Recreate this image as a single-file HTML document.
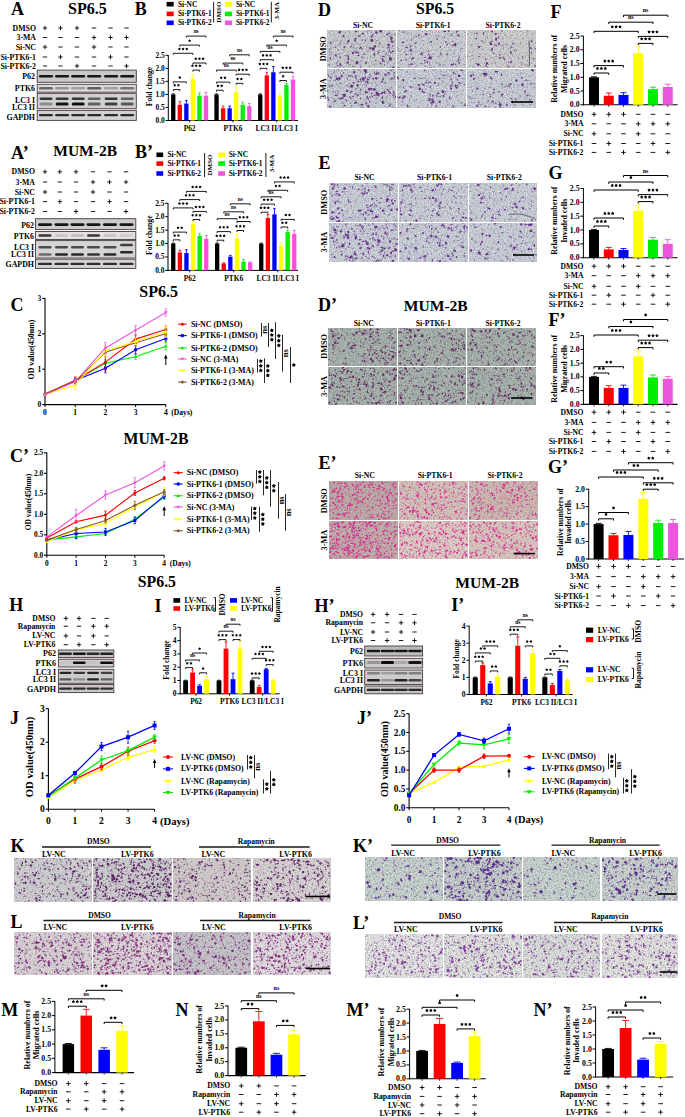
<!DOCTYPE html>
<html><head><meta charset="utf-8"><style>
html,body{margin:0;padding:0;background:#fff;}
svg{display:block;}
svg text{font-family:"Liberation Serif",serif;font-weight:bold;}
</style></head><body>
<svg width="685" height="1117" viewBox="0 0 685 1117">
<defs><path id="s1" d="M0.00 -1.55L0.56 -0.78L1.47 -0.48L0.91 0.30L0.91 1.25L0.00 0.96L-0.91 1.25L-0.91 0.30L-1.47 -0.48L-0.56 -0.78z"/><path id="s2" d="M0.00 -1.75L0.64 -0.88L1.66 -0.54L1.03 0.34L1.03 1.42L0.00 1.08L-1.03 1.42L-1.03 0.34L-1.66 -0.54L-0.64 -0.88z"/><path id="s3" d="M0.00 -2.15L0.78 -1.08L2.04 -0.66L1.27 0.41L1.26 1.74L0.00 1.33L-1.26 1.74L-1.27 0.41L-2.04 -0.66L-0.78 -1.08z"/>
<filter id="bl" x="-20%" y="-80%" width="140%" height="260%"><feGaussianBlur stdDeviation="0.5"/></filter>
<filter id="spk" x="0" y="0" width="100%" height="100%" color-interpolation-filters="sRGB"><feTurbulence type="fractalNoise" baseFrequency="0.95" numOctaves="2" seed="3"/><feColorMatrix type="matrix" values="0 0 0 0 .16  0 0 0 0 .18  0 0 0 0 .24  .75 0 0 0 -.13"/></filter>
<filter id="fs" x="0" y="0" width="100%" height="100%" color-interpolation-filters="sRGB"><feTurbulence type="fractalNoise" baseFrequency="0.45" numOctaves="2" seed="7"/><feColorMatrix type="matrix" values="0 0 0 0 0  0 0 0 0 0  0 0 0 0 0  5 0 0 0 -2.9" result="m"/><feComposite in="SourceGraphic" in2="m" operator="in"/></filter>
<filter id="cb" x="-5%" y="-5%" width="110%" height="110%"><feGaussianBlur stdDeviation="0.3"/></filter>
</defs>
<rect width="685" height="1117" fill="#fff"/>
<text x="11" y="15" font-size="18" text-anchor="start" fill="#000">A</text>
<text x="68" y="14" font-size="16" text-anchor="start" fill="#000">SP6.5</text>
<text x="36" y="30.57" font-size="7.8" text-anchor="end" fill="#000">DMSO</text>
<text x="36" y="40.07" font-size="7.8" text-anchor="end" fill="#000">3-MA</text>
<text x="36" y="49.57" font-size="7.8" text-anchor="end" fill="#000">Si-NC</text>
<text x="36" y="59.57" font-size="7.8" text-anchor="end" fill="#000">Si-PTK6-1</text>
<text x="36" y="68.57" font-size="7.8" text-anchor="end" fill="#000">Si-PTK6-2</text>
<path d="M42.8 28h4.4M45 25.8v4.4" stroke="#000" stroke-width="0.9"/>
<path d="M58.3 28h4.4M60.5 25.8v4.4" stroke="#000" stroke-width="0.9"/>
<path d="M74.8 28h4.4M77 25.8v4.4" stroke="#000" stroke-width="0.9"/>
<path d="M91.8 28h4.4" stroke="#000" stroke-width="0.9"/>
<path d="M108.3 28h4.4" stroke="#000" stroke-width="0.9"/>
<path d="M124.3 28h4.4" stroke="#000" stroke-width="0.9"/>
<path d="M42.8 37.5h4.4" stroke="#000" stroke-width="0.9"/>
<path d="M58.3 37.5h4.4" stroke="#000" stroke-width="0.9"/>
<path d="M74.8 37.5h4.4" stroke="#000" stroke-width="0.9"/>
<path d="M91.8 37.5h4.4M94 35.3v4.4" stroke="#000" stroke-width="0.9"/>
<path d="M108.3 37.5h4.4M110.5 35.3v4.4" stroke="#000" stroke-width="0.9"/>
<path d="M124.3 37.5h4.4M126.5 35.3v4.4" stroke="#000" stroke-width="0.9"/>
<path d="M42.8 47h4.4M45 44.8v4.4" stroke="#000" stroke-width="0.9"/>
<path d="M58.3 47h4.4" stroke="#000" stroke-width="0.9"/>
<path d="M74.8 47h4.4" stroke="#000" stroke-width="0.9"/>
<path d="M91.8 47h4.4M94 44.8v4.4" stroke="#000" stroke-width="0.9"/>
<path d="M108.3 47h4.4" stroke="#000" stroke-width="0.9"/>
<path d="M124.3 47h4.4" stroke="#000" stroke-width="0.9"/>
<path d="M42.8 57h4.4" stroke="#000" stroke-width="0.9"/>
<path d="M58.3 57h4.4M60.5 54.8v4.4" stroke="#000" stroke-width="0.9"/>
<path d="M74.8 57h4.4" stroke="#000" stroke-width="0.9"/>
<path d="M91.8 57h4.4" stroke="#000" stroke-width="0.9"/>
<path d="M108.3 57h4.4M110.5 54.8v4.4" stroke="#000" stroke-width="0.9"/>
<path d="M124.3 57h4.4" stroke="#000" stroke-width="0.9"/>
<path d="M42.8 66h4.4" stroke="#000" stroke-width="0.9"/>
<path d="M58.3 66h4.4" stroke="#000" stroke-width="0.9"/>
<path d="M74.8 66h4.4M77 63.8v4.4" stroke="#000" stroke-width="0.9"/>
<path d="M91.8 66h4.4" stroke="#000" stroke-width="0.9"/>
<path d="M108.3 66h4.4" stroke="#000" stroke-width="0.9"/>
<path d="M124.3 66h4.4M126.5 63.8v4.4" stroke="#000" stroke-width="0.9"/>
<rect x="37.2" y="70.1" width="99.1" height="12.2" fill="#c8c8c8" stroke="#4a3a3a" stroke-width="0.9"/>
<rect x="38.98" y="74.9" width="14.04" height="2.6" rx="1.3" fill="rgb(25,25,25)" filter="url(#bl)"/>
<rect x="55.08" y="74.9" width="14.04" height="2.6" rx="1.3" fill="rgb(25,25,25)" filter="url(#bl)"/>
<rect x="71.18" y="74.9" width="14.04" height="2.6" rx="1.3" fill="rgb(25,25,25)" filter="url(#bl)"/>
<rect x="87.18" y="74.9" width="14.04" height="2.6" rx="1.3" fill="rgb(25,25,25)" filter="url(#bl)"/>
<rect x="104.08" y="74.9" width="14.04" height="2.6" rx="1.3" fill="rgb(25,25,25)" filter="url(#bl)"/>
<rect x="120.18" y="74.9" width="14.04" height="2.6" rx="1.3" fill="rgb(25,25,25)" filter="url(#bl)"/>
<rect x="37.2" y="84.3" width="99.1" height="7.9" fill="#ddd6d6" stroke="#4a3a3a" stroke-width="0.9"/>
<rect x="38.98" y="87" width="14.04" height="2.6" rx="1.3" fill="rgb(107,107,107)" filter="url(#bl)"/>
<rect x="55.08" y="87" width="14.04" height="2.6" rx="1.3" fill="rgb(150,150,150)" filter="url(#bl)"/>
<rect x="71.18" y="87" width="14.04" height="2.6" rx="1.3" fill="rgb(161,161,161)" filter="url(#bl)"/>
<rect x="87.18" y="87" width="14.04" height="2.6" rx="1.3" fill="rgb(96,96,96)" filter="url(#bl)"/>
<rect x="104.08" y="87" width="14.04" height="2.6" rx="1.3" fill="rgb(161,161,161)" filter="url(#bl)"/>
<rect x="120.18" y="87" width="14.04" height="2.6" rx="1.3" fill="rgb(118,118,118)" filter="url(#bl)"/>
<rect x="37.2" y="93.3" width="99.1" height="15.4" fill="#d0d0d0" stroke="#4a3a3a" stroke-width="0.9"/>
<rect x="39.52" y="97.5" width="12.96" height="2.4" rx="1.2" fill="rgb(53,53,53)" filter="url(#bl)"/>
<rect x="55.62" y="97.5" width="12.96" height="2.4" rx="1.2" fill="rgb(53,53,53)" filter="url(#bl)"/>
<rect x="71.72" y="97.5" width="12.96" height="2.4" rx="1.2" fill="rgb(53,53,53)" filter="url(#bl)"/>
<rect x="87.72" y="97.5" width="12.96" height="2.4" rx="1.2" fill="rgb(96,96,96)" filter="url(#bl)"/>
<rect x="104.62" y="97.5" width="12.96" height="2.4" rx="1.2" fill="rgb(53,53,53)" filter="url(#bl)"/>
<rect x="120.72" y="97.5" width="12.96" height="2.4" rx="1.2" fill="rgb(96,96,96)" filter="url(#bl)"/>
<rect x="39.52" y="102.5" width="12.96" height="3" rx="1.5" fill="rgb(139,139,139)" filter="url(#bl)"/>
<rect x="55.62" y="102.5" width="12.96" height="3" rx="1.5" fill="rgb(25,25,25)" filter="url(#bl)"/>
<rect x="71.72" y="102.5" width="12.96" height="3" rx="1.5" fill="rgb(17,17,17)" filter="url(#bl)"/>
<rect x="87.72" y="102.5" width="12.96" height="3" rx="1.5" fill="rgb(96,96,96)" filter="url(#bl)"/>
<rect x="104.62" y="102.5" width="12.96" height="3" rx="1.5" fill="rgb(64,64,64)" filter="url(#bl)"/>
<rect x="120.72" y="102.5" width="12.96" height="3" rx="1.5" fill="rgb(86,86,86)" filter="url(#bl)"/>
<rect x="37.2" y="110.4" width="99.1" height="10" fill="#d2d2d2" stroke="#4a3a3a" stroke-width="0.9"/>
<rect x="38.98" y="113.9" width="14.04" height="2.4" rx="1.2" fill="rgb(42,42,42)" filter="url(#bl)"/>
<rect x="55.08" y="113.9" width="14.04" height="2.4" rx="1.2" fill="rgb(42,42,42)" filter="url(#bl)"/>
<rect x="71.18" y="113.9" width="14.04" height="2.4" rx="1.2" fill="rgb(42,42,42)" filter="url(#bl)"/>
<rect x="87.18" y="113.9" width="14.04" height="2.4" rx="1.2" fill="rgb(42,42,42)" filter="url(#bl)"/>
<rect x="104.08" y="113.9" width="14.04" height="2.4" rx="1.2" fill="rgb(42,42,42)" filter="url(#bl)"/>
<rect x="120.18" y="113.9" width="14.04" height="2.4" rx="1.2" fill="rgb(42,42,42)" filter="url(#bl)"/>
<text x="35" y="79.21" font-size="7.9" text-anchor="end" fill="#000">P62</text>
<text x="35" y="91.31" font-size="7.9" text-anchor="end" fill="#000">PTK6</text>
<text x="35" y="102.91" font-size="7.9" text-anchor="end" fill="#000">LC3 I</text>
<text x="35" y="110.11" font-size="7.9" text-anchor="end" fill="#000">LC3 II</text>
<text x="35" y="119.71" font-size="7.9" text-anchor="end" fill="#000">GAPDH</text>
<text x="11" y="158.6" font-size="18" text-anchor="start" fill="#000">A’</text>
<text x="53.3" y="155.6" font-size="15.5" text-anchor="start" fill="#000">MUM-2B</text>
<text x="35" y="174.37" font-size="7.8" text-anchor="end" fill="#000">DMSO</text>
<text x="35" y="184.57" font-size="7.8" text-anchor="end" fill="#000">3-MA</text>
<text x="35" y="194.57" font-size="7.8" text-anchor="end" fill="#000">Si-NC</text>
<text x="35" y="204.17" font-size="7.8" text-anchor="end" fill="#000">Si-PTK6-1</text>
<text x="35" y="214.07" font-size="7.8" text-anchor="end" fill="#000">Si-PTK6-2</text>
<path d="M42.8 171.8h4.4M45 169.6v4.4" stroke="#000" stroke-width="0.9"/>
<path d="M57.6 171.8h4.4M59.8 169.6v4.4" stroke="#000" stroke-width="0.9"/>
<path d="M73.8 171.8h4.4M76 169.6v4.4" stroke="#000" stroke-width="0.9"/>
<path d="M90.8 171.8h4.4" stroke="#000" stroke-width="0.9"/>
<path d="M107.3 171.8h4.4" stroke="#000" stroke-width="0.9"/>
<path d="M123.8 171.8h4.4" stroke="#000" stroke-width="0.9"/>
<path d="M42.8 182h4.4" stroke="#000" stroke-width="0.9"/>
<path d="M57.6 182h4.4" stroke="#000" stroke-width="0.9"/>
<path d="M73.8 182h4.4" stroke="#000" stroke-width="0.9"/>
<path d="M90.8 182h4.4M93 179.8v4.4" stroke="#000" stroke-width="0.9"/>
<path d="M107.3 182h4.4M109.5 179.8v4.4" stroke="#000" stroke-width="0.9"/>
<path d="M123.8 182h4.4M126 179.8v4.4" stroke="#000" stroke-width="0.9"/>
<path d="M42.8 192h4.4M45 189.8v4.4" stroke="#000" stroke-width="0.9"/>
<path d="M57.6 192h4.4" stroke="#000" stroke-width="0.9"/>
<path d="M73.8 192h4.4" stroke="#000" stroke-width="0.9"/>
<path d="M90.8 192h4.4M93 189.8v4.4" stroke="#000" stroke-width="0.9"/>
<path d="M107.3 192h4.4" stroke="#000" stroke-width="0.9"/>
<path d="M123.8 192h4.4" stroke="#000" stroke-width="0.9"/>
<path d="M42.8 201.6h4.4" stroke="#000" stroke-width="0.9"/>
<path d="M57.6 201.6h4.4M59.8 199.4v4.4" stroke="#000" stroke-width="0.9"/>
<path d="M73.8 201.6h4.4" stroke="#000" stroke-width="0.9"/>
<path d="M90.8 201.6h4.4" stroke="#000" stroke-width="0.9"/>
<path d="M107.3 201.6h4.4M109.5 199.4v4.4" stroke="#000" stroke-width="0.9"/>
<path d="M123.8 201.6h4.4" stroke="#000" stroke-width="0.9"/>
<path d="M42.8 211.5h4.4" stroke="#000" stroke-width="0.9"/>
<path d="M57.6 211.5h4.4" stroke="#000" stroke-width="0.9"/>
<path d="M73.8 211.5h4.4M76 209.3v4.4" stroke="#000" stroke-width="0.9"/>
<path d="M90.8 211.5h4.4" stroke="#000" stroke-width="0.9"/>
<path d="M107.3 211.5h4.4" stroke="#000" stroke-width="0.9"/>
<path d="M123.8 211.5h4.4M126 209.3v4.4" stroke="#000" stroke-width="0.9"/>
<rect x="35.5" y="218.7" width="100.3" height="10.9" fill="#cccccc" stroke="#4a3a3a" stroke-width="0.9"/>
<rect x="37.98" y="223.2" width="14.04" height="2.8" rx="1.4" fill="rgb(25,25,25)" filter="url(#bl)"/>
<rect x="54.48" y="223.2" width="14.04" height="2.8" rx="1.4" fill="rgb(25,25,25)" filter="url(#bl)"/>
<rect x="70.48" y="223.2" width="14.04" height="2.8" rx="1.4" fill="rgb(25,25,25)" filter="url(#bl)"/>
<rect x="86.48" y="223.2" width="14.04" height="2.8" rx="1.4" fill="rgb(25,25,25)" filter="url(#bl)"/>
<rect x="102.98" y="223.2" width="14.04" height="2.8" rx="1.4" fill="rgb(25,25,25)" filter="url(#bl)"/>
<rect x="119.48" y="223.2" width="14.04" height="2.8" rx="1.4" fill="rgb(25,25,25)" filter="url(#bl)"/>
<rect x="35.5" y="231.5" width="100.3" height="8" fill="#e2e0e0" stroke="#4a3a3a" stroke-width="0.9"/>
<rect x="38.52" y="234.3" width="12.96" height="2.4" rx="1.2" fill="rgb(53,53,53)" filter="url(#bl)"/>
<rect x="55.02" y="234.3" width="12.96" height="2.4" rx="1.2" fill="rgb(197,197,197)" filter="url(#bl)"/>
<rect x="71.02" y="234.3" width="12.96" height="2.4" rx="1.2" fill="rgb(189,189,189)" filter="url(#bl)"/>
<rect x="87.02" y="234.3" width="12.96" height="2.4" rx="1.2" fill="rgb(53,53,53)" filter="url(#bl)"/>
<rect x="103.52" y="234.3" width="12.96" height="2.4" rx="1.2" fill="rgb(197,197,197)" filter="url(#bl)"/>
<rect x="120.02" y="234.3" width="12.96" height="2.4" rx="1.2" fill="rgb(204,204,204)" filter="url(#bl)"/>
<rect x="35.5" y="240.6" width="100.3" height="17.4" fill="#d4d4d4" stroke="#4a3a3a" stroke-width="0.9"/>
<rect x="38.52" y="246" width="12.96" height="2.4" rx="1.2" fill="rgb(75,75,75)" filter="url(#bl)"/>
<rect x="55.02" y="246" width="12.96" height="2.4" rx="1.2" fill="rgb(75,75,75)" filter="url(#bl)"/>
<rect x="71.02" y="246" width="12.96" height="2.4" rx="1.2" fill="rgb(75,75,75)" filter="url(#bl)"/>
<rect x="87.02" y="246" width="12.96" height="2.4" rx="1.2" fill="rgb(75,75,75)" filter="url(#bl)"/>
<rect x="103.52" y="246" width="12.96" height="2.4" rx="1.2" fill="rgb(75,75,75)" filter="url(#bl)"/>
<rect x="120.02" y="243.8" width="12.96" height="2.4" rx="1.2" fill="rgb(64,64,64)" filter="url(#bl)"/>
<rect x="38.52" y="253.2" width="12.96" height="2.6" rx="1.3" fill="rgb(107,107,107)" filter="url(#bl)"/>
<rect x="55.02" y="253.2" width="12.96" height="2.6" rx="1.3" fill="rgb(42,42,42)" filter="url(#bl)"/>
<rect x="71.02" y="253.2" width="12.96" height="2.6" rx="1.3" fill="rgb(42,42,42)" filter="url(#bl)"/>
<rect x="87.02" y="253.2" width="12.96" height="2.6" rx="1.3" fill="rgb(53,53,53)" filter="url(#bl)"/>
<rect x="103.52" y="253.2" width="12.96" height="2.6" rx="1.3" fill="rgb(42,42,42)" filter="url(#bl)"/>
<rect x="120.02" y="251" width="12.96" height="2.6" rx="1.3" fill="rgb(42,42,42)" filter="url(#bl)"/>
<rect x="35.5" y="259.2" width="100.3" height="9.2" fill="#d4d4d4" stroke="#4a3a3a" stroke-width="0.9"/>
<rect x="37.98" y="262.7" width="14.04" height="2.4" rx="1.2" fill="rgb(47,47,47)" filter="url(#bl)"/>
<rect x="54.48" y="262.7" width="14.04" height="2.4" rx="1.2" fill="rgb(47,47,47)" filter="url(#bl)"/>
<rect x="70.48" y="262.7" width="14.04" height="2.4" rx="1.2" fill="rgb(47,47,47)" filter="url(#bl)"/>
<rect x="86.48" y="262.7" width="14.04" height="2.4" rx="1.2" fill="rgb(47,47,47)" filter="url(#bl)"/>
<rect x="102.98" y="262.7" width="14.04" height="2.4" rx="1.2" fill="rgb(47,47,47)" filter="url(#bl)"/>
<rect x="119.48" y="262.7" width="14.04" height="2.4" rx="1.2" fill="rgb(47,47,47)" filter="url(#bl)"/>
<text x="34" y="228.31" font-size="7.9" text-anchor="end" fill="#000">P62</text>
<text x="34" y="238.81" font-size="7.9" text-anchor="end" fill="#000">PTK6</text>
<text x="34" y="250.21" font-size="7.9" text-anchor="end" fill="#000">LC3 I</text>
<text x="34" y="257.41" font-size="7.9" text-anchor="end" fill="#000">LC3 II</text>
<text x="34" y="266.81" font-size="7.9" text-anchor="end" fill="#000">GAPDH</text>
<text x="134.7" y="15" font-size="18" text-anchor="start" fill="#000">B</text>
<rect x="166.6" y="1.9" width="7.1" height="4.6" fill="#000000"/>
<text x="178" y="6.64" font-size="7.4" text-anchor="start" fill="#000">Si-NC</text>
<rect x="224.9" y="1.9" width="7.2" height="4.6" fill="#ffff00"/>
<text x="235.9" y="6.64" font-size="7.4" text-anchor="start" fill="#000">Si-NC</text>
<rect x="166.6" y="11.6" width="7.1" height="4.6" fill="#ff0000"/>
<text x="178" y="16.34" font-size="7.4" text-anchor="start" fill="#000">Si-PTK6-1</text>
<rect x="224.9" y="11.6" width="7.2" height="4.6" fill="#00ee00"/>
<text x="235.9" y="16.34" font-size="7.4" text-anchor="start" fill="#000">Si-PTK6-1</text>
<rect x="166.6" y="20.5" width="7.1" height="4.6" fill="#0000ff"/>
<text x="178" y="25.24" font-size="7.4" text-anchor="start" fill="#000">Si-PTK6-2</text>
<rect x="224.9" y="20.5" width="7.2" height="4.6" fill="#ee55dd"/>
<text x="235.9" y="25.24" font-size="7.4" text-anchor="start" fill="#000">Si-PTK6-2</text>
<path d="M213.6 1.9L213.6 22.4" stroke="#000" stroke-width="0.9"/>
<path d="M271.3 1.9L271.3 22.4" stroke="#000" stroke-width="0.9"/>
<text x="218.7" y="14.46" font-size="7" text-anchor="middle" fill="#000" transform="rotate(-90 218.7 12.15)">DMSO</text>
<text x="276.4" y="12.96" font-size="7" text-anchor="middle" fill="#000" transform="rotate(-90 276.4 10.65)">3-MA</text>
<path d="M168.3 121L168.3 55" stroke="#000" stroke-width="1"/>
<path d="M165.5 120.5L168.3 120.5" stroke="#000" stroke-width="1"/>
<text x="164.7" y="122.94" font-size="7.4" text-anchor="end" fill="#000">0.0</text>
<path d="M165.5 107.46L168.3 107.46" stroke="#000" stroke-width="1"/>
<text x="164.7" y="109.9" font-size="7.4" text-anchor="end" fill="#000">0.5</text>
<path d="M165.5 94.42L168.3 94.42" stroke="#000" stroke-width="1"/>
<text x="164.7" y="96.86" font-size="7.4" text-anchor="end" fill="#000">1.0</text>
<path d="M165.5 81.38L168.3 81.38" stroke="#000" stroke-width="1"/>
<text x="164.7" y="83.82" font-size="7.4" text-anchor="end" fill="#000">1.5</text>
<path d="M165.5 68.34L168.3 68.34" stroke="#000" stroke-width="1"/>
<text x="164.7" y="70.78" font-size="7.4" text-anchor="end" fill="#000">2.0</text>
<path d="M165.5 55.3L168.3 55.3" stroke="#000" stroke-width="1"/>
<text x="164.7" y="57.74" font-size="7.4" text-anchor="end" fill="#000">2.5</text>
<path d="M167.8 120.5L298 120.5" stroke="#000" stroke-width="1"/>
<rect x="171.1" y="94.42" width="4.3" height="26.08" fill="#000000"/>
<path d="M173.25 94.42V93.9M171.96 93.9h2.58" stroke="#000000" stroke-width="0.9"/>
<rect x="177.65" y="104.85" width="4.3" height="15.65" fill="#ff0000"/>
<path d="M179.8 104.85V101.72M178.51 101.72h2.58" stroke="#ff0000" stroke-width="0.9"/>
<rect x="184.2" y="103.55" width="4.3" height="16.95" fill="#0000ff"/>
<path d="M186.35 103.55V100.42M185.06 100.42h2.58" stroke="#0000ff" stroke-width="0.9"/>
<rect x="190.75" y="78.77" width="4.3" height="41.73" fill="#ffff00"/>
<path d="M192.9 78.77V74.86M191.61 74.86h2.58" stroke="#ffff00" stroke-width="0.9"/>
<rect x="197.3" y="95.72" width="4.3" height="24.78" fill="#00ee00"/>
<path d="M199.45 95.72V93.12M198.16 93.12h2.58" stroke="#00ee00" stroke-width="0.9"/>
<rect x="203.85" y="95.72" width="4.3" height="24.78" fill="#ee55dd"/>
<path d="M206 95.72V92.59M204.71 92.59h2.58" stroke="#ee55dd" stroke-width="0.9"/>
<path d="M189.62 120.5L189.62 122.5" stroke="#000" stroke-width="0.8"/>
<text x="189.62" y="131.04" font-size="7.4" text-anchor="middle" fill="#000">P62</text>
<path d="M173.25 91.1V89.6H179.8 V91.1" stroke="#000" stroke-width="0.9" fill="none"/>
<use href="#s1" x="174.68" y="85.3"/>
<use href="#s1" x="178.38" y="85.3"/>
<path d="M173.25 83.4V81.9H186.35 V83.4" stroke="#000" stroke-width="0.9" fill="none"/>
<use href="#s1" x="179.8" y="77.6"/>
<path d="M173.25 54.8V53.3H192.9 V54.8" stroke="#000" stroke-width="0.9" fill="none"/>
<use href="#s1" x="179.38" y="49"/>
<use href="#s1" x="183.07" y="49"/>
<use href="#s1" x="186.77" y="49"/>
<path d="M179.8 46.6V45.1H199.45 V46.6" stroke="#000" stroke-width="0.9" fill="none"/>
<use href="#s1" x="189.62" y="40.8"/>
<path d="M186.35 37.6V36.1H206 V37.6" stroke="#000" stroke-width="0.9" fill="none"/>
<text x="196.18" y="33.3" font-size="5.4" text-anchor="middle" fill="#000" font-weight="normal">ns</text>
<path d="M192.9 71.6V70.1H199.45 V71.6" stroke="#000" stroke-width="0.9" fill="none"/>
<use href="#s1" x="192.48" y="65.8"/>
<use href="#s1" x="196.18" y="65.8"/>
<use href="#s1" x="199.88" y="65.8"/>
<path d="M192.9 64.5V63H206 V64.5" stroke="#000" stroke-width="0.9" fill="none"/>
<use href="#s1" x="195.75" y="58.7"/>
<use href="#s1" x="199.45" y="58.7"/>
<use href="#s1" x="203.15" y="58.7"/>
<rect x="214.4" y="94.42" width="4.3" height="26.08" fill="#000000"/>
<path d="M216.55 94.42V93.9M215.26 93.9h2.58" stroke="#000000" stroke-width="0.9"/>
<rect x="220.95" y="108.24" width="4.3" height="12.26" fill="#ff0000"/>
<path d="M223.1 108.24V106.16M221.81 106.16h2.58" stroke="#ff0000" stroke-width="0.9"/>
<rect x="227.5" y="108.24" width="4.3" height="12.26" fill="#0000ff"/>
<path d="M229.65 108.24V106.16M228.36 106.16h2.58" stroke="#0000ff" stroke-width="0.9"/>
<rect x="234.05" y="91.81" width="4.3" height="28.69" fill="#ffff00"/>
<path d="M236.2 91.81V86.07M234.91 86.07h2.58" stroke="#ffff00" stroke-width="0.9"/>
<rect x="240.6" y="104.85" width="4.3" height="15.65" fill="#00ee00"/>
<path d="M242.75 104.85V102.24M241.46 102.24h2.58" stroke="#00ee00" stroke-width="0.9"/>
<rect x="247.15" y="106.16" width="4.3" height="14.34" fill="#ee55dd"/>
<path d="M249.3 106.16V103.55M248.01 103.55h2.58" stroke="#ee55dd" stroke-width="0.9"/>
<path d="M232.93 120.5L232.93 122.5" stroke="#000" stroke-width="0.8"/>
<text x="232.93" y="131.04" font-size="7.4" text-anchor="middle" fill="#000">PTK6</text>
<path d="M216.55 91.7V90.2H223.1 V91.7" stroke="#000" stroke-width="0.9" fill="none"/>
<use href="#s1" x="217.98" y="85.9"/>
<use href="#s1" x="221.68" y="85.9"/>
<path d="M216.55 83.6V82.1H229.65 V83.6" stroke="#000" stroke-width="0.9" fill="none"/>
<use href="#s1" x="221.25" y="77.8"/>
<use href="#s1" x="224.95" y="77.8"/>
<path d="M216.55 71.6V70.1H236.2 V71.6" stroke="#000" stroke-width="0.9" fill="none"/>
<text x="226.38" y="67.3" font-size="5.4" text-anchor="middle" fill="#000" font-weight="normal">ns</text>
<path d="M223.1 64.6V63.1H242.75 V64.6" stroke="#000" stroke-width="0.9" fill="none"/>
<text x="232.93" y="60.3" font-size="5.4" text-anchor="middle" fill="#000" font-weight="normal">ns</text>
<path d="M229.65 56.3V54.8H249.3 V56.3" stroke="#000" stroke-width="0.9" fill="none"/>
<text x="239.48" y="52" font-size="5.4" text-anchor="middle" fill="#000" font-weight="normal">ns</text>
<path d="M236.2 84.8V83.3H242.75 V84.8" stroke="#000" stroke-width="0.9" fill="none"/>
<use href="#s1" x="237.63" y="79"/>
<use href="#s1" x="241.33" y="79"/>
<path d="M236.2 75.7V74.2H249.3 V75.7" stroke="#000" stroke-width="0.9" fill="none"/>
<use href="#s1" x="239.05" y="69.9"/>
<use href="#s1" x="242.75" y="69.9"/>
<use href="#s1" x="246.45" y="69.9"/>
<rect x="258.1" y="94.42" width="4.3" height="26.08" fill="#000000"/>
<path d="M260.25 94.42V93.9M258.96 93.9h2.58" stroke="#000000" stroke-width="0.9"/>
<rect x="264.65" y="75.38" width="4.3" height="45.12" fill="#ff0000"/>
<path d="M266.8 75.38V72.25M265.51 72.25h2.58" stroke="#ff0000" stroke-width="0.9"/>
<rect x="271.2" y="72.25" width="4.3" height="48.25" fill="#0000ff"/>
<path d="M273.35 72.25V66.51M272.06 66.51h2.58" stroke="#0000ff" stroke-width="0.9"/>
<rect x="277.75" y="96.25" width="4.3" height="24.25" fill="#ffff00"/>
<path d="M279.9 96.25V93.64M278.61 93.64h2.58" stroke="#ffff00" stroke-width="0.9"/>
<rect x="284.3" y="85.03" width="4.3" height="35.47" fill="#00ee00"/>
<path d="M286.45 85.03V83.47M285.16 83.47h2.58" stroke="#00ee00" stroke-width="0.9"/>
<rect x="290.85" y="79.55" width="4.3" height="40.95" fill="#ee55dd"/>
<path d="M293 79.55V76.16M291.71 76.16h2.58" stroke="#ee55dd" stroke-width="0.9"/>
<path d="M276.62 120.5L276.62 122.5" stroke="#000" stroke-width="0.8"/>
<text x="276.62" y="131.04" font-size="7.4" text-anchor="middle" fill="#000">LC3 II/LC3 I</text>
<path d="M260.25 69.8V68.3H266.8 V69.8" stroke="#000" stroke-width="0.9" fill="none"/>
<use href="#s1" x="259.82" y="64"/>
<use href="#s1" x="263.52" y="64"/>
<use href="#s1" x="267.22" y="64"/>
<path d="M260.25 61.2V59.7H273.35 V61.2" stroke="#000" stroke-width="0.9" fill="none"/>
<use href="#s1" x="263.1" y="55.4"/>
<use href="#s1" x="266.8" y="55.4"/>
<use href="#s1" x="270.5" y="55.4"/>
<path d="M260.25 52.9V51.4H279.9 V52.9" stroke="#000" stroke-width="0.9" fill="none"/>
<text x="270.07" y="48.6" font-size="5.4" text-anchor="middle" fill="#000" font-weight="normal">ns</text>
<path d="M266.8 46.6V45.1H286.45 V46.6" stroke="#000" stroke-width="0.9" fill="none"/>
<use href="#s1" x="276.62" y="40.8"/>
<path d="M273.35 37.6V36.1H293 V37.6" stroke="#000" stroke-width="0.9" fill="none"/>
<text x="283.18" y="33.3" font-size="5.4" text-anchor="middle" fill="#000" font-weight="normal">ns</text>
<path d="M279.9 82V80.5H286.45 V82" stroke="#000" stroke-width="0.9" fill="none"/>
<use href="#s1" x="283.17" y="76.2"/>
<path d="M279.9 73.7V72.2H293 V73.7" stroke="#000" stroke-width="0.9" fill="none"/>
<use href="#s1" x="282.75" y="67.9"/>
<use href="#s1" x="286.45" y="67.9"/>
<use href="#s1" x="290.15" y="67.9"/>
<text x="149.6" y="89.01" font-size="7.6" text-anchor="middle" fill="#000" transform="rotate(-90 149.6 86.5)">Fold change</text>
<text x="135" y="158.4" font-size="18" text-anchor="start" fill="#000">B’</text>
<rect x="156.4" y="152.5" width="6.8" height="4.6" fill="#000000"/>
<text x="167.4" y="157.24" font-size="7.4" text-anchor="start" fill="#000">Si-NC</text>
<rect x="218.2" y="152.5" width="6.8" height="4.6" fill="#ffff00"/>
<text x="228.7" y="157.24" font-size="7.4" text-anchor="start" fill="#000">Si-NC</text>
<rect x="156.4" y="161.3" width="6.8" height="4.6" fill="#ff0000"/>
<text x="167.4" y="166.04" font-size="7.4" text-anchor="start" fill="#000">Si-PTK6-1</text>
<rect x="218.2" y="161.3" width="6.8" height="4.6" fill="#00ee00"/>
<text x="228.7" y="166.04" font-size="7.4" text-anchor="start" fill="#000">Si-PTK6-1</text>
<rect x="156.4" y="171.2" width="6.8" height="4.6" fill="#0000ff"/>
<text x="167.4" y="175.94" font-size="7.4" text-anchor="start" fill="#000">Si-PTK6-2</text>
<rect x="218.2" y="171.2" width="6.8" height="4.6" fill="#ee55dd"/>
<text x="228.7" y="175.94" font-size="7.4" text-anchor="start" fill="#000">Si-PTK6-2</text>
<path d="M204.6 153L204.6 177" stroke="#000" stroke-width="0.9"/>
<path d="M265.9 153L265.9 177" stroke="#000" stroke-width="0.9"/>
<text x="209.6" y="167.31" font-size="7" text-anchor="middle" fill="#000" transform="rotate(-90 209.6 165)">DMSO</text>
<text x="271.4" y="165.81" font-size="7" text-anchor="middle" fill="#000" transform="rotate(-90 271.4 163.5)">3-MA</text>
<path d="M168 270.9L168 203" stroke="#000" stroke-width="1"/>
<path d="M165.2 270.4L168 270.4" stroke="#000" stroke-width="1"/>
<text x="164.4" y="272.84" font-size="7.4" text-anchor="end" fill="#000">0.0</text>
<path d="M165.2 256.98L168 256.98" stroke="#000" stroke-width="1"/>
<text x="164.4" y="259.42" font-size="7.4" text-anchor="end" fill="#000">0.5</text>
<path d="M165.2 243.56L168 243.56" stroke="#000" stroke-width="1"/>
<text x="164.4" y="246" font-size="7.4" text-anchor="end" fill="#000">1.0</text>
<path d="M165.2 230.14L168 230.14" stroke="#000" stroke-width="1"/>
<text x="164.4" y="232.58" font-size="7.4" text-anchor="end" fill="#000">1.5</text>
<path d="M165.2 216.72L168 216.72" stroke="#000" stroke-width="1"/>
<text x="164.4" y="219.16" font-size="7.4" text-anchor="end" fill="#000">2.0</text>
<path d="M165.2 203.3L168 203.3" stroke="#000" stroke-width="1"/>
<text x="164.4" y="205.74" font-size="7.4" text-anchor="end" fill="#000">2.5</text>
<path d="M167.5 270.4L298 270.4" stroke="#000" stroke-width="1"/>
<rect x="171.1" y="243.56" width="4.3" height="26.84" fill="#000000"/>
<path d="M173.25 243.56V243.02M171.96 243.02h2.58" stroke="#000000" stroke-width="0.9"/>
<rect x="177.7" y="252.42" width="4.3" height="17.98" fill="#ff0000"/>
<path d="M179.85 252.42V250.27M178.56 250.27h2.58" stroke="#ff0000" stroke-width="0.9"/>
<rect x="184.3" y="252.95" width="4.3" height="17.45" fill="#0000ff"/>
<path d="M186.45 252.95V249.73M185.16 249.73h2.58" stroke="#0000ff" stroke-width="0.9"/>
<rect x="190.9" y="223.97" width="4.3" height="46.43" fill="#ffff00"/>
<path d="M193.05 223.97V221.28M191.76 221.28h2.58" stroke="#ffff00" stroke-width="0.9"/>
<rect x="197.5" y="236.04" width="4.3" height="34.36" fill="#00ee00"/>
<path d="M199.65 236.04V233.63M198.36 233.63h2.58" stroke="#00ee00" stroke-width="0.9"/>
<rect x="204.1" y="238.73" width="4.3" height="31.67" fill="#ee55dd"/>
<path d="M206.25 238.73V235.51M204.96 235.51h2.58" stroke="#ee55dd" stroke-width="0.9"/>
<path d="M189.75 270.4L189.75 272.4" stroke="#000" stroke-width="0.8"/>
<text x="189.75" y="280.84" font-size="7.4" text-anchor="middle" fill="#000">P62</text>
<path d="M173.25 241.3V239.8H179.85 V241.3" stroke="#000" stroke-width="0.9" fill="none"/>
<use href="#s1" x="174.7" y="235.5"/>
<use href="#s1" x="178.4" y="235.5"/>
<path d="M173.25 233.6V232.1H186.45 V233.6" stroke="#000" stroke-width="0.9" fill="none"/>
<use href="#s1" x="178" y="227.8"/>
<use href="#s1" x="181.7" y="227.8"/>
<path d="M173.25 209.4V207.9H193.05 V209.4" stroke="#000" stroke-width="0.9" fill="none"/>
<use href="#s1" x="179.45" y="203.6"/>
<use href="#s1" x="183.15" y="203.6"/>
<use href="#s1" x="186.85" y="203.6"/>
<path d="M179.85 201.1V199.6H199.65 V201.1" stroke="#000" stroke-width="0.9" fill="none"/>
<use href="#s1" x="186.05" y="195.3"/>
<use href="#s1" x="189.75" y="195.3"/>
<use href="#s1" x="193.45" y="195.3"/>
<path d="M186.45 192.9V191.4H206.25 V192.9" stroke="#000" stroke-width="0.9" fill="none"/>
<use href="#s1" x="192.65" y="187.1"/>
<use href="#s1" x="196.35" y="187.1"/>
<use href="#s1" x="200.05" y="187.1"/>
<path d="M193.05 221V219.5H199.65 V221" stroke="#000" stroke-width="0.9" fill="none"/>
<use href="#s1" x="192.65" y="215.2"/>
<use href="#s1" x="196.35" y="215.2"/>
<use href="#s1" x="200.05" y="215.2"/>
<path d="M193.05 212.9V211.4H206.25 V212.9" stroke="#000" stroke-width="0.9" fill="none"/>
<use href="#s1" x="195.95" y="207.1"/>
<use href="#s1" x="199.65" y="207.1"/>
<use href="#s1" x="203.35" y="207.1"/>
<rect x="215" y="243.56" width="4.3" height="26.84" fill="#000000"/>
<path d="M217.15 243.56V243.02M215.86 243.02h2.58" stroke="#000000" stroke-width="0.9"/>
<rect x="221.6" y="263.42" width="4.3" height="6.98" fill="#ff0000"/>
<path d="M223.75 263.42V262.88M222.46 262.88h2.58" stroke="#ff0000" stroke-width="0.9"/>
<rect x="228.2" y="256.71" width="4.3" height="13.69" fill="#0000ff"/>
<path d="M230.35 256.71V255.37M229.06 255.37h2.58" stroke="#0000ff" stroke-width="0.9"/>
<rect x="234.8" y="238.19" width="4.3" height="32.21" fill="#ffff00"/>
<path d="M236.95 238.19V233.9M235.66 233.9h2.58" stroke="#ffff00" stroke-width="0.9"/>
<rect x="241.4" y="261.81" width="4.3" height="8.59" fill="#00ee00"/>
<path d="M243.55 261.81V259.66M242.26 259.66h2.58" stroke="#00ee00" stroke-width="0.9"/>
<rect x="248" y="262.35" width="4.3" height="8.05" fill="#ee55dd"/>
<path d="M250.15 262.35V261.81M248.86 261.81h2.58" stroke="#ee55dd" stroke-width="0.9"/>
<path d="M233.65 270.4L233.65 272.4" stroke="#000" stroke-width="0.8"/>
<text x="233.65" y="280.84" font-size="7.4" text-anchor="middle" fill="#000">PTK6</text>
<path d="M217.15 241.7V240.2H223.75 V241.7" stroke="#000" stroke-width="0.9" fill="none"/>
<use href="#s1" x="216.75" y="235.9"/>
<use href="#s1" x="220.45" y="235.9"/>
<use href="#s1" x="224.15" y="235.9"/>
<path d="M217.15 233.1V231.6H230.35 V233.1" stroke="#000" stroke-width="0.9" fill="none"/>
<use href="#s1" x="220.05" y="227.3"/>
<use href="#s1" x="223.75" y="227.3"/>
<use href="#s1" x="227.45" y="227.3"/>
<path d="M217.15 220.2V218.7H236.95 V220.2" stroke="#000" stroke-width="0.9" fill="none"/>
<text x="227.05" y="215.9" font-size="5.4" text-anchor="middle" fill="#000" font-weight="normal">ns</text>
<path d="M223.75 213.3V211.8H243.55 V213.3" stroke="#000" stroke-width="0.9" fill="none"/>
<text x="233.65" y="209" font-size="5.4" text-anchor="middle" fill="#000" font-weight="normal">ns</text>
<path d="M230.35 205.3V203.8H250.15 V205.3" stroke="#000" stroke-width="0.9" fill="none"/>
<text x="240.25" y="201" font-size="5.4" text-anchor="middle" fill="#000" font-weight="normal">ns</text>
<path d="M236.95 232V230.5H243.55 V232" stroke="#000" stroke-width="0.9" fill="none"/>
<use href="#s1" x="236.55" y="226.2"/>
<use href="#s1" x="240.25" y="226.2"/>
<use href="#s1" x="243.95" y="226.2"/>
<path d="M236.95 223V221.5H250.15 V223" stroke="#000" stroke-width="0.9" fill="none"/>
<use href="#s1" x="239.85" y="217.2"/>
<use href="#s1" x="243.55" y="217.2"/>
<use href="#s1" x="247.25" y="217.2"/>
<rect x="259.1" y="243.56" width="4.3" height="26.84" fill="#000000"/>
<path d="M261.25 243.56V243.02M259.96 243.02h2.58" stroke="#000000" stroke-width="0.9"/>
<rect x="265.7" y="218.06" width="4.3" height="52.34" fill="#ff0000"/>
<path d="M267.85 218.06V214.57M266.56 214.57h2.58" stroke="#ff0000" stroke-width="0.9"/>
<rect x="272.3" y="214.3" width="4.3" height="56.1" fill="#0000ff"/>
<path d="M274.45 214.3V208.67M273.16 208.67h2.58" stroke="#0000ff" stroke-width="0.9"/>
<rect x="278.9" y="246.24" width="4.3" height="24.16" fill="#ffff00"/>
<path d="M281.05 246.24V243.02M279.76 243.02h2.58" stroke="#ffff00" stroke-width="0.9"/>
<rect x="285.5" y="232.02" width="4.3" height="38.38" fill="#00ee00"/>
<path d="M287.65 232.02V230.14M286.36 230.14h2.58" stroke="#00ee00" stroke-width="0.9"/>
<rect x="292.1" y="233.9" width="4.3" height="36.5" fill="#ee55dd"/>
<path d="M294.25 233.9V230.41M292.96 230.41h2.58" stroke="#ee55dd" stroke-width="0.9"/>
<path d="M277.75 270.4L277.75 272.4" stroke="#000" stroke-width="0.8"/>
<text x="277.75" y="280.84" font-size="7.4" text-anchor="middle" fill="#000">LC3 II/LC3 I</text>
<path d="M261.25 213.7V212.2H267.85 V213.7" stroke="#000" stroke-width="0.9" fill="none"/>
<use href="#s1" x="260.85" y="207.9"/>
<use href="#s1" x="264.55" y="207.9"/>
<use href="#s1" x="268.25" y="207.9"/>
<path d="M261.25 205.6V204.1H274.45 V205.6" stroke="#000" stroke-width="0.9" fill="none"/>
<use href="#s1" x="264.15" y="199.8"/>
<use href="#s1" x="267.85" y="199.8"/>
<use href="#s1" x="271.55" y="199.8"/>
<path d="M261.25 198.3V196.8H281.05 V198.3" stroke="#000" stroke-width="0.9" fill="none"/>
<text x="271.15" y="194" font-size="5.4" text-anchor="middle" fill="#000" font-weight="normal">ns</text>
<path d="M267.85 191.8V190.3H287.65 V191.8" stroke="#000" stroke-width="0.9" fill="none"/>
<use href="#s1" x="275.9" y="186"/>
<use href="#s1" x="279.6" y="186"/>
<path d="M274.45 183.4V181.9H294.25 V183.4" stroke="#000" stroke-width="0.9" fill="none"/>
<use href="#s1" x="280.65" y="177.6"/>
<use href="#s1" x="284.35" y="177.6"/>
<use href="#s1" x="288.05" y="177.6"/>
<path d="M281.05 228.5V227H287.65 V228.5" stroke="#000" stroke-width="0.9" fill="none"/>
<use href="#s1" x="282.5" y="222.7"/>
<use href="#s1" x="286.2" y="222.7"/>
<path d="M281.05 220.9V219.4H294.25 V220.9" stroke="#000" stroke-width="0.9" fill="none"/>
<use href="#s1" x="285.8" y="215.1"/>
<use href="#s1" x="289.5" y="215.1"/>
<text x="149.3" y="237.71" font-size="7.6" text-anchor="middle" fill="#000" transform="rotate(-90 149.3 235.2)">Fold change</text>
<text x="10.5" y="311" font-size="18" text-anchor="start" fill="#000">C</text>
<text x="139.3" y="297" font-size="16" text-anchor="start" fill="#000">SP6.5</text>
<path d="M45 405.1L45 298.1" stroke="#000" stroke-width="1.1"/>
<path d="M42.2 404.6L45 404.6" stroke="#000" stroke-width="1.1"/>
<text x="41.4" y="407.11" font-size="7.6" text-anchor="end" fill="#000">0</text>
<path d="M42.2 369.2L45 369.2" stroke="#000" stroke-width="1.1"/>
<text x="41.4" y="371.71" font-size="7.6" text-anchor="end" fill="#000">1</text>
<path d="M42.2 333.8L45 333.8" stroke="#000" stroke-width="1.1"/>
<text x="41.4" y="336.31" font-size="7.6" text-anchor="end" fill="#000">2</text>
<path d="M42.2 298.4L45 298.4" stroke="#000" stroke-width="1.1"/>
<text x="41.4" y="300.91" font-size="7.6" text-anchor="end" fill="#000">3</text>
<path d="M44.5 404.6L165.8 404.6" stroke="#000" stroke-width="1.1"/>
<path d="M45 404.6L45 407.1" stroke="#000" stroke-width="1"/>
<text x="45" y="415.31" font-size="7.6" text-anchor="middle" fill="#000">0</text>
<path d="M75.2 404.6L75.2 407.1" stroke="#000" stroke-width="1"/>
<text x="75.2" y="415.31" font-size="7.6" text-anchor="middle" fill="#000">1</text>
<path d="M105.4 404.6L105.4 407.1" stroke="#000" stroke-width="1"/>
<text x="105.4" y="415.31" font-size="7.6" text-anchor="middle" fill="#000">2</text>
<path d="M135.6 404.6L135.6 407.1" stroke="#000" stroke-width="1"/>
<text x="135.6" y="415.31" font-size="7.6" text-anchor="middle" fill="#000">3</text>
<path d="M165.8 404.6L165.8 407.1" stroke="#000" stroke-width="1"/>
<text x="165.8" y="415.31" font-size="7.6" text-anchor="middle" fill="#000">4</text>
<text x="171.3" y="415.31" font-size="7.6" text-anchor="start" fill="#000">(Days)</text>
<text x="31.2" y="352.11" font-size="7.9" text-anchor="middle" fill="#000" transform="rotate(-90 31.2 349.5)">OD value(450nm)</text>
<path d="M45 393.98L75.2 380.53L105.4 363.18L135.6 356.81L165.8 346.19" stroke="#00ee00" stroke-width="1.1" fill="none"/>
<path d="M45 392.18l1.8 3h-3.6z" fill="#00ee00"/>
<path d="M75.2 378.76V382.3M74 378.76h2.4M74 382.3h2.4" stroke="#00ee00" stroke-width="0.8"/>
<path d="M75.2 378.73l1.8 3h-3.6z" fill="#00ee00"/>
<path d="M105.4 359.64V366.72M104.2 359.64h2.4M104.2 366.72h2.4" stroke="#00ee00" stroke-width="0.8"/>
<path d="M105.4 361.38l1.8 3h-3.6z" fill="#00ee00"/>
<path d="M135.6 353.98V359.64M134.4 353.98h2.4M134.4 359.64h2.4" stroke="#00ee00" stroke-width="0.8"/>
<path d="M135.6 355.01l1.8 3h-3.6z" fill="#00ee00"/>
<path d="M165.8 342.65V349.73M164.6 342.65h2.4M164.6 349.73h2.4" stroke="#00ee00" stroke-width="0.8"/>
<path d="M165.8 344.39l1.8 3h-3.6z" fill="#00ee00"/>
<path d="M45 394.69L75.2 380.53L105.4 368.14L135.6 349.73L165.8 338.4" stroke="#0000ff" stroke-width="1.1" fill="none"/>
<rect x="43.5" y="393.19" width="3" height="3" fill="#0000ff"/>
<path d="M75.2 378.4V382.65M74 378.4h2.4M74 382.65h2.4" stroke="#0000ff" stroke-width="0.8"/>
<rect x="73.7" y="379.03" width="3" height="3" fill="#0000ff"/>
<path d="M105.4 363.54V372.74M104.2 363.54h2.4M104.2 372.74h2.4" stroke="#0000ff" stroke-width="0.8"/>
<rect x="103.9" y="366.64" width="3" height="3" fill="#0000ff"/>
<path d="M135.6 345.48V353.98M134.4 345.48h2.4M134.4 353.98h2.4" stroke="#0000ff" stroke-width="0.8"/>
<rect x="134.1" y="348.23" width="3" height="3" fill="#0000ff"/>
<path d="M165.8 335.57V341.23M164.6 335.57h2.4M164.6 341.23h2.4" stroke="#0000ff" stroke-width="0.8"/>
<rect x="164.3" y="336.9" width="3" height="3" fill="#0000ff"/>
<path d="M45 393.98L75.2 380.53L105.4 362.12L135.6 339.11L165.8 329.55" stroke="#ff0000" stroke-width="1.1" fill="none"/>
<circle cx="45" cy="393.98" r="1.5" fill="#ff0000"/>
<path d="M75.2 376.99V384.07M74 376.99h2.4M74 384.07h2.4" stroke="#ff0000" stroke-width="0.8"/>
<circle cx="75.2" cy="380.53" r="1.5" fill="#ff0000"/>
<path d="M105.4 353.27V370.97M104.2 353.27h2.4M104.2 370.97h2.4" stroke="#ff0000" stroke-width="0.8"/>
<circle cx="105.4" cy="362.12" r="1.5" fill="#ff0000"/>
<path d="M135.6 334.86V343.36M134.4 334.86h2.4M134.4 343.36h2.4" stroke="#ff0000" stroke-width="0.8"/>
<circle cx="135.6" cy="339.11" r="1.5" fill="#ff0000"/>
<path d="M165.8 326.01V333.09M164.6 326.01h2.4M164.6 333.09h2.4" stroke="#ff0000" stroke-width="0.8"/>
<circle cx="165.8" cy="329.55" r="1.5" fill="#ff0000"/>
<path d="M45 393.98L75.2 381.59L105.4 352.21L135.6 342.65L165.8 333.8" stroke="#8b5a2b" stroke-width="1.1" fill="none"/>
<circle cx="45" cy="393.98" r="1.5" fill="#8b5a2b"/>
<path d="M75.2 378.05V385.13M74 378.05h2.4M74 385.13h2.4" stroke="#8b5a2b" stroke-width="0.8"/>
<circle cx="75.2" cy="381.59" r="1.5" fill="#8b5a2b"/>
<path d="M105.4 347.96V356.46M104.2 347.96h2.4M104.2 356.46h2.4" stroke="#8b5a2b" stroke-width="0.8"/>
<circle cx="105.4" cy="352.21" r="1.5" fill="#8b5a2b"/>
<path d="M135.6 339.11V346.19M134.4 339.11h2.4M134.4 346.19h2.4" stroke="#8b5a2b" stroke-width="0.8"/>
<circle cx="135.6" cy="342.65" r="1.5" fill="#8b5a2b"/>
<path d="M165.8 330.26V337.34M164.6 330.26h2.4M164.6 337.34h2.4" stroke="#8b5a2b" stroke-width="0.8"/>
<circle cx="165.8" cy="333.8" r="1.5" fill="#8b5a2b"/>
<path d="M45 394.69L75.2 385.13L105.4 350.79L135.6 341.59L165.8 332.03" stroke="#ffff00" stroke-width="1.1" fill="none"/>
<path d="M45 392.89l1.8 3h-3.6z" fill="#ffff00"/>
<path d="M75.2 380.88V389.38M74 380.88h2.4M74 389.38h2.4" stroke="#ffff00" stroke-width="0.8"/>
<path d="M75.2 383.33l1.8 3h-3.6z" fill="#ffff00"/>
<path d="M105.4 345.48V356.1M104.2 345.48h2.4M104.2 356.1h2.4" stroke="#ffff00" stroke-width="0.8"/>
<path d="M105.4 348.99l1.8 3h-3.6z" fill="#ffff00"/>
<path d="M135.6 338.05V345.13M134.4 338.05h2.4M134.4 345.13h2.4" stroke="#ffff00" stroke-width="0.8"/>
<path d="M135.6 339.79l1.8 3h-3.6z" fill="#ffff00"/>
<path d="M165.8 326.72V337.34M164.6 326.72h2.4M164.6 337.34h2.4" stroke="#ffff00" stroke-width="0.8"/>
<path d="M165.8 330.23l1.8 3h-3.6z" fill="#ffff00"/>
<path d="M45 394.69L75.2 381.59L105.4 347.96L135.6 330.26L165.8 312.56" stroke="#ee55dd" stroke-width="1.1" fill="none"/>
<path d="M45 396.49l1.8 -3h-3.6z" fill="#ee55dd"/>
<path d="M75.2 379.47V383.71M74 379.47h2.4M74 383.71h2.4" stroke="#ee55dd" stroke-width="0.8"/>
<path d="M75.2 383.39l1.8 -3h-3.6z" fill="#ee55dd"/>
<path d="M105.4 342.65V353.27M104.2 342.65h2.4M104.2 353.27h2.4" stroke="#ee55dd" stroke-width="0.8"/>
<path d="M105.4 349.76l1.8 -3h-3.6z" fill="#ee55dd"/>
<path d="M135.6 325.66V334.86M134.4 325.66h2.4M134.4 334.86h2.4" stroke="#ee55dd" stroke-width="0.8"/>
<path d="M135.6 332.06l1.8 -3h-3.6z" fill="#ee55dd"/>
<path d="M165.8 309.02V316.1M164.6 309.02h2.4M164.6 316.1h2.4" stroke="#ee55dd" stroke-width="0.8"/>
<path d="M165.8 314.36l1.8 -3h-3.6z" fill="#ee55dd"/>
<path d="M165.8 365V357.5" stroke="#000" stroke-width="1.0"/><path d="M165.8 354.5l-1.8 4h3.6z" fill="#000"/>
<path d="M178 324.2L186.7 324.2" stroke="#ff0000" stroke-width="1.1"/>
<circle cx="182.35" cy="324.2" r="1.5" fill="#ff0000"/>
<text x="190.9" y="326.81" font-size="7.9" text-anchor="start" fill="#000">Si-NC (DMSO)</text>
<path d="M178 335.6L186.7 335.6" stroke="#0000ff" stroke-width="1.1"/>
<rect x="180.85" y="334.1" width="3" height="3" fill="#0000ff"/>
<text x="190.9" y="338.21" font-size="7.9" text-anchor="start" fill="#000">Si-PTK6-1 (DMSO)</text>
<path d="M178 348L186.7 348" stroke="#00ee00" stroke-width="1.1"/>
<path d="M182.35 346.2l1.8 3h-3.6z" fill="#00ee00"/>
<text x="190.9" y="350.61" font-size="7.9" text-anchor="start" fill="#000">Si-PTK6-2 (DMSO)</text>
<path d="M178 359L186.7 359" stroke="#ee55dd" stroke-width="1.1"/>
<path d="M182.35 360.8l1.8 -3h-3.6z" fill="#ee55dd"/>
<text x="190.9" y="361.61" font-size="7.9" text-anchor="start" fill="#000">Si-NC (3-MA)</text>
<path d="M178 370.3L186.7 370.3" stroke="#ffff00" stroke-width="1.1"/>
<path d="M182.35 368.5l1.8 3h-3.6z" fill="#ffff00"/>
<text x="190.9" y="372.91" font-size="7.9" text-anchor="start" fill="#000">Si-PTK6-1 (3-MA)</text>
<path d="M178 382.1L186.7 382.1" stroke="#8b5a2b" stroke-width="1.1"/>
<circle cx="182.35" cy="382.1" r="1.5" fill="#8b5a2b"/>
<text x="190.9" y="384.71" font-size="7.9" text-anchor="start" fill="#000">Si-PTK6-2 (3-MA)</text>
<path d="M261.5 323L261.5 336.6" stroke="#2e2626" stroke-width="1"/>
<text x="267.1" y="329.8" font-size="8.4" text-anchor="middle" fill="#000" transform="rotate(-90 267.1 329.8)">ns</text>
<path d="M268.5 323L268.5 347" stroke="#2e2626" stroke-width="1"/>
<use href="#s3" x="271.8" y="330.3"/>
<use href="#s3" x="271.8" y="335"/>
<use href="#s3" x="271.8" y="339.7"/>
<path d="M275.5 322.3L275.5 359" stroke="#2e2626" stroke-width="1"/>
<use href="#s3" x="278.8" y="335.95"/>
<use href="#s3" x="278.8" y="340.65"/>
<use href="#s3" x="278.8" y="345.35"/>
<path d="M282.5 334.7L282.5 371.7" stroke="#2e2626" stroke-width="1"/>
<text x="288.1" y="353.2" font-size="8.4" text-anchor="middle" fill="#000" transform="rotate(-90 288.1 353.2)">ns</text>
<path d="M290.5 347L290.5 383" stroke="#2e2626" stroke-width="1"/>
<use href="#s3" x="293.8" y="365"/>
<path d="M257.5 359L257.5 372.6" stroke="#2e2626" stroke-width="1"/>
<use href="#s3" x="260.8" y="361.1"/>
<use href="#s3" x="260.8" y="365.8"/>
<use href="#s3" x="260.8" y="370.5"/>
<path d="M264.5 358.4L264.5 383" stroke="#2e2626" stroke-width="1"/>
<use href="#s3" x="267.8" y="366"/>
<use href="#s3" x="267.8" y="370.7"/>
<use href="#s3" x="267.8" y="375.4"/>
<text x="10" y="462" font-size="18" text-anchor="start" fill="#000">C’</text>
<text x="123.5" y="443.6" font-size="15.8" text-anchor="start" fill="#000">MUM-2B</text>
<path d="M46.8 555.8L46.8 452.5" stroke="#000" stroke-width="1.1"/>
<path d="M44 555.3L46.8 555.3" stroke="#000" stroke-width="1.1"/>
<text x="43.2" y="557.74" font-size="7.4" text-anchor="end" fill="#000">0.0</text>
<path d="M44 534.8L46.8 534.8" stroke="#000" stroke-width="1.1"/>
<text x="43.2" y="537.24" font-size="7.4" text-anchor="end" fill="#000">0.5</text>
<path d="M44 514.3L46.8 514.3" stroke="#000" stroke-width="1.1"/>
<text x="43.2" y="516.74" font-size="7.4" text-anchor="end" fill="#000">1.0</text>
<path d="M44 493.8L46.8 493.8" stroke="#000" stroke-width="1.1"/>
<text x="43.2" y="496.24" font-size="7.4" text-anchor="end" fill="#000">1.5</text>
<path d="M44 473.3L46.8 473.3" stroke="#000" stroke-width="1.1"/>
<text x="43.2" y="475.74" font-size="7.4" text-anchor="end" fill="#000">2.0</text>
<path d="M44 452.8L46.8 452.8" stroke="#000" stroke-width="1.1"/>
<text x="43.2" y="455.24" font-size="7.4" text-anchor="end" fill="#000">2.5</text>
<path d="M46.3 555.3L164.2 555.3" stroke="#000" stroke-width="1.1"/>
<path d="M46.8 555.3L46.8 557.8" stroke="#000" stroke-width="1"/>
<text x="46.8" y="565.64" font-size="7.4" text-anchor="middle" fill="#000">0</text>
<path d="M76.15 555.3L76.15 557.8" stroke="#000" stroke-width="1"/>
<text x="76.15" y="565.64" font-size="7.4" text-anchor="middle" fill="#000">1</text>
<path d="M105.5 555.3L105.5 557.8" stroke="#000" stroke-width="1"/>
<text x="105.5" y="565.64" font-size="7.4" text-anchor="middle" fill="#000">2</text>
<path d="M134.85 555.3L134.85 557.8" stroke="#000" stroke-width="1"/>
<text x="134.85" y="565.64" font-size="7.4" text-anchor="middle" fill="#000">3</text>
<path d="M164.2 555.3L164.2 557.8" stroke="#000" stroke-width="1"/>
<text x="164.2" y="565.64" font-size="7.4" text-anchor="middle" fill="#000">4</text>
<text x="169.7" y="565.71" font-size="7.6" text-anchor="start" fill="#000">(Days)</text>
<text x="28.4" y="504.46" font-size="7.45" text-anchor="middle" fill="#000" transform="rotate(-90 28.4 502)">OD value(450nm)</text>
<path d="M46.8 540.13L76.15 536.85L105.5 533.57L134.85 519.22L164.2 497.08" stroke="#00ee00" stroke-width="1.1" fill="none"/>
<path d="M46.8 538.33l1.8 3h-3.6z" fill="#00ee00"/>
<path d="M76.15 534.8V538.9M74.95 534.8h2.4M74.95 538.9h2.4" stroke="#00ee00" stroke-width="0.8"/>
<path d="M76.15 535.05l1.8 3h-3.6z" fill="#00ee00"/>
<path d="M105.5 531.52V535.62M104.3 531.52h2.4M104.3 535.62h2.4" stroke="#00ee00" stroke-width="0.8"/>
<path d="M105.5 531.77l1.8 3h-3.6z" fill="#00ee00"/>
<path d="M134.85 516.76V521.68M133.65 516.76h2.4M133.65 521.68h2.4" stroke="#00ee00" stroke-width="0.8"/>
<path d="M134.85 517.42l1.8 3h-3.6z" fill="#00ee00"/>
<path d="M164.2 495.03V499.13M163 495.03h2.4M163 499.13h2.4" stroke="#00ee00" stroke-width="0.8"/>
<path d="M164.2 495.28l1.8 3h-3.6z" fill="#00ee00"/>
<path d="M46.8 540.13L76.15 533.57L105.5 531.93L134.85 520.45L164.2 495.85" stroke="#0000ff" stroke-width="1.1" fill="none"/>
<rect x="45.3" y="538.63" width="3" height="3" fill="#0000ff"/>
<path d="M76.15 528.65V538.49M74.95 528.65h2.4M74.95 538.49h2.4" stroke="#0000ff" stroke-width="0.8"/>
<rect x="74.65" y="532.07" width="3" height="3" fill="#0000ff"/>
<path d="M105.5 528.65V535.21M104.3 528.65h2.4M104.3 535.21h2.4" stroke="#0000ff" stroke-width="0.8"/>
<rect x="104" y="530.43" width="3" height="3" fill="#0000ff"/>
<path d="M134.85 517.17V523.73M133.65 517.17h2.4M133.65 523.73h2.4" stroke="#0000ff" stroke-width="0.8"/>
<rect x="133.35" y="518.95" width="3" height="3" fill="#0000ff"/>
<path d="M164.2 492.98V498.72M163 492.98h2.4M163 498.72h2.4" stroke="#0000ff" stroke-width="0.8"/>
<rect x="162.7" y="494.35" width="3" height="3" fill="#0000ff"/>
<path d="M46.8 541.77L76.15 529.88L105.5 523.32L134.85 506.92L164.2 491.75" stroke="#ffff00" stroke-width="1.1" fill="none"/>
<path d="M46.8 539.97l1.8 3h-3.6z" fill="#ffff00"/>
<path d="M76.15 527.83V531.93M74.95 527.83h2.4M74.95 531.93h2.4" stroke="#ffff00" stroke-width="0.8"/>
<path d="M76.15 528.08l1.8 3h-3.6z" fill="#ffff00"/>
<path d="M105.5 519.22V527.42M104.3 519.22h2.4M104.3 527.42h2.4" stroke="#ffff00" stroke-width="0.8"/>
<path d="M105.5 521.52l1.8 3h-3.6z" fill="#ffff00"/>
<path d="M134.85 503.64V510.2M133.65 503.64h2.4M133.65 510.2h2.4" stroke="#ffff00" stroke-width="0.8"/>
<path d="M134.85 505.12l1.8 3h-3.6z" fill="#ffff00"/>
<path d="M164.2 487.65V495.85M163 487.65h2.4M163 495.85h2.4" stroke="#ffff00" stroke-width="0.8"/>
<path d="M164.2 489.95l1.8 3h-3.6z" fill="#ffff00"/>
<path d="M46.8 540.13L76.15 529.47L105.5 520.45L134.85 505.28L164.2 491.75" stroke="#8b5a2b" stroke-width="1.1" fill="none"/>
<circle cx="46.8" cy="540.13" r="1.5" fill="#8b5a2b"/>
<path d="M76.15 527.42V531.52M74.95 527.42h2.4M74.95 531.52h2.4" stroke="#8b5a2b" stroke-width="0.8"/>
<circle cx="76.15" cy="529.47" r="1.5" fill="#8b5a2b"/>
<path d="M105.5 517.99V522.91M104.3 517.99h2.4M104.3 522.91h2.4" stroke="#8b5a2b" stroke-width="0.8"/>
<circle cx="105.5" cy="520.45" r="1.5" fill="#8b5a2b"/>
<path d="M134.85 501.18V509.38M133.65 501.18h2.4M133.65 509.38h2.4" stroke="#8b5a2b" stroke-width="0.8"/>
<circle cx="134.85" cy="505.28" r="1.5" fill="#8b5a2b"/>
<path d="M164.2 489.7V493.8M163 489.7h2.4M163 493.8h2.4" stroke="#8b5a2b" stroke-width="0.8"/>
<circle cx="164.2" cy="491.75" r="1.5" fill="#8b5a2b"/>
<path d="M46.8 538.08L76.15 521.68L105.5 515.12L134.85 492.98L164.2 478.22" stroke="#ff0000" stroke-width="1.1" fill="none"/>
<circle cx="46.8" cy="538.08" r="1.5" fill="#ff0000"/>
<path d="M76.15 520.45V522.91M74.95 520.45h2.4M74.95 522.91h2.4" stroke="#ff0000" stroke-width="0.8"/>
<circle cx="76.15" cy="521.68" r="1.5" fill="#ff0000"/>
<path d="M105.5 511.02V519.22M104.3 511.02h2.4M104.3 519.22h2.4" stroke="#ff0000" stroke-width="0.8"/>
<circle cx="105.5" cy="515.12" r="1.5" fill="#ff0000"/>
<path d="M134.85 490.52V495.44M133.65 490.52h2.4M133.65 495.44h2.4" stroke="#ff0000" stroke-width="0.8"/>
<circle cx="134.85" cy="492.98" r="1.5" fill="#ff0000"/>
<path d="M164.2 476.58V479.86M163 476.58h2.4M163 479.86h2.4" stroke="#ff0000" stroke-width="0.8"/>
<circle cx="164.2" cy="478.22" r="1.5" fill="#ff0000"/>
<path d="M46.8 536.85L76.15 515.53L105.5 495.03L134.85 482.73L164.2 465.92" stroke="#ee55dd" stroke-width="1.1" fill="none"/>
<path d="M46.8 538.65l1.8 -3h-3.6z" fill="#ee55dd"/>
<path d="M76.15 509.38V521.68M74.95 509.38h2.4M74.95 521.68h2.4" stroke="#ee55dd" stroke-width="0.8"/>
<path d="M76.15 517.33l1.8 -3h-3.6z" fill="#ee55dd"/>
<path d="M105.5 490.93V499.13M104.3 490.93h2.4M104.3 499.13h2.4" stroke="#ee55dd" stroke-width="0.8"/>
<path d="M105.5 496.83l1.8 -3h-3.6z" fill="#ee55dd"/>
<path d="M134.85 477.81V487.65M133.65 477.81h2.4M133.65 487.65h2.4" stroke="#ee55dd" stroke-width="0.8"/>
<path d="M134.85 484.53l1.8 -3h-3.6z" fill="#ee55dd"/>
<path d="M164.2 461.82V470.02M163 461.82h2.4M163 470.02h2.4" stroke="#ee55dd" stroke-width="0.8"/>
<path d="M164.2 467.72l1.8 -3h-3.6z" fill="#ee55dd"/>
<path d="M164.2 516V509.2" stroke="#000" stroke-width="1.0"/><path d="M164.2 506.2l-1.8 4h3.6z" fill="#000"/>
<path d="M173.6 472.7L182.8 472.7" stroke="#ff0000" stroke-width="1.1"/>
<circle cx="178.2" cy="472.7" r="1.5" fill="#ff0000"/>
<text x="186.8" y="475.31" font-size="7.9" text-anchor="start" fill="#000">Si-NC (DMSO)</text>
<path d="M173.6 484L182.8 484" stroke="#0000ff" stroke-width="1.1"/>
<rect x="176.7" y="482.5" width="3" height="3" fill="#0000ff"/>
<text x="186.8" y="486.61" font-size="7.9" text-anchor="start" fill="#000">Si-PTK6-1 (DMSO)</text>
<path d="M173.6 495.7L182.8 495.7" stroke="#00ee00" stroke-width="1.1"/>
<path d="M178.2 493.9l1.8 3h-3.6z" fill="#00ee00"/>
<text x="186.8" y="498.31" font-size="7.9" text-anchor="start" fill="#000">Si-PTK6-2 (DMSO)</text>
<path d="M173.6 507L182.8 507" stroke="#ee55dd" stroke-width="1.1"/>
<path d="M178.2 508.8l1.8 -3h-3.6z" fill="#ee55dd"/>
<text x="186.8" y="509.61" font-size="7.9" text-anchor="start" fill="#000">Si-NC (3-MA)</text>
<path d="M173.6 519L182.8 519" stroke="#ffff00" stroke-width="1.1"/>
<path d="M178.2 517.2l1.8 3h-3.6z" fill="#ffff00"/>
<text x="186.8" y="521.61" font-size="7.9" text-anchor="start" fill="#000">Si-PTK6-1 (3-MA)</text>
<path d="M173.6 530.7L182.8 530.7" stroke="#8b5a2b" stroke-width="1.1"/>
<circle cx="178.2" cy="530.7" r="1.5" fill="#8b5a2b"/>
<text x="186.8" y="533.31" font-size="7.9" text-anchor="start" fill="#000">Si-PTK6-2 (3-MA)</text>
<path d="M256.5 470L256.5 483.6" stroke="#2e2626" stroke-width="1"/>
<use href="#s3" x="259.8" y="472.1"/>
<use href="#s3" x="259.8" y="476.8"/>
<use href="#s3" x="259.8" y="481.5"/>
<path d="M263.5 470L263.5 495.3" stroke="#2e2626" stroke-width="1"/>
<use href="#s3" x="266.8" y="477.95"/>
<use href="#s3" x="266.8" y="482.65"/>
<use href="#s3" x="266.8" y="487.35"/>
<path d="M270.5 470L270.5 506.6" stroke="#2e2626" stroke-width="1"/>
<use href="#s3" x="273.8" y="485.95"/>
<use href="#s3" x="273.8" y="490.65"/>
<path d="M278.5 482L278.5 518.7" stroke="#2e2626" stroke-width="1"/>
<text x="284.1" y="500.35" font-size="8.4" text-anchor="middle" fill="#000" transform="rotate(-90 284.1 500.35)">ns</text>
<path d="M285.5 494L285.5 530.7" stroke="#2e2626" stroke-width="1"/>
<text x="291.1" y="512.35" font-size="8.4" text-anchor="middle" fill="#000" transform="rotate(-90 291.1 512.35)">ns</text>
<path d="M251.5 506.6L251.5 519.8" stroke="#2e2626" stroke-width="1"/>
<use href="#s3" x="254.8" y="508.5"/>
<use href="#s3" x="254.8" y="513.2"/>
<use href="#s3" x="254.8" y="517.9"/>
<path d="M259.5 506.6L259.5 531.8" stroke="#2e2626" stroke-width="1"/>
<use href="#s3" x="262.8" y="514.5"/>
<use href="#s3" x="262.8" y="519.2"/>
<use href="#s3" x="262.8" y="523.9"/>
<text x="318" y="16" font-size="18" text-anchor="start" fill="#000">D</text>
<text x="416" y="14" font-size="15.8" text-anchor="start" fill="#000">SP6.5</text>
<text x="362.95" y="27.54" font-size="7.7" text-anchor="middle" fill="#000">Si-NC</text>
<text x="433.15" y="27.54" font-size="7.7" text-anchor="middle" fill="#000">Si-PTK6-1</text>
<text x="503" y="27.54" font-size="7.7" text-anchor="middle" fill="#000">Si-PTK6-2</text>
<rect x="327" y="30" width="69" height="38" fill="#dfe4e2"/>
<rect x="327" y="30" width="69" height="38" filter="url(#spk)" opacity="0.65"/>
<rect x="327" y="30" width="69" height="38" fill="#581a78" filter="url(#fs)" opacity="0.35"/>
<path d="M366.2 47.4l-.1-1.2 .6-.9 0 1.1zM338.7 50.8l-.9-.8-.3-1.2 .7.9zM386.8 54.1l-.9-1 .1-1 .7.7zM371 36.6l1.2-2 1.8-.8-1.1 1.6zM392.8 43.5l-2-1.5 .5-2 1.5 1.1zM330.6 52.7l.6-1.1 .9.3-.4.7zM360.5 62.5l.3-1.7 .9-.5-.1 1zM354.7 53.5l-2.4.8-.6-1.8 1.6-1zM392.7 47.6l-1-1 .4-1 .7.7zM336.8 48.2l-1.8-.4-1.1-1.3 1.6.4zM352.9 46.5l-1.9 1-1.3-1 1.3-.6zM358.6 54.1l-1.4-1.7 .3-1.5 1 1zM389.5 50.6l-.1-1 .6-.5 .1.8zM355.8 53.8l-.9-1.7 1.2-1 1 1.3zM357.3 31.4l-1.7 1.4-.8-1.5 .9-.9zM360.8 48.9l-1-1.3 .4-1.5 1 1.2zM374.2 48l-.4-2.6 2-.5 .5 1.8zM373.8 56.4l-.3-2.2 1.4-1.6 .4 2.1zM355.7 64.3l-.1-2.9 2.7-.3 .1 2.6zM394.5 68l-2.1 0 .1-1.8 1.9.3zM341.3 43.6l-1.2.4-.4-.9 .7-.5zM387 49l.7-1.9 1.4-.4-.4 1.4zM366.1 41.7l-1.4-1.3 .2-1.3 1 .8zM387 63.9l0-1 .6-.2 0 .5zM343.3 48.6l.6-2 1.7-.3-.5 1.7zM362.3 41.3l-.7-1.2 .2-1 .6.9zM358.9 49.8l.5-1.9 1.3-.8-.3 1.5zM374.9 33.4l.9-2.7 2.1 1.2-.5 1.9zM378.8 54l-1.3-.3 .2-1 .9.1zM390 40l.5-2.7 2.3-.2-.4 2.1zM395.4 63.1l-1.2.3-.8-.4 .9-.2zM381.6 59.2l1.1-1.3 1.3 1-1 .8zM366.5 64.3l-1.6-1.3 .8-1.3 1.2.7zM329.1 66.3l-.6-1.3 .7-1 .4 1zM336 64.3l.6-1.8 1.5-1-.7 1.6zM384.6 62.7l-1.4-1.1 .2-1.2 1 .6zM339 66.4l-1.9-.4-1-1.5 1.8.4zM352.7 44.4l-.9.4-.8-.6 .9-.2zM339.7 55.2l-.8-.9 .1-.6 .4.4zM357.4 43.7l-1.1-.2-.5-.9 1 .2zM382.4 64.5l-2.2-.4-.9-1.5 1.7.2zM390.5 45.5l-2.6 1-.7-2 1.7-1.1zM347.5 42.9l-.1-2.4 2-1.3-.1 2.3zM370 50.3l-1.1.3-.8-.4 .8-.2zM370.6 49.4l-.5-1.6 1.1-.7 .6 1.1zM339.9 63.7l-.2-1 .4-.4 .2.5zM349.5 65.9l.5-1.3 1.2-.7-.6 1.2zM340.2 41.6l.6-1.2 1.2.1-.5 1zM356.7 51l-.9.7-.3-.8 .5-.6zM394.9 35.5l-.7-.6 .1-.8 .6.5zM390.6 51.2l-1.5.4-.8-.8 1-.2zM369.5 49.6l-.1-1.7 1.4 0 .1 1.1zM360.3 36.2l-1.8.8-.6-1.4 1.1-.5zM374.3 61.6l1-1.5 1.6-.3-.9 1.3zM361.5 58.7l.1-1.9 1.1-.9-.1 1.4zM348.6 58.3l-1.5-1.8 .6-1.9 1.1 1.5zM349.1 63.3l-2.3.4-.3-2.1 1.8-.3zM388.1 62.2l.6-1.2 .9-.1-.3.8zM354.6 48.7l-1.1-.5-.2-1.1 .9.5zM394.3 51.9l-2 .1-1.1-1.6 1.8.2zM357 55.8l1.5-1 1.5.7-1.4.8zM392.1 58.3l-2.3-.3-1.3-1.2 1.8.1zM384 65.6l0-1.3 1 .1 0 .8zM347.5 59.4l.6-1.3 1-.2-.3.9zM344.4 37.9l-1.5-1.7 .1-1.9 1.4 1.4zM352 66.5l1.6-.6 1.5.5-1.5.5zM336.3 57l-1.7-1.9 1.2-1.2 1.1.9zM339.8 45.4l-1.3-.4-.3-.9 .8.2zM371.9 50.4l.4-2.8 2.6.3-.4 2.3zM386.1 35.1l.7-1.7 1.4.5-.3 1.5zM332.9 44.6l-.9 0-.5-.4 .6 0zM387.2 33.6l1.7-1 1.9.3-1.7.8zM370 58.1l.3-1.3 .9-.5-.3.9zM362.6 49.3l-1.6-1.2-.4-1.6 1.2 1.1zM363.5 54.7l.6-1.4 1.2.2-.4.9zM380.4 33l-1.5-2.4 2.1-.6 1.6 1.4zM349.7 59.3l-1.6 1.2-.8-1.4 1-.7zM374.5 48.5l-1.1-1 .1-1.1 .7.7zM329.3 55.9l.1-1.3 1.1-.7-.3 1.1zM379.5 45.3l-.3-2.1 .9-1.4 .3 1.6zM330 49.3l.5-1.3 1-.4-.4.9zM367.7 51.8l-.9-.8-.2-.9 .7.6zM331.2 58.6l-1.7-.1-.5-1.1 1.3-.1zM339.6 66.6l1.2-1.1 1.2-.1-.8.9zM359.5 68l.8-1.2 1.5-.7-.8 1.3zM372.2 38.2l-1.7-1.4 .8-1.6 1.2 1zM354.3 40.4l.5-2.2 1.8-.8-.4 1.9zM381.8 62.2l.3-2 1.3-1-.1 1.6zM339.4 58.8l.1-1.7 1.2-1.1-.1 1.6zM373.5 64.7l1-.8 1.3-.1-1 .7zM389.9 37.3l.6-1.1 1.1 0-.5.8zM364.5 33.9l-2 .7-1-1.3 1.3-.8zM378.1 51l.9-1 1.1-.3-.7 1zM381.3 57.1l1.6-1.3 1.3.6-.9.9zM368.9 32.2l-.2-1.5 .9-.5 .1.8zM373.6 41.2l-2.7.7-.7-2.5 2.3-.7zM390.3 55.3l-1.5.2-1-.6 1.1-.2zM379 53.5l-1.5-1.2 .3-1.4 .9.8zM346.2 43.3l1-.6 .7.5-.7.5zM356.4 41.2l-2 .3-.2-1.4 1.2-.6zM378.7 44.1l.9-.7 .9 0-.7.6zM331.8 59.8l-1.7-.3-.4-1 1 0zM391.7 60.7l-2.8-.8 .5-2.6 2.5.5zM384.7 55.4l.5-1.1 1-.4-.5.9zM346.9 55.8l-1.6.3-.9-.7 1.1-.3zM330.9 44.8l-.9-2.1 .8-2 .7 2zM388.7 53.2l-.5-1.1 .3-.9 .3.9zM349.6 41.2l-.7-.6-.1-.8 .5.5zM373.3 37l.6-.6 .7 0-.5.5zM339.8 65.9l-.7-2.1 1.5-.5 .9 1.2zM338.7 33.1l.3-2.2 2 .4-.2 1.8zM392.2 53.2l-1.8-.3-1.2-1.3 1.7.5zM365.8 32l1-.6 1 .3-.9.4z" fill="#581a78" opacity="0.88" filter="url(#cb)"/>
<rect x="397" y="30" width="69" height="38" fill="#e1e6e7"/>
<rect x="397" y="30" width="69" height="38" filter="url(#spk)" opacity="0.65"/>
<rect x="397" y="30" width="69" height="38" fill="#581a78" filter="url(#fs)" opacity="0.35"/>
<path d="M426.8 51.6l1.3-1 1.3.4-1.1.7zM431.6 54.5l.4-1 .7.1-.1.7zM442.6 31.7l2.2-1 1.9.8-1.8.7zM399.1 50.3l-1.2.4-.4-.7 .6-.4zM427.3 63.8l-.7-1.8 .9-1.4 .5 1.4zM446.8 42.8l-1.7 0-.1-1.5 1.4.1zM453.4 45l1.7-2.4 1.6 1.9-1 2.2zM429.7 68l-.6-.6 .1-.9 .5.7zM401.1 42.9l1.7-1.7 1.4 1.3-1.1 1.1zM402.5 61.2l-1.8-.3-.4-1.1 1.2-.1zM407.4 55l-1.7.3-.5-1.2 1.2-.5zM451.4 42l.8-1 1.2.2-.8.8zM410.7 40.7l.5-1.4 1 .1-.2.8zM436.8 40.5l-.2-1.5 1-1 .1 1.4zM437.5 63.5l-1-.3-.6-.8 .9.3zM409 58.3l1-.5 1.1.1-1 .5zM428.3 34.2l-2.4 1.1-1.7-1.6 2-.7zM454.5 53.5l-1-.6 0-.7 .5.3zM435.2 63.5l0-1.2 .7-.6-.1.8zM416.6 47.1l-1.1.4-.7-.7 .8-.2zM420.2 64l1.7-.8 1.5.6-1.4.5zM397.6 31.2l1.7-1 1 .2-.8.7zM431.5 59.7l-2.9-.9 .7-2.5 2.4.5zM457.9 59.6l.7-2 1.3-.7-.4 1.4zM459.7 65l-1.1-1.7 .2-1.7 .9 1.4zM423.1 53l-.1-1 .7-.7 0 1zM446.1 46l.6-1.8 1.6-.6-.7 1.5zM448.3 32.6l-.5-1.8 1.4-.8 .3 1.4zM440 65.6l-.9-.3-.2-.8 .7.3zM408 65.7l.3-1.5 .9-.6-.2 1zM408.9 47.6l1.4-1.8 1.6-.3-.9 1.3zM418.9 37.2l-.7-2 .6-1.8 .7 1.8zM416.3 37.6l-1-1.1 .7-.9 .8.7zM429.1 43.1l1.5-2 1.5.3-.7 1.2zM456.2 32.9l.3-1.9 1.6-.6-.4 1.5zM408.4 47.4l-2.1 1.2-1.1-1.4 1.2-.7zM439.7 48.6l.2-1.9 1.2-1.3-.2 1.8zM411.4 48.5l-.8-.1-.4-.7 .7.1zM414.9 44.4l.4-1.6 1.3-.8-.4 1.4zM453.8 65l-2.4.2-1-1.1 1.4-.3zM440.8 66.1l-1.1-1.3-.1-1.6 1 1.2zM430.5 55.9l-1.9-.7-.8-1.4 1.5.5zM409.5 64.3l2.2-1.1 2 .9-1.9.8zM460.2 63.3l-.8-.6 .1-.8 .6.4zM429.9 31.6l.6-.8 .6 0-.3.5zM452.8 36l-1.7-.2-1-1.1 1.5.2zM461.3 48.9l.9-.8 .8.5-.7.5zM447.1 56.3l-.7-2.1 1-1.3 .5 1.4zM457 65.5l-2-.8-.9-1.4 1.5.5zM410.8 52.1l-1.5-1.8 1.6-1.6 1.3 1.7zM424.3 61.9l-.2-1.6 .7-.7 .3.9zM424.4 66.6l1-.8 .8.4-.5.6zM453.4 65.5l-1-1.2 .8-1.1 .9 1zM407 59.7l-1.1.6-.9-.8 1-.4zM423.3 54.2l-2.3.7-.8-1.8 1.6-.5zM410.9 51.5l-.9-1.2 .4-1.2 .7 1zM410.4 55.4l.2-1.6 1-1-.1 1.4zM411.3 59.4l1.1-2.2 1.8.2-.5 1.7zM459.6 36.4l-2.1-.5 0-1.5 1.5-.1zM427.4 60.6l-1.5-.1-.5-.8 .8 0zM443.1 64.7l.9-.5 .9.3-.8.5zM445.2 37.4l-1.1.6-.5-1 .9-.5zM437.2 36.2l-1.2-.3-.7-.9 1.1.3zM402.1 32.6l1.4-.8 1.1.4-1 .6zM432.3 47.1l0-.8 .5-.7-.1.8zM428.6 59.1l-1-.8 .5-1 .7.7zM457.4 62.1l.6-2.1 1.5-.7-.3 1.6zM430.8 68l.8-1 1-.3-.6.9zM451.2 46.1l1.8-1.4 2 .1-1.6 1.3zM426.3 57.7l-1.4.3-.6-.7 .8-.3zM442.7 55.2l-2.2-.9-.5-1.6 1.5.5z" fill="#581a78" opacity="0.88" filter="url(#cb)"/>
<rect x="467" y="30" width="69" height="38" fill="#e4e6e2"/>
<rect x="467" y="30" width="69" height="38" filter="url(#spk)" opacity="0.65"/>
<rect x="467" y="30" width="69" height="38" fill="#581a78" filter="url(#fs)" opacity="0.35"/>
<path d="M499.2 55.9l-.3-1.4 1.2-.1 .3.9zM522.4 57.8l-.1-1.8 .9-.6 .2 1zM480.2 64.8l-2.3 1.3-1.4-2 1.9-.9zM495.8 62.1l-.9.2-.7-.3 .7-.2zM536 66.5l-1.3.5-.5-1.4 1.2-.5zM479.3 56.6l-1.1.2-.6-.4 .7-.2zM508.4 48.9l-.6-.7 0-.9 .6.7zM513.6 45.2l-1.4-1.4 .2-1.2 .8.7zM490.8 50.3l.5-2.1 1.9.4-.5 1.8zM503.1 39.8l-.7-1.3 .2-.8 .6.7zM480.5 56.6l-1.3.5-.9-.8 1-.3zM499.6 39.1l-1.3-.9-.3-1.1 1 .6zM479 66.1l-.8-.8-.1-1.1 .7.8zM486.1 60.3l-1.6-.5 .7-1 1.2 0zM502.8 32.6l-1.6-1.4-.3-1.2 1.2.7zM502.9 49.2l.2-1.2 .7-.9-.2 1.1zM488.5 64.9l-2.1-1.1-.5-2.1 1.9.9zM483 42.1l-1.7-.8-.2-1.2 1.1.3zM496.5 41.4l-1.4-2 .5-2 1.3 1.6zM533.8 60.5l-.9-1.5 .1-1.6 .8 1.4zM489.9 45.2l-.1-2.3 2.1.1 .2 2zM520.5 64.5l1.4-.9 1.2.2-1 .6zM489.6 42.2l1.6-1.1 1.6.5-1.3.8zM504.2 57.7l-.9-.9 .3-.9 .7.6zM477.8 35l-1.5-1.2-.4-1.6 1.4.9zM492.3 32.6l-1.1-1.4 1-1.2 .8 1.1zM482.6 42.6l.8-.6 .6.4-.5.3zM495.3 38.8l1.4-1 1 .3-.7.7zM509.9 63.1l-1.4-.7-.6-1.3 1.2.7zM504.7 60.6l-1.2-1.5 0-1.9 1.2 1.5zM513.1 44.3l.4-1.4 1.1-.2-.3.9zM476.2 39.7l-.9-1.3 1.2-.9 .6 1.2zM532.3 54.7l-1.3-1.7 .1-1.6 .9 1.2zM510.6 63.9l-.3-2.2 1.5-1.2 .1 1.8zM495.6 45.7l-1-1.1 .2-.9 .6.6zM484.5 67.8l-.2-.9 .3-.8 .2.8zM492.3 58.7l-.8-.6-.3-.9 .7.6zM528.2 31.6l-1-.3 .2-.8 .7.1zM488.5 37.9l-1.3-.3-.6-.9 1 .3zM514.5 51.9l-.8-1.4 .3-1.5 .7 1.3zM510.3 49l-.1-1.5 1.1-.7 .1 1.2zM486.3 67.2l-.8-2 .7-2.1 .7 2zM495.8 47.2l.1-2 .9-.8 0 1.2zM475.3 33.3l-.9.4-.4-.6 .5-.3zM507.6 66.9l1.8-.8 1.1.5-1 .5zM532.4 49.2l-2.1-.4-.6-1.6 1.6.3zM482.9 35.4l.2-2.3 1.2-1.6 0 2zM490.3 41.7l1.5-1 1 .4-.7.7zM498.6 58.8l1.1-1.9 1.7.2-.6 1.5zM536 49.4l-1.1-.4-.6-1.2 1.3.2zM495.1 53.9l-1.7-.2-1.1-1 1.4.3zM494.7 35.2l.3-2.1 1.8-.2-.2 1.7zM507.6 45.5l-1.1-.9-.2-1 .8.6zM499.1 37.6l-.9-.8 .3-.9 .7.5zM532.6 42.8l-1.7-1.1 .1-1.6 1.4.8zM473.2 55.9l-1.2 0-1-.7 1.2 0zM480.1 48.3l-2.3-.8 .3-1.8 1.6.3zM511.1 54.6l-1.2-2.1 .9-2.3 1 2.2zM497.9 45.2l.3-2.3 1.8-.4-.1 1.8z" fill="#581a78" opacity="0.88" filter="url(#cb)"/>
<rect x="327" y="69" width="69" height="39" fill="#dde4e7"/>
<rect x="327" y="69" width="69" height="39" filter="url(#spk)" opacity="0.65"/>
<rect x="327" y="69" width="69" height="39" fill="#581a78" filter="url(#fs)" opacity="0.35"/>
<path d="M343.7 97.5l0-2.5 1.9-.3 .1 1.5zM344 98.3l-1.9.3-.5-1.4 1.3-.3zM386 92.8l-1.2.8-1.1-.9 1.1-.8zM381.1 102.8l1-2.1 1.5-.5-.5 1.5zM360.3 99.9l-.5-1.6 1-.9 .3 1.2zM333.3 102.3l1.3-2 1.9-.4-1 1.7zM336.5 96.4l-.9-.9 .6-.9 .6.7zM359 93.6l-.7-.8 .2-.8 .5.5zM342.1 83.7l-1.8.1-1.1-.8 1.3-.2zM393.2 71.6l-2.1-.3-1.2-1.3 1.7.3zM353.7 103.6l1.4-2 2.2.6-1.4 1.6zM374.7 74.5l1.7-.8 1.1.6-1 .6zM367.9 93.8l-1.7-1.3 .4-1.5 1.1.8zM374.9 74l-.9-.4-.3-.7 .7.3zM330.1 87l-1.2-.4 .3-1.3 1 .6zM347.5 80.4l-.1-1 .6-.5 .2.7zM361.2 108l-.5-1.2 .6-1 .3 1zM360.8 105.4l.5-1.2 1-.5-.5 1zM368.5 83.7l-1.5-.2 0-1.2 .9.2zM353.2 73.6l.1-2.4 2.2.1-.3 1.9zM360.8 91.7l-1.1-.8 .1-.9 .9.4zM335.7 101.9l-1.4-.3-.1-.9 .8.1zM349.8 87.1l1.3-2.8 2.4 1.3-1.1 1.9zM380.9 82.1l1.1-1.7 1.2.9-.5 1.1zM387 76.2l-.8-1.3 .6-1.3 .6 1.2zM375 95.3l1.5-.8 1.2.3-1.1.6zM368.9 102.1l.7-1 .9.4-.5.9zM362.6 80.8l1.1-1.1 .8.9-.6.7zM375.8 74.8l.9-2 1.7-1.1-.9 1.8zM369.2 102.5l.4-1.3 .8-.2-.2.7zM345.6 100.4l-.9-.7 .7-.6 .6.4zM389.8 79.6l1.4-1.9 2.3 0-1.4 1.8zM360.7 81.3l-1.2-2 .7-1.4 .9 1.2zM359.7 77.3l-.1-.9 .4-.5 0 .6zM366.2 81.5l1.2-1.1 1.6.1-1.2.9zM378.9 96.5l-2.5-1.7 1.6-2.5 1.8 1.7zM386.5 75.3l-1.6.2-.9-.7 1-.2zM368.9 79.3l-.3-.8 .4-.7 .2.7zM341.4 72.1l.5-1.4 1-.7-.5 1.1zM388.4 106.5l1.3-1.8 1.9-.3-1.2 1.5zM369.5 79.8l-2-.1-.7-1.1 1.2-.2zM367.5 90.3l.9-2.2 2.2-.4-.9 1.9zM365 85.4l1.4-.7 1 .2-.9.6zM390.3 96.5l-.7-.7 .1-.7 .6.4zM357.5 86.9l-1.2-2.2 1.8-.8 .8 1.3zM348.3 80.8l1.1-.4 .7.2-.7.3zM395.2 72.8l-1.3.5-.3-1.1 .8-.3zM337.5 70.3l0-1 .9-.2 0 .8zM371.3 98.3l.7-2 1.2-.6-.4 1.2zM369.7 91.2l-1.2-2.1 1.5-1.5 .9 1.7zM357.1 79.8l-1.5-.8-.5-1.7 1.4.9zM375.9 73.7l.2-1.1 .7-.7-.2 1zM383.3 78.3l-.9-.5 .1-.7 .6.2zM366 86.3l.2-1.3 1-.2-.2.8zM390.1 73.1l-2.1 0-1.2-1.1 1.6 0zM364.8 79.5l-2.8.8-.4-2.5 2.2-.9zM377.4 74.4l.7-1.7 1.5-.7-.6 1.6zM368.4 100.7l-.6-1.7 .5-1.3 .5 1.3zM329.1 101.1l-1.4-.9 .2-1.4 1.1.7zM384.2 94.1l-.6-2.1 1.2-1.3 .6 1.6zM375.3 98.6l1.3-1.2 1.2.3-.8.8zM356.2 88.7l.6-.7 .9.2-.6.6zM384.4 76.2l.7-1.4 1-.1-.3.9zM382.1 99.1l-1-1.7 1.5-.9 .8 1.4zM377.6 94.9l-2.2-1.6 .9-2.4 1.6 1.7zM394.2 94.1l-1.3-2.1 .7-1.8 .9 1.6zM382.7 94.6l-1-.3-.3-1 .9.3zM358.2 71l.7-.9 .9-.1-.5.7zM336.7 100.6l.2-.9 .6-.2-.1.6zM393.4 96.7l-1.1-1.7 1-1.3 .7 1.3zM376.6 72.6l-.3-1.1 .5-.5 .2.6zM368.4 97.7l1.5-1.1 1.2.1-.8.8zM372 76.3l-1.3 0-.7-.9 1.1 0zM365.5 73.2l.1-1.9 1.7-.3-.3 1.5zM347.6 87.3l.4-1 .7-.1-.1.7zM382.3 80.5l.2-1.8 1.4-.1 0 1.2zM384.6 92.5l-1.9.8-1.4-.8 1.4-.6zM358.1 96.7l-.9-.5-.3-.8 .7.5zM389.2 74.8l-1.3-1.3-.1-1.7 1.1 1.3zM366.5 105.2l-1.1-1.8 .7-1.7 1 1.5zM351.4 99.6l-1.6-1.5-.3-2.1 1.6 1.4zM369.5 106.8l-2.1.5-.5-1.8 1.8-.5zM347 101.7l-1-.8 .5-1.1 .7.7zM328.7 81l1.5-.6 1.1.4-1 .5zM370.8 77.8l-1.8 0-.6-.9 1.1-.3zM329.5 77.2l-1.7-1.4-.3-1.8 1.4 1.2zM389.1 74.3l.7-.7 .9.5-.7.7zM372 79.3l1-1.6 1.2.6-.3 1.3zM331.8 79.5l-1.6-1.6-.2-2.1 1.4 1.5zM329.6 99l-2.2-.7-.4-1.2 1.1.2zM342.3 73.6l1.1-1.3 1.3.3-.8 1zM355.3 94.7l.8-.6 .6 0-.4.4zM351.7 76.1l-1.9.3-.8-1.1 1.2-.4zM334.1 95.7l1.4-.9 1.1.7-1 .6zM356.6 77.4l-1.7-.9 0-1.3 1.1.4zM383.5 83.6l1.2-1.4 1.3 0-.7 1.1zM354.7 89.3l.8-.8 1 .5-.8.7zM384.9 103.2l-2.3.7-1.2-1.9 2-.5zM362.1 90.3l-1.7-.6-.6-1.1 1.2.4zM353.6 78l-1.8-1.2-.4-1.5 1.2.9zM351 103.5l-1.2-.4 .1-.8 .7.1zM341.9 94.7l1-1 1 .5-.8.6zM333.3 92.7l-.8-1.3 .6-.7 .5.6zM341.2 78.8l-2.4 1.4-1-2.2 1.7-1zM338.8 98.9l2.1-1.5 1.9 1-1.6 1.2zM332 86.8l.1-1.5 .8-.8-.1 1.1zM390.3 92.8l-2.2-.9-.5-1.9 1.7.7zM386.5 98.9l-.7-1.3 .2-1.3 .6 1.2zM387.6 90.8l-1.1-1 .5-.9 .9.5zM366.3 73.1l-1.5-.5-.7-1.2 1.3.5zM345.8 85.9l1.3-.8 .8.4-.6.6zM360 104.7l1.8-1.3 1.9.8-1.6 1.3zM332.1 86.8l-.6-1.4 .9-.9 .4 1.2zM365.5 72l-2.5-2 2-1 2.3.5zM390.8 89.7l-1.1-.7-.2-1.1 .9.6zM375.4 74.9l-1.3-1.8 .1-1.7 1 1.3zM388.9 89.8l-1-.1-.4-.6 .7 0zM331 107.3l-1.6-.9-.3-1.4 1.2.7zM366.8 82l-1.3.7-.7-1.2 1.1-.4zM389 93.3l1.3-1.1 1 .8-.8.9zM374.1 95.8l.8-.7 .8.2-.6.5zM346 105.4l-1.8.8-1.2-1 1.3-.5zM353.7 84l-1.1-1.3 .8-.9 .9.7zM338.5 94.3l-1.3-.2-.6-.8 .8.2zM365.7 94.1l-.9-2.2 1-1.5 .6 1.5zM367.1 99.4l-.8-1.4 .8-1.3 .9 1.3zM367.9 97.6l-1.3-.4 .3-1.2 1.2.3zM373.4 95.9l.9-1.3 1.1.3-.5.9zM373 90.8l.4-2.9 2.2.7 0 2zM376.6 80.2l-1.3-1.6 .7-1.6 .9 1.3zM354 94.6l1.2-1.2 1.4 0-.9 1zM360.1 82.2l-2.2-.2-1.4-1.3 1.9.1zM348.5 77.4l-.4-1.6 .7-1.3 .3 1.4zM351.2 97.1l1.3-1.2 1.7 0-1.2 1.2zM331.7 107.5l-1.8.2-1.3-1.2 1.6 0zM330.3 107.9l-1-1.4 .6-1 .6.8zM365.4 79.7l-.7-2.3 .7-1.5 .5 1.5zM336.3 93.2l-1-.3-.5-.6 .8.1zM341.4 77.7l-.8-2.1 1.6-1 .6 1.5zM361.6 82.2l-.9-.8 .7-.6 .8.3zM346.2 96.1l-2.7 1.1-1.1-2.6 2.4-.8zM390.5 103.7l-.9.5-.4-.5 .5-.5zM335.1 95.7l1.7-.9 1.6.3-1.4.7zM393.9 78.9l-.3-1.5 .7-.9 .5 1.1zM395.4 98.5l-.7-2.2 .7-1.2 .6 1.1zM335.4 73.6l-1.4-.5-.5-1.4 1.3.7zM373.7 89.5l-2.4-.2-1.1-1.3 1.7 0zM356.4 95.7l1.5-1.3 1.1.7-.7.9zM366.7 80.4l-.3-.9 .7-.5 .2.7zM376.9 79.5l-2-.8 .1-1.5 1.4.2zM348.9 92.2l2.2-1 2.3.6-2.2.9zM352.9 105.8l-1.3 0-.3-.7 .7-.1zM364 77.8l.3-.9 .7-.2-.1.7zM336.2 84.8l.5-1.2 .7-.3-.2.7zM328 92.3l-.8-1.6 .6-1.5 .6 1.5zM335.4 79.7l.9-2.4 1.7.9-.1 1.8zM393.7 80.6l-.2-.9 .4-.5 .3.6zM338.5 92.3l-1.2-1-.2-1.3 1 .8zM378.1 79.3l-1.9-1-.3-1.3 1.3.4zM345.5 91.8l1.5-2.1 1.7 1-.8 1.4zM367.9 108l.3-1.7 1.3-.9-.3 1.5zM379.9 94l1.8-1.8 1.8.5-1.2 1.2zM368.2 82.6l-1.3-1-.3-1.4 1.1.9zM370.2 94l1.6-1.1 1.2.3-.9.8z" fill="#581a78" opacity="0.88" filter="url(#cb)"/>
<rect x="397" y="69" width="69" height="39" fill="#e1e8ec"/>
<rect x="397" y="69" width="69" height="39" filter="url(#spk)" opacity="0.65"/>
<rect x="397" y="69" width="69" height="39" fill="#581a78" filter="url(#fs)" opacity="0.35"/>
<path d="M403.4 98.4l-.2-2.6 1.8-.6 .4 1.7zM441.7 82l.3-1.4 .9-.4-.2.8zM460.6 84.4l-2-.9-.2-1.4 1.3.4zM442.4 76.3l-.1-1.1 .8-.2 0 .6zM463 84.8l1.5-.6 1.3.5-1.3.5zM404.3 93l-.4-1.4 1.2-.5 .2 1.2zM411.9 87.9l-2.1-.6-.3-1.3 1.4 0zM405.1 80.1l-2.1 1.3-1.3-1.6 1.6-.8zM430 97.2l-.5-1.5 .8-1 .4 1.1zM405.1 88.9l-2-.9-.4-1.3 1.1.5zM447.4 91.4l-1.9.4-1.3-.6 1.4-.3zM437.1 106.5l-1.4-.3-.1-1.3 1.2.3zM415.9 84.3l-1.3.2-.9-.5 1-.1zM462.2 83.6l-1.1-.2 .1-.8 .7.1zM458.4 80.5l-1.5-.8-.4-1.2 1.1.5zM421.8 93l-.1-2.3 1.2-1.4 .2 1.8zM420.7 84.2l1.5-.8 1.1.4-.9.7zM437.8 79l1.3-1.2 1.1.6-.8.8zM411.9 96.5l-1.3 0-.6-.9 1 0zM451.7 80.3l-1.5-.8 .6-1.3 1 .5zM446.5 75.7l.2-1.2 .8-.6-.2 1zM461.2 95.5l-.2-1 .5-.4 .2.6zM463.2 103l-1.9.2-1.3-.8 1.5 0zM454.7 85.8l2.1-.9 2 .6-2 .6zM453 81.5l-1.5-.1-.4-.8 .8-.1zM451 89.6l-.2-1.3 .4-.8 .2.8zM463.2 105.8l1.7-1.6 1.1.5-.5 1.2zM463.6 71.1l-2.3-.3-1.4-1.5 2 .2zM433.5 103.7l-2.2-1.8 1.6-1.8 1.7 1.2zM450.6 87.4l.3-2.5 1.6-.6-.1 1.5zM457 89l-1.7-1 .8-1.3 1.2.6zM415.3 103.2l-.9-.5-.3-.7 .6.4zM442.7 97.5l0-2.2 1.4-.6 .2 1.5zM441.3 97.2l-1.4-.3-.6-1 1.1.2zM430.3 99.8l-1.1-1.1 0-1.2 .7.8zM439.8 74.7l1-.8 1-.1-.8.6zM433 97.4l-1-1.7 .9-1.8 .7 1.7zM452 70.8l-.6-.9 .7-.7 .6.7zM418.5 86.4l-1.1-1.6 .9-1.2 .9 1zM433.4 84l1.3-2.2 1.6.3-.5 1.3zM460.6 76.9l-2.5.1-.6-2.4 2.1.2zM425.6 92.9l-2.2.2-1.3-1.5 2-.2zM401.3 101.7l.7-1 .9 0-.4.7zM448.8 84.7l-.2-1 .4-.8 .2.8zM404.1 98.5l-1.8.6-1.2-1.5 1.7-.2zM430 88.2l-.7-.7 0-1 .6.8zM460 83.3l-1.3-.8-.5-1.3 1.1.8zM400.6 86.6l-.9.5-.5-.5 .5-.3zM430.2 100l1.9-1.5 1.5.7-1.1 1.3zM424.8 83.2l1.2-1.2 1.4-.4-.9 1.2zM407.3 107.6l-.8-1.9 1.2-1.1 .6 1.3zM409.8 106.9l-1.2 0-.5-.7 .7 0zM416.4 78.2l-2 .7-1.2-.8 1.3-.7zM434.5 77.7l1.1-.5 1 .3-1 .3zM455.4 87.6l-1-2.2 1.1-1.4 .6 1.4zM457 88.1l.7-1.7 1.4-1-.6 1.6zM432.4 105.3l-.9-.6 0-.6 .6.2zM420.2 86.6l-1.2-.7-.3-1.3 1 .7zM419.2 78.8l1.4-.9 1.5.5-1.4.7zM424.9 85.8l-2.1-.4-.3-1.8 1.6.3zM450 100.1l-.8-2.2 .6-2.2 .7 2.1zM427 83.7l1.1-1.1 1.2 0-.8.8zM399.2 98.7l-1.4-.9-.4-1.4 1.3.7zM441.9 78.3l.8-.6 .9.2-.7.6zM438.8 103.3l-1 0-.5-.9 .9.2zM421.1 90.1l-2.6 0 0-2 2-.6zM398.4 79.7l-1.4-1.7 .4-1.9 1.5 1.3zM441.3 101.5l-1.7 1.4-1.4-1.6 1.5-.8zM403.2 86.5l0-.9 .5-.3 0 .5zM398.2 98.3l1.1-1.9 1.6.3-.5 1.6zM453.9 108l-1.3-1 .3-2.1 1.1 1.7zM452.1 89.6l-2-.3 .2-1.8 1.6.3zM409.4 101.2l-.3-1.3 .5-1.2 .2 1.2zM399.9 69.8l-1 .2-.8-.5 .9-.1zM439.1 84.8l-.8-.7 .2-.8 .7.4zM433 84.3l1-.9 1.1-.2-.8.8zM435.8 94.4l1.9-1.6 2.5.2-2 1.3zM460.5 104.3l.2-1 .5-.5-.1.7zM462.1 73.4l.2-1.1 .7-.5-.1.7zM429.7 87.7l.4-1.4 1.1 0-.2.9zM404.5 91.9l1-2 1.7.3-.7 1.3zM431.3 98.7l-1.8.5-1.1-.5 1.1-.4zM445.1 76.4l-1.7-.8-.1-1.3 1.1.4zM432.4 103.9l-2-.4-.5-1.4 1.3.2zM453.5 74.5l-1-1.7 1.3-.9 .7 1.2zM424.4 72.1l-.2-2.1 1.1-1 0 1.3zM451.3 84.2l.5-1.6 1.1-.4-.3 1.1zM430.8 101.2l-2.3 0-.5-1.8 1.7 0zM444.3 93.2l-2.9-.4 .5-2.5 2 .4zM403.7 77.7l.7-.5 .7.2-.6.4zM454.7 74l.8-1 .8.6-.5.8zM437.9 96.8l-1.7-.3-.7-1.5 1.6.4zM446.1 86.8l-1.1.2-.5-.8 .9-.1zM431.4 82.9l-1.5 0-1-1.1 1.5 0zM427.9 81.3l-1.3-.4-.6-1.4 1.2.7z" fill="#581a78" opacity="0.88" filter="url(#cb)"/>
<rect x="467" y="69" width="69" height="39" fill="#e1e8ec"/>
<rect x="467" y="69" width="69" height="39" filter="url(#spk)" opacity="0.65"/>
<rect x="467" y="69" width="69" height="39" fill="#581a78" filter="url(#fs)" opacity="0.35"/>
<path d="M517 75.2l.8-.3 .7.2-.7.3zM491.1 97.5l-1.4-.4-.1-1.3 1.3.4zM520.5 78.1l1.3-1.4 1.3.7-.9 1.1zM473.2 92.5l-1.2-1.3-.1-1.4 .9 1.1zM501.8 105.9l-1 .7-.9-.8 1-.6zM516.7 82.3l-1.8-2.1 1.7-1.2 1.1 1.2zM499.1 103.2l-.4-1.5 .8-.7 .4.9zM492.6 79.9l-2.1-1.1-.2-2.2 1.8 1.1zM495.6 72.5l1.6-1.5 1.3.6-.8 1zM491.1 102.2l1.6-1.5 1.2.8-.7 1.3zM532.2 76.7l-.5-1.5 .5-.8 .2.8zM525.5 93.2l-1.1-1.9 .6-1.7 .8 1.5zM490.5 95.5l-1-1 .1-1.3 .8.9zM486.8 102.3l1.3-1.8 1.3-.1-.6 1.1zM491 85.2l-.6-1.1 .7-1 .4 1.1zM530.7 96.8l-1.1-.8-.2-1.2 .9.7zM469.4 76.5l1-2.1 2.2.6-1 1.8zM491 104.2l-1.1.1-.6-.8 1 0zM501.1 106.2l-2.5-1.2 1.2-2.3 1.8 1.2zM511.5 103.2l.1-1.8 1.3-1-.2 1.5zM483.1 91.7l-.4-1 .5-.7 .2.7zM516.8 101.2l-1.5-1.5-.3-1.9 1.2 1.3zM487.3 75.8l-3-.4 .1-3 2.7.5zM520.6 73.9l.1-1.2 .8-.7-.1 1zM504.7 104.2l-1-.5-.2-.6 .6.2zM496.6 104.7l-1.3-1.2 .2-1.4 1 .9zM499.6 93.7l-.7-1.4 .1-1.4 .6 1.3zM533.4 71.8l-2.3-1.1 .4-1.7 2.2.2zM510.7 87.1l-1.5.5-1.3-.8 1.4-.4zM521.8 86.6l-.5-2.4 2.1-1.1 .2 2.1zM499.7 108l-.6-1.3 1.2-.7 .7 1.1zM500.9 96.2l.2-2.1 1.8-.8-.3 1.8zM478.2 103.1l.8-.6 .9.1-.7.4zM508.3 105.8l-2.1.2-.4-1.5 1.4-.5zM522.1 86.1l-1-1.6 .2-1.5 .8 1.3zM508.6 85.9l1.3-1.8 1.6-.2-.9 1.3zM534.1 84.6l-.1-1.2 .9-.2 .3.9zM484.5 95l-1.9.3-1-.9 1.2-.2zM485.3 88.9l-1.2-.3-.7-1 1.1.4zM501.2 95l1.5-1 1.6.5-1.4.8zM515.4 93.8l.6-.8 .6 0-.3.5zM493.7 90.9l-.4-1.9 1.2-.8 .4 1.3zM533.3 83.9l-2.1.6-1.9-.7 2-.5zM494.4 71.9l1.1-1.4 1.4.8-.9.9zM492.7 93.3l.6-1.5 1.3.2-.3 1.2zM474.3 76.4l-1.6-1.7-.4-2.2 1.4 1.7zM501.1 76.6l-.4-2.2 1.3-1.4 .3 1.9zM503.3 85.5l-1.7-.9-1-1.7 1.7.9zM525.5 95.6l-.3-1 .3-.6 .3.6zM524.3 80.6l1.7-1.2 1.2.3-.9.8zM478.8 106.7l-1.5-.6-.3-1.1 1 .4zM508.3 84.2l1.7-1 1.6.2-1.4.9zM477.8 104.8l.8-.6 .6.4-.5.4zM508.4 86.5l-1.7-.1-.5-.9 1 0zM510.4 101.5l2.1-1.1 1.1 1-1.1.9zM479.3 103.8l-1.2-1.3 .1-1.3 1 .8zM513.5 92.8l-1.2-.2-.6-.8 .9.2zM526.5 96.1l.6-1.7 1.3.6-.2 1.4zM485.8 74.3l-2.6 1-.8-1.8 1.4-.8zM469.2 98.7l.4-1.5 .8-.3 0 .8zM513.3 99.3l-2.3-.4-1.2-1.3 1.7.3zM502.9 98.2l-.7-1.5 .3-1.4 .5 1.3zM531.3 99.8l-1.6.8-.9-.9 1-.6zM525.3 93.4l-1.1-.1 0-.9 .9 0zM501.2 86.9l-.2-1.3 .4-.7 .2.8zM513 103.4l-1.6-1.4 .8-1.1 1.3.5zM472.9 98.8l-1.3.5-1.1-.7 1.2-.4zM518 98.3l.9-.6 .9.2-.8.5zM524.7 99.4l.7-.7 .7-.1-.5.6zM475.3 89.9l1.8-1.6 2.3.1-1.8 1.2zM472.5 79.7l1.4-1.6 2 .2-1.4 1.3zM475.5 107.4l1-2.2 1.7-.7-.6 1.8zM487.1 106.6l-2.1.3-.8-1.1 1.2-.3z" fill="#581a78" opacity="0.88" filter="url(#cb)"/>
<path d="M529 40.5Q529.8 54 529.3 66.5" stroke="#2a2a2a" stroke-width="0.7" fill="none"/>
<text x="323" y="51.44" font-size="8.3" text-anchor="middle" fill="#000" transform="rotate(-90 323 48.7)">DMSO</text>
<text x="323" y="91.24" font-size="8.3" text-anchor="middle" fill="#000" transform="rotate(-90 323 88.5)">3-MA</text>
<path d="M511.4 102L533 102" stroke="#000" stroke-width="1.6"/>
<text x="318.6" y="168.6" font-size="18" text-anchor="start" fill="#000">E</text>
<text x="364.55" y="180.04" font-size="7.7" text-anchor="middle" fill="#000">Si-NC</text>
<text x="434.55" y="180.04" font-size="7.7" text-anchor="middle" fill="#000">Si-PTK6-1</text>
<text x="504.3" y="180.04" font-size="7.7" text-anchor="middle" fill="#000">Si-PTK6-2</text>
<rect x="329" y="183" width="69" height="39" fill="#e1e8ec"/>
<rect x="329" y="183" width="69" height="39" filter="url(#spk)" opacity="0.65"/>
<rect x="329" y="183" width="69" height="39" fill="#5e1e86" filter="url(#fs)" opacity="0.35"/>
<path d="M390 211.1l.7-2.3 2-.2-.4 2.1zM390.4 206l-1.4-.3-.5-.7 .8.1zM395.5 201.3l-1.2-.5-.4-.8 .8.3zM372.3 215.3l-.4-.9 .4-.5 .2.5zM343.2 211.4l-2-.6 .3-1.5 1.2.3zM378.6 217.2l-1.6.2 0-1.5 1.2 0zM338 209.6l-.5-1.7 1.3-.8 .5 1.4zM356.9 189.9l1.8-1.2 2.1.3-1.8 1zM352.3 189l-.2-1.7 1.2-1.2 .1 1.7zM338.6 217.5l-1.7.9-1.5-.9 1.5-1zM367.3 213l-1.9 1.1-1-1.6 1.4-.7zM335.2 212.5l-1.4.6-.7-1.2 1.1-.4zM333.2 185l-2.1.2 .4-1.6 1.4-.5zM365.9 189.1l-1-.5 .1-.9 .7.3zM343.6 193.1l-1.4-1-.3-1.3 1 .8zM370.9 199.8l1.3-2.1 1.8.4-.8 1.5zM377 188.4l-2.1-.9-.5-2.2 1.9 1zM388.3 201.5l-1.9.5-1.1-1.4 1.7-.4zM365.2 221.1l-.4-2.2 .9-1.2 .4 1.4zM386.5 186.9l.9-.3 .7.3-.7.2zM371 206.8l-1.5-.6 .6-1.4 1.3.5zM355.3 217.6l-.7-1 0-1.2 .6 1zM388.2 196.2l.7-1 .8-.3-.4.7zM334.5 188.8l-2.4 1.2-.5-2 1.4-1zM340.5 213.3l-1.7.9-1-1 1-.6zM365.8 193.9l-1-1.1 .1-1.2 .8.9zM372.1 212.4l-2.3-.6 .4-2 1.7.4zM336.3 209.4l1-1.4 1.6.1-.9 1.3zM371.6 206.5l.2-1.9 1.2-1-.1 1.5zM380.4 209.5l-.7-1.4 .9-.9 .5 1zM360.6 190.3l.8-.6 .8.1-.6.5zM391.3 191.3l-2.1-1.1-.1-1.4 1.2.5zM336.4 195.1l-1 .5-.4-.9 .8-.5zM363.6 210l.2-1 .6-.5-.1.8zM394.3 202.3l.3-2 1.3-.4-.1 1.2zM349.3 191.3l-.6-.8 0-.8 .5.6zM335 192.1l1.7-1.3 2 .1-1.6 1zM349 201.3l-.9-1.2 .7-1.3 .7 1.1zM369.6 215.3l-1.4 0-.5-.9 1.1-.2zM391.2 188.4l-1.7.3-.7-.9 1-.4zM390.5 205.2l-1.1.1-.8-.6 .9 0zM392.4 186.3l.6-2 1.1-.5-.1 1.2zM369.8 208.5l-2.2-.4-.7-1.2 1.3.1zM366.5 201.4l-.9-.8 0-1 .6.6zM362.2 194.7l1.4-1.6 1.6.7-.9 1.2zM371.9 218.3l.8-.5 .5.2-.4.3zM382.9 190.5l-.9-.2-.4-.9 .8.4zM379.6 198.5l1.4-1 1.1.5-.8.9zM360.1 211.9l0-2.2 1.5-.4 .1 1.3zM373.2 187.8l-1.3.3-.8-.5 .8-.3zM335.5 221.8l1.8-1.4 1.7.4-1.3 1zM352.4 214.4l-.2-1 .5-.9 0 1zM335.6 204.7l-1.5-1.9 1.1-2 1.1 1.8zM337.8 222l.5-1.8 2.3-.3-.8 2zM362 217.3l-.9 0-.5-.5 .7-.1zM395.5 197.8l.3-.8 .7-.2-.3.6zM348.9 202.6l-1.4-1.1 1.1-.8 .8.5zM387.8 201.5l-2-1.9 1.5-2.1 1.9 1.7zM360 210.6l-1.5 1.2-1-1.4 1.2-1.1zM391.5 204.5l.5-2.4 1.9.8-.3 1.5zM359.5 196.1l-.9.5-.5-.6 .6-.6zM373.9 218l-1.2-.3-.1-.9 .8.1zM336.1 186.1l.7-1 1 0-.5.7zM330 217.3l1.5-1.4 1.3.5-.9.9zM364.2 193.5l.2-2.3 1.2-1-.1 1.4zM329.9 219.3l1.8-.9 1.7.5-1.5.8zM349.1 202.6l1.4-1.2 1.1.6-.8.8zM387.2 207.8l.7-2 1.5-.7-.6 1.4zM383.9 192.6l-.9-.1-.4-.7 .7.1zM336.3 202l-.3-1.2 .4-.7 .2.8zM385 214.5l-1.3-.7 .2-1 .8.3zM342.1 192.6l.6-1.5 .9-.3-.2 1zM396.3 221l-1.1.5-.7-.7 .8-.4zM363.7 193.5l-1.7.4-.8-1.3 1.4-.4zM337 218.2l1-1.5 1.2 1-.7 1.1zM377.8 221.2l1-.8 .9.6-.7.6zM375.2 207.1l-1.2.5-.8-.6 .9-.4zM334.9 187.4l-1.1-.7 .4-1.3 1 .8zM334 212.9l-2.4.6-.8-1.8 1.6-.3zM343.5 190l0-2.7 2.2 0 .3 2zM368.3 216.4l-.9-.5 .1-.8 .5.4zM372.2 213.4l-.2-1.8 1-1.5 .1 1.7zM348.8 218l1.6-1.3 1.2.2-.7.9zM388.8 197.1l-1.9-.4-.9-1.2 1.3.3zM338.6 196.4l-.4-2.4 1.8-.1 .6 1.5zM359.5 203l.7-.5 .6.2-.5.4zM343.8 216.4l-1-1.3 .2-1.1 .7.9zM364.9 190.1l-.6-1.8 .5-1.3 .5 1.3zM367.5 205.9l-1.7-.1 .2-1.3 1.3-.2zM336.9 184.6l1-.8 .6.7-.5.7zM365.9 194.2l.9-1.9 1.4 0-.5 1.1zM388.5 190.9l1.2-.7 .9.1-.7.6zM331 197.3l1-1.9 1.9-.9-1 1.8zM378.1 201.1l-1.8-.4-.8-1.2 1.3.4zM371.6 208.7l-.6-.9 .2-.7 .4.6zM374.9 205.6l1.1-.8 1.2.6-1.1.6zM388.6 215.8l.1-1.3 .9-.8-.2 1.2zM373.7 219.4l.4-1.5 1.2-.5-.4 1.1zM396.5 219l-.8-.4-.3-.6 .6.2zM341.5 221.4l1.5-.9 1.1.2-.8.7zM336.1 218.3l-.6-2 1.1-.9 .4 1.2zM366.5 210.7l1.8-1.1 1.8.3-1.6.8zM369.5 191.7l-1.9-1.4 .6-1.5 1.3.7zM339.8 202.6l-2.1-.6-.8-1.7 1.7.6zM391.2 201.9l-.4-2.1 1.8-.9 .1 1.8zM361.6 187.5l.7-1.7 1.1-.5-.4 1.1zM333.8 185.4l.5-1.4 1.3.2-.4 1zM390.6 185.2l1.2-1.3 1.2-.1-.7.9zM332.8 211.9l-.9-.1-.6-.6 .9 0zM382.4 212.2l-.5-2.6 2.2-.1 .3 1.8zM335 219.1l-2.3.9-1.4-1.6 1.8-.6zM371.8 199.5l-.9-.3-.1-.6 .5.2zM387.8 184.3l-1.3.2-.7-.6 .8-.1zM377.8 218.1l-3-.1 .4-2.6 2.3 0zM386.4 222l-.4-1 .9-.9 .4 1.1zM335 194.1l1.9-1.2 1.7.4-1.4.8zM351.2 186.2l-.9.3-.7-.5 .7-.3zM390 200l-1.8.1-.9-.8 1.1-.1zM398 210.9l-2.3-1 .9-1.7 1.4.4zM358.8 211.9l.7-1.8 1.4-.2-.3 1.3zM381.1 202.7l-1.4.6-1.1-.8 1.1-.4zM362.5 215.4l.1-1.6 1.6 0-.2 1.4z" fill="#5e1e86" opacity="0.88" filter="url(#cb)"/>
<rect x="399" y="183" width="69" height="39" fill="#e1e8ec"/>
<rect x="399" y="183" width="69" height="39" filter="url(#spk)" opacity="0.65"/>
<rect x="399" y="183" width="69" height="39" fill="#5e1e86" filter="url(#fs)" opacity="0.35"/>
<path d="M409.8 211.2l-.3-1.7 1.4-.8 .3 1.6zM435 203.2l-.9-.2-.2-.7 .6.2zM454.4 192.6l-.8-.4-.4-.6 .7.3zM442.3 185.6l-1.8-.7 .2-1.8 1.5.8zM411.6 215.7l-2.3.1-1.1-1.5 1.8-.1zM434.4 190.5l-2.1 1-1.6-1.4 1.8-.7zM464.5 219.2l.8-1.9 1.7-.6-.8 1.5zM433.6 216.5l-2.1-.7-.8-1.4 1.5.5zM428.8 198.1l1.3-1.3 .8 1.2-.7 1.2zM432.1 205.3l.5-1.1 .9-.3-.3.8zM412.4 191.5l-1.9-1.4 .2-2 1.5 1.2zM404.6 186.6l1-1.9 1.9 0-.9 1.6zM461.6 222l-1.2-1.4 .1-1.9 1.1 1.5zM434.3 199.1l-2.4-.4 .2-1.8 1.7-.2zM451.6 202.3l.5-.9 .8.2-.3.6zM411.8 187.5l-1.5-1.5-.4-1.9 1.3 1.4zM416.3 222l-1.6-1.7 1.8-1 1.5 1.2zM453.4 218.7l-.1-1.5 1-1 0 1.3zM435.3 194.3l.4-.8 .8-.3-.5.7zM438.5 208.8l1-1.6 1.5.4-.6 1.4zM462.4 188.5l-1.2.5-.4-1 .9-.3zM460.3 209.2l-1.8.1-.7-1.2 1.3-.1zM411.1 191.8l-1.3-1.3 .3-1.2 1 .6zM458.7 213.7l.4-.8 .5 0-.1.6zM412.3 212l-1.9-.6 0-1.3 1.2.1zM421.3 219.3l-1.5-.8-.3-1.5 1.2.9zM439 204.4l.6-2.4 2.1-.5-.5 2zM435.9 186.7l1.2-2.2 1.8.2-.6 1.7zM408.3 186.4l-2 .2-1.2-1 1.5-.2zM400.6 209.6l-1-1.3 .6-1.2 .7.9zM403.6 201.2l-1.6-.9-.7-1.5 1.4.8zM415.4 199.7l-.6-1.6 .5-1 .4.9zM431.2 211.6l1.5-1.3 1.8.1-1.3 1.2zM457.6 211.2l.4-1.1 .7-.5-.2.8zM455.1 220.6l.8-.5 .5.5-.5.3zM410.2 204.9l-1.3 0-.9-.6 1.1 0zM405.8 221.2l.2-1.3 1-.3-.1 1zM417.6 221.1l-.9-.8-.1-.8 .7.4zM413.6 207.3l-1.1-.7-.3-1 .8.5zM442.7 194.6l-1.5 0-.3-1.1 1.1-.2zM399.6 215l1.4-2.1 1.7 1.4-1.1 1.3zM441.5 210.9l-.8-.3-.1-.6 .5.1zM430.7 218.8l-.7-.8 0-.9 .6.7zM402.9 191.8l-1.5-1.2 .6-1.6 1.3 1zM464.4 217.5l-1.6 1.3-1.5-1.4 1.6-1.1zM453.3 190.7l-2.1.4-1.4-1 1.7-.4zM455.1 197.2l-1.4-.5-.2-1.3 1.2.3zM403.8 187.4l-1.1-1.8 1.2-1.1 .7 1.2zM400.6 203.8l-.1-2.2 1.6-.1 .5 1.4zM435.1 200.4l.4-1.9 1.2-.4 .1 1.2zM414.4 186l-1.2-1.2 .1-1 .9.5zM431.4 190.2l1.4-1.4 1.7-.2-1.2 1.1zM452.4 220.3l-.3-2.2 .7-1.3 .4 1.5zM464.9 214l-1.3.5-1-.6 1.1-.4zM442.1 189.6l1.4-.8 1 .3-.8.7zM435.9 214.7l.6-2.2 1.5-.1-.1 1.4zM410.2 204.8l.6-1.6 1.1.5-.2 1zM438.5 185l-.2-1.4 1.3-.5 .1 1.3zM461.8 203.5l-1.2.1-.7-.9 1-.1zM451.8 209.4l-1.5-.5-.2-1.3 1.1.4zM438 201.1l-2 .6-1.6-1 1.8-.5zM426.7 198.4l-1.7.7-1.4-.8 1.4-.7zM411.3 193.3l.6-2 1.4-.2-.2 1.2zM456.2 203.8l-.7-1.2 .4-1.2 .6 1zM459.1 213.4l-.8-1 0-1.1 .8.9zM411.9 216.4l.6-.8 .9.2-.6.6zM455.7 194.3l0-1.4 1-.2 .2 1zM447.5 192.6l.3-1.4 .9-.4-.2.9zM407.9 186.4l0-1.8 1.6-.4 0 1.6zM400 212.6l-.1-1.5 1-1.2 0 1.5zM443.4 209l-.9-1 0-1.2 .7.9zM433.8 192.2l.5-.7 .6-.2-.3.6zM440.9 206.1l-1.7.7-1-1.4 1.5-.4zM422.7 191.6l-1.2.6-.7-.9 1-.6zM414.1 188.3l-.3-1 .5-.8 .3.9zM448.4 204.3l-1.2.1-.5-.6 .7-.1zM438.7 216.6l-1.6-1.8 1.8-1 1.1 1.2zM461.4 197.5l.4-.9 .9-.2-.5.8zM438.1 190.3l.8-.5 .9.1-.7.4zM436.4 190.9l-1.4-1.2 0-1.4 1.1.8zM403.9 194.6l-1.3 0-1-.7 1.2 0zM419.6 188.6l-.1-1.7 1.3-.4 .2 1.3zM427.8 211.3l0-1.6 .9-.7 0 1.1z" fill="#5e1e86" opacity="0.88" filter="url(#cb)"/>
<rect x="469" y="183" width="68" height="39" fill="#e1e8ec"/>
<rect x="469" y="183" width="68" height="39" filter="url(#spk)" opacity="0.65"/>
<rect x="469" y="183" width="68" height="39" fill="#5e1e86" filter="url(#fs)" opacity="0.35"/>
<path d="M536.4 188.6l-2.4 1.4-1.1-1.6 1.4-1.2zM494.1 219.1l-2.4-.5-.5-2 2.1.2zM515.1 219.7l.3-.8 .6-.4-.2.6zM481.4 218.2l-.2-2.2 1.3-1.9 0 2.2zM518 208.4l-2.4-.7-.4-2.2 2.1.6zM511.8 189.5l.8-2 1.4.6-.2 1.3zM471.2 220.6l-.8-1.5 .8-1.3 .7 1.3zM489.6 198.8l-.2-1.3 .7-.8 .2 1zM516.9 204.2l-2.4.5-1.2-1.5 1.7-.4zM532.2 221.5l-1.1-1.4 1.2-1.3 .6 1.4zM506.8 197.7l-1.4-.6 .4-1.1 1 .2zM524.5 209.3l-2.3.2-.1-2 1.9-.4zM530.3 201.7l1-1.3 1.4 0-.8 1.1zM518.5 202.7l.4-1.8 1.7-.6-.4 1.7zM511.9 219.9l-1.6.4-.9-.6 1-.3zM516.6 200.6l-.7-.5-.2-.6 .5.3zM482.8 193.4l.7-1 .7.3-.3.7zM481.7 198l.9-2 1.3-.4-.4 1.2zM527.9 185.2l-1.6-.3-.6-1.4 1.4.2zM501.5 193.5l-1.6 0 0-1.4 1.1.1zM531 208.5l-1.6.3-.7-.7 .9-.4zM472.7 212.9l-1.7.5-1.5-.5 1.5-.4zM506.3 190.2l-1.5-1.4 .1-1.2 .9.6zM510.9 191l1.1-1.9 1.7-.1-.7 1.5zM504.5 191.1l-.9-.5-.2-.8 .7.4zM525.7 221.7l-1.4-.4-.7-1 1.2.4zM514.4 191l-1 0-.3-.7 .7 0zM534.6 190.9l-.5-2.1 1.1-1.3 .4 1.6zM469.4 221.6l.6-2 1.1-.5-.3 1.1zM479.1 203.1l1.8-1.4 1.9.7-1.5 1.2zM489.8 221.2l1.7-.9 1.7.3-1.5.7zM491.5 194.6l-.8-.4-.3-.6 .6.3zM490.7 188.3l-1.1-1.1 .7-1.1 .9.8zM494 216l-1.3-1-.5-1.5 1.2 1zM471.7 221.2l-.8-1.2 .9-.6 .6.7zM476.5 184.9l1.9-1.5 1.5 1.5-1.4 1.4zM503.9 186.9l-1-1-.1-1.1 .8.7zM510.8 186.5l.5-2 1.3-.7-.3 1.4zM471 186.9l-1.5-.3-.5-.8 .9.1zM514.3 207.7l-2.1.7-1.3-.9 1.4-.5zM516.5 220.6l-1.1-.9 .1-1 .7.5zM530.4 205.3l.8-.9 1.1-.3-.8.8zM504.7 211.2l-.7-1.8 1.3-1 .5 1.4zM521.7 197.6l1.5-1.1 1.2 1-1.1.7zM518.7 186l0-1.3 .6-.6 .1.8zM518.8 192.6l-1.4 0-.6-.8 .9 0zM500.9 215.5l-2.3-.1-.7-1.4 1.4 0zM495 202.1l-1-.2-.3-.6 .7 0zM499.4 211.3l-.5-1.3 1-.8 .2 1.1zM476 186.5l1.1-1.2 1.4-.2-.9.9zM499.7 212.8l-2.1-.5-.1-1.4 1.2.1zM505.1 189.3l1.7-1.5 2.2.3-1.7 1.4zM503.5 189.5l1.9-1.3 1.6.8-1.3.8zM511.5 217.5l-.8-1 0-1.2 .7.9zM490.1 208.3l-2 .8-1.7-1.3 1.9-.6zM481.3 184.2l-1.2-.1-.8-.7 1.1 0zM489 209.9l.1-1.7 1.4 0-.1 1.2zM483.8 198.7l-2.3.7-1.6-1.6 2.2-.6zM469 218.9l.5-1.2 1.2-.3-.8.9zM477.4 196l1.1-2.3 1.9.8-.8 1.5zM484.8 197.7l-.6-.9 .2-.7 .5.5zM500.8 200.6l.4-1.4 1.1.1-.2.9zM485.7 213.3l-1.7-1.2 .5-1.3 1.1.5zM496.6 219.1l-1.4 0-.1-1 1.1-.2zM533.8 192.1l-1.5.4-.7-.8 .8-.3z" fill="#5e1e86" opacity="0.88" filter="url(#cb)"/>
<rect x="329" y="223" width="69" height="39" fill="#e1e8ec"/>
<rect x="329" y="223" width="69" height="39" filter="url(#spk)" opacity="0.65"/>
<rect x="329" y="223" width="69" height="39" fill="#5e1e86" filter="url(#fs)" opacity="0.35"/>
<path d="M392 260.3l.7-.7 .7.2-.5.5zM338.2 231.6l-.7-1 .4-.7 .4.5zM377.9 241.3l-.9-1.9 1-.9 .9 1zM368.8 250.7l-.2-2.5 1.8-1.3 0 2.1zM369 249.5l-.9-.5-.1-.9 .8.5zM360.8 248.6l-1.2-.1-.5-1 1 .2zM338.1 227l-1.3.3-1-.6 1.1-.2zM355.6 235.8l-1.7-1.1-.1-1.4 1.1.7zM382.1 251.2l.7-1 1.2-.2-.7.9zM393.4 229.6l.8-.5 .5.4-.4.4zM374.7 262l1.2-1.8 2.2-.4-1.2 1.8zM353.3 262l-1.2-.7 .5-1 .8.5zM394.2 260.7l-1-.3-.2-.7 .6.1zM385.6 234.9l-1.5-1.8 .6-1.6 1.3 1.1zM384.4 259.1l.3-1.5 1.2-.7-.4 1.3zM346 236.3l-1.3-1.6 .3-1.6 1.2 1.2zM337.3 249l-1.3-1.1 0-1.1 .9.6zM334.3 246l-.3-1.1 .5-.8 .3.9zM356.8 254.5l-2.4.3-.9-1.9 1.9-.1zM361.7 239.9l-1.9.4-1.3-1.2 1.7-.3zM368.6 245.2l-2.6-.7 .2-2.5 2.4.6zM362.5 254.7l0-1.9 1.4-.4 .1 1.3zM350.5 261.6l-1.2-.9 0-1.3 1 .8zM367.8 233.7l-1.1-.4 .1-.8 .8.1zM363.8 228.3l-.5-.9 .3-.8 .4.7zM348.4 257.7l-2.1-.9-.2-1.4 1.3.2zM349.8 238l-2.5.6-.8-2.2 2.1-.4zM377.9 234.9l-2.2.3-1-1.1 1.4-.4zM393.6 230.2l-1.8 1.1-1.3-1.3 1.5-.8zM376.5 246.5l.9-1.9 1.7-.4-.8 1.4zM337.3 227.1l.7-1 .9.2-.5.7zM366.1 257.8l-.8-1.2 .3-1.2 .7 1zM348.3 257.7l2.1-1.8 1.6 1.6-1.4 1.6zM386.9 226.3l-1.2-1.6 .2-1.5 .8 1.2zM357.8 226.5l-1.1-1-.2-1.1 .9.7zM345.2 236.5l-.1-1.7 1.5-.6 .1 1.5zM395.2 245.2l0-1.5 1.1-1 0 1.4zM376.5 240.2l-2.1.6-1.1-1.3 1.4-.3zM329.5 238.4l1.8-.8 1.6.5-1.5.6zM342.2 246.8l-1.7.4-1.1-1 1.3-.2zM335.2 242.2l-2 .1-.8-1.5 1.6-.1zM371.9 244.5l-1.3-.5-.4-.7 .8.2zM362.1 245l.7-1 .7-.1-.3.7zM369.9 259l-1.8-.4-1.1-1.1 1.5.3zM394.4 261.5l-2.4.5-.5-1.5 1.6-1.1zM378.1 261.7l-.3-1.7 1.4-.8 .3 1.5zM375.1 258.2l-1.9-.5-.4-1.1 1.2.1zM342.8 231.8l-1.9.9-1.4-1.5 1.8-.5zM384.5 254.2l-.2-1.7 .8-1.2 .1 1.4zM383.6 238.3l-.1-1.6 .8-.9 .1 1.1zM333.8 237.1l.4-1.7 1-.5-.1 1.1zM385.4 229.3l-1.7-.3-1-1 1.4.2zM363.9 256.1l-.5-1.6 .7-1.4 .4 1.5zM386.3 235.2l-.1-2 1.3-1.6 0 2zM338.3 243.8l-.9-.8-.1-1.2 .9.8zM336.7 234.5l-1.7-1.5 .4-1.4 1.2.8zM345.4 226.6l-.1-2.3 1.3-1.3-.1 1.6zM366.7 248.8l.2-1.9 1.9 0-.4 1.6zM379 241.9l.3-1.6 1.3.2-.1 1.2zM383 239.9l.3-1.4 .8-.4 0 .9zM392.5 224.7l1.4-1.4 1.2.2-.7 1zM380.1 247.7l2.1-1.1 2.1.6-2 .8zM349.4 245.8l-.6-2.2 .9-1.7 .6 1.8zM393.1 239.8l.5-1.7 1.4-.3-.4 1.2zM330.3 236.8l-.9-.5 0-.7 .7.3zM381.8 249.5l.6-1.4 1.3.4-.6 1zM395.9 240l.7-1.3 1.2.5-.5 1.1zM344.9 259.3l1.7-.7 1.8.4-1.7.5zM378.5 253l.5-1.3 1.1-.4-.3 1.1zM333.6 239.2l-2.3-.8 .7-1.6 1.3.3zM335.8 240.5l.8-1.5 1.4.5-.7 1.2zM368.7 254l-1-1.7 .5-1.8 .9 1.6zM392.1 253.3l-1.3-.9-.5-1.3 1.2.7zM387 256.8l-1.3-1.8 1.6-1.1 1.2 1.4zM392.2 257.2l-.5-1 .2-1 .4.8zM331.4 258.2l-.1-1 .5-.7 0 .8zM384.6 234l-.4-1 .5-.8 .3.8zM337.3 231.8l-.7-.6 .1-.9 .6.6zM342.3 256.2l-1.2-.4-.2-.8 .7.2zM336.6 231.1l-2.8.3-.2-2.4 2-.2zM356 251.9l-1.4.6-1-.8 1.1-.6zM335.8 258.2l-2.3-.5 .3-1.7 1.4.1zM335.6 233.1l-.9-.2-.6-.5 .8.1zM364.9 254.7l-.9.2-.4-.4 .5-.1zM373.5 256.1l-1.4.8-1.1-.8 1.1-.4zM380.8 262l-.3-1.8 .8-1.5 .2 1.7zM361 227.6l1.2-1.8 1.5-.2-.7 1.4zM371.1 235.9l.4-1.3 1.3-.1-.6 1zM388.6 240.2l-.1-1.8 .8-1 .1 1.2zM364.6 232.7l-1-.8 .6-.9 .6.6zM349.2 238.7l-2 0-.8-.9 1.2-.2zM342.9 251.8l-1.9.2-1-.8 1.2-.1zM351.7 257.2l.6-.9 .9-.3-.5.8zM395.6 229.8l.1-1 .8-.1-.1.7zM344.3 239l-1.1-1.9 .7-1.8 .9 1.6zM340.6 255.6l.8-1.9 1.7-.4-.7 1.5zM358.6 248.4l1.9-1.4 1.9.8-1.6 1.3zM396.4 251.3l-2.7-.8 .8-2.3 2.1.6zM390.7 247.8l-1.3.2-.2-1.3 1.2-.2zM354.6 232.8l-.3-1.2 .6-.6 .2.8zM377.5 234.1l-1.2-1.2-.1-1 .8.6zM347.9 237.2l-1.4-1.9 1.2-1.7 1.1 1.6zM368.1 243.6l0-1.1 .6-.6 .1.8zM369.1 239l1-1.1 .6 1-.6.9zM336.5 252l-1.3.1-.5-.6 .7-.2zM355.4 260.3l-.6-2.1 1.3-1.1 .7 1.5zM382.7 250.6l-1.5.1-.5-1.1 1 0zM381 229.3l-.6-.6-.1-.8 .5.5zM380.3 255.1l.1-1 .7-.1-.1.6zM373.8 247.7l-1.8-1.2 .5-1.5 1.2.7zM345.3 258l-.6-1.8 .5-1.5 .5 1.5zM396.3 228.1l-1.3-1.8 .4-1.5 1 1.1zM382.5 252.5l-1.7-.8-.6-1.7 1.5.9zM394.4 252.1l-1.9-.2-.4-1.6 1.5.2zM384.1 257.1l-1.5-1.1 .5-1.4 1.1.7zM379.6 243.6l-1.9-.1-.7-1.3 1.4.1zM388.1 249.8l.1-1.6 1.1-.6 .1 1.2zM359.9 226.3l-1.2 0 .1-1 .8 0zM361.6 231.8l-1.7-.3-.1-1.3 1.1.2zM383.1 225.4l-1.4.4-1.2-.5 1.2-.3zM394.4 250.5l.8-2.6 1.9 1-.1 2zM358.1 258.6l-2.3.3-1.3-1.1 1.7-.4zM367.5 242l-2.3.1-.3-1.9 1.5 0zM331.5 234.8l-1.5.6-.6-.9 .8-.5zM348.6 233.3l-.9-1.4 1.2-1.1 1 1.4zM345 249.8l-.1-1.2 .6-.6 .2.8zM361.9 226.2l-2.1-.9-.6-1.5 1.6.4zM352.8 257.9l-1.9-1.2-.2-2.1 1.5 1.3zM354.7 237.7l.6-2.4 2 .2-.4 1.7zM334.7 228.4l-1.3.2-1-.8 1.3-.2zM382.2 237.1l-1.4-.7 .3-1.1 .9.3zM393 226.1l-.3-1.1 .4-.6 .3.6zM380.9 241.9l-2.7.9-.9-2.6 2.5-.8zM390.7 258.3l-1.4-1.2 .2-1.6 1 1zM387.8 235.9l-.6-1 .9-.7 .4.9zM378.7 230.5l-.4-1.5 .7-.9 .3 1zM393.9 248l-.3-1.9 .7-.9 .4 1.1zM363.5 230.7l-1.8-1.4-.5-2.2 1.6 1.5zM371.9 239.6l.4-1.7 1.6-.6-.5 1.6zM332.9 255.1l-1.3.2-.5-.8 .8-.2zM358.5 245.2l-.5-2.2 1.9-.3 .3 1.4zM351.2 241.2l.6-.6 .6 0-.3.4zM369.6 226.3l-1.3-.8-.4-1.4 1.2.8zM332.9 229l.1-1.2 .7-.5 0 .9zM353.9 259.5l-1.6-.4 .3-1.3 1 .3zM374.5 225.1l-1.8-.9-.5-1.2 1.3.4zM384.2 250.1l-.3-2.1 1.4-.8 .3 1.4zM344.8 244.1l-.7-1.2 .9-.4 .5.6zM338.5 248.1l.9-1.4 1.3-.1-.7.9zM381.7 253.4l-1.3-.1-.8-.9 1.1.2zM355.4 240l-1.1-2.2 1.6-1.1 1.2 1.5zM339.9 230.9l.9-1.6 1.4-.2-.7 1.2zM373.6 235.4l-1.3-1.9 .7-1.6 .9 1.3zM348 247.8l-.1-1.3 1.2.1 0 .9zM370.3 230.7l-.4-1.4 .4-1 .3 1zM353.1 249.5l-1.1-.5-.3-.9 .8.4zM388.3 229.2l-1.5-.8-.2-1.6 1.2.9zM375.8 230.6l-1.8-.1-.7-.9 1 0zM345 245.6l-2.4 1.8-1.6-2.2 2-1.7zM357.1 255.8l-2-.4-1.1-1.5 1.9.3zM383.9 257.3l-1-.2-.1-.9 .8.2zM365.1 241.6l-2.1.7-1.6-1 1.7-.5zM389.8 243.3l-1.1-2 1.6-1.6 .9 1.9zM351.9 230l-1.2-1.3 1.3-1 1 1.1zM391.7 254.7l-1.9-1.6 .9-1.6 1.4.9zM377.8 227.2l-2.4 1.7-1.4-2.4 2.1-1.2zM395.4 258.1l-.7-1.5 .4-1.1 .5 1zM396.1 245.1l.5-2 1.4.6-.1 1.2zM396.5 256l-1.2-.9-.3-1.1 .9.6zM365.3 230.5l-.2-1 .5-.4 .1.5zM382.3 243.3l-1.4-.2-.6-.8 .9.1zM361.6 259.3l0-1.6 .9-.7 .2 1.1zM347.9 233.4l-.8-1.8 .6-1.7 .5 1.6z" fill="#5e1e86" opacity="0.88" filter="url(#cb)"/>
<rect x="399" y="223" width="69" height="39" fill="#e1e8ec"/>
<rect x="399" y="223" width="69" height="39" filter="url(#spk)" opacity="0.65"/>
<rect x="399" y="223" width="69" height="39" fill="#5e1e86" filter="url(#fs)" opacity="0.35"/>
<path d="M450 256.9l-2.7.1-.7-2.2 2.1.2zM450.2 230.3l.6-1.8 1.3-.6-.3 1.4zM467.1 229.6l-.7-2.1 .8-1.5 .5 1.5zM463.3 227.7l.5-2.4 1.9.1-.2 1.7zM434.4 238l1.6-1.8 2.3.5-1.7 1.3zM404.1 250.1l1.3-1.6 1.7-.6-1.2 1.4zM451.7 259.5l-1.8.6-.5-1.3 1.1-.6zM446.6 261.6l-1.5-.2-1.1-1 1.4.3zM416.9 248.9l-1.6-.8-.4-1.4 1.3.5zM425.9 241.9l.5-1.3 1.2.2-.4 1zM459.7 233.5l-.8-.6 .2-.7 .5.4zM449.9 224.5l1.8-.6 1.4.5-1.4.6zM428.2 239.2l-1.4-.2-.2-1.1 1.1 0zM455.3 248.1l-1.2.4-1-.5 1-.4zM443.5 259.3l-1.2-.7-.2-1 .9.4zM426.5 224.6l-.4-.8 .2-.8 .3.7zM461.2 232.3l-1.1-.8 .8-1.1 .7.8zM463 245.4l.3-.8 .6-.5-.3.7zM411.6 229.4l-.3-.9 .3-.7 .3.7zM416.8 250.2l-1.1-1.6 .6-1.8 1.1 1.6zM457.3 236.9l-1.3 0-.4-1.2 1.2.2zM458.6 233.1l-.1-1.3 .9-.7 .2 1.2zM464.9 232.9l-1.1-.3-.1-1 .9.3zM430.5 237.5l.4-2.1 1.6.3-.1 1.2zM456.2 252.3l-1.2-.2-.3-1.1 1.1.1zM417 237.3l-2.2-.8-.9-2.1 2 1zM441.4 245.5l1.1-1.1 1.3.5-1 1.1zM435.5 236.4l-1.5 0-.8-.7 1 0zM439.4 232.8l-1.6-.1-1.2-.9 1.4.2zM452.8 256.7l-.5-1.5 1.1-.8 .5 1.2zM415.6 229.2l-2.1-.1-1.1-1.1 1.5 0zM447.7 230.5l-.3-1.4 .5-.8 .3.8zM408 247.1l.7-.7 .5.3-.3.4zM432.6 262l-.8-1.5 .6-2 .7 1.9zM407.2 248.4l-2 .5-.9-1.5 1.7-.5zM466.5 231.6l-1.4-.4-.5-.8 .9.2zM425.2 226.6l-.5-1.3 .7-.9 .4 1.1zM415.7 250.1l-1.7-2.1 2-.9 1.5 1.3zM437.3 244.3l-.4-1.7 .7-1.4 .4 1.5zM462.7 246.1l-1.4-.3-.7-.9 1.1.2zM407.1 230.5l-.1-1.7 1.4-.8 0 1.6zM461.1 247.5l1.7-1.5 1.3 1.1-1 1.3zM427.8 243.8l.7-1.6 1.3-.5-.5 1.2zM447.6 229.4l.1-2.4 1.7.2 .4 1.6zM412.5 244.6l-1.1-.4 .1-.8 .8 0zM453.2 254.1l-1.5.4-.6-1.5 1.4-.3zM463.9 257.3l-.5-1.8 1.3-.3 .7 1zM465.8 262l-.9-.6 .2-1.1 .7.9zM440.7 240.9l-1-.7 .5-.9 .9.4zM450.7 230.5l-.1-2.1 1.1-1.8 .1 2.1zM443.8 225.5l-1.7-.8-.7-1.7 1.5.9zM459.9 246.5l-.2-1.1 .7-.6 .2.9zM445.1 249l.3-1.4 1.3-.6-.3 1.4zM436 261.4l1.4-1.2 1.4 0-1 .9zM439.1 240.4l-.6-.7 0-.9 .5.8zM464.6 230.3l-1.1-2.1 .7-1.4 .9 1.2zM400.3 252.8l-.1-1.8 .8-.8 .4 1.1zM452.6 258.6l-1.1-.5-.6-1 1.1.5zM416.9 241.2l-1.4-.7-.6-1.1 1.1.6zM462.4 258l-.5-.7 .1-.6 .4.4zM462.8 239.2l-1.3-.3-.5-.7 .8.2zM417.2 226.5l-1 .1-.4-.7 .7-.1zM457.9 257.8l-1.9.3-.4-1.4 1.3-.4zM426.3 256.9l-.6-.9 .3-.7 .5.5zM407.6 229.3l-1.2.2-.6-.6 .7-.2zM459.6 233.3l.9-1.7 1.6-.8-.9 1.5zM429.2 237.7l-1 0-.4-.6 .6 0zM431.1 230.6l-.1-2.4 1.4-.5 .3 1.3zM418.9 257.9l1.5-1.1 1.1.7-.8.9zM399.5 234.5l.3-2.2 2-.5-.4 2zM445.8 232.6l.5-.8 .6 0-.2.5zM440.5 246.9l-2.4-1 1.2-1.7 1.4.6zM444.3 225.6l-2.1 1-1.3-1.1 1.4-1zM423.6 255.8l.9-.6 .5.6-.4.4zM438.5 262l.6-1.8 2.2 0-.8 1.8zM451.2 230.7l1.3-.9 1.3.7-1.2.8zM425.8 241.5l.4-1.3 1.1-.4-.3 1.1zM421.8 234.1l.6-2 1.6.4-.3 1.3zM439.2 244.3l-.1-2.1 1.3-.4 .4 1.3zM435.3 236.4l.7-1 1 .4-.6.8zM444.1 228.2l-.9-1.6 .8-1 .5.9zM419.7 234.7l.7-.6 1 0-.8.5zM409.2 247.2l1.2-.8 .9.3-.7.5zM422.3 246.9l.8-1.1 .9.8-.5.9zM445.2 245.1l.1-1.8 1.8-.5-.4 1.6zM417.5 251.8l-1-.6-.2-.9 .8.5zM416.8 259.7l.3-1.5 .8-.6-.1.9zM438.7 246.5l-.1-1 .4-.8 .1.9zM457.8 228.5l-1.7-.1-1.1-.9 1.3.1zM408 260.5l.2-2.6 2.2-.7-.4 2zM408.6 240.2l-1.7-1.3 .2-1.5 1.4.7zM457.9 241.1l.3-1 1-.2-.4.9zM405.5 232l1.1-.8 1.4-.1-1.1.8zM457.4 237.4l.5-.9 .6.1-.2.5zM465.5 247.8l-2 .3-1.8-.9 2-.2zM408.7 253.9l-.2-.9 .6-.6 .1.8zM442.8 235.5l-1 .4-.4-.8 .7-.4zM460.7 243.5l1.2-1.5 1.7-.3-1.1 1.4zM445.8 242.8l.7-1.1 .9.3-.3.7zM407.9 231.7l-1.4-1.2-.4-1.5 1.2 1zM435 230l.5-1.7 1.5-.7-.4 1.6zM411.2 225.2l-1.2-1.2 .2-1 .9.5zM429.7 228.5l-.7-2 .6-1.8 .5 1.8zM426.8 228.1l-1.1.1-.2-1 .9 0zM446.7 243.4l-1.8-.7-.1-1.3 1.1.4zM433.6 233.6l-.4-1.3 .3-.8 .4.8zM408.9 225.6l1.1-1.7 2-.1-1.2 1.4zM423.3 257.5l1-2.2 2.2-.1-.8 2zM446.2 236.8l1.5-2.1 1.8 1.4-1.1 1.9zM456.2 250.7l-2.2.7-.9-1.4 1.4-.8zM457.9 226.4l-1.2.7-.5-.9 .7-.6zM399.2 252l.7-1.3 1.2-.1-.5 1.1zM451.3 231.8l-.1-1.3 .5-1 .1 1.1zM463.4 254.3l.9-1 .9-.1-.5.8zM425.4 259.7l-.8-1.1 .6-.9 .7.8zM429.4 236.1l1.7-1.8 1.6 1.5-1.2 1.7z" fill="#5e1e86" opacity="0.88" filter="url(#cb)"/>
<rect x="469" y="223" width="68" height="39" fill="#e1e8ec"/>
<rect x="469" y="223" width="68" height="39" filter="url(#spk)" opacity="0.65"/>
<rect x="469" y="223" width="68" height="39" fill="#5e1e86" filter="url(#fs)" opacity="0.35"/>
<path d="M493.7 259.7l.8-.9 .9-.1-.7.6zM534.6 234.1l-1.3-.8 .1-1 .8.4zM524.3 244l1-1.5 1.1-.1-.6.9zM499.2 227.2l1.6-1.5 1.5 1.2-1.3 1.2zM482 230.2l-.5-.9 .3-.7 .3.6zM530.2 225.6l-2.3.1-.6-1.8 1.7-.2zM498.6 243.7l-1.3-1.4 1.3-1.4 .9 1.4zM470.8 239.8l1-1.5 1.5-.1-.8 1.2zM512 236.9l-1.1.5-.7-.9 1-.6zM522.3 232.5l-2.4 0-.6-1.5 1.5-.3zM511.3 245.3l-.8-1.1 .4-1 .6.8zM498.5 236.9l1-.4 .7.3-.7.3zM516.8 246.1l-.7-1.4 1.4-.5 .4 1.1zM476.3 255.5l-.1-1 .5-.3 .2.5zM487.1 260.5l-.1-1 .7-.7 .1 1zM480.1 238.1l-.9-.5-.2-.8 .7.4zM505.5 256.9l.7-1.1 1.3.5-.8.9zM481.5 255.5l-1.7-.9-.3-1.3 1.2.5zM489.4 255.4l-1-.7-.2-.8 .7.4zM487.2 252.1l1.3-.7 .7.6-.7.5zM494.2 243.6l-1-.8-.4-1.1 .9.7zM474.7 225.3l-1.1.1-.5-.6 .7 0zM527.5 250.8l.3-2.4 2.1-.8-.3 2.2zM528.9 225.8l1.1-2.5 2.6.6-1.1 2.3zM469.8 251.9l.3-2.5 2.4-.1-.6 2zM474.8 261l-.6-1 .5-.9 .4.8zM531.6 250.6l-1.4-.9 .5-1.6 1.2 1zM532.5 245.1l-.3-1.1 .5-.5 .3.6zM511.5 259.8l-1-.4-.2-.7 .6.2zM500.6 239.7l.9-.3 .7.3-.7.2zM486.4 259.2l-1.9.3-.2-1.6 1.5-.4zM519.5 238.2l-1-1.8 .2-1.5 .7 1.3zM532.9 237.3l-.9-.8 .8-.5 .7.4zM488.3 254.7l-2.3.7-.3-2 1.8-.9zM488.5 235.4l-2.1.7-1.2-1 1.4-.6zM487.4 258.5l-.8-.7 .5-.6 .6.3zM475.7 242.8l-.1-1 .6-.6 .1.8zM532.6 262l-.6-.9 .8-.8 .5.9zM527.6 234.6l-.9-1.1 0-1.1 .7.8zM479.3 254.8l-2.3-2.1 2-1.5 2.1 1.2zM497.7 234.4l1.1-.9 1.1 0-.9.6zM474.8 257.1l.9-.6 1 .1-.9.5zM522.7 243.8l-1.3.5-1-.8 1.2-.3zM517.7 248.2l-1.6.1-.9-1.1 1.3.1zM537 254.6l-.9.6-1.9-.9 2-.4zM522 252.1l-.9-1 .1-1.4 .8 1.1zM511.3 250.5l1.1-1.3 1.1.1-.5.9zM534 247.6l-.4-2.3 1.4-1.7 .2 2.1zM506.2 259.2l1.4-1.1 1.4.4-1.1.8zM494.9 232.7l-1-.6-.2-.9 .7.5zM509.6 237.5l-.9-1 .5-.9 .6.7zM493.3 224.3l1.7-1.3 1.9.7-1.6.9zM508.9 246.8l1.7-1.6 2.2.1-1.6 1.4zM477 227.9l-2 .1-.9-1.2 1.4-.2zM531.7 242.5l.9-1.1 1.3-.2-.9.9zM532.8 231.7l-2.5.2-.8-2 2-.4zM482.6 249.4l0-1.1 1.2-.3-.1 1.1zM514.4 249.7l-2-2 1.9-1.4 1.5 1.3zM513.3 260.3l-1.1-.2-.2-1.1 1 .3zM479.1 251.5l-.7-.7 .3-.9 .7.6zM494.5 253.6l.8-.8 .7.5-.5.6zM482.4 235.6l-1.3-1.8 1.4-1.4 1.1 1.5zM522.3 238.2l-1.6-.9 .1-1.5 1.3.6zM480.6 245.7l-.8-1.7 1.2-.9 .6 1.1zM480.5 242.5l1.3-1.7 1.4.9-.8 1.2zM527.1 224.8l-2.2.4-.8-1.3 1.3-.5zM470.9 251.1l.7-.7 .9.1-.7.5zM490 257.4l-.9.4-.7-.4 .8-.3zM514.5 239.3l1.1-.7 .8.4-.7.5zM510.1 226.6l.6-1.1 .7-.1-.2.7zM501.3 233.7l.8-1.8 1.7-.2-.7 1.4zM522.7 224.6l-1.8 1.1-1.3-1.6 1.7-1.1zM484.1 230.5l.6-.8 .6.2-.3.6zM498.8 250.9l-1.8-1.2 0-1.2 .9.5zM491.4 235.8l-1.8 1.5-1.2-1.7 1.4-1.3z" fill="#5e1e86" opacity="0.88" filter="url(#cb)"/>
<path d="M382.5 183.8Q388 185 393.5 188.6" stroke="#3a3a3a" stroke-width="0.6" fill="none"/>
<path d="M509 214.3Q524 212.5 536 219.5" stroke="#3a3a3a" stroke-width="0.6" fill="none"/>
<text x="324.3" y="204.94" font-size="8.3" text-anchor="middle" fill="#000" transform="rotate(-90 324.3 202.2)">DMSO</text>
<text x="324.3" y="244.74" font-size="8.3" text-anchor="middle" fill="#000" transform="rotate(-90 324.3 242)">3-MA</text>
<path d="M513 255L534 255" stroke="#000" stroke-width="1.6"/>
<text x="318" y="311.4" font-size="18" text-anchor="start" fill="#000">D’</text>
<text x="403.7" y="311.4" font-size="15.6" text-anchor="start" fill="#000">MUM-2B</text>
<text x="363.8" y="325.54" font-size="7.7" text-anchor="middle" fill="#000">Si-NC</text>
<text x="433.35" y="325.54" font-size="7.7" text-anchor="middle" fill="#000">Si-PTK6-1</text>
<text x="503.05" y="325.54" font-size="7.7" text-anchor="middle" fill="#000">Si-PTK6-2</text>
<rect x="328" y="328" width="69" height="38" fill="#b9c7bc"/>
<rect x="328" y="328" width="69" height="38" filter="url(#spk)" opacity="0.65"/>
<rect x="328" y="328" width="69" height="38" fill="#5e1a5a" filter="url(#fs)" opacity="0.45"/>
<path d="M366.7 339.1l-1.6 1-.9-1.2 1.1-.8zM331.7 334.8l1-1.2 1.6-.2-1 1.1zM366.6 330.7l-1.7.7-1.5-.9 1.6-.6zM373.6 352.6l.7-.8 .8.3-.4.6zM389.6 337.8l-1.3.5-.7-1 1.1-.2zM379.7 340.4l-.4-1 .5-.7 .4.8zM395.2 348.2l-1.9.3-1.2-1 1.5-.3zM393.4 338.8l-1.6-.6-.4-1.5 1.4.5zM364.1 344.6l-1.2-.1-.1-1 .9 0zM371.3 348.8l-1.4-1.1 .4-1.5 1.2.9zM375.8 343.8l-.5-1.7 .7-1.1 .4 1.2zM376 333.3l-.8-.5 .1-.7 .6.3zM383.6 352.3l-1.4 1.1-1-1.4 1.3-.9zM385.9 338.6l.6-.9 .7 0-.4.6zM392.3 360.6l-1.6-.1-.2-1.2 1 0zM393.9 343.6l.7-1.7 1.5-.3-.5 1.4zM351.8 347.1l-.7-.8 .4-.9 .5.7zM340.3 338.1l-.8-.8 .7-.9 .5.8zM335.8 334.9l-.3-.9 .4-.6 .3.7zM381.4 356.6l-.5-1.1 .6-.7 .4.7zM377.5 351.3l-1.5 0-.4-.9 .9-.2zM338.2 335.3l-.8-.9 .3-.9 .5.7zM383.8 360.3l.3-1.1 .8.2 0 .7zM359.1 331.7l.7-1 1 .7-.7.8zM388.2 350.9l-1.4 0-.4-.8 .8-.2zM353.1 348.9l-1.7-.9 .1-1.5 1.2.7zM378 335.4l-.4-1 .8-.4 .3.7zM369.7 355.5l-1.3-.8 .4-1.1 1 .3zM364 362.3l-.5-1.9 1.6-.5 .4 1.5zM347.8 332.8l-.9-.2-.3-.6 .6.1zM366.2 361.5l.8-.6 .8.2-.6.6zM354.3 346.8l-1.4-.6 .3-1.4 1.3.5zM395.7 342.9l-1.5.1 0-1.4 1.1.1zM361.7 362.1l.3-1.6 1.3-.6-.2 1.3zM371.9 337l-2.1 1.1-1-1.8 1.7-1.1zM386.7 356.9l-.9.3-.4-.5 .5-.3zM344.2 359.3l1-1.5 1.7-.3-1 1.2zM378.1 359.2l-1.9-.6-.6-1.6 1.6.5zM379.3 336.9l-1.3-1-.1-1.4 1.1.8zM333.8 346.8l-1.3-.1-.3-1.1 1 .2zM378.7 332.7l-1.6.7-1.5-1.1 1.7-.6zM369 350.3l-1.7.3-.5-1.1 1-.3zM354.2 348.6l.5-1 .7.5-.2.7zM359.8 329.6l-1.3-.4 .3-1.2 .9.4zM339.8 339.1l-1.4-.5 0-1.4 1.1.5zM354.9 333l1.5-1.7 1.7 1.3-1.4 1.4zM386.1 363.8l.8-1.8 1.5.1-.5 1.3zM371.2 343.6l1.3-.9 1.2.7-1.1.7zM355.9 342.2l.4-1.1 .8-.2-.3.8zM334.5 344.3l-.6-2.4 2.3-.5 .3 2.1zM334.6 345.5l-2.2-.1-.2-1.5 1.2 0zM352.3 335.8l-.7-1.4 .6-1 .5 1zM361.4 346.3l-1.1.6-.6-1.1 1-.5zM331.7 336.5l1.3-1.8 1.4 1.3-.8 1.7zM376.4 341.3l1-1.3 1.5-.2-.9 1zM361.4 356.7l1.1-1.4 1.2.1-.6 1zM342.4 363.4l1.2-.8 .8.7-.8.6zM330.4 331.9l1.4-1.4 1.7.9-1.4.9zM391 331.1l-.9-.4 0-.9 .8.3zM370.6 331l-1.1-1.8 .9-1.1 .9 1zM372.1 340.3l.4-1.8 1.4-.9-.4 1.7zM391.3 336.4l-1.6-.1-.9-1.1 1.4.1zM393.9 352.3l-2 .2-.8-1.3 1.4-.3zM338.6 344.8l-1.6-1.1-.1-1.5 1.3.7zM353.8 340.3l-.1-1.2 .8-.8 .1 1.1zM387 360.8l-1.2.8-.6-.8 .6-.7zM372.6 361.2l-1.9-.7-.4-1.9 1.8.6zM384.6 359.2l-1.7-.2-.8-1.5 1.6.3zM371.9 360.5l-2.3-.9 1.1-1.6 1.5.3zM374.7 336.8l.7-.5 .8.2-.7.4zM371.3 352.1l-1.4.5-1-.6 1.1-.3zM338.8 349.2l-.3-1.1 .5-.7 .3.8zM353.4 345.9l-1.2-.3 .2-.9 .9 0zM380.1 362.4l-1-1.5 .5-1.5 .6 1.3zM368 333.3l-1.2.1-.3-1 .9 0zM393.3 330.1l-.1-1.1 .6-.5 .1.7zM347.5 343.6l.9-1.4 1.3-.1-.6 1.1zM381.7 358.1l-1 .5-.5-.7 .6-.3zM343 335.6l-1.8.2-.7-.9 1.1-.3zM390.6 355l-1.9 0-.8-1.3 1.3.1zM364.4 355.5l-1.2-1.4 .6-1.1 .9.7zM390.7 340.5l.6-1.3 1.3-.4-.7 1.1zM397 354.4l-1.5.4-1-.7 1.2-.4zM369.5 335l1.1-1.3 1.2.3-.7.9zM371.5 355.1l.9-1.3 1 .9-.6.9zM385.1 354.6l-.8-1.8 1.5-1 .5 1.5zM394.1 353.2l-.7-1 .9-.4 .6.7zM335.8 341l-1-.6 0-.9 .9.3zM380.2 344l-1.3-.6-.3-1.2 1.2.4zM389.3 359.4l-1.3-.6-.2-1.3 1.1.6zM333.8 353.1l-1.4 0 .2-1.2 1 .1zM343.8 352.5l-1-1.9 1.2-1.3 .7 1.4zM375.8 354l-1.8-.7-.1-1.5 1.4.4zM352.7 349.1l-1.6 0 .2-1.2 1.1-.3zM386.6 365.9l-1.5-.7-.5-1.4 1.3.7zM373.7 362.6l-2-.8 .8-1.5 1.6.3zM370.9 333.4l-1 .5-.7-.6 .7-.5zM331.5 330.9l-1.3-1.1 1.1-.8 .8.6zM344.3 364.4l1.2-1.4 1.2.9-.8 1zM329.8 360.5l-1.4-.4 .3-1.3 1 .4zM380.5 351.7l-.7-1.8 1.5-.3 .8 1.2zM349.2 345.6l-1.4-.2-.2-1.3 1.2.3zM359.9 331.7l-.8-.8 .4-.8 .5.6zM377.9 353.9l-1.3.5-.7-1 1.1-.5zM377 341.2l.4-1.5 1.3-.8-.4 1.4zM353.7 345.3l1.9-1.1 1 1.1-1 .9zM364.8 333.7l-1.9 1.7-1.6-1.9 1.7-1.6zM391.5 351.8l-1.2.5-.8-.8 1-.5zM352.7 352.9l.5-1 .8.2-.3.7zM335.9 343.7l-.4-1.1 .5-.9 .3 1zM351.2 348.9l-1.4-.5 .4-1 1.1.1zM356 335l-1.9.4-1.2-1.1 1.5-.1zM332.2 349l1.1-1.5 1.3.6-.6 1.1zM361.4 332.6l.1-1 .6-.4-.1.7zM371.4 350.8l-1.9-.3-.4-1.3 1.2 0zM379.4 329.4l-1.9 1.1-1-1.3 1.1-.9zM391.5 333.2l-1.6-.3-.8-1.3 1.5.3zM371.1 333.7l.4-1 .9-.2-.4.8zM349.3 349l0-1.3 .9-.4 0 .9zM372 333.7l.5-2 1.5-.8-.5 1.6zM343.1 330.7l-.8-.9 .2-.8 .5.5zM341.5 336.8l-.3-1.1 .5-.9 .3 1zM386.1 348.5l-1.5-.7 .2-1.1 1.2.2zM392.4 358.2l-1-2.3 2.3-.8 .9 2.1zM387 346.3l-1.6.5-1-1.1 1.5-.6zM361.1 356l-1 .3-.9-.5 1-.3zM363.7 358.5l.8-1 1 .1-.6.8zM336.9 335.7l-1.4-.1-.4-.9 .9.1zM378.8 357.1l-1-1.1 .6-1.3 .7 1zM339.2 339.1l-1.9-.1 .1-1.7 1.7 0z" fill="#5e1a5a" opacity="0.92" filter="url(#cb)"/>
<rect x="398" y="328" width="68" height="38" fill="#b9c7bc"/>
<rect x="398" y="328" width="68" height="38" filter="url(#spk)" opacity="0.65"/>
<rect x="398" y="328" width="68" height="38" fill="#5e1a5a" filter="url(#fs)" opacity="0.45"/>
<path d="M399.3 333.7l-1.3-1 .5-1.2 1.2.5zM448.5 334.7l.1-2 1.7 0-.1 1.6zM403.1 329l1.1-1 .9.6-.6.9zM464.1 336.9l-1.6-.3-.6-1.5 1.5.3zM420.5 336.7l.8-2.5 2.3.7-.6 2.3zM441 337.3l.5-2 1.8.2-.5 1.5zM401.4 341.8l-1.1-.7 0-1.3 1 .7zM453 340.4l-1.7-.1-.6-1.3 1.3.2zM410.6 364.5l-.8-1.9 1.7-.6 .9 1.4zM410.3 346l.8-1.2 1.1-.1-.6.9zM405.7 365.7l-1.2.3-.6-1 1.1-.2zM429.5 347.6l.4-1.2 1.1 0-.3 1zM402 332.9l-1.7 0-1.1-1.3 1.7 0zM414.1 357.1l1.2-1.2 .8 1.2-.7.8zM411.6 330.4l-2.2.8-.7-2 1.7-.5zM411.7 360l-1-.5-.1-1 .9.4zM456.3 344.8l-.8-1.6 1.1-1.3 .6 1.4zM405.8 333.7l.9-1.5 1.5-.4-.8 1.3zM410.5 360.9l-1.6.5-.4-1.3 1.1-.4zM426.8 356.1l-.3-1.1 .6-.9 .3 1zM399.2 351.7l.8-1.1 1.2.4-.8.9zM425.6 360l-1-.7 .4-.9 .9.4zM424.1 357.5l-1.2.3-.6-.7 .8-.2zM462.3 339l-.9-.1-.2-.7 .6 0zM424.9 358.3l-1.8-1 0-1.5 1.4.5zM412.6 351.6l.8-1.4 1.1.4-.3 1.1zM410.5 344l-.6-1.9 1-1.3 .7 1.5zM418.2 343.9l-.1-1.7 1.4-.3 .3 1.3zM416.3 355.1l-2 .6-1-1.1 1.3-.6zM453.1 331.3l-1.3-.6-.2-.9 .8.3zM419.7 331l-1.2-1.1 .5-1 .7.7zM452.7 346l-.7-1.2 .5-1.3 .7 1.2zM448.2 341.3l-.9-.1-.3-.6 .6 0zM460.3 341.4l-.9-1 .1-1.2 .8.9zM400.8 357l-.7-1.2 .4-1.1 .7 1zM448.5 364l-.9-1.3 .4-1.1 .6.9zM436.9 361.5l.7-.9 .7.3-.3.6zM463.9 344.9l-1.2-.5 0-1.2 .9.5zM411.9 337.9l-2.3-.3 0-2.2 1.7.6zM450.5 338.9l.2-1.7 1.3.5 .1 1.2zM435.6 347.9l-1.5-1 .4-1.2 1 .4zM419.1 361.8l-1.1-1.8 1.5-1.2 1 1.6zM455.6 363l-.4-1.5 .8-.8 .4 1zM451.3 352.3l-.5-1.8 .9-1 .2 1.1zM438.4 333.8l1.2-.9 1.3.6-1.1.8zM408.8 345.9l-1.7.2-.5-1.5 1.5 0zM423.5 362.7l.6-1.1 1.2 0-.6.9zM408.6 361.4l-1.7-.2-.7-1.2 1.3.1zM458.1 358.3l-2 .5-.9-1.2 1.3-.3zM403.6 359.4l.6-1.4 1 .5-.2 1zM419.3 331.3l-2.3-.4 .5-1.9 1.8.2zM409.9 329.6l-1 .1-.8-.5 1-.1zM460.4 341.6l-1.9-.6-.5-1.8 1.6.7zM425.2 355.6l.6-1 .8.5-.3.7zM462.2 350.3l-1.7 0-.5-1.1 1.1-.3zM443.3 347.5l-.9-.6 .2-.8 .6.4zM440.1 353.4l1.7-1.3 1.7.8-1.4 1zM426.6 349.6l.8-.5 .6.4-.5.5zM464 346.3l-1.5.4-1-1.1 1.3-.3zM428.9 349.4l.2-1 .9 0-.1.9zM461 338.8l1.1-.7 .7.6-.6.5zM423.7 354.2l.9-.6 .8.3-.7.5zM399.5 364.9l-.2-2 1.9-.4 0 1.7zM429.9 351l-1.3-1.7 .8-1.7 1.2 1.4zM462.3 336.1l-1.7-1.2 .2-1.5 1.4.6zM407.6 338l-1.7.5-.8-1.1 1.1-.4zM414.3 355.8l.6-1.2 .8-.1-.2.8zM408.3 333.3l-.7-1 .9-.3 .5.6zM456 339.6l-1.8 0-1.3-1.2 1.7.2zM407.8 344.5l1.4-.6 .9.6-.9.4zM444.6 338.3l-.6-1.7 .8-1.4 .6 1.5zM416.7 336.8l-1.9.6-1.3-1.2 1.6-.6zM444.7 343.8l-.3-1.1 .7-.4 .4.8zM443.4 352.1l-1.1-.9 .5-.8 .7.4zM460.8 359.9l-1.4-.5-.1-1 .9.3zM437.1 335.4l.7-.6 .7.1-.5.5zM417 361.8l.1-1.2 .9 0 .1.8zM426.2 340.9l-.1-1.4 1.3-.2 .1 1.3zM451.8 350.6l-.2-2.4 2 .1 .2 1.7zM447.1 341.5l.5-1 .8-.3-.3.8zM440.5 360.2l-.4-1.1 .8-.7 .2.9zM453.2 340l1.1-.8 1.1.2-.9.6zM404.5 351.2l-1.2-.7-.1-1.1 1 .5zM450.1 360.3l-1.9.2-.7-1.1 1.1-.1zM410.7 333.2l-.6-2 1.3-1 .4 1.4zM465.5 350l-2.1-.4-.6-2 1.9.5zM416.9 335.2l-1.7 1-1.4-1.2 1.5-1zM424.4 348.6l.2-1.8 1.3-.1 0 1.1zM398.7 353.6l-.2-1.9 1.5-.8 .1 1.6zM455.2 350.2l-.2-1.9 1.3-.1 .5 1.2zM444.1 347.7l.9-.7 .8.2-.6.5zM408.1 329.9l-1.9-.1-.2-1.3 1.2-.1zM464.9 359l-1.4-.6 .2-1.2 1.1.3zM398 346.3l1.4-1.1 1.6.4-1.2 1.1zM415.1 364.4l.9-1.5 1.4.7-.7 1.2zM446.5 357.9l-.1-1.2 .7-.5 .1.8zM459.5 348.4l-1.2.8-.5-1.1 .8-.6zM438.6 358.8l-1.8 1.1-1.1-1.5 1.4-.6zM421.4 363.6l.6-.8 1 .1-.6.7zM429.9 339l-1.6-.4 .4-1.3 1.3 0zM450.7 351.1l-1.1 0-.5-.7 .9 0zM464.5 343.4l-1.4-.7-.2-1.2 1 .5zM399.6 346.3l1.4-1.7 1.9.6-1.2 1.7zM419.8 361.9l-1.8-.9-.6-1.9 1.7 1zM444.4 355.6l-.1-.9 .6-.7 .1.9zM458.9 365.7l-.1-1.4 .9-.3 .1.8zM464.7 346.6l-.9-1.7 .7-1 .7.8zM433.1 338l.7-1.5 1-.1-.3.9zM419.7 348.6l-1.6-.3 .2-1.2 1.1 0zM434.7 364l-.7-1.8 .9-1.3 .8 1.4zM422 366l-1-1.3 1.9-.9 .8 1.7zM452.5 363.1l.7-1.5 1.5.5-.8 1.2zM453.1 351.7l.2-2 1.6 0-.1 1.4z" fill="#5e1a5a" opacity="0.92" filter="url(#cb)"/>
<rect x="467" y="328" width="69" height="38" fill="#b9c7bc"/>
<rect x="467" y="328" width="69" height="38" filter="url(#spk)" opacity="0.65"/>
<rect x="467" y="328" width="69" height="38" fill="#5e1a5a" filter="url(#fs)" opacity="0.45"/>
<path d="M473.4 337.6l-1.9-.9-.1-1.8 1.5.8zM502 361.9l-.6-1.9 .8-1.2 .4 1.3zM520.7 332.9l-1.6.6-1.5-.7 1.5-.7zM482.7 331.8l-2.4.8-.4-1.9 1.4-.5zM470.8 330.3l-1-.6 .2-1.1 .8.7zM522.9 357.5l-.3-1.6 .8-1 .2 1.3zM490.3 339.1l-1.6-1.5 .7-1.3 1.2.7zM522.5 345.7l-.1-1.3 1.1-.1 0 .9zM488.5 343.1l-1.1.2-.2-1.2 1.1-.1zM530.9 346.9l1.6-1.1 1.5.7-1.2.9zM481.9 343.1l.3-1.1 .9-.3-.3.8zM524.7 353l-1.4.5-.1-1.2 .9-.7zM507 365.5l.6-1 1.2-.4-.7 1zM473.8 340.7l-1.6.3-.3-1.4 1.4-.4zM481.2 358.9l-.2-1.4 .8-.7 .2 1zM470.1 365.1l-.9-.1-.4-.7 .8.1zM520.9 342.7l-1.2.1-.9-.9 1.2.1zM496.7 345.4l.7-.6 .6.2-.4.4zM474.6 331.7l1.1-1 1.4 0-1 .9zM470.8 350.4l1.3-1.2 .9 1.2-.8 1.2zM535.3 338.7l-1.6-.8 .2-1.3 1.2.3zM511.2 342l-1.4.5-.8-.7 .9-.3zM517.5 364.2l-1.1-1 .2-1.2 .8.8zM486.7 336.4l-1.1-.1-.1-.8 .8-.1zM488.3 365.2l.4-1.3 1.2.2-.3 1.1zM503.8 334.3l-.8-1.7 1-.9 .8 1.1zM496.9 334.5l.3-1.7 1.6.1-.3 1.6zM510.8 350l-2.2.8-1.1-1.6 1.7-.6zM498.3 329.1l1-1.1 1.5.3-1 1.1zM517 363.3l-.9-.5 .2-1 .8.4zM517.2 353.4l-.3-1.7 1-.5 .4.9zM485.4 332.4l-.5-2.1 1.6-.9 .5 1.7zM513.5 361.9l.2-1 .7-.3-.1.7zM512.9 336.3l-.8-2.3 2.1-1 .7 2.2zM495.8 357.3l-1 .2-.7-.6 .9 0zM475.7 346.8l-1.2-2 1.7-1.3 .8 1.6zM507 364.4l-1.8.1-.8-1.1 1.2-.1zM519 361.3l-.9-.6 .1-1 .7.6zM496.3 332.3l-1.2 0-.3-.7 .7 0zM500.2 337.1l-2-.3-.1-1.7 1.4.3zM502.9 355.5l-1.1-.8 .8-.8 .8.5zM473.9 345.1l-.4-.9 .5-.8 .3.8zM496.2 360l1.7-1.1 1.7.5-1.5 1zM520.8 340.9l-1.5 0-.5-.9 1-.1zM473.9 330.8l-2.4-.2 .5-1.8 1.5-.1zM534.6 336.4l-.9.4-.3-.6 .5-.4zM472.4 335.5l-1.3.6-.4-1 .7-.5zM483.5 353.1l-1.3-.6 .5-1.3 1.3.5zM532.7 356.1l-1.1-1 .6-1 .9.7zM530.8 336.9l.3-1.7 1.4-.6-.4 1.3zM476.5 349.5l-.1-2.1 1.1-.8 .1 1.3zM529.4 332.9l-.9-2.1 1.7-.4 1 1.3zM498.4 359l.1-1.8 1.6.3-.1 1.4zM495.8 351.9l-.4-1.4 1-.8 .3 1.1zM520.8 329.5l.4-1.2 .9.1-.2.8zM495.5 345.6l-1.2.3-.6-.9 1-.2zM470.2 349.7l1.3-1.3 1.7.4-1.2 1zM480 352l-1.1-.4-.3-.9 .8.3zM481.2 357.5l0-2 1.3-.6 .1 1.3zM526.9 361.8l.8-1 .7.6-.4.7zM515.8 349.9l-1.3-.2-.2-.9 .9-.1zM514.2 362.2l1.2-1.1 1.1.7-.8.9zM509.6 339.5l-1.3-.7 0-.9 .9.1zM511.5 348.7l-.7-1.8 1.2-1 .5 1.3zM491.1 331.4l-1.7-.4-.3-1.7 1.5.5zM522.9 336l1.7-.8 1.6.6-1.5.7zM476.4 360.2l1.2-.7 1.1.4-1 .7zM530.8 353.3l-1.4 0-.4-.9 1-.2zM490.3 332.8l-1.4-1.1 .2-1.3 1 .7zM515.5 360.6l-1.1.3-.4-.8 .7-.2zM489.1 333.5l-1.3.6-1-.8 1.1-.6zM532.8 347.3l-1.6-.6-.1-1.5 1.4.4zM521.4 357.1l1.6-.7 1.3.7-1.3.7zM503.3 343.8l0-1.1 .7-.6 0 .9zM513.3 356l-.2-1.2 .8-.4 .2.7zM469.6 350.9l-1.1.2-.8-.7 1-.1zM469.2 365.2l-.6-.7 .2-.9 .6.7zM487.7 349.2l-1.5-1.3 .3-1.4 1.1.8zM523.9 336.4l-1.6 0-.6-1.1 1.2-.1zM509.4 354.9l-1.4.5-.4-1.1 1-.7zM510.2 360.7l-1.1-.8 .6-1.1 1.1.6zM516.2 337.6l.5-2.1 1.8 0-.2 1.8zM479.8 353.7l.7-1.3 1.2-.3-.6 1zM491.9 341.2l-.5-1.3 .6-.9 .4 1zM509.2 331.2l-1.1-.1-.3-.7 .8 0zM528 361.3l-.3-1.4 1.2-.2 .4 1.1zM529 331.1l-1.3.5-.7-.8 .9-.4zM518.4 359.8l.8-.6 .6.3-.4.4zM521.5 333.5l-1.7-.5 .1-1.3 1 .3zM509.9 333.7l-1.3.1-.2-.8 .7-.1zM485.7 338.5l.5-1.3 1.3-.5-.5 1.3zM484.1 354.2l-.9 0-.4-.6 .7 0zM487 356.1l0-1 .5-.3 .1.5zM510.4 337.8l-1.5-.2-.5-.9 .9.1zM489.6 364.9l-1.5.5-1.3-.9 1.5-.3zM517 344.9l1.5-1.5 1.7.4-1.3 1zM488 363.5l-.3-1.3 1.1-.6 .3 1.2zM512.5 359.8l-1.4-.4-.6-1.1 1.2.3zM493.2 361.7l0-1.2 .9-.2 .1.8zM500 329l-1.7.9-.8-.9 .9-.8zM512.9 342l-1.9-.4-.6-1.4 1.4.2zM514 350.8l-1.4-.6 .3-1.2 .9.4zM523 339.4l-1 .4-.8-.5 .8-.3zM470.4 344.6l-.9-1.7 1.4-1.1 .9 1.5zM505.1 365.6l-1.4-.2-.2-1.2 1.3.1zM482.5 357.1l-1.8-1 .3-1.7 1.5.7zM508.1 361.6l-.3-1.2 .9-.4 .2.8zM497.3 348.3l-1.7-.9 .2-1.5 1.3.6zM501.7 342.3l-.6-.8 .4-.6 .4.5zM475.2 332.5l-2-.8 .8-1.9 1.5.9z" fill="#5e1a5a" opacity="0.92" filter="url(#cb)"/>
<rect x="328" y="367" width="69" height="38" fill="#b9c7bc"/>
<rect x="328" y="367" width="69" height="38" filter="url(#spk)" opacity="0.65"/>
<rect x="328" y="367" width="69" height="38" fill="#5e1a5a" filter="url(#fs)" opacity="0.45"/>
<path d="M366.4 391.6l.7-1 1.1-.1-.6 1zM340.4 393l0-1.4 .8-.8 .1 1.1zM393.8 392.1l-1.2-.6 .2-.8 .7.1zM377.2 384l1.1-1.7 1.8.2-1 1.2zM332.5 405l-1-.5-.2-1 .8.6zM350.7 376.8l-.8-.3 0-.7 .5.2zM342.5 371.4l-1.8.6-1.3-1 1.4-.3zM338.7 372.3l-.9-.4 .2-.8 .6.2zM373.2 385.6l-.7-1.2 .5-1.1 .6 1.1zM333.5 386.8l-2-1 .8-2 1.3 1.2zM366.4 385.3l-1.7-1 .1-1.3 1.2.5zM371.7 368.7l-1.6.2-.9-.9 1.2-.2zM361.3 377.6l1.3-1.7 1.3.6-.6 1.1zM384.4 379.7l-1.1.1-.7-.7 .9-.1zM369.3 396.1l1.6-1.2 1.7.8-1.5 1.2zM387.6 396.8l-.2-1.4 .9-.9 .2 1.2zM344.7 371.6l-1.5-.6 0-1.1 .9.3zM392 370.1l1.4-1.2 1.8.4-1.5 1.1zM355.7 402.4l.3-1.3 .9.5 .1.9zM383.7 376.1l-1.3.1-.8-.9 1.2-.1zM394.1 396.1l.3-1.1 1.1.3-.4 1zM351.1 372.9l-1.1-.7 .1-1.1 .8.5zM334.5 375.1l-1.1.1-.2-.7 .7-.2zM365.1 385.4l-.4-1.3 1.1-.1 .5.8zM353.9 378l-2.4-.4 .7-2 1.8.3zM348.1 395.1l-1.1 0-.2-1.1 1 .2zM335.3 405l-.3-1.6 1.8-1-.1 1.8zM344.3 398.9l-.9-1.8 1.1-1.5 .5 1.6zM372.5 375.2l-2.1-.2-.7-1.8 1.8.4zM378 402.5l-.1-1.2 .9-.8 0 1.2zM360.2 382.7l-2 .7-.5-1.5 1.2-.5zM339.4 382.6l-.7-1 .5-.9 .5.9zM335.6 387.4l1.5-1.5 1.2.7-.7 1.1zM364.2 383.1l-.2-1.7 1-1.1 .1 1.4zM349.3 388.6l-.5-1.2 .8-.9 .3 1.1zM344.5 379.1l.8-1 1.2 0-.8.9zM383.8 376.1l-1.5-1.5 1-1.6 1.3 1.2zM393.2 380.6l-1 .2-.4-.7 .8-.1zM384.2 393.3l-.4-2 1.6-.9 .2 1.6zM346.5 372.5l.4-2.5 2.3.4-.6 1.8zM355.6 379.4l1-1 1 .4-.6.7zM346.2 369.4l-1.4.6-1.2-.7 1.2-.4zM396.4 371.1l-1.1-.9 .7-1.3 1 .9zM336.1 374.4l.5-1.3 1.1.2-.3.9zM368.4 379.7l-.2-1 .6-.5 .2.7zM387.3 403.4l-.3-1.6 1.3-.4 .2 1.2zM340.6 388.1l-1.6-.3-.2-1 .9 0zM340 381.2l.3-2.2 2-.4-.4 1.8zM392.5 374.4l0-1 .8-.5 0 .9zM381.3 389.3l-1.2-1.2 .3-1.4 1 1zM378.8 404.2l-.1-1.9 1.2-.8 .2 1.4zM351.5 399.2l1.4-1.4 1.7.1-1.2 1.1zM346.8 391.7l.8-1.3 1.3.5-.7 1.2zM343.5 372.8l-1.5.1-.6-.9 1-.2zM331 376.6l-.7-1.8 1.1-1.2 .5 1.4zM355.1 386.8l-1.1.6-.8-.6 .8-.5zM371.7 383.6l.8-1.5 1.4-.3-.6 1.3zM335 384.3l-1-.8 .3-1.2 .8.8zM336.6 380.1l-.9-.1-.4-.6 .7.1zM364.8 375.5l-.9-1.8 .7-1.4 .7 1.3zM362.5 371.7l-1.2-1.4 .3-1.6 1.1 1.1zM352.7 394.7l1.1-1.6 1.9-.3-1.2 1.4zM355.1 390.9l-1.3.3-.4-.9 .9-.2zM374.7 379.1l-1.8.3-.9-.8 1.1-.4zM335.1 376.1l-1.8 0-.8-1.4 1.6.1zM379.8 401.3l-.5-1.3 1.1-.7 .5 1.1zM371.5 403.9l.5-1.5 1.3.3-.2 1.2zM390 400.8l.5-1 1 .2-.5.8zM351.4 403.6l-1.4.5-1.1-.7 1.2-.4zM345.8 388.4l.9-.7 1 .5-.9.5zM382.7 396.8l-1.9-.8-.2-1.3 1.4.2zM390.6 385.4l-1.8.7-1.3-1 1.5-.4zM360.4 398.5l.2-1.2 1-.1-.1.8zM397 402.5l-.7 1.2-1.4-1.2 1.4-1zM389 401.7l.8-1 1 .7-.7.8zM382.1 385.4l-1.4-1.3 .6-1.5 1.1 1zM374.7 371.1l-.8-1.3 .5-1.5 .7 1.3zM394.9 395l-1.4-1 .4-1.4 1 .9zM390.8 380.7l-.9.5-.5-.6 .5-.5zM354.7 402.7l-1.1-.6-.3-1.1 1 .5zM335.2 370.6l-.1-1.6 1.2.1 .2.9zM348.4 392.3l1-.5 .8.4-.8.4zM336.2 395.9l.1-1.7 1.6.2-.2 1.4zM379.9 396.4l.3-.9 .8-.4-.4.8zM382.5 403.8l-.9-1 .4-1.2 .7 1zM376.9 404.9l-2.1-1.1 .8-1.9 1.9.8zM356.7 378.7l-1.3-.5 0-1.1 .9.3zM370 376.4l-1.3-.6-.2-1 .8.4zM383.2 389.9l-2.3.6-.9-1.9 1.8-.3zM384.4 382.6l0-1.9 1.1-.7 .1 1.3zM367.7 387.7l-.1-1.2 .9.1 .3.8zM340.3 397.4l-1.2-1.7 .7-1.8 .8 1.6zM391.4 381.7l-1.9 1.1-1.3-1.5 1.6-.6zM358.6 386.4l-1.4-1.5 .9-1.8 1 1.5zM393.8 379.4l.2-2 1.7-1-.5 1.8zM393.8 370l.3-1.8 1.4-.9-.2 1.6zM394.5 376l1.3-1.7 1.2.9-.6 1.3zM336.8 400.1l.8-2.1 1.9.8-.6 1.9zM376 402.6l1.5-.9 1.1.6-1 .8zM350.2 378.1l-1.5-.5 .6-1.1 1 .2zM341.8 369l.3-2 1.9 0-.3 1.5zM329.8 389.7l-.1-1 .6-.8 .1 1zM366.7 399l-1.9.6-.9-1.2 1.2-.4zM364.3 371.5l.8-1.1 1.3-.2-.8 1zM334.8 378l-.2-2.1 1.4-.8 .3 1.5zM360.3 391.2l-1.2-1.7 .8-1.1 .9.9zM355.8 374.5l-.4-1.1 .4-.6 .4.6zM372.3 387.2l0-1.6 1.1-.4 .2 1.1zM372.1 368.5l.5-1 1 .2-.4.9zM339.7 379.8l-.8-1.6 1-1.3 .8 1.4zM331.2 383.4l1-1.6 1.3-.1-.7 1zM372.9 399.3l.4-1.8 1.7.3-.5 1.3zM351.3 382.5l-.5-1.4 .9-.9 .3 1.1zM382 393.3l.8-1.5 1.5 0-.7 1.2zM347.3 400.5l-1.2-.2-.4-.9 .8.2zM391.2 389.7l-1.2.7-.8-.8 .8-.6zM342.5 370.8l.9-1.4 1.6.2-.9 1.2zM387.4 380.7l-1.2-.6 0-1.1 .9.5zM366.5 403.3l.3-.9 .8-.2-.3.7zM366 387.8l0-1.4 1-.6 0 1.1zM360.1 370.2l-.4-1.2 1-.3 .4.8zM359.3 390.5l-.9-1.5 1-.9 .8 1zM379.1 373.4l-1.3-.1-.5-.8 .9 0zM357.2 387.1l-.1-1.4 1-.7 .2 1.3zM344.8 387.2l-2.3.3-1-2 2.1 0zM344.1 381l-1.2-.6 .2-1.1 .8.5zM372 393.9l-1.3.1 .2-1.1 .9-.1zM370.3 403.2l.4-1.1 .9.3-.3.6zM328.1 387.9l1.6-2.1 1.4 1.6-1 1.5zM387.6 372.6l-1.1-1.6 .6-1.1 .8.9zM373.5 372.4l1-1.5 1.4.4-.7 1zM389.9 375.8l-.4-1.7 1.2-1.2 .1 1.5zM373 376.4l.3-1.9 1.6-.6-.2 1.7zM330.3 376l-1.7-.4-.3-1.1 1.1.1zM340.6 383.8l.7-.9 .8.2-.4.5zM387.2 392.4l-1.5.2-.3-1 .9-.3zM328.9 403.5l.1-1.8 1.3-.2 .1 1.2zM393.8 372.1l-.6-1.4 .4-1.3 .7 1.2zM375.5 383.7l.7-.5 .5.3-.3.3zM330.1 385.1l.9-1.7 1.4 0-.5 1.2zM359.3 381.1l-1.3-1.6 1.4-1.4 .8 1.5zM350 382.4l.4-.9 .9-.2-.4.8zM328.7 373.2l.8-.9 .9.2-.6.7zM371.2 388.3l.6-1.8 1.4.4-.1 1.3zM368.8 393.8l-1.9-1-.1-1.6 1.4.7zM340 378.4l.2-1.3 .9-.4 0 1zM394.1 393.1l.5-1.2 1 .1-.3.8zM393.5 379.8l1.5-1.3 1.2 1-1 1zM359.1 404.2l0-1.5 1-.5 0 1zM354.2 398.2l.4-.8 .8-.1-.4.7zM395 379.3l-1.7.4-.4-1.6 1.5-.2zM373.6 387.3l-.5-1.2 .7-1.1 .4 1.1zM366.7 386.5l-.8-2 1.4-.7 .7 1.1zM388 373.8l-1.4-1 .2-1.2 1.1.6zM384.1 394.1l.6-.9 .8.3-.4.6zM356.6 403.1l.4-1 .9-.3-.3.8zM352 373.6l-1.3-1.5 .9-1.2 .8 1zM395.4 377.5l-.8-.9 .5-1 .7.8zM369 403.5l-1.7-.6 .1-1.4 1.2.4zM343.6 391.6l-1.7-.2-.4-1 1-.1zM372.7 392.3l-.1-.9 .5-.3 .1.5zM380.6 384l-1.1 0-.3-1 .9.2zM362.6 384.7l.8-1.4 1.3.5-.7 1zM334.4 402.2l-.7-1.3 1-.5 .6.8z" fill="#5e1a5a" opacity="0.92" filter="url(#cb)"/>
<rect x="398" y="367" width="68" height="38" fill="#b9c7bc"/>
<rect x="398" y="367" width="68" height="38" filter="url(#spk)" opacity="0.65"/>
<rect x="398" y="367" width="68" height="38" fill="#5e1a5a" filter="url(#fs)" opacity="0.45"/>
<path d="M432.4 390.1l1.2-1.5 1.4.1-.7 1.2zM428.1 379l-1.6.7-.5-1.3 1.1-.6zM451.6 395.8l-1 .4-.5-.8 .8-.4zM452 403.9l-.6-1.7 1.3-.7 .4 1.2zM434.1 391.3l-.4-1.4 .9-.6 .5.9zM436.6 396.1l.4-1.4 1.1.4-.1 1.1zM450.9 383.2l.6-1.2 .8 0-.2.7zM464.8 383.9l-.8-.9 .6-.6 .5.5zM404 378.8l-1.6.4-.5-1.1 1-.5zM417.5 387.7l1.3-1.1 1.5.2-1.1 1zM403 395.9l-1-.7-.1-1.2 .9.7zM421.3 377.9l1.2-1.3 1.3.8-1 .8zM414.6 386.2l1.7-1.1 1.6.8-1.5.8zM407.3 402.5l1.1-.6 1.3.5-1.2.4zM428.7 390.2l.6-1 1-.2-.4.9zM447.5 401l-.3-1.5 1.1-.7 .2 1.1zM432.7 382.4l-1.4-.1-.5-.8 1 0zM456 385.3l-1.8-.5-.5-1.3 1.3.3zM450.2 391l-1.1.1-.7-.8 1-.1zM416.1 401.3l.6-1.3 1.1-.1-.4.9zM432.2 404l1.1-.7 .8.3-.6.7zM459.8 393l-1.3.8-.7-1 .9-.4zM400.9 371.4l1.1-1.2 1.6 0-1.1 1zM455.2 384.4l-.2-1.1 .8-.3 .2.7zM447.6 368.7l1.4-.7 1 .7-1 .6zM419.5 372.2l-.9-.9 .7-.7 .7.5zM443.9 376.1l.1-.9 .6-.2-.1.6zM423.4 400.4l-.6-.9 .2-.8 .5.7zM445.3 402.2l.4-1.9 1.5 0-.2 1.2zM459.6 377.4l-2-1 .7-2 1.7 1zM409.1 398.6l.1-1 .8-.4-.1.8zM421.8 400l-1.4.4-.3-1.2 1-.3zM418.2 371.2l-1.9.1-1-1.3 1.6.1zM462.3 394.9l-1-2.1 1.8-.9 .7 1.6zM401.7 395.9l-1.7.9-1.4-1.2 1.6-.6zM430.6 405l-.7-.9 .9-1 .5 1.2zM414.9 378.8l.8-1 1.2-.1-.7 1zM455 402.4l-.4-1.8 1.4-.1 .4 1zM432.3 385.7l-1.4.8-1-.9 1-.6zM450.2 398.1l0-1.2 1.3-.1-.1 1.2zM461.5 383.1l.3-1.3 1.1.2-.2 1.1zM421.9 388.3l-.6-1.4 1.3-.3 .3 1zM463.3 375.1l-.6-1.1 .7-.5 .4.6zM447.6 397l.3-2 1.3-.9 0 1.6zM445.4 397.8l-1.9-.7-.1-1.3 1.1.4zM423.5 392.9l-1.1-.8 .1-.9 .6.5zM426.5 381.2l.1-1 .7-.6-.1.9zM434.5 375.1l-1.6.4-.9-.7 1.1-.5zM463.3 399.7l-.9-1.6 1.1-1.1 .6 1.2zM450.5 377.4l.9-1.8 1.3.6-.3 1.3zM420.5 390.8l.7-1.3 1.2.5-.5 1.1zM435.8 369.3l-.8-1.4 .5-.9 .5.8zM423.9 395.7l-1.7-.8-.2-1.6 1.3.8zM457.4 386.2l-.7-1.2 .3-1.2 .6 1.1zM462.7 380.8l1.5-.8 1.6.7-1.5.5zM398.7 372.6l1.1-1.6 1.3 1.1-.8 1.4zM414.7 386.9l-1.6-.3 0-1.3 1.2.1zM416.2 405l-1.2-.5 .3-1.1 .9.5zM452.8 401.7l1.1-.9 .8.7-.7.8zM422 371.1l-1.6-.9-.2-1.6 1.3.8zM455.9 385.6l-1.2-.6 .1-1 .9.4zM429 385.1l-1-.6 .3-1 .9.4zM398.8 404.6l-.5-.8 .4-.5 .3.5zM452.4 393.5l1.1-.5 1.2.4-1.1.5zM435.4 377l.3-1.5 1-.3-.2.9zM409.2 375.4l-.1-1.4 1-.9 0 1.3zM433.5 395.3l-1.9.6-1-1.2 1.4-.6zM441.2 393.8l.9-1.4 1.4.8-.8 1.2zM406.7 372.3l.2-1.1 1 .1-.1 1zM447.5 391.4l.6-1.4 1.4.2-.6 1.2zM441.6 386.5l-.7-1.1 .8-.7 .7.8zM400.2 386.1l-1.1-.2-.4-.8 .8.2zM428.1 396.5l.1-1.7 1.3-.9-.1 1.6zM404.5 391.7l-.5-1.9 1.3-.8 .6 1.4zM431 401.4l.5-1.1 .9 0-.2.9zM413.2 368.9l.7-1.3 1.2.2-.6 1.1zM403.3 404.6l-1.7-1.5 1.2-1.8 1.3 1.4zM458.2 385.9l-.9-.4 .1-.9 .8.3zM462 401l-1.9-1 0-1.8 1.6.8zM459.9 392.6l1.1-1.2 1.1.6-.6.9zM460.9 393.1l-1 .4-.7-.6 .8-.3zM445.5 402.4l-.9-1 .3-1 .7.7zM433.7 376.5l-1.3.2-.8-.8 1.1-.2zM420.8 390.1l-.3-1.1 1-.1 .3.7zM436.1 401.5l.9-1 1 .2-.5.9zM399.2 398.4l1.6-1.8 1.9 1.2-1.4 1.7zM436.8 389.8l.3-1.8 1-.4 .1 1.1zM430.8 398.6l-2.2-.3-.1-1.7 1.5.2zM406.8 369.7l-2.5-.3 .4-2 1.9.1zM412.8 378.9l-1.5-.1-.8-1.1 1.3.2zM405.2 398.7l-.8-.8 .3-.8 .6.5zM401.1 379.5l-.7-1.1 .8-1 .8 1.1zM401 402.4l-.3-1.6 .7-.8 .3 1zM401.8 393.8l-.9-.8 0-1 .8.6zM440 394.4l-1.5.5-.9-1.2 1.3-.3zM465.9 374.5l-1.2-.1-.2-1.1 .9.2zM434.3 383.4l-1.9-.7 0-1.3 1.1.2zM458.2 390.7l.7-1.2 .8.5-.2.8zM435.7 404.5l.5-1.5 1.1-.2-.2 1zM435.7 388.5l-1.8 0-.4-1.5 1.3.2zM458.1 375.9l-.4-1.3 .7-.6 .3.7zM446.1 396l-1.6-.6 .2-1.5 1.3.5zM422.6 393.5l.1-1.9 1.6-.6-.3 1.6zM405.4 386.5l-.3-1.1 1-.3 .1.9zM440 368.7l-1.3.2-.9-.9 1.2 0zM436.9 382.8l-1.4-.1 .1-1.2 .9.2zM434.7 372.5l-.5-1.3 .8-.7 .5.9zM460.8 373.6l-.4-1.2 1.1-.6 .4 1.1zM447.3 377.1l-1.5-.7-.1-1.2 1.2.4zM450.3 394.4l-.8-.5 .1-.6 .5.2zM417.2 400l.3-1.6 1.6-.2-.4 1.4zM464.8 384.6l-.5-1.1 .8-1 .4 1.1zM445.4 384.4l-1.8-.3-.3-1.2 1.2 0zM421.2 404.8l-.5-1.8 1-1 .4 1.3zM459.6 382.2l-1.1-1.6 .8-1.6 .8 1.4zM437.5 404.5l-.9-1.3 .8-.8 .9.7zM445.7 368.9l-1.3-.6-.2-1.1 .9.4zM401 375.1l-.6-1.3 .6-1.2 .5 1.2zM423 392.1l-2 .4-1.3-1.2 1.7-.4zM409.9 381.1l1.3-.7 .9.6-.8.6zM446.1 394.1l-.9-.1-.5-.6 .8.1zM407.6 373l-1.5-1.2 .2-1.7 1.3 1zM434.8 377.4l-1.7.5-.7-1.4 1.4-.3zM428.7 389.3l.3-1.7 1.5-.1-.4 1.2zM438.9 376.7l-.8-.9 0-1.2 .8.9zM464.3 398.8l-.4-1.4 .7-1.1 .3 1.3zM443.5 387.6l-.5-.9 .3-.6 .3.5zM448.9 381.8l1.6-1.1 1.6.6-1.4.8zM399.8 377.2l-1 .6-.8-.6 .8-.6zM430.7 399.4l-1.9.7-1.6-1.1 1.8-.6zM461 378.2l0-2.6 2 .4 .5 1.9zM454.2 383.6l.8-1.4 1.5.3-.8 1.2zM398 378.3l1.1-.6 1 .5-.9.4zM463.3 385.2l-.6-1.3 .6-1.1 .5 1.1zM414.5 401.1l-1.2-.4 .1-1 .8.3zM455.7 403.7l.3-1 .9-.1-.3.7zM441.5 403.4l.7-.9 .7.1-.3.6zM403.9 376l-.2-2 1.5-1.2 .1 1.8z" fill="#5e1a5a" opacity="0.92" filter="url(#cb)"/>
<rect x="467" y="367" width="69" height="38" fill="#b9c7bc"/>
<rect x="467" y="367" width="69" height="38" filter="url(#spk)" opacity="0.65"/>
<rect x="467" y="367" width="69" height="38" fill="#5e1a5a" filter="url(#fs)" opacity="0.45"/>
<path d="M503.6 396.8l.4-2.1 2.1-.4-.5 1.9zM517.5 395.9l.9-.9 1.1.5-.8.8zM518 381l.7-.5 .6.3-.5.3zM514.4 369.7l-1.4-.1 .1-1.1 .9 0zM526.2 370.6l-1-.1-.4-.7 .7.1zM534.5 387l-1.2-.9 .5-1.2 1.1.6zM500.1 396.3l1.4-1.3 1.5.3-1.1.9zM493.3 400.9l-1.3-1.3 .8-1.4 1 1.1zM522.8 398l-1.6 1.2-1.5-1.4 1.6-.8zM475.6 401.7l-.1-.9 .7-.6 0 .8zM519.2 379.3l-1.4-1 1-1 1 .6zM511 388.3l-1.8.1-.7-1.6 1.5.2zM520.4 371.4l-.5-1.3 .9-.8 .4 1.1zM511 372.3l.1-2 1.8-.7-.4 1.7zM497.5 376.8l.5-1.2 1.4 0-.6 1.2zM500.5 394.6l-1.9-.3-.6-1.3 1.4 0zM526.1 370.9l1.3-.8 1.2.5-1 .7zM520.9 376.8l-1.5.2-.3-1.1 1-.3zM501 382.8l.3-1.1 .9-.1-.2.9zM528.4 389.4l-1.5 1-1-1 1-.7zM482.7 398.3l-1.1-.8 .4-.8 .7.3zM494 397.7l-.7-1.4 .5-1.4 .6 1.3zM518.4 373.2l-.5-.9 .3-.7 .4.6zM507.9 371.4l-.9-.8 0-1 .7.6zM489.1 384.6l.7-1 .9.1-.4.6zM521.7 380.9l-1.1.5-.5-.7 .6-.4zM493.1 380l-2.2.3-.4-1.7 1.5-.4zM473.1 385.7l-1.8.2-.5-1.6 1.6-.1zM512.6 375.6l-1.1.4-.5-.6 .6-.3zM532.5 379.1l-2.1.1-.4-1.7 1.6-.1zM500.5 369.7l.3-1.2 1-.7-.3 1.1zM527.2 403.7l-1.2-.2-.6-.9 1 .2zM482.5 400.1l-1.1.5-.5-1 .8-.4zM475.2 374.8l1.3-.9 .9.8-.9.7zM510.7 386l-1.9.3-.9-1.5 1.6 0zM506.1 398l0-2 1.2-1.2-.1 1.6zM531.7 387.1l-1.5-.6 .7-1.1 1 .3zM485.2 397.3l-1.2.1-.3-.8 .7-.2zM477.5 370.3l0-1.6 1.1-.4 .1 1.1zM473.5 369.6l-1.1-1.5 1-1.1 .9 1zM494 376.5l-.5-1.3 .9-.9 .4 1.2zM521.3 397.4l-.1-1.1 .6-.6 .1.8zM471.9 393.3l-.3-1.9 1.2-1.3 .2 1.7zM532.9 394.5l-2.3.3-.3-1.7 1.4-.3zM522.5 391.4l-.4-1.2 .7-.9 .3 1.1zM499.9 397l-.9-.4 0-.7 .5.3zM524.2 386.7l-1.2.7-.8-1 1-.6zM526.1 369.2l-1-1.7 1.5-.5 1 .9zM507.2 395.3l1.2-1.9 1.5.6-.7 1.2zM491.8 394.8l1.4-.9 1.3.6-1.2.6zM524.8 399.8l-2.3.2-.2-1.9 1.6-.2zM536 387l-1.2.7-1.7-.9 1.8-.7zM471.4 372.4l-1.7.1-.1-1.3 1.1-.2zM532 384.3l-1.8-.7-.3-1.5 1.3.6zM513.6 369.6l0-1.9 1.3-.7-.2 1.2zM519.8 379l-1.6.5-1.1-1.1 1.5-.4zM479.6 381l-1.2.4-.6-.8 .9-.4zM479.2 385.8l-1.8 0-.8-1.4 1.5.1zM505.3 393.3l-.6-1.2 .8-.8 .5.9zM481 384.5l-1.3-.2-.3-.9 .8 0zM529.1 368.9l-.1-1.9 1.7 0 .5 1.6zM518.2 385.7l-.1-.9 .6-.6 .1.8zM529.6 381.1l.6-.7 .7.1-.4.4zM521.3 385.2l-.9-1.6 1.4-1 .6 1.4zM520.2 391.6l-.1-1.1 .7-.5 0 .7zM484.5 371.7l-.7-1.9 .8-1.5 .5 1.5zM488 395.8l-2.1-.3 .2-1.7 1.5.1zM472.8 379l-.8-1.3 .9-.8 .5.8zM493.3 405l-1.8-.7 .4-1.5 1.2.7zM473.3 374l-.8-1.8 .7-1.1 .7 1zM504.2 402.3l-.9-1.6 1-1.2 .7 1.2zM523.5 374.8l.6-1.4 1.3-.4-.6 1.1zM524.6 399.5l-1 .3-.6-.4 .7-.3zM467.5 403.1l-.4-1.5 .6-.6 .5.8zM467.2 384.8l1-.6 .8.5-.8.5zM498.3 387.9l.7-.7 .7.4-.4.6zM470.7 374.8l1.6-.8 1.6.6-1.5.7zM473.8 382.2l-.1-.9 .6-.5 .2.7zM479.7 405l-1.8 0-.1-1.3 1.6-.4zM515.2 378.9l.8-1.1 1.2.1-.6 1zM531.5 386.4l-.3-1.7 1.2-.8 .3 1.3zM498.2 390.6l1.6-1.3 1.5 1.1-1.4 1zM522.1 388.2l-1.4-1.1 .1-1.2 1 .6zM488.1 381.8l.6-.7 1 0-.7.7zM472.6 377.5l-1.1.3-.4-.8 .7-.3zM492.6 397.6l0-1.7 1.3-.1 .2 1.1zM503.5 375.1l-1.2-.2-.4-1 1 .2zM505.1 374.9l-1.6.6-.2-1.4 1.1-.8zM496.6 369.1l-1.7-.4 .1-1.7 1.6.4zM500.4 389.3l-1.9.2-.7-1.7 1.9-.3zM479.5 385.6l-1.2.3-.2-1.1 1-.4zM476.3 395.3l0-1.5 1-.9-.1 1.4zM499.5 401.2l.5-.9 .9 0-.4.7zM474.9 387.2l-1.8.4-.1-1.5 1.1-.3zM478.5 385.1l.4-1.1 1 .4-.2.9zM482.3 401.5l.8-.9 .6.7-.5.7zM527.1 377.4l-.9.2-.5-.6 .7-.1zM497.2 397.1l1.2-1.5 1.4 0-.8 1.2zM496.3 381l.3-1.6 1.5-.2-.3 1.3zM499.7 381.1l.3-1.4 1.3-.2-.2 1.3zM480.4 370.3l-1.1-.4 .5-.8 .9.1zM501.4 392.1l-1.7.4-1.2-1.2 1.6-.3zM488 392.2l-.4-.8 .4-.5 .3.5zM474.3 375.4l.2-1.9 1-.5 0 1zM470.1 378.7l.4-1.1 .8.1-.1.8zM494.1 401.8l-1.8-.1-.6-1.1 1.1 0zM498.8 395.2l-1.2.9-.7-1 .7-.6zM494.7 403.5l-1.4-.6 .7-1.1 .9.4zM471 386.4l-1.2-1.1 .2-1.3 .8.8zM472 371.5l-1-.7 .2-1.1 .7.7zM505.3 377.8l-.9-1.1 .2-1.3 .8 1zM472 385l-.4-2 1.7-.4 .4 1.5zM472.3 393.5l-2 .1-1.5-1.4 1.9.1zM512.8 390.7l-.7-2.3 1.9-.9 .4 1.7zM499.2 379.5l-1-.7 .6-.9 .8.6zM509.5 400.1l-1.7-1.4 .4-2.1 1.3 1.5zM491.8 386.6l-1.6-1-.1-1.8 1.2 1.1zM483.3 404.7l-1.1-1.8 1.4-1.6 1.1 1.8zM510.1 395l-.7-1.2 1.1-.7 .4 1.1zM470.5 383.9l-.7-.8 .5-.9 .5.8zM523 397.9l-1.6-.5-.2-1 1 .1zM496 376.4l-.6-1 .7-.7 .5.7zM514.7 391.1l.3-2.4 2.1.2-.3 1.9z" fill="#5e1a5a" opacity="0.92" filter="url(#cb)"/>
<text x="324" y="349.14" font-size="8.3" text-anchor="middle" fill="#000" transform="rotate(-90 324 346.4)">DMSO</text>
<text x="324" y="389.14" font-size="8.3" text-anchor="middle" fill="#000" transform="rotate(-90 324 386.4)">3-MA</text>
<path d="M511 398L532.5 398" stroke="#000" stroke-width="1.6"/>
<text x="318.6" y="468.6" font-size="18" text-anchor="start" fill="#000">E’</text>
<text x="364.85" y="478.24" font-size="7.7" text-anchor="middle" fill="#000">Si-NC</text>
<text x="435.15" y="478.24" font-size="7.7" text-anchor="middle" fill="#000">Si-PTK6-1</text>
<text x="505" y="478.24" font-size="7.7" text-anchor="middle" fill="#000">Si-PTK6-2</text>
<rect x="329" y="481" width="69" height="39" fill="#ccbab2"/>
<rect x="329" y="481" width="69" height="39" filter="url(#spk)" opacity="0.5"/>
<rect x="329" y="481" width="69" height="39" fill="#d81e8e" filter="url(#fs)" opacity="0.45"/>
<path d="M361.6 515.3l-1 .4-.8-.5 .9-.3zM353.2 516l-.5-.6 .3-.5 .3.4zM370.9 499.1l.8-.6 .5.4-.4.6zM337.6 501.8l.7-2 2 .5-.6 1.9zM351.4 511.1l-1.1-.1 .1-.9 .8-.1zM390.8 490l-.6-.7 .3-.7 .5.5zM336.6 505.4l-1.8.4-.5-1.2 1.2-.7zM393.2 494.2l.8-.8 .9.4-.6.7zM334.8 482.9l-1.2 0-.6-.9 1 .1zM380.8 488.5l-1.2.5-1.1-.7 1.2-.3zM385.5 489.4l-1.9 0-.4-1.3 1.2-.1zM383.6 484.1l-1.9.1-.3-1.5 1.4-.2zM362.9 494.1l-1.6-.5-.5-1.5 1.4.6zM340.7 515.5l-1.7-.6 .3-1.5 1.4.3zM360 501.7l-1.7.7-.9-1 1.1-.6zM374.7 517.5l-1.7.8-.8-1 .9-.6zM378.7 486.6l-.4-1.4 .9-.4 .2.7zM396.6 488.1l-1.7.4-.2-1.7 1.5-.3zM352.3 505.9l-1.2-1.4 1.1-.7 .7.6zM348.2 510.3l-1.5-.2-.2-1.3 1.3 0zM388.3 517.9l.5-1.4 1.4.3-.5 1.3zM340.4 496.6l-1.6.4-.6-.8 .8-.5zM390.3 516.4l.2-.9 .7-.1 0 .7zM353.4 490l-.4-1 .9-.4 .4.8zM337.4 484.4l-.6-.7 .3-.5 .3.4zM362.7 503.3l-1.5-1 1-1 1.1.5zM332.4 499.2l-1.7-.4-.2-1.4 1.3.3zM363.2 500.7l-1-1.3 .8-1.2 .7 1.1zM345.4 483.1l-.8.5-.5-.8 .7-.4zM350.6 514.5l-1.2-.4 0-.8 .8.1zM350.7 508.8l-1.3-.1-.5-1 1.1 0zM358.2 504l-1.1-.2-.5-1 1 .3zM337.3 507.8l-1.2.7-.5-1.1 1-.6zM338.3 510.3l-1.2-.6 .1-1.1 1 .5zM350.6 500.2l.6-.9 .8.3-.4.6zM343.1 513l-.5-.7 .3-.6 .3.5zM369.2 488l-.7-1.5 1.1-.8 .6 1zM339.6 508l-.8-.5-.1-1 .7.5zM374.1 488.1l-1.5-.1 .4-1.1 1.1-.2zM355.2 495.1l-1.7-.1-.4-1.1 1.2-.3zM346.2 484.7l-1.7-.9 1-1.2 1.1.5zM359.9 490.9l.3-1.6 1.1-.2 0 1.1zM387.8 501.9l-.7-1.6 .9-.8 .5.9zM389.8 494.1l-.8-1.5 1-.9 .8 1.1zM368.8 500l-1.8-.2-.1-1.6 1.6.1zM386.7 503.7l.8-.6 .9.2-.8.5zM333.5 492.1l-1.5-.2-.3-1.3 1.3.2zM358.2 490.4l0-1.4 1.1-.4-.1 1zM335.3 488.6l1.1-1.1 1.1.8-.8.8zM367.4 518l.1-.9 .7-.1 0 .7zM387.7 499.4l-1.1-1.5 .7-1.2 .7 1zM395 500.4l0-2 1.5.2 .3 1.4zM390.2 501.1l-1.2.4-.2-1 .8-.4zM356.8 497.9l.5-1.3 1 .2-.3.8zM351.4 506.4l-.8-1 .4-.9 .7.6zM389.7 491.1l-.8-1 .7-1 .7.9zM345.8 487.6l-.1-1.2 .8-.4 .1.8zM362.9 502.8l-1.7-.2 0-1.6 1.3.3zM343 503.5l-1.5-.9 .3-1.6 1.2.9zM389.2 513.2l-.9-.8 .2-1.1 .7.7zM354.7 488l.8-1.4 1.2.2-.5 1zM383.3 482.5l-1.2-.1-.3-.8 .8-.1zM334.9 503.2l-2 .8-.7-1.8 1.5-.4zM385 483.3l1.1-1.3 1.4.1-.9 1zM367.4 485.9l.6-1.1 1.2 0-.6 1zM370.6 483.7l-1 .2-.3-.7 .6-.2zM354.7 511.3l-.6-1.3 1.2-.6 .5 1.1zM385.7 509l-1.8-.3-.1-1.5 1.4.2zM348.2 506.3l-.9.3-.3-.8 .8-.3zM367.6 504.9l-.9-.1-.2-.6 .6 0zM332.4 492l1.1-1.6 1.6 1.1-1.1 1.5zM336.8 509l-1.3-.3-.5-1 1.1.2zM364.2 484.3l1-.6 .9.5-.9.4zM382.8 504l-1.8.8-.7-1.2 1-.6zM352.2 496.5l-.5-1.9 1.7-.7 .3 1.6zM356.6 486.9l.5-1.7 1.6-.4-.5 1.5zM366.2 504.1l-1 .2-.7-.9 1.1-.1zM381.4 496.2l1.2-.8 1.1.6-1 .7zM371.7 508.1l.2-1.8 1.5-.4-.2 1.5zM393.7 503.1l-1.3-1.4 .4-1.7 1.1 1.3zM383 511.8l-.5-.9 .9-.5 .6.9zM337.3 498.9l-.4-1.3 .7-.8 .4 1zM331.8 519.2l.3-1.4 1.2-.4-.3 1.1zM358 495.3l-1.6.6-.8-1 1-.5zM385.8 497.8l.6-1.9 1.9 0-.5 1.8zM393.9 485.4l-2 .1 .3-1.6 1.4-.4zM356.8 516.5l-1 .2-.6-.8 .9 0zM376.3 496.1l-.9.5-.5-.6 .6-.4zM384.5 518.8l-1.5-.1-.5-1.1 1.2-.1zM382.2 517.8l-1.8-.3 .4-1.4 1.3 0zM387.9 503.5l-.6-1.3 .8-1 .5 1zM371.9 509.3l.2-.9 .7 0-.1.7zM340.3 486.9l-.1-1.4 1-.3 .1.9zM357.6 519.7l-.4-1.4 1-.8 .2 1.1zM366.3 511.6l.4-1.1 1-.2-.3 1zM392.3 509.5l.4-1.2 1.1-.2-.2 1zM330.1 502.7l.4-.7 .6.1-.2.5zM359.4 485.4l0-1.9 1.5-.6-.2 1.4zM348.4 507.6l-1.5-.9 .3-1.3 1.1.5zM334 491.6l.6-1.7 1.3.7-.3 1zM384.2 504.5l.8-1.8 1.4.5-.4 1.3zM369.8 482l-.9.1-.5-.8 .8.1zM378.5 505.4l.7-.6 .6.6-.6.7zM334.2 512.7l-1.2.8-.6-.9 .8-.6zM358 494l.3-1.5 1.1 0-.2.8zM357.7 485l-1.3-.5 0-.9 .8.3zM329.5 511.9l.4-1.1 .9-.2-.2.8zM370.1 495.3l-1-1.6 1.2-.6 .8.8zM393.6 495.5l-1.3.3-1-.9 1.2-.1zM343.4 497.1l-1.7.4-.7-1.6 1.7-.4zM345.6 493.5l.7-1 .9.2-.4.8zM366.6 513.9l-.2-1.1 .8-.4 .1.8zM338.3 484.4l.1-2 1.6-.5-.3 1.5zM357.8 508.3l-1.4-.8 .2-1.3 .9.6zM355.4 508.2l.1-1.5 1.1 0 0 .9zM369.2 511.5l-.9-1.5 1-1 .9 1.1zM348.3 485.8l-1.2.5-.4-.9 .7-.4zM359.5 505.5l.9-.6 .7.4-.6.5zM329.9 483.2l-.6-.6 .4-.8 .5.7zM380.3 487.6l-1.2-1 .9-1.3 .9 1.1zM358.4 487.1l-1.2-1 .2-1.6 1.1 1.1zM390.7 497.9l-.2-.7 .4-.5 .1.6zM380.2 491.1l-.8-.3 0-.7 .6.2zM389.2 506.4l-1.3-.8 .6-.9 .9.2zM333.2 509.4l1-.7 .8.3-.6.6zM357.7 504.1l.2-1.1 .8-.3-.2.8zM337 506.5l-.4-1.1 .9-.3 .4.8zM336.9 519l1-.9 1.1.4-.8.8zM332.8 490l.6-1.6 1.2.2-.3 1zM346.1 515l-1.8-.5-.7-1.7 1.7.6zM348.4 488.9l-.2-1.1 .8-.3 .2.7zM355 487.1l-.9 0 0-.8 .8-.1zM381.7 496.8l.1-1.2 .8-.1 .1.7zM338.4 494.2l-1.7-1 .7-1.7 1.6.8zM375.6 501.8l-1 .3-.5-.5 .6-.3zM382.3 505l-.9-.4 .1-.8 .7.3zM332.7 499.4l-.4-1.2 .8-.5 .3.8zM370.7 517.5l-.9-1.2 1-.9 .7 1zM336.1 500.4l-1 0 0-.7 .6-.1zM391.8 510l-.8-.5 .5-.6 .6.2zM358.6 488.2l-1.1-.5 .3-.8 .8.2zM362.1 512.7l-.9.3-.4-.6 .5-.2zM368.9 486l.2-1.7 1.3-.8-.3 1.5zM356.1 517.8l.2-1.7 1.4-.6-.2 1.5zM397.9 494.7l-1.5-1 .6-1.1 1 .4zM396.6 508.7l-1.3.1-.7-.9 1.1-.1zM331.9 487l-1 .6-.5-.7 .6-.4zM372.3 517.6l-1.7.6-.8-.9 1-.5zM333.6 504.9l-.3-1 .6-.6 .2.7zM336.2 519.4l-.4-1.7 .9-.7 .3.9zM342.7 499.1l-.5-1.6 1.3-.9 .5 1.4zM348.4 519.1l-.4-1.7 1-.8 .2 1.1zM364.8 487.6l-1.3-1.4 1.1-1.1 .8.9zM353.4 499.5l.4-1.3 1.3-.1-.2 1.3zM380.5 509.9l.1-1.1 1-.1-.1 1zM365.2 498.6l-.3-1.5 .9-.8 .3 1.2zM386.7 493.5l-1.4-1.2 .1-1.7 1.3 1zM362.9 483.7l-.5-1.8 1.2-.7 .3 1.2zM389.5 500.2l-1.4.6-.9-1.3 1.3-.4zM381.4 515.4l-.4-.9 .6-.8 .4.9zM373.4 491.8l-.4-1.7 1.1-.6 .5 1.1zM396.1 485l-.9.5-.5-.8 .7-.3zM355 489.9l.5-1.8 1.4.2-.3 1.1zM363.9 492.9l-.5-.6 .3-.5 .3.4zM350.7 497.1l-1.3-.6 .2-1.1 1 .3zM391.2 490.1l-1-.6 .4-.9 .8.5zM355.5 482.1l.6-1.1 .9.4-.3.8zM370.3 484l-.5-1 .6-.9 .3.9zM392.7 487.8l.6-1.4 1.4.1-.6 1.1zM345.1 488.4l-1.3-1.1 .7-1.5 1.1 1.1zM348.8 494.8l.6-.7 .9.3-.6.6zM372.1 516.1l-.5-1.5 1.2-.7 .4 1.2zM354.5 485.3l-.8 0-.4-.5 .6-.1zM357.2 516.4l-.8-.6 .2-.8 .7.4zM383.3 514.2l0-1.2 1 0 0 .9zM377.6 489.7l.2-1.2 1.1.2-.1 1.1zM378.9 488.8l-1.6 1.1-1.4-1.1 1.4-.8zM388.6 496.6l-.8-1.7 1.3-.8 .5 1.1zM355.2 499.9l1.4-1.2 1.4.9-1.2 1zM360 511.2l-.2-1.3 1.1-.1 .2 1zM342.9 494.5l-1.7.4-.6-1.6 1.5-.1zM347.9 485.8l-.8.4-.6-.5 .6-.3zM340.3 490.6l-.8-1.7 1.1-1.6 .5 1.7zM365.1 499l-1.5.3-.7-1.2 1.4-.3zM377.2 500.7l-.2-1.5 1.3-.4 0 1.1zM352.6 486.2l-1.3-1.4 1.4-1.1 1.2 1.1zM377.9 516.9l-1.4-1.4 .9-1.4 1.3 1.1zM338.3 502.8l.6-.6 .6.4-.4.5zM345.9 495.2l-.9-.3-.1-.7 .6.3zM348.1 491l-.1-1.4 .9-.5 .2 1zM342.9 515.8l-.6-1.9 1.6-.8 .5 1.5zM363 504.5l-.5-.7 .5-.6 .4.6zM340.6 510.3l1-.5 1 .4-1 .4zM367 507.3l.6-1.6 1.3 0-.4 1.1zM329.3 506.3l.6-1.4 1.3-.3-.4 1.2zM347.7 486.5l-1.4-.3-.3-1 1 0zM336.7 498.8l-.9.4-.4-.6 .6-.3zM346 516.6l-1.8.2-.5-1.1 1.1-.3zM355.8 519.3l-1.9-.4 .2-1.4 1.1.1zM350.5 505.2l-1.6 1.2-1.3-1.4 1.5-.7zM384.7 515.6l-1.4-1.1 .4-1.5 1.2.8zM341.8 506.1l-.2-2 1.6-.2 .3 1.4zM392.3 494.2l-1.8-.6-.4-1.8 1.6.8zM378.3 487.3l-.2-1.8 1.4-.9 .2 1.6zM356.2 486l1.2-1.3 1.1.6-.7.8zM381.9 497.7l.4-.9 .9.2-.4.7zM381.3 501.8l-1.9-.3-.5-1.6 1.5.4zM360.6 482.9l.7-1 .8.5-.4.9zM347.9 513.1l-1.8.4-.5-1.4 1.2-.3zM337.8 514.3l.3-.8 .8 0-.3.7zM394.5 506.4l-1.4-.2-.3-1.2 1.1.1zM347.7 513.7l.6-1.1 1.1.2-.5.8zM387.5 499.5l-.9-.5 .3-.8 .7.3zM383.2 487.8l-1.1.1-.2-.8 .8-.3zM348.7 504l1.2-1.5 1.4 1.1-1 1.4zM388.6 519.2l-1.3 0 .1-1.1 1-.1zM387.2 512.5l-.3-1 .5-.7 .3.8zM378.5 493.5l.2-1.4 1.1.2 .1 1zM340.5 483.7l1-1.4 1.6.7-1.2 1zM334.3 519.2l-1-.2-.1-.8 .9 0zM395.2 495.6l-.3-1.3 1.1-.6 .1 1zM348.6 517.3l.1-1.2 .9.3 0 .8zM392.4 484.2l-.9-.5 .3-.7 .6.3zM385.2 493.2l.8-1.2 1 .8-.5.9zM372.3 508.6l.5-.6 .8.2-.5.6zM394.1 502.5l-.2-1.4 1.2-.5 .2 1.2zM336.1 496.6l1.5-1.4 1.1 1.1-.9 1.2zM356.7 493.6l-.3-1.6 1.5-.6 .1 1.5zM338.4 515.8l-2-.8 1-1.4 1.6.2zM370.8 485.5l.9-1.8 1.7.3-.7 1.5zM367.7 495.7l.5-1.5 1.1.1-.1 1.1zM359.2 496.8l1.5-.9 1 .7-.9.5zM379.8 520l-1.7 0 0-1.2 1.2-.2zM358.3 503.3l-1-1.1 .5-1.1 .7.9zM388.6 511.5l-.9-.4 .1-.8 .7.3zM341.3 500.4l0-1.5 1.5 0-.2 1.3zM350.2 502.5l.2-.9 .7.1 0 .6zM363.7 488.1l.4-1 .7.1-.1.7zM349.6 506.4l.5-.8 .9.2-.6.7zM339.9 492.2l-1.3-1.2 .4-1.2 1 .7zM386.5 518.8l-1.7.7-.7-1.5 1.4-.7zM396.3 506l-.9-1 .6-.9 .5.8zM379.6 507.4l-1.3-1 .1-1.6 1.2 1zM383.5 491.6l-1.4-1.3 .6-1.4 1 1zM395.8 483.9l-1.3-.4 .5-1.1 .9.3z" fill="#d81e8e" opacity="0.92" filter="url(#cb)"/>
<rect x="399" y="481" width="69" height="39" fill="#e5d3c7"/>
<rect x="399" y="481" width="69" height="39" filter="url(#spk)" opacity="0.5"/>
<rect x="399" y="481" width="69" height="39" fill="#d81e8e" filter="url(#fs)" opacity="0.45"/>
<path d="M426.7 490.8l-1.9 0-.7-1.5 1.6 0zM425.1 511l-.4-1.7 1.1-1.1 .3 1.5zM409.1 487.5l.2-1 .9-.2-.3.7zM451.7 482.9l.9-1.7 1.7.5-.7 1.6zM409.1 507.7l-1.8.2-1.2-1.4 1.7.1zM420.6 506l-.1-1 .7-.6 0 .9zM409.5 508.3l-1.3-1 .6-1.2 .8.8zM407.6 499.7l.3-1.2 1-.3-.2 1.1zM444.9 493.9l-1 .3-.3-.9 .9-.4zM450.4 486l.1-.9 .7-.4 0 .7zM439.5 498.1l.9-1.9 1.7.6-.5 1.5zM446.2 498.7l-1.5-1.5 1.1-1.2 1.2.8zM419 517.4l-1.8-.8 .1-1.9 1.7.8zM450.1 489.7l-.9.2-.2-.8 .7-.1zM416.3 503.6l-1.3.2-.4-1.1 1 0zM448.2 504.2l-.8-1.6 .8-1.6 .5 1.5zM439.2 518.8l-.1-1.4 .9-.3 .2.9zM453 485.1l-.8-1.3 .9-1.1 .9 1.1zM462.9 493.7l-1.8.1-.8-1.4 1.6-.2zM419.1 505.1l-1.5-.7 .1-1.2 1.1.3zM441 490.7l-1.6.3-.1-1.4 1.3-.4zM454.8 483.9l.8-1.4 1 .2-.2 1zM413 513.2l-1.3-.4 .3-1.3 1 .5zM460.4 501.6l-1.5.2-.3-1.1 1-.3zM416.6 482.9l.4-1.7 1.3.2-.1 1.1zM439.5 509.2l-.7-1.3 .6-.8 .5.8zM431.2 511.3l.6-1.7 1.7 0-.7 1.3zM424.3 484.4l1.1-1.6 1.7.1-.9 1.3zM454.3 485.3l-.9-.8 .2-.8 .6.5zM406 515.2l-1.8-.7 .2-1.9 1.4.8zM460 519.5l1-1.1 1.5.1-1 1.1zM417.2 514.8l.2-1.3 1.4 0-.4 1.2zM435.6 516.5l-.5-.9 .4-.8 .4.8zM447.8 517.3l-1.6-.5-.3-1.3 1.2.4zM446 493.1l-2-.3 .3-1.4 1.4-.2zM426.4 502.7l.3-.7 .6-.1-.1.6zM427.8 519.2l-1.5-1.2 1.2-1 1 .7zM424.7 488.5l-.7-.6 .3-.9 .6.6zM441 520l.3-1.3 1.1 0 .1 1.1zM460 513.6l.3-1.6 1.4-.8-.3 1.5zM399.9 519.1l-.5-1.3 .9-.6 .3.8zM443.2 505.5l-1.7.3-1.3-1.1 1.6-.2zM426.2 500.9l-1.4-1.2 .1-1.8 1.2 1.2zM434.8 508.5l-.9-.5 0-.6 .6.2zM432.9 485.3l-.4-.9 .5-.4 .4.5zM416.2 512.7l.5-2.1 2.2.2-.8 1.7zM432.8 485.8l-.5-1.7 1-1.2 .3 1.4zM466.2 495.4l.8-.8 .9.5-.7.7zM411.7 499.8l-.6-1.1 .8-.4 .6.6zM427.8 495.7l-.8-1 .6-1 .6.9zM406.3 499.4l-1.2-.6-.2-1.3 1.1.6zM462.9 490.7l-.9-.4 .3-.8 .6.3zM421.9 519.3l-.9-1.7 1.1-1.3 .8 1.4zM439.5 518.2l-.5-1.4 1.1-.4 .5.9zM426.3 486.2l.7-.6 .5.4-.4.4zM457.2 519.9l-1.1-1.1 .3-1.1 .8.7zM429.8 514.9l-2-.5 .3-1.9 1.7.5zM400.4 494.3l.4-1.4 1.2.5-.2 1.1zM430 497.7l1.2-1.2 1.2.7-.8 1zM414.9 500.3l.1-1 .7.2 .1.7zM453.9 507.5l-.2-.9 .7-.3 .2.6zM416.9 496l-.9-.2 0-.6 .5 0zM426 513.5l-.2-1.6 1.5-.1 .2 1.4zM432.8 497.2l-.3-.8 .5-.4 .3.5zM442.4 508.5l-1.5-.2-.9-1.4 1.5.3zM411.3 512.1l-2.3.5 .1-1.9 1.4-.5zM403.4 518.4l.9-.7 .7.3-.5.6zM407.8 518.6l-.8-.8 .5-.6 .5.4zM430.5 504.3l1.2-.9 .8.8-.7.6zM463.2 509.4l-1.6-.6-.2-1.4 1.3.5zM458.4 517.7l.3-1 .9-.1-.2.9zM434.6 500l-.9.4-.5-.7 .7-.3zM451.8 507l-1.2-.5 .1-.9 .8.2zM451.6 519.9l-1.3-.9 .2-1.1 .9.5zM451 518.9l-.7-.7 .3-.7 .6.5zM449.8 503l1-1.5 1.3.4-.7.9zM416.1 508.6l.3-1.1 1.1-.3-.3 1zM444.1 491.2l.8-1.4 1.5-.2-.7 1.3zM424.9 511.5l.3-1.9 1.9-.1-.4 1.7zM460.7 502l.4-1.6 1.4.1-.2 1.4zM417.3 518.2l.3-1.7 1.5-.4-.3 1.5zM437.5 509l-.5-1.2 .8-.5 .4.7zM405.2 486.6l-1.8.3-1.1-1.1 1.4-.4zM413.5 507.6l-.5-.7 .4-.5 .4.4zM407.7 491l.9-1.1 .9.5-.5.6zM405.9 509.8l-.4-1.7 1-.6 .4 1zM423.4 518.4l.2-1.8 1.6-.7-.3 1.7zM402.6 516.6l-1.3-.2-.2-1 .9.1zM458.9 488.7l.7-1.1 1 .1-.4.9zM448.3 498.4l-1.2-.6 .2-.8 .6.2zM423.2 509.1l-.4-.9 .4-.7 .4.7zM424.9 519.1l-.5-1.3 1-.6 .4 1zM457 513.2l-1.6.2-.4-1.1 1-.3zM464.4 495.2l-.7-1.2 .9-.6 .7.8zM467 486l-1.3.9-1.1-1 1.2-.6zM400.9 494.2l-1.1-.9 .6-.9 .9.5zM399.2 490.2l.4-1.1 .9.3-.2.8zM457.3 512.6l-2.1.2-.6-1.9 2-.3zM407.9 496.5l-1.3-.3-.5-1.1 1.2.2zM399.7 492.6l1.2-1 1 .5-.7.7zM434.2 505.4l-1.8.2-1-1.4 1.7-.2zM425.5 492.3l.7-1.2 1.3.1-.6 1.2zM433.8 499.2l.5-.8 .6.3-.2.6zM456.4 498.1l-.9-.2-.3-.7 .8.1zM418.7 492.9l-1.6-.1-.6-1.3 1.4.1zM420.8 486l.5-1.9 1.6.2-.2 1.5zM425 511.2l-.9-1.1 .8-.8 .8.7zM464.6 490.5l-1.4-.9 .5-1.4 1.2.7zM416.6 497.4l-.1-2.3 2.1-.2-.2 1.8zM444.3 484l-.4-1 .6-.4 .3.5zM465.5 503.1l-.9-1.2 .5-1.3 .7 1zM413.2 513.2l-1.2-1.7 1.2-1.1 .9 1.1zM468 512.5l-1.4-.7 .1-1 1 .2zM431 516.1l.1-1.4 1.2.2 0 1zM412 508.3l.6-1.4 1.3.6-.5 1zM402.3 485.5l-.9-.5 .4-.9 .7.5zM412.4 483.4l-1-.5 0-.8 .7.2zM433.4 514.1l-.5-1.8 1-1.2 .3 1.4zM420.5 488.2l-1.6-.2-.1-1.3 1.3 0zM448.8 518.1l.1-1.3 1.2.1-.2 1zM443.9 485.5l-.4-1.3 1-.9 .4 1.2zM414.5 501.3l-1.1-.9 .7-.8 .8.4zM403.3 498.9l-.6-1.2 .6-1 .5 1zM409.1 488.1l1-.9 .8.6-.6.7zM425 504.8l-.6-1.8 1.1-1.4 .5 1.7zM406 505.7l-1.2-.3 0-1 .9.2zM428.5 485.2l.7-.3 .8.3-.7.3zM414.1 509.3l-1-.7 0-1 .7.6zM464.6 497.2l-1.3-.4 .2-1.1 1.2.1zM466 514.9l-.1-1.3 .9-.3 .2.8zM403 511.5l-1 .3-.5-.8 .8-.1zM451.4 493.8l-.9-1 .2-1.2 .7 1zM441.2 495.1l-1.5-.9 .1-1.4 1.1.6zM424.2 499.8l.5-1 1 .1-.5.7zM416.3 511.1l-1.8.7-1.1-1.3 1.5-.4zM428.7 500l.3-1.6 1.2.4 0 1zM440.1 486l-1.3.2-.3-1.1 1-.1zM412.6 511.6l-.6-1.8 1.6-.6 .4 1.4zM430.3 490.2l.8-1.7 1.4.3-.5 1.1zM434.1 494.1l-.9-1.2 .4-1.3 .7 1.1zM453.9 496.6l-1.3.1-.5-.8 .9-.1zM434.3 503.4l1.4-1.1 1 .5-.7.9zM431.7 504.4l.4-1.4 1.1.6-.1 1.2zM464.4 499.7l-1.8.3-.8-1.5 1.6-.2zM420.1 484.2l-1.3-.2 0-1.2 1.2.2zM443.7 499.1l0-.8 .7-.3 0 .7zM418 515.8l-1.4-.5 .5-1.3 .9.5zM434.4 489.2l1-1 1.1.7-.8.7zM433.7 498.8l1.3-.9 1.5.4-1.3.9zM443.8 508.7l1-1.5 1.6-.1-.8 1.4zM409.7 512.4l.1-2 1.8-.4-.4 1.6zM426.2 490.4l-.9-.2 0-.6 .5 0zM441.8 512l-.7-.5 .1-.6 .5.3zM460.7 487.8l0-1.2 .9-.4 0 .9zM464.8 502.1l-1.3-.1-.6-1.1 1.2.2zM405.8 499.6l.5-.7 .7.1-.4.5zM441.3 511.2l-.1-1.9 1.3-.5 .2 1.3zM428.3 490.4l-1.1-.6-.2-1.1 1 .6zM448.5 491.9l-.8-.7 .1-.8 .7.5zM399.4 510.2l.6-1.3 1.3-.1-.6 1.1zM420.1 503.2l.6-.7 .7.2-.4.5zM406.2 498.8l1.2-.8 .9.8-.9.6zM445.4 517.2l-1.3.3-.3-.9 .9-.4zM457 501.4l-1.7.8-1.4-1 1.5-.5zM421.5 498l-.9-.9 .2-1.2 .6.9zM428.9 487.9l-.7-1.1 .6-1.1 .5 1.1zM459.6 489.2l-.8-.5 0-.8 .7.4zM419.5 494.5l-1.4.9-.7-1.2 .9-.6zM452.5 492.5l1-1.3 1 .9-.6 1.3zM434.9 503.8l-1.8.5-.4-1.2 1-.4zM421.6 485.6l-1.6-.5 .1-1.7 1.5.6zM443.9 506.2l-.9-1.4 1-.8 .7.9zM435.9 503.8l.8-1.4 1.2.1-.4 1zM409.7 500.5l-.3-.9 .8-.2 .2.7zM442.7 513.7l1.2-.8 .7.7-.6.6zM416.6 495.6l-.4-1 .6-.5 .4.6zM420.3 484.9l-1 .5-.5-.8 .7-.4zM429.5 497.8l-.8-.6 .1-.6 .5.3zM401.1 503l-.5-.8 .5-.6 .4.6z" fill="#d81e8e" opacity="0.92" filter="url(#cb)"/>
<rect x="469" y="481" width="69" height="39" fill="#dccabe"/>
<rect x="469" y="481" width="69" height="39" filter="url(#spk)" opacity="0.5"/>
<rect x="469" y="481" width="69" height="39" fill="#d81e8e" filter="url(#fs)" opacity="0.45"/>
<path d="M513.7 482.7l-1-.4-.1-.9 .9.3zM475.9 497.5l-1 .5-.4-.6 .5-.3zM514.8 503.1l-1.4-.3-.1-1 .9 0zM518.6 495l-2 .3-.2-1.5 1.1-.2zM526.3 505.4l.7-1.6 1.6-.1-.8 1.4zM506.5 514.8l-.3-1.8 1.4-.9 0 1.5zM485.6 492.5l-1.1.6-.4-1 .8-.5zM494.9 496l-1-.2-.4-.9 .9.2zM481.7 510l-1.1-.1-.6-.9 1 .1zM515.5 514.5l.2-1.3 1 .3-.1.9zM482.6 518.2l.7-1 .9.3-.4.8zM501.6 492.2l-1.6-.2-.1-1.4 1.4.1zM495.3 489.6l1.3-1.1 .6 1-.6.8zM512.5 512.6l-.7-.6 .3-.8 .6.6zM537.4 514.6l-1.4.8-1.1-.9 1.1-.5zM513.5 486.5l-.8-1 .3-1.2 .6 1zM502 488.4l1.2-1.5 1.6.7-1 1.3zM479.4 512.2l-.8-1.6 1-.6 .6.8zM469 517.8l.9-1.6 1.2.7-.4 1.3zM534.4 485.1l-.5-.7 .4-.7 .3.6zM502.9 503.6l-1.9-.5 .2-1.4 1.2.2zM520.3 490.3l-1.7-.9 .1-1.6 1.3.6zM478 490.9l-1.5-.6 .5-1.2 .9.4zM511.1 490.4l1-1.8 1.4 1-.6 1.5zM482.5 486.4l1.1-1 1.3.5-1 1zM482.4 485.9l-1-1 .5-1.1 .8.8zM537.2 485.8l-.8-.8 .3-.8 .5.5zM500.6 498.2l-1-.5-.1-.8 .8.3zM505.4 483l1.6-.7 1.5.7-1.5.6zM481.3 500.6l-1.5.1 .1-1.2 1.2-.4zM487.5 512.7l-.7-1 .3-1.2 .6 1zM519.6 488.4l-1.8-.8 0-1.6 1.5.5zM472.9 505.3l-1.3-1.5 1.4-1.5 .8 1.5zM481.3 505l-.2-1.2 1.2-.3 0 1zM510.3 506.4l-1-1 .4-1.4 .8 1zM518.9 491.6l-1.4-1 .6-1.1 1.2.5zM472.3 498.9l1.7-1.6 1 1.6-1 1.1zM532.4 515.7l.7-1.2 1.2.5-.6 1.1zM524.6 494.1l-.4-2.1 1.6-.1 .4 1.2zM506.7 493l-.6-1.7 1.4-.8 .4 1.4zM502 516.7l.5-.9 .7.3-.3.5zM523.2 506.9l-1.6-.5-.1-1.3 1.1.4zM473 515.8l1-1 1.1.3-.8.7zM476.4 493.5l1.2-1.2 1.5.3-1.1.9zM485 486l.5-1.8 1.7 0-.5 1.4zM531.7 514.8l1.4-.8 .8.7-.7.7zM490.6 518.2l.9-1.5 1.2 0-.4 1.2zM475.6 515.4l.7-.8 .8.1-.5.6zM524.8 489.9l-1 .6-.8-.7 .9-.6zM488.8 507.6l-1.5-1.3 .5-1.8 1.1 1.3zM535 488.1l.9-1 .7.8-.6.8zM490.6 505.7l-.6-1.1 .7-.6 .5.7zM505.2 510.1l.3-1.7 1.2.1 .1 1.1zM490.5 493.9l.8-1.6 1.3.5-.5 1.2zM497.8 493l-1.2 0-.7-.8 1.1-.1zM511.4 493.4l-.4-.7 .5-.5 .4.6zM514.3 500l-.7-.8 .4-.9 .7.7zM480.6 485.6l-.8-1.3 1-1.2 .8 1.2zM516 490.2l-.9 0-.1-.8 .7-.1zM473.7 498l-.1-1 .7-.5 0 .8zM521.9 511.4l-1.4.5-.7-1.2 1.3-.4zM471.4 491.2l.8-1 1.1.1-.6.9zM508.8 518.5l1.1-1.1 1.1.3-.7 1zM506 516.8l.2-1.4 1.1.1 .1 1zM521.5 502.2l-.5-1.2 1.1-.2 .3.8zM491.9 502.5l-1.1 0-.5-.8 .9.1zM497.4 503l-.9-.7 .4-1 .7.7zM516.2 515.1l.1-1.5 1.2.3 .1 1.2zM528.3 519.6l-1.3-1.2 .6-1.3 .9.9zM485.2 498.1l-1.1.5-.7-.7 .8-.3zM501 486.7l-.2-.9 .7-.3 0 .6zM513.4 487l-.6-.6 .5-.6 .4.4zM520.4 496.9l.3-2 1.4.3-.1 1.1zM492.1 507.2l.6-1.4 1.5-.3-.7 1.2zM471.7 487.5l-1.6.2-.5-1.1 1.1-.3zM521.4 488.9l-.7-1.8 1.7-.8 .7 1.7zM477.2 483.1l-1.3-.7 0-1.2 1 .5zM473.9 508.7l0-.9 .6-.5 .1.8zM476.5 520l.4-1.2 1 .1-.2.9zM491.9 514.6l.4-.8 .8 0-.4.6zM516.7 499.2l.2-2.1 1.9-.2-.2 1.8zM501.7 498.7l.3-1 .9-.4-.3.9zM530 491.8l-1.1-1.2 .9-.8 .9.6zM480.7 489.9l.5-1 1.1-.2-.5.9zM471.1 518.4l-1.6.4-.5-1.2 .9-.4zM512.9 500.6l.3-1 .9.1-.3.8zM509 500.6l-.5-1.2 .7-.7 .4.8zM488.5 491.1l-1.1.4-.3-.9 .9-.5zM481.8 490.9l-.7-1.4 .6-1.1 .5 1zM476.6 489.1l-1.2.1 0-1.1 .9 0zM535.7 503.3l.2-1 .7-.2-.1.7zM508.8 500.2l-1-.7 .7-1 .8.7zM527 496.9l-1.6.9-.4-1.3 1-.9zM476.7 512.2l-.6-1.8 1.4-.7 .5 1.4zM498.5 514.6l1-.6 .9.5-.8.6zM535.5 489.9l-1.8.1 .1-1.4 1-.1zM511 493.3l-1.5-.4-.3-1.2 1.2.2zM532.2 513l0-1.5 .9-.7 .1 1.1zM513 516.8l.4-.9 .7.3-.1.7zM509.6 492.8l-1.6.2-1-1.3 1.5 0zM504.2 484.3l-1.2.6-.6-.9 .7-.4zM535 515.2l-.4-1.8 1.1-1.1 .2 1.4zM471.9 511.8l-.8-1.2 .6-.9 .6.7zM513.8 500.5l-1.2.4-.6-1 1-.4zM492.8 509.3l-1.7-.7-.1-1.5 1.3.6zM489.6 493.7l1-.8 1.2.6-1 .7zM507.3 497.7l-1.2-.1-.4-1 1 .1zM481.9 502.7l1-.9 .8.5-.5.7zM512.1 490.9l-1.4.1-.3-1 1-.3zM533.4 499.5l-1.8.4-.8-1.4 1.5-.2zM486.9 513.6l.9-.6 .7.5-.6.6zM503.2 515.7l.7-.9 .8.2-.4.7zM504.7 513.8l-1.1-.4-.2-1.2 1 .5zM479.8 503.1l-1.2-.7 .2-1.2 .9.5zM481.8 509.1l-.3-1 .6-.4 .3.6zM518.1 513.9l-1.1-1 .2-1.5 1 1.1zM471.1 502.1l-.3-1.7 1.1-.9 .3 1.3zM500.9 510.5l-1.5-1 .9-1.3 1.3.7zM491.7 509.4l0-1.7 1.3-1-.1 1.6zM489.7 510.1l.1-2.2 1.7.6 .2 1.5zM521.8 498.3l-1.5.2-.7-.9 1.1-.2zM530.5 483.4l.4-1.2 .9.3-.1.7zM508.7 512.3l-.8-.1-.4-.6 .7.1zM532.1 487.5l-.8-.8 .6-.6 .8.4zM532.2 508l-1.4.1-.4-1.1 1.1-.2zM497.5 491.2l.5-1 .9.2-.4.7zM507.5 503.4l1-.4 .8.4-.8.3zM507.5 508.3l.2-.9 .7-.1-.1.7zM488.4 513.1l-.2-1.1 .8-.6 .2.9zM517.6 507.4l.8-1.2 1.3 0-.7.9zM498.9 504.2l.1-1 .9-.1-.2.8zM476.9 502.1l1.2-.6 1.1.4-1 .5zM524.7 500.6l.6-1.7 1.3.4-.1 1.3zM477.4 519.3l1-1.2 1.6 0-1 1.1zM495.5 511.9l-1.3.7-1-.8 1.1-.7zM508.5 513.2l.7-.7 .5.5-.3.7zM508.3 517.2l-.8-.2-.3-.8 .7.3zM496.2 486.6l.9-.8 .6.6-.4.6zM477.6 499.9l.2-1.6 1.1-.5 0 1.2zM480.8 497.5l-1.4.4-.8-1.1 1.2-.1zM493 498.5l1.4-1.6 1.5 1.2-1.2 1.3zM536.8 495.8l-1.1-.6 .5-1 .8.6zM514.5 506.7l-.1-.8 .5-.3 .1.5zM507.3 484.3l.2-1.2 1.1 0-.3 1zM480.7 516.1l-1.5 1.3-.9-1.3 .9-.9zM481.8 506.8l-.8.3-.4-.4 .5-.2zM480.2 483.9l.4-1.3 1-.2-.1 1zM504.4 486.9l-1.6-1.7 1.6-1.4 1.5 1.5zM504.2 498.9l.7-.5 .6.4-.5.5zM503.6 516.7l-.9.2-.3-.5 .5-.2zM513.6 503.8l-1.8-.9 .2-1.6 1.4.6zM474.6 509l.9-1.3 1.4.2-.8.9zM500.7 490.9l-1.2-.6 .4-.9 .8.2zM516.3 496.3l-2.1.6-.6-2 1.7-.2zM474.6 510.5l.7-1.3 1.2.1-.5 1zM476.7 496l.1-1.6 1.3-.7-.1 1.4zM510.2 495.6l-.3-1 .7-.4 .1.6zM526.4 496.2l.5-1.3 1.3-.4-.4 1.3zM525.2 505.6l0-.8 .6-.5-.1.7zM482 509.3l-1.4-.3 .3-1.4 1.3.3zM496.4 487.2l-.1-.8 .5-.3 .1.6zM491.6 496.6l.2-1.7 1.2-.1-.1 1zM479.4 505.9l0-1.1 .8-.3 0 .8zM488.9 510.8l-1.3.4-.6-1.1 1.1-.3zM515.5 484l-1.7-.8 1-1.2 1.1.5zM478.8 491.6l-.7-.4 .2-.6 .4.2zM516.2 501.3l.7-2 1.9.5-.8 1.5zM469.1 517.5l.9-1.3 1.3.3-.8 1zM477.7 483.1l-1.5-.8 0-1.3 1.5.4zM476 514.8l-1.5-.3-.1-1.2 1.1.2zM493.5 494.6l-1.6.3-.3-1.4 1.3-.4zM491.8 510.2l.7-1.8 1.3.5-.3 1.1z" fill="#d81e8e" opacity="0.92" filter="url(#cb)"/>
<rect x="329" y="521" width="69" height="38" fill="#d1beb7"/>
<rect x="329" y="521" width="69" height="38" filter="url(#spk)" opacity="0.5"/>
<rect x="329" y="521" width="69" height="38" fill="#d81e8e" filter="url(#fs)" opacity="0.45"/>
<path d="M332.7 548l-1.3 0-.7-1 1.2 0zM363.6 522.8l-.7-1 .3-.8 .6.6zM357.6 528.4l.9-1.6 1.2.5-.4 1.1zM362.9 551.5l-.4-1.4 1-.5 .1.9zM332.4 557.3l.6-.9 .9 0-.5.7zM386.7 543.5l1.1-1.5 1.3 1-.8 1.3zM390.9 535l-1-1.5 1.2-1.2 1 1.4zM332.8 544.3l-.8-.6 .1-1 .7.6zM335.5 540.9l.7-1.8 1.3.2-.1 1.2zM371.3 524.5l-.9.1-.3-.6 .6-.2zM336.6 542.1l-.8-.6 .6-.9 .8.6zM336 549l1.6-.9 1.1.8-1.1.7zM362.5 557.9l.3-1.7 1.2-.4-.1 1.2zM334.3 529.1l1-.9 1 .5-.8.6zM370 556.6l-1.3-.5 .4-1 1 .2zM376.9 559l-.3-2 1.6-.2 .3 1.3zM345.2 538.6l-.8.2-.5-.5 .7-.2zM390.8 553.9l1.2-1.1 .8.8-.6 1zM376.9 526.6l-.2-1.1 .7-.2 .3.6zM352.8 531.4l-1.4.2-.4-1 .8-.1zM348.4 548.6l-1.8-.2 .2-1.7 1.3.3zM344.5 550.1l-1.1-1.3 .9-1.2 .8 1.1zM360.8 538.3l1.1-1.3 1.6.5-1.1 1.1zM378.7 541.6l-.2-1 .6-.6 .2.8zM372.3 522.5l-1.7.3-1.2-1.4 1.7-.2zM371.1 549.7l-.6-1 .7-.7 .4.8zM353.1 538.5l-.8-.4-.1-.7 .6.2zM383.2 548.5l-.7-.9 .5-.7 .5.6zM345.5 544.3l-.6-.8 .7-.7 .5.8zM342.5 528l1.1-.9 1.3.4-1.1.8zM364.3 556.2l-1.1-.1-.4-.9 .9.2zM339.1 553.9l-1.8-.6 .5-1.3 1.2.1zM356.3 536.4l-.9-1 .5-1 .7.8zM374.8 540l.5-1 .8.2-.2.7zM376.1 543.3l-1.3-1.6 1.1-.9 .9.8zM331.2 555.3l.5-.9 .7.2-.2.7zM357.3 524l0-.9 .6-.5 0 .8zM346.7 550.5l-.9.5-.4-.6 .5-.5zM374.7 552.5l-.2-1.1 1-.3 .2.9zM371.2 533.9l.6-1.2 1.2-.1-.5 1zM361.6 544.1l-1.2-.2-.4-1 .9.3zM386.5 527l-1.4.5-.6-.7 .8-.4zM360.5 526.5l-.1-1 .7-.5 .1.8zM346 550l-1.1.9-.5-.9 .6-.5zM366.1 524.1l-1.2.2-.5-.8 .9-.3zM366.1 557.1l.7-2 2 .1-.8 1.6zM349.9 537.3l-1.5 1.2-1-1.4 1.2-.7zM357.5 530.8l.9-.9 .7.6-.5.6zM374.1 533.3l-1.2-.3-.1-1.2 1 .4zM337.3 534.5l-.6-1.1 1-.5 .7.8zM391 538.7l-.7-.7 .4-.8 .4.6zM372.7 525.7l-.9-.5-.1-1 .8.5zM359.2 542.9l-.5-.9 .4-.9 .5.9zM358.2 556.3l-1.5 1.1-.8-1.3 .9-.8zM372 534.4l-.5-1.3 .6-.9 .4 1zM373.5 543.3l-2-.3 .4-2 1.9.4zM334.7 548.7l-2 .3-.9-1.6 1.7-.1zM373.4 522.7l.3-1.3 1 .3-.2.9zM332.6 528.5l-1.1-.9 .4-.9 .9.4zM354.9 538.7l-.6-.5 .1-.8 .5.5zM340.2 540.2l-1.1-.3 0-1.1 .9.3zM368.1 551.6l1.4-1.4 1.7.9-1.3 1.3zM329 552.7l1-1.6 1.6.6-.9 1.5zM360.3 546.7l-1.5-1.1 .5-1.3 1.1.7zM370.2 536.4l-1.5-.6 .3-1.4 1 .6zM351 526.3l-.7-.9 .6-.6 .8.5zM369 524l-1.1-1.9 1.7-.8 1.1 1.5zM346.8 526.3l-1.5.4-.9-.9 1.1-.3zM395.7 531.3l.6-1.6 1.7 0-.7 1.3zM390.7 550.8l-.2-1.8 1.3-1 0 1.6zM355.1 557.9l-.7-.9 .3-.8 .6.6zM367.1 525l.5-1.7 1.3.7-.2 1.1zM357.5 552.3l.7-1.5 1.3 0-.6 1.1zM354.1 549.4l-1 .8-.5-.9 .7-.7zM361.9 528.5l-.3-.9 .6-.6 .2.8zM389.9 547.6l-.6-1.5 1-.6 .6.9zM345.1 555.4l-1.1-.9 .4-1.1 .9.5zM388.3 537l-1.5-1 .2-1.3 .9.7zM366.2 539.9l-1.5-1.1 1.1-1.2 1.2.8zM367.5 556.9l0-1.5 1.1-.2 .2 1zM394.7 527.9l-.6-1.6 1.3-.3 .5 1zM334.3 525.1l.6-1 .9.1-.4.7zM361.1 522.4l-.9.3-.6-.6 .8-.2zM376.3 530.9l-.6-1.6 1.2-.6 .7 1.1zM342.3 522.5l.8-.9 1.1.2-.8.7zM348 534.7l-1.7-.2 .2-1.6 1.6.1zM344.2 537.4l-1.4-1 .4-1.5 1.3.8zM346.9 526.2l-.2-.9 .6-.3 .3.6zM356.5 554.1l-.4-1.6 1.2-1.1 .3 1.5zM385.3 536.3l-1-.1-.2-.7 .7-.1zM378.8 549.3l.5-1.1 1.1-.1-.5.9zM338.3 524.5l-1.8-.5 .2-1.8 1.6.5zM393.3 531.6l1.4-1.6 1 1.3-.8 1zM350.3 543.3l1.5-1.2 1.3 1-1.1 1zM330.3 532.9l-.6-1.2 .6-.8 .6.8zM393.2 532.7l-1.1.2-.4-.9 .8-.1zM371.7 548.4l-.9.5-.6-.6 .7-.4zM380.4 536.5l-.1-1.2 1-.6 .1 1.1zM330 550.1l-1-1.9 1.6-.4 .8 1zM396.3 535l-.4-1 .7-.7 .3.9zM335.3 543.8l-.8.4-.4-.7 .6-.3zM394.5 548l.3-1.7 1.2.3-.1.9zM338.7 536.4l-.6-1.5 .8-1.3 .5 1.4zM377 557.6l1.2-.9 1.3.5-1 .9zM364.9 542.7l.9-.8 1.1.6-1 .7zM371.4 535.5l-1.3.6-.9-.7 .9-.4zM333.6 523.5l.9-1.2 1.4.1-1 .9zM367.3 527.8l-1-.4 .1-.7 .6.2zM384.3 554.7l-.8-1.7 1.1-.8 .8 1zM368.1 536l-1.9.6-1.1-1.5 1.7-.3zM347.1 546.3l0-2 1.5-.1 .3 1.4zM354 526l-1.4-.2 .2-1.5 1.3.3zM369 538.2l-1.4.8-1-1 1.2-.5zM347.6 549.8l1.2-1 1.1.9-1 .9zM332.2 529l-1.4.1-.5-.9 1-.2zM331.3 525.3l-1.8-.2-.1-1.2 1.1-.1zM389.5 539.5l-1.4-1.6 1.3-1 1.2.9zM347.4 550.2l-1 .3-.5-.7 .7-.3zM333.7 524.7l.6-1.1 1.1.2-.5 1zM359.8 532.1l-1-1.5 .7-1 .8.8zM380 556.2l-1.4-.4 .2-1.2 1.1.3zM380.3 555.4l.9-1.7 1.3.5-.4 1.2zM331.8 526.2l0-1.5 1.1-.5 .1 1.1zM359 522.7l.2-1.6 1.3-.1-.2 1.1zM385.9 531.2l-1.8-.1-.3-1.5 1.4.1zM363.2 545.1l-.5-.7 .4-.6 .3.5zM352.9 525.6l-1.3.2-.8-.8 1.1-.2zM379.3 548l.3-1.9 1.6-.1-.1 1.5zM381.8 552.8l-1.5.3-.9-.9 1.3-.3zM350.7 535l-1 0 .2-.7 .7-.3zM365.9 557.6l-.9-1.2 .6-.8 .7.6zM336.3 525.3l-1.7-.6 0-1.3 1.1.3zM354.6 530.5l-1.1-.7 0-1.2 .9.8zM374.4 528.7l1.5-1 1.4.7-1.3.8zM334.1 545.8l-1.6.6-1.4-.8 1.4-.4zM334 548.5l1.1-1.3 1.1.6-.6 1zM353.3 528.1l-.8-1.2 .6-1.1 .6 1zM360.5 549.8l1.1-1.2 1 .7-.6.8zM362.9 543.1l-.6-1.3 .9-.7 .4.9zM382.1 534.8l1.2-1.4 1.2.5-.6 1.1zM387.1 523.7l.2-1.8 1.4 0-.2 1.1zM391 535.3l.3-.9 .7 0-.1.6zM346.3 536.5l-.3-1 .9-.3 .2.8zM357.2 530.8l-1.7.3-.8-1.3 1.4-.1zM331.2 558.8l-1.3-.7 .4-1 1 .3zM393.5 540.9l-.4-1.2 .7-.8 .3 1zM334.4 554.8l0-1.2 .8-.4-.1.9zM338.3 524.2l0-1 .9-.6-.1 1zM354.9 533l-1.3-.8 .6-1.1 .9.5zM342.2 546l-.2-.9 .6-.6 .1.8zM373 548.1l-2-.3 .5-1.5 1.3 0zM349.8 554.8l-1.4-.8 .5-1.4 1.2.7zM363.9 544.2l-1.3-1.1 1-1.2 .8 1zM347.2 537.1l-1.2.3-.5-.8 .9-.3zM384 544.2l.3-1.5 1.3-.1-.1 1.3zM340.6 523l1-.9 1 .5-.8.7zM364.6 547.2l0-1.5 1.1-.6 .1 1.2zM339 525.4l-1.4.7-.6-1 .9-.8zM379.1 545.9l-1 .1-.2-.8 .8-.1zM344.7 550l-.8-1 .4-.8 .7.6zM337.6 544.8l-1.2-.7 .8-.9 .9.4zM377.5 531.7l-1.2-.9 .5-1.1 .8.6zM377.4 544.6l.1-1.5 1.3-.6-.2 1.3zM358.7 547.6l-1.5-.3-.3-1.2 1.2.1zM376.6 550.3l1.1-1.2 .9 1-.7.9zM386.4 526l-1.5-.5 .1-1.3 1.1.4zM365.6 539.5l.5-1.8 1.5.1-.2 1.4zM355.5 534.3l.7-1 .9.4-.5.8zM340.9 545.1l-.9.4-.5-.5 .6-.4zM352.9 557.3l-1.2-.4-.4-1.1 1.1.4zM377.8 536.3l-1.2-.6 .1-1 .8.3zM361 530.9l-1.1 0-.2-.7 .7-.1zM366 547.6l1.1-.6 1.2.5-1.1.6zM336.7 544.6l-.6-1.5 1-.8 .4 1zM382.4 542.1l-1.2-1 .4-1.4 1.1.9zM348.8 554.4l-1 .1-.3-.8 .8-.2zM352.8 536l.4-1.4 1.1.4-.2.9zM391.6 543.5l-.3-.9 .5-.5 .3.6zM348.3 553l-1.2-1.1 1-1 1.1.8zM360.3 541.6l.3-.8 .7 0-.1.7zM348.3 523.8l1.4-.8 1.1.6-1 .8zM385.9 530.9l.9-1.2 1.2.6-.8 1.1zM371 525.8l1.6-.9 1.6.7-1.6.6zM382.4 532.5l.4-1.5 1.3-.1-.1 1.3zM370.8 539.6l-1.3-.1-.5-1 1 .1zM395.8 549.2l.6-1.1 1.2 0-.5 1zM366.5 523.4l-1.6-.6 .6-1.2 1.2.3zM329 537.2l.7-1.1 1.4.1-.9 1.1zM347 556l.8-.9 1.1.6-.8.8zM377.3 556.1l-1.5-1.5 1-1.6 1 1.3zM364.9 551.5l.7-1.4 1.5.3-.8 1.2zM384.8 558.5l-1.1-.3-.2-1 .9.2zM329.6 553.2l-.3-1.8 1.4-.2 .5 1.4zM357.3 556.8l-1.3-.8 .3-1 1 .4zM339.7 527.7l-1.5.2 .2-1.1 1-.5zM378 545.8l-1.3.6-.6-.7 .7-.4zM341 523.4l.7-1.6 1.4.4-.6 1.1zM364.6 529.1l-1.4-.4-.1-.9 .9.1zM359.8 529.7l.9-.6 .8.4-.7.4zM384.3 539l.5-1 1 .1-.5.9zM376.7 549.3l-.7-1.5 1.1-.8 .7 1.1zM343.2 526.5l.6-1 1 .5-.5.7zM346 531.5l-.7-1.6 .9-.8 .6.9zM335.9 534.6l.3-1.7 1.5-.2-.2 1.4zM341.2 557.4l-1.7-.2 .1-1.7 1.3.4zM351.4 527.9l1.6-1.4 1.3 1.2-1.2 1.1zM329.1 558.2l.4-.8 .6.1-.2.5zM346.5 528.1l-1.9-.1-.9-1.6 1.7.3zM355.7 528.6l-.9-1.1 .9-.9 .5.9zM352.5 541.6l-.8-.6 .1-1 .8.6zM379.4 549.8l-1.6.5-1-1.2 1.4-.5zM375.9 556l-1.1-.2-.3-.8 .9.1zM350.7 525l-1.8-.4-.4-1.7 1.5.4zM350.3 525.4l-.5-1.5 1-.6 .7 1zM364.9 541.8l-1.1.5-.4-.8 .7-.5zM363.4 549.4l.7-1.4 1.2.7-.5 1zM331.4 546.9l1-1.6 1.9.1-1.1 1.3zM362.7 544.6l-1.2.3-.5-.7 .7-.2zM336.3 547l-1.2-1 .4-1.4 1.1 1zM330.2 530.9l1.5-.7 1.1.7-1 .7zM387.9 558.6l0-2.2 2.1 0-.1 1.9zM353.3 559l-.9-.6 .6-.7 .6.5zM332.5 550.4l.4-1 1-.2-.5.9zM360.4 543.5l-1.3-.7 .3-.9 .9.2zM377 541.6l-.8-.5 .5-.6 .6.3zM363 535.1l-1.2-.7-.1-1.3 .9.8zM373.9 526.6l1.1-1.2 1.2.9-1 .9zM349.2 548.4l-1.6 1-.6-1.5 1-.8zM354.7 523.2l-.7-1.8 1.6-.4 .5 1.2zM370 544.6l-.8-1.9 1.7-.6 .7 1.4zM374.3 534.4l.5-.8 .8.1-.4.6zM383.6 532.1l0-2.1 1.6-.2 .2 1.5zM354.6 534.2l-1-.1-.3-.6 .6.1zM362 530.1l-.4-1 .5-.5 .3.6zM395.9 532l-1.7-.1-.5-1.4 1.4.1zM330.1 537.5l.5-1.9 1.6 0-.3 1.5zM350.5 538.5l-1.1-.6 .5-1 .7.6zM386.1 539.3l-.5-.8 .7-.7 .4.8zM368.7 537.3l.8-.6 .6.6-.6.4zM381.7 523l0-1.4 1.1.1 .2 1zM395.3 554.1l-1.2-.6-.1-1.2 1 .6zM388.6 524.8l-2.2.5-.3-2 1.7-.2zM381.2 557.8l-1.1-1.2 .5-1 .7.6zM378.4 553l-.9-1.4 1.1-.7 .9.8zM337.8 539.2l-1.6.1-.9-1.1 1.5-.1zM360.4 550.2l-1 0 0-.9 .7.1zM338.9 547.3l-1 0-.4-.7 .8 0zM338.3 530.2l-1.1.5-.4-1.1 1-.4zM370.1 542.2l-.3-.8 .4-.4 .3.5zM356.1 557.4l-.4-1.9 1.5-.3 .6 1.3zM387.8 551.6l-1.3.3-.8-.8 1.1-.3zM346.7 549.3l-1.3-1.6 1.1-1.4 1.1 1.2zM365.7 526.2l-.1-1.6 1.6-.2 0 1.5zM337.5 552.4l-1.9.3-.6-1.8 1.6.1zM359.1 535.8l-1.9.8-.9-1.6 1.6-.8zM387.7 538.8l.8-.9 .9.3-.5.8zM337.3 527.6l-.6-2.1 1.8-.3 .4 1.4zM351.8 532.8l-.2-1.9 1.4.1 .3 1.1zM369.8 527.1l.1-2.1 2-.1-.2 1.7zM355.3 544.7l-1.8-.2 .1-1.3 1.2-.2zM352 551.4l1.2-1.9 1.3 1.1-.6 1.4zM389.1 540.9l-1-1.5 .6-1.2 .8 1zM353.5 535.9l-.9.3-.8-.5 .9-.2zM360.4 541.6l-1-1.7 1.4-.4 1.1 1zM344.6 540l1-.6 1 .6-1 .5zM386.1 556.5l.8-.7 .7.5-.6.8zM366.4 537.2l-.3-1.1 .7-.8 .1.9zM389.1 523.2l.9-.7 .8.6-.7.6zM342.9 553.5l1.2-.8 .9.6-.7.6zM350.8 551.7l-1.6 0 0-1.5 1.3.1zM360.6 554l-1.1-.4 .1-1 .8.4zM393.6 538.2l.5-1.7 1.3.1-.1 1.1zM353.3 544.4l-.8-.5 0-.8 .7.4zM345.9 556.8l-.2-.8 .6-.3 .2.5zM368.9 533.8l-1.1-.3 .2-1 .9.3zM351 554.3l-1.1-1.2 .6-1.1 .8.8zM354.2 546l.2-1.7 1.3-.2 .1 1.3zM351.3 547.2l0-.9 .5-.1 .2.5zM340.9 526.2l-1.2.7-1.1-.8 1.1-.5zM381.3 543l.7-1.1 1 0-.5.7zM333.1 540.9l-1.5-1.1 .9-1.2 1.2.7zM394.9 550.7l.1-1.2 .8-.4 0 .9zM390.1 534.6l1.2-.9 1 .7-1 .7zM355.6 548.3l-1.6-.6 .1-1.6 1.3.6zM352.6 554.6l.7-1.7 1.4.1-.3 1.4zM348.3 548.3l-.5-1.2 .9-.7 .5 1zM338.4 530.7l-.2-1.5 1.2-.5 .1 1.1zM329.5 543.2l-.1-.8 .6-.3 .1.6zM350.1 547.4l-1.2-.9 .6-.9 .8.5zM354.8 538.3l-1.4-.5-.1-1.2 1.1.3zM355.5 535l-1.8.8-1.2-1 1.3-.5zM375.9 548.3l.7-.7 .9.2-.7.5zM355.5 537.5l-1.3-.4-.1-1.3 1.2.4zM366.1 530.2l-.5-.8 .4-.6 .4.6zM398 527l-1.2.5-.8-.8 1-.4zM358.4 537.9l1.2-1.3 1.1.7-.6 1.1zM337.4 542.7l-.9.2-.3-.8 .7-.1zM375.8 549.7l.1-1.3 1-.1 .1 1zM330 542.2l.6-.8 .8.3-.6.5zM353.2 531.6l-1.7-.4-.4-1.4 1.4.2zM343 538.2l-.8-1.6 1.5-.9 .4 1.4zM342.2 550.1l-.4-1.4 1.1-.8 .3 1.2zM355.4 528.7l-1.1.4-.8-.7 1-.2zM355.8 558.3l.8-1.3 .9.1-.2.8zM388.5 532.8l-.8.2-.6-.5 .7-.1zM396.2 546.3l-2.1.7-.7-2.1 1.8-.2zM365.6 531.2l-.7-1.5 .8-1.2 .4 1.2zM368.7 541.8l-1.2-.6 .4-.8 .7.2zM335.2 528.2l-1.3-.8 .8-1.1 .9.6zM340.5 557.2l-.8.2-.4-.5 .6-.2zM361.6 522.2l0-1 .9-.1 0 .9zM363.7 525.3l-1.6-.1-.3-1.3 1.2.2zM339 534.1l-.9-.3-.3-.7 .7.2zM370.2 545.9l.6-1.5 1.1 0-.3.9zM384.9 558l.2-1.5 1-.4 0 1.1zM346.4 551.6l-.5-1.9 1.3-.6 .3 1.2zM365.8 557.2l-1.6 1-1.4-1.1 1.5-.8zM335.1 554.5l-2.1.3-.2-1.9 1.6-.1zM339 545.5l-1.7-.6 .1-1.7 1.5.5zM343.3 543.9l.3-.9 .6 0-.1.6zM335.9 543.1l-1.5.5-.9-1 1.2-.6zM368.6 551.2l0-1 .6-.3 0 .6zM357.6 534.1l.5-1.4 1.4.2-.6 1.1zM337.3 558.2l-.9.3-.4-.8 .8-.2zM351.5 550.5l.7-1.2 .9.1-.4.8zM353.1 529.6l0-1.8 1.1-.4 .1 1zM394.1 535.6l.9-1.5 1.1.6-.3 1.1zM341.4 532.5l-.3-1.2 .9-.8 .2 1.1zM363.5 549.3l1.2-1 1 .8-.8.6zM363.7 547.8l1.1-1.1 1 .5-.6.8zM369.3 550.4l-.6-1.1 1.1-.6 .3 1zM348.9 540.2l.9-.7 1 .6-.9.7zM344.7 547.7l-.8-.3 0-.6 .5.1zM350.8 523.2l-.4-1 .5-.8 .3.8zM375.3 524.3l-1.7-1.1 1-1.4 1.4.8zM349.2 528.1l.2-1.7 1.5-.6-.2 1.6zM333.1 539.5l.5-1.3 .9 0-.1.9zM337.9 540l.2-1.6 1.2-.1 0 1.1zM367.6 524.5l.8-.5 .8.5-.7.4zM383 544.1l-.3-1.2 .9-.2 .3.8zM395.6 523.7l-1.2-.4-.2-1.1 1.1.3zM394.5 545.7l.7-1.8 1.6-.4-.5 1.5zM349 537.2l.1-1.5 1.1-.3 .1 1.2zM361.7 542.9l-1.3.4-.5-.8 .8-.5zM355 524l-1.9-.1-.8-1.7 1.8.1zM352.8 526.5l-.2-1.2 .8-.3 .4.8zM361.1 545.7l-.9-.8 .5-.8 .7.5zM354.3 538.9l.6-.7 .6.4-.4.6zM396 545.6l-.9.5-.3-.7 .5-.3zM364.3 542.9l-1.3-.6 .7-1 .8.4zM341.4 547.7l-1.6.1-.3-1.1 1-.2zM330.2 544.7l0-1.6 1-.3 .3 1zM348.8 532.6l-1.3.5-.8-.7 .9-.5zM365.5 526.6l1.2-1.3 1.4.7-1.1.9zM367.7 537.6l-.9-1.4 .6-1.5 .7 1.3zM380.3 524.9l-1.7-.9 .4-1.5 1.3.7zM354.5 538.8l-1.7.7-.7-1.4 1.3-.6zM353 553l-1.4 0-.2-1 .9-.1zM389.2 527.4l-.8-1.2 .6-.8 .7.7zM377.5 537.9l0-.9 .8-.4-.1.8zM377 534.9l-.7-1.2 1-.3 .6.6zM338.5 527.3l-.9-1.1 .6-.9 .6.8zM342.1 549.8l-1.1.1-.5-.9 .9.1zM379.7 552l-1.3-.2 .3-1.1 .9.2zM391 543.4l.8-1.2 1.4.1-.9 1.1zM360.8 555.6l-1.8-.1-.8-1.4 1.5.1zM357.8 555.1l-.6-.9 .3-1 .6.8zM345.2 542.8l.9-1.5 1.5.1-.8 1zM370.7 551.4l-1.9-.2 0-1.5 1.3.1zM365.9 556.5l.9-1.2 1.1.1-.6.9zM361.9 555.5l-1.3-.1-.2-1.3 1.3.1zM343.9 551.7l-.6-1.7 .9-.8 .7 1zM346.9 541.7l1.1-.9 1 .4-.8.6zM356.3 557.3l-.8.5-.6-.5 .6-.5zM364.9 552.1l-.5-1.6 1.4-.3 .6 1.2zM354.6 525.2l-1 .3-.8-.6 .9-.3zM332.2 531.6l.2-1.3 1.1-.5-.3 1.1zM336.3 556l-1.3.1-.6-.9 1 0zM390.6 556.2l1-1.8 1.2 1.2-.5 1.2z" fill="#d81e8e" opacity="0.92" filter="url(#cb)"/>
<rect x="399" y="521" width="69" height="38" fill="#f0ded2"/>
<rect x="399" y="521" width="69" height="38" filter="url(#spk)" opacity="0.5"/>
<rect x="399" y="521" width="69" height="38" fill="#d81e8e" filter="url(#fs)" opacity="0.45"/>
<path d="M426.4 542l.5-1 .7.4-.2.6zM399.5 528.6l-.5-1.7 .7-1.1 .6 1.2zM448.2 533.7l-1.7.6-.6-1.1 .9-.3zM406.8 557.9l-1.5.1-.4-.8 .8-.2zM432.7 556.4l-1.2.1 0-.9 .8-.3zM456.8 537.7l-1.5.6-1.1-.9 1.2-.4zM456 546.2l-.6-1.5 1.2-.6 .6 1.1zM444.9 535l.5-2.1 1.5.8-.2 1.3zM399.5 550.7l0-1.3 .9-.5 0 .9zM405.6 534.6l.5-1.7 1.4.6-.4 1.1zM443.1 526.4l-1.5-.2-.5-1.1 1.2.1zM444.5 531.4l-1 .5-.8-.6 .8-.3zM458.1 553.8l-2.1-.4 .4-1.5 1.4 0zM458.5 545l-.7-1.3 1-.7 .5.9zM437.7 557l-1.1.3-.6-.7 .8 0zM428.7 546l.7-.6 .7.1-.6.5zM436.8 553.3l-1.6-.3 .1-1.2 .9.1zM426.5 526.5l.8-.9 .9.6-.6.7zM421 535l-1.5-1.6 1.5-1.6 1.5 1.6zM446.8 553.1l-1.5-1.3 .3-1.6 1.2 1.1zM413.8 547.8l0-.9 .8 0-.1.6zM408.7 528.2l-.8.5-.6-.6 .6-.4zM419 526.2l1.1-1 1.3.4-1 .8zM439.3 534.5l-.7-2.1 2-.5 .2 1.7zM399.8 525.4l-.4-1.7 .9-.7 .4 1zM463.2 555.2l.4-1.1 .9.3-.2.8zM426.5 552l-.2-1.1 .9-.2 .3.9zM430.7 552.3l.1-1.9 1.4-.3 0 1.3zM455.6 532.5l-1.8-.1-.5-1.5 1.4.2zM402 530.3l-.7-.6 .4-.8 .6.6zM419.2 528.8l-.3-1.6 1.4-.7 .4 1.5zM423.7 539.9l-1.3.9-1-.9 1.1-.9zM421.6 546.5l.8-.6 .7.3-.5.6zM404.9 536l-1.1 0-.4-.8 .8.1zM466.9 523.1l-1.5.8-1.3-1 1.4-.6zM465.3 534.7l-1.8-.4 0-1.2 1 .1zM399.7 549.5l0-1 .7-.4 0 .8zM438.3 538.4l.2-1.2 .9-.4-.2.9zM462.8 559l-.4-.7 .6-.7 .2.8zM417.7 532.5l-1.7-.4 0-1.2 1.1 0zM447.6 522.4l-.8-.1-.2-.6 .6.1zM415.8 529.4l-.5-1.2 .9-.6 .3.8zM421.4 546.4l-1-1.4 1.2-.6 .9.8zM447.2 546.1l1-.6 .7.4-.6.6zM461 539.9l-.4-2 1.3-.6 .6 1.4zM446 533.9l-1-.1 .1-1 .8.2zM451.5 530.8l.9-1.3 1.2.1-.6 1.1zM437.3 526.8l.8-.8 .9.3-.7.5zM435.6 535.3l-.9.5-.5-.8 .8-.3zM400 537.4l0-1.4 .9-.6 .2 1.1zM399.8 528.4l-.8-1.4 .8-1.2 .7 1.2zM444.4 531.5l-1.6 0-.7-1.4 1.6 0zM421.2 522.8l-1.4.1-.3-1.1 1 0zM419.1 537.2l.2-.9 .8-.1-.1.7zM445.3 529.1l.2-1.1 .8-.2 0 .7zM435.1 533.4l-1.3-.9 .5-1.5 1.1.9zM448.2 558l-1.9.7-.7-1.6 1.3-.4zM462.9 534.5l-1.3-1.8 1.5-.8 1.2.9zM402.6 526.3l-.8-.1 .1-.7 .6 0zM433.5 522.8l.4-.9 .7-.1-.2.6zM423 552.7l1.3-1.7 1.4 1.1-.8 1.4zM455.8 556.9l-.9.3-.5-.6 .8-.3zM427.9 548.4l-1.4-1.3 .9-1.5 1 1.2zM440.1 533.7l-1.2-.4 .5-.9 1 .1zM445.2 547.3l-.9-1.1 .4-1.4 .7 1.1zM449.4 552.5l.7-1.6 1.6.4-.7 1.3zM450.8 549.8l-.9-.2-.3-.7 .7.2zM401.8 537.8l0-.9 .7-.3 0 .6zM419 530.5l-1.5.1-.4-1 .9-.2zM455 531.3l1.5-1.2 1.1.6-.8.7zM457 536.9l-.9.5-.4-.6 .5-.3zM449.4 524.3l-1.5-.6-.2-1.5 1.2.7zM409.6 545.4l.7-1.5 1.3.1-.5 1.1zM463.1 545.1l-2 .6-.1-1.6 1.2-.6zM424 558.7l.3-1.3 1-.1-.1 1zM440.1 535.1l1.3-1.3 1.7.7-1.3.9zM459.5 539.7l-1.1-1.5 1-1.2 .8 1.1zM445.7 549l.1-1 .7-.3-.1.7zM414.4 526.3l-1.4 0-.6-1 1.2-.1zM465.7 545.4l1-1.6 1.3.2-.5 1.4zM450 552l.8-1.4 1 .9-.4 1.1zM442.2 553.9l-1.7-.2-.5-1.2 1.1.3zM445.3 524.9l.6-1.7 1.7-.1-.6 1.5zM455.3 532.8l.1-1 .8-.1 .1.8zM456.1 526.5l-.9-1.5 .6-1.2 .6 1.1zM452.9 529.3l-.6-1.3 1-.2 .5.7zM401.2 546.3l.4-1.7 1.4-.2-.2 1.4zM421.9 544.6l-1.5-.2-.5-1 1.1 0zM403.7 531.9l-1.3-1.1 .6-1 1 .5zM402.9 533.9l1-1.4 .9 1.1-.6 1zM412 550.8l-1.6-.5-.2-1.5 1.3.5zM438.1 523.2l-.5-.9 .3-.6 .4.6zM442 544.4l.4-.8 .8.2-.4.6zM460.5 533.2l.2-1.4 1.3-.4-.1 1.4zM466.6 534.5l-.4-.8 .5-.7 .3.7zM435.7 535.6l-1.3-.2-.2-.8 .8 0zM419.1 551.8l-1.1-1.6 1-.9 .8.9zM401.1 540.9l-.7-1 .5-1 .6.8zM446 528l.1-1.3 1-.6-.1 1.1zM406.8 545.7l-.8.6-.7-.7 .7-.4zM447.6 540.8l-.1-.8 .5-.4 0 .5zM437.8 555.5l-1.3-1.3 1.1-.9 1 .7zM402.8 544.5l-1.1.6-.7-.7 .7-.6zM439.2 550.5l.1-1.5 1.3-.2 0 1.2zM461.8 531.8l1.3-1.9 2 1.2-1.3 1.5zM459.6 551.6l-2-.3 .1-1.9 1.7.3zM466 539.4l0-1.2 .9 0 .2.8zM466.4 537l-.9.5-.5-.8 .7-.3zM430.6 554.3l.1-.8 .6-.4-.1.7zM402.8 555.7l-1.4-.3-.1-1.4 1.3.3zM446.5 555.9l-1.2.2-.7-.9 1.1-.2zM425.9 548.2l-.9-1.8 1.4-.5 .7 1zM420.5 549.7l-.5-1.2 1.1-.3 .6.9zM405.3 556.8l-1.3-.9 .5-1.5 1.2.9zM445 541.1l-.3-1.1 .8-.7 .1.9zM431 541.5l-.8-1.8 1.1-1.1 .5 1.2zM418.8 555.7l-.1-1.6 1.2-1 .1 1.5zM465.7 557l-.2-1.7 1.6-.3 .1 1.5zM419 535.7l.3-1.8 1.4.2-.1 1.2zM406.6 544.5l.6-1.3 1.4.4-.7 1zM411.2 541.7l-.2-1.4 1.2-.1 .3 1zM465.4 531.5l.3-1.6 1-.2-.1.9zM406.1 543.4l-2 .1-.2-1.7 1.4 0zM461.9 530.3l-1.3-.3 .3-.9 .9-.1zM406.4 532.5l-1.3.7-1.2-.8 1.3-.4zM465.4 527.3l-1.4-1.2 .1-1.7 1.1 1.2zM410 535.5l-1.7-.5 .5-1.5 1.2.5zM422.2 542.9l-1.5-.5-.3-1.4 1.2.5zM425.9 541.3l.8-2 2.1.4-.8 1.8zM434.9 539.1l.5-1.9 1.4.2-.1 1.2zM412.3 526.2l-.2-1.1 .7-.5 .3.8zM402.9 558l-.1-.9 .9-.3 0 .9zM403.4 552.3l-.8-1 .4-.8 .6.5zM418.2 553.9l1.3-1.6 1.1 1.1-.6 1.2zM407.7 531l-.7-1.5 1.1-1.4 .6 1.6zM466.6 546.1l-1.6-1.1 .3-1.6 1.2.9zM408.6 532.8l-1.5-.9 .5-1.2 1.1.6zM438.4 553.2l.9-.7 .7.6-.6.6zM422.3 528.5l.9-.8 1 .3-.8.6zM416 542.7l.2-2.1 1.6.3 .3 1.5zM462.3 525.7l-.9-.7 .4-.8 .7.4zM428.6 531.4l-1.5-.4 0-1.3 1 .4zM432.6 553.2l-1-.1 0-.8 .6.1zM416.7 558l0-1.3 1-.4 0 1zM444.6 533.8l-1.7-1 .1-1.5 1.3.7zM419.8 528.7l.4-1.1 1.1-.1-.4 1zM435.2 542.5l-1.7-.5 0-1.7 1.6.5zM445.8 545.9l-1.9.3-1-1.6 1.8-.1zM457.7 535.7l-.8-.7 .2-.9 .6.6zM418.5 548.8l-1.6-.3-.5-1.3 1.3.2zM436.6 542.3l-.9-.7 .6-.8 .6.6zM444.2 546.1l.6-1.2 1.1.2-.4.9zM447.2 554.9l-1.6-.4-.4-1.3 1.2.3zM464.7 543.8l-1.9.1-.3-1.4 1.3-.3zM423.4 557.2l-1.1-.7 .5-1.1 .8.7zM408.8 536.9l.4-1.8 1.6-.7-.4 1.6zM437.8 540.7l-1.7-.9 .3-1.2 .9.4zM461.9 555.2l1-.6 .9.6-.9.4zM437.3 526l-1.2 0-.2-.7 .7-.2zM402.9 531.4l1.1-2 1.5 1.1-.7 1.3zM417.2 532.8l-1.5.6-.8-1.2 1.3-.5zM467.7 555.2l-1.8 1.1-1-1.6 1.5-1zM424.5 552.5l-.6-1.9 1.5-.9 .6 1.5zM414.3 548.2l1.3-1.1 1.1.7-.9.8zM467.3 553.9l-.9.1-.4-.7 .8 0zM450.3 555.1l-1.3-.8 .3-1 .9.3zM418.9 523l-2.3-.2 .4-1.7 1.6-.1zM411 546.1l.3-1.3 1.2-.3-.3 1.2zM467.5 530.4l-1 .3-.6-.5 .7-.3zM441.4 546.4l-1.3 1.1-.9-1.1 .9-.8zM407.5 543.6l-.6-.9 .4-.6 .4.5zM412.9 536.1l-1.3-1.5 1.1-1.5 1.1 1.4zM442 529.8l-1.9 0-.6-1.7 1.6.2zM464.4 525.2l-1.2-.6-.3-1.4 1.1.7zM403 534.6l-.6-1.4 .7-1.2 .5 1.3zM465.2 553.7l-1.1.8-.5-1.1 .7-.7zM431.8 551.2l.9-1.3 .9.5-.4.8zM461.4 557.7l1-1.4 1.1.3-.4.9zM453.2 553.3l-.1-1.2 .8-.1 .2.6zM449 538.5l-1.9.1-.4-1.5 1.3 0zM428.1 559l-.7-.5 .2-.9 .4.6zM401 534.6l-1.8-1 1-1.7 1.4.9zM413.8 526.2l-.9-.8 .7-.9 .8.7zM448.5 550.9l-1.7.6-.7-1.4 1.3-.5zM404.9 556.3l.7-1.4 1.1.4-.3.8zM399.9 553.6l1.2-1.4 1.5.9-1.1 1.3zM403.5 544.3l-1.6.2-.2-1.4 1.3-.2zM445.1 537.3l-.3-.8 .4-.7 .3.8zM447.1 556.9l-1.4 0 0-1 1-.3zM435.3 529.2l-.7-1.1 .5-1.1 .6 1zM408.8 554.5l.8-1.2 1.1.6-.6 1.1zM451.9 524l.6-.9 .7.4-.3.7zM432.8 528.5l-.9.2-.3-.8 .7-.1zM454.7 552.8l-1.1-1.3 1.1-1.1 .9 1.1zM435.1 541l-1-.3 0-1 .9.3zM444 525.4l1-1.2 .9.5-.5.8zM428.2 534.7l.6-1.8 1.8-.2-.8 1.4zM459.2 540.7l1.5-1.2 1.4.9-1.3.8zM413.1 554.5l-.3-1.2 .6-.5 .2.6zM428.8 538.6l.8-1.5 1.5.7-.8 1.2zM466.4 531.1l-1.1.2-.3-1 .9-.2zM432.4 539.3l.2-1.5 1.1.4 .1.9zM423.4 556.2l-1-1.1 .8-.6 .6.5zM414.9 534l.1-1.8 1.6-.5-.2 1.6zM455.1 536.8l-1.7-.3-.5-1.3 1.3.1zM438.5 533l-.9-.2 0-.8 .7.2zM459.4 526.5l-.3-1.3 .9-.7 .1 1zM415.4 552.1l.9-.6 .7.3-.6.5zM411 531.3l0-1.5 1.2-.5-.1 1.2zM454.5 544l-1.1-.2 0-.9 .8.1zM424.7 553.7l-.7-1.1 1-1 .4 1.1zM438.7 542.5l1.1-1 .9.9-.8.7zM418.4 543.6l-.7.4-.6-.5 .7-.4zM427.2 547.2l-.8-.5 .2-.8 .6.4zM430.4 540.9l0-1.2 1.1-.6-.1 1.2zM406.2 543.6l-.2-1.5 .9-.9 .2 1.2zM403.3 529.8l.2-1.2 1.1 0-.2 1zM405.3 549.8l-1.3-.9 .1-1 .8.5zM438.1 554.7l-.8-1.5 1.3-.5 .7 1zM444.5 544.4l-.6-1 .5-.8 .4.8zM414 522.8l.9-1 1 .6-.8.7zM461.1 522.9l-1-.5 0-1 .7.5zM422.5 537.7l.7-1.6 1.2.3-.3 1zM436 542.4l.1-1 .8-.4-.2.9zM419.9 534.9l-1.5-1 1-1 1.1.4zM438.5 523.9l1.1-1.8 1.8.8-1.1 1.2zM411 556.9l1.2-.7 .8.5-.8.5zM440.5 522.8l-1.1-.1 .1-1.1 .9.2zM434.3 551.1l.6-1.5 1.3-.1-.5 1.1zM462.1 524.2l-1-.8 .1-.9 .8.4zM413.8 555.8l-1.1-.5-.2-1.1 .9.5zM410.6 526.7l-1.3-1.5 1.1-1 .8.8zM449.7 525.9l-1.1-.2 .2-1 .9.2zM464.2 553.1l0-1.7 1.4.2 .2 1.2zM428.8 534.5l-1.1-.9 .6-1 .8.6zM450.9 537.7l1-1.6 1.6.1-.9 1.2zM434.1 541.2l0-1.4 1.3-.3-.1 1.2zM433.7 552.4l0-1 .7-.5 0 .9z" fill="#d81e8e" opacity="0.92" filter="url(#cb)"/>
<rect x="469" y="521" width="69" height="38" fill="#ead7cb"/>
<rect x="469" y="521" width="69" height="38" filter="url(#spk)" opacity="0.5"/>
<rect x="469" y="521" width="69" height="38" fill="#d81e8e" filter="url(#fs)" opacity="0.45"/>
<path d="M488.8 539.8l-1.3.7-.2-1.1 .6-.5zM476.6 533.4l.2-.9 .6 0 0 .6zM518.6 529.7l.7-1.8 1.4.7-.3 1.4zM533.7 528.6l-1.5-.6-.1-1 .9.2zM521.4 534.5l-1.3-1.2 .3-1.5 1.2 1zM518.9 553l-.5-1.7 1.6-.6 .6 1.6zM494.4 544.9l-1.2.6-.7-.7 .8-.5zM526.8 527.2l-.7-.7 .4-.8 .6.7zM470.4 554.7l-.2-1.5 1.2-.3 .1 1zM511.1 523l.7-.6 .8.4-.6.4zM489.1 539.1l-1.7-.9 .2-1.6 1.3.7zM504.7 526.8l-1.7.7-.8-.9 .9-.6zM524 555.1l-.9.4-.6-.7 .7-.2zM517.3 551.2l-1.3-1.3 .8-1.6 1 1.2zM495.8 536.6l-.2-2.2 1.9-.1 .3 1.9zM517.4 531.3l-1.8-.9 .5-1.9 1.5 1zM504.2 549l.2-1.4 1.1-.6-.1 1.2zM515.5 543.6l-1.8 1-.7-1.4 1.1-.6zM511.2 536.4l0-1.7 1.3-.8 0 1.5zM494 524.1l.6-1.9 1.9-.2-.6 1.7zM496.6 552.8l-1.1.4-.5-.7 .7-.3zM496.2 530.7l-1.1-1.1 .4-1.3 1 .9zM498.5 543.5l-1.5.3-.8-1.1 1.3-.3zM535.6 548.6l1.3-1.1 1.1.9-1 1zM512.1 527.6l-.4-1.2 .8-.8 .2 1zM470.2 527.2l-1.2-1.7 1.5-.9 .9 1.2zM499.4 545.8l-.4-1 .5-.8 .4.8zM478.3 541.9l-.9-.3-.2-.7 .7.2zM521.9 554.1l-.4-.8 .3-.7 .4.6zM480.9 541.4l.9-1.9 1.4.9-.3 1.6zM504.5 546l0-1.3 1.2-.5-.1 1.3zM469.4 523.1l.8-1.2 1.2.1-.5 1zM493.4 535.8l-.9-.7 0-1 .8.6zM470.8 557l.8-1.3 1.3-.2-.7 1.1zM492.5 545.5l-.9-.7 .6-.6 .7.3zM533.7 532.3l-1.7.2-.8-1 1.2-.3zM534 539.3l-.9-1.2 .5-1.2 .8.9zM480.4 525.2l-1.9.5-.4-1.4 1.1-.4zM470.1 542.1l-.5-1.3 1.1 0 .6.8zM498.3 537l1.4-1.4 1.5.7-1.1 1.1zM514.6 524l-1.8 0-.4-1.5 1.5-.1zM514.2 529l-1.3-1.4 1-1.6 .9 1.4zM496.9 528.9l-1-.3-.1-1 .9.3zM515.7 532.4l-.1-1.6 1.3-.3 0 1.1zM484.4 554.8l-1.3-.9 .5-1.1 .9.5zM485.2 537.8l-1-.1-.2-.7 .7 0zM531.9 556.4l.7-1.3 .9.4-.3.8zM502.5 534.6l.9-1.3 1.2.2-.6 1zM522.7 556.9l-.9-1.4 .8-.9 .8.8zM505.9 529.1l-.9-1.8 1.5-.6 .8 1.2zM478.1 551.1l-.3-1.3 1.1-.9 .1 1.3zM507 537.6l1-1.2 .9.9-.7 1zM519.7 545.5l.7-.8 1 .2-.6.8zM525 547.7l-1.3-1.4 .6-1.3 1.1.9zM528.2 558.1l1.5-1.3 1.3.9-1 1.2zM470.2 557.5l.5-.9 .8.1-.3.7zM531.4 550.1l.6-1 .9.1-.3.9zM483.2 549.2l.2-1.1 .9-.6-.2 1.1zM492.3 545.7l-1.3.4-.4-1.1 1-.3zM475.7 554.2l-.8-1.5 1.1-1 .7 1.2zM537.7 523.7l-1.2.8-.5-1 .8-.8zM508 548.1l-1.5-.1-.3-1 .9 0zM499.5 534l.8-1.3 1.1.3-.5.9zM482.8 531.4l-.9.5-.6-.5 .6-.4zM505.3 542.9l1.2-.6 .8.6-.8.6zM505 553.8l.8-.6 .8.4-.7.5zM471.2 554l.2-1.9 1.6.1 0 1.4zM492.5 542.3l.6-1 1.2 0-.7.8zM527.4 523.2l-.5-2 1.6-.2 .1.9zM520.1 529.5l1.3-1.3 1 1.1-.9.9zM492.9 546.8l-1.7.4-1-1.1 1.4-.3zM475.7 542.7l0-1.9 1.5-.8-.1 1.6zM483.6 541.7l1-1.4 1.3.9-.8 1.3zM503.8 547.7l-1.6 0-.7-1.3 1.4 0zM498.2 538.4l1.2-1.6 1.3.6-.6 1.3zM487.6 555.1l-1.2.2-.4-.7 .7-.3zM512 548.2l-1.5.4-.6-.8 .8-.3zM525.6 552.8l-.5-1.8 1.2-.7 .6 1.2zM489.8 530.1l-1.1-.2 0-1 1 .2zM479.7 532l-.5-1.1 .5-.9 .5.9zM502.7 524.2l-1.2-.1 .2-1 .8.1zM485.3 523.5l-2-.1-.4-1.8 1.7.2zM491.9 537.7l-.6-1.1 .4-.7 .6.6zM517.1 553.8l.4-2.1 1.7.5-.1 1.6zM494.2 529.6l-1.6-.6-.3-1.7 1.5.7zM473.1 531.3l-.7-.5 0-.9 .7.5zM469.1 552.3l.7-.9 .7.6-.5.6zM529.8 552.7l-1 .1-.5-.7 .8-.1zM488.2 541.2l1-1.7 1.7.4-.7 1.5zM535.2 525.4l-1.3.3-.6-1.1 1.1-.2zM494 532.5l.5-1.5 1.2.1-.1 1.2zM478 555.7l-2.1.8-.8-2.1 1.9-.5zM470.5 558l-.6-1.2 1.1-.7 .5 1zM478.3 530.2l-.3-1.5 1.1-.8 .2 1.3zM474.5 538.8l.6-.8 .7.4-.4.5zM517.6 548l-.1-1 .7-.6 0 .9zM503.6 538l-1 .3-.1-.8 .7-.5zM525.6 524.2l-1 .4-.4-.7 .6-.4zM533.5 549l-1.3.3-.3-1 .9-.3zM497.3 528.4l-1-.5 .1-1 .7.5zM488.9 534.7l-1 .7-.7-.8 .8-.8zM474.6 529.1l-1.1-.3-.1-.8 .7.2zM531.6 538.8l-.2-1.9 1.8-.4 .2 1.8zM503.6 548.8l-1.5-.8 .4-1.4 1 .7zM534.6 537.5l.8-1.5 1.6.6-.8 1.4zM533 539.6l-1-1.2 .7-1 .8.8zM491.8 524l-1.8.8-1-1.7 1.7-.7zM511 522.8l.5-.9 1 .1-.5.8zM474.6 526.7l1.2-.8 1.2.5-1.1.7zM485.4 549.2l-1.2-1.2 .7-1.2 1 .7zM510.3 541.1l.3-1.8 1.8-.5-.5 1.6zM516.8 544.1l-.2-1.7 1.2-.4 .1 1zM487.1 526.7l-.7-1 1-.6 .7.9zM490.4 557.3l-1.6.5-1.2-1 1.5-.5zM483.8 553.2l.6-.9 .8.3-.4.7zM481 555.7l-.9-.6 .6-.7 .8.3zM519.9 555.1l-.8-1.8 1.1-.9 .6 1.1zM494.1 531.6l-1.2-1.3 1.3-1.2 .7 1.2zM505.9 526.1l-1-1.1 .5-1.2 .9.9zM530.7 531.8l-1.4.7-.5-1.1 .8-.5zM485 552.9l-.8-1.6 1-1.3 .6 1.4zM525.9 528.7l-.9-1 .4-1.1 .8.8zM486.2 524.7l-.2-1.8 1.3-.7 .3 1.3zM490.7 549.4l.6-1 .9.5-.4 1zM499.4 547.6l-1-1.2 .7-1 .7.8zM480.5 527.5l-1.3-.1 .1-.9 .8-.2zM472.3 557.5l-1.1-.2-.2-.8 .7.1zM501 539.8l.7-.7 .6.4-.3.5zM522.1 543.5l-1 .5-.9-.7 1-.5zM528.2 532.3l-.6-1 .6-.9 .4.9zM535.7 539.9l.8-1.5 1.4.5-.6 1.1zM472.3 528.2l-1.4-.6 .2-1.1 1 .2zM526.4 535l-.5-1.5 .7-.7 .5.9zM528.4 527.5l.2-1.2 1.1.1-.2.9zM535.9 556.1l1-.7 .9.5-.9.7zM531.4 550.6l-1-1.6 .8-1 .6.9zM505.7 545.3l-1.4 1.2-1.4-1.2 1.4-.9zM514.4 553.5l1-1.3 1.1.2-.6.9zM485.3 540.8l-1.6.9-1.4-1.2 1.5-.6zM530.1 536.4l-.5-1.7 1.3-.4 .7 1.1zM470.8 529.2l-1 0-.6-.8 .9.1zM504 523.5l-.8-.5 .1-.6 .5.3zM530.1 550.9l-1.1-1.5 1.1-.9 .9.9zM477.9 532.6l-1.9.1-.2-1.2 1-.3zM473 533.5l-.8-.5 .1-.9 .7.5zM503.7 551.5l0-1.7 1.1-.4 .1 1.1zM481.6 532.9l-1.6.6-.3-1.3 .9-.4zM536.9 525.5l-.4-1.5 1.3-.6 .2 1.3zM471.5 553l-.4-.8 .4-.5 .4.5zM474.9 527.1l-.2-.8 .4-.5 .3.6zM499.6 534.6l-.9-.4 0-.9 .6.4zM533.3 557.9l.7-.8 .6.5-.4.6zM512 523l.8-.9 .6.6-.4.6zM514.1 532.3l-1-.9 .3-1 .7.5zM506 538.2l-.8.5-.4-.7 .6-.3zM483.5 541.3l-.7-1.1 .6-1 .5 1zM493 557l.6-1 1.1-.1-.6.8zM489.4 529.2l-.6-1.4 1-1.1 .5 1.3zM482.8 535.6l-1.1-.6 0-1.1 .8.5zM522.3 548.7l.7-.7 .6.3-.4.4zM530.6 527.5l-1.1-.1 .3-.9 .8.1zM505 538.8l.8-.5 .6.4-.5.4zM493.2 531.4l-.3-1.6 1.3-.1 .4 1.2zM516.9 551.3l.7-1.2 .8.6-.3.9zM490.6 533l-1-.9 .7-.8 .8.6zM474.3 541l.4-2.2 1.8.7-.3 1.5zM472.4 546.1l-.8-.6 .3-.7 .5.3zM527.8 533.6l.5-.7 .5.3-.2.4zM512.8 549.4l-.8.4-.6-.4 .6-.3zM489.3 539.9l.7-1.2 1.2 0-.6 1zM514.1 549.3l-.7-.5 .3-.5 .5.3zM483.3 558.2l-.6-.7 .4-.8 .5.7zM534.3 530.9l1-1.1 1.2.3-.8.9zM513 547.2l-1.9.5-.5-1.7 1.7-.6zM490.9 527.1l-1.1-.2-.2-.8 .7.2zM492.7 552l-.2-1.3 .8-.4 .1.7zM504.2 550.1l-.8-1.4 .6-1 .6.8zM499.1 533.2l-1.1-1.1 .4-1.1 .9.7zM527.6 529.7l-1.5-.3 0-.9 .8 0zM531.7 551l.3-1.8 1.4-.6-.2 1.5zM473.6 533.6l-.8-1.3 1-.9 .5 1.1zM532.1 545.9l-1.8.6-1.3-1 1.5-.6zM481.4 532.1l.3-1.5 1.3-.3-.4 1.2zM517.9 541.3l-1.2-.2 .3-1.1 .9.2zM500.1 555.4l-.9-.8 .4-.9 .6.6zM505.3 535.8l1.1-1.1 1.3.3-.9.8zM524.6 547.5l-1.1 0-.3-.8 .8-.1zM527.7 530.5l-1.1.1-.4-.8 .9-.1zM528.5 555.7l-.2-1.8 1-.5 .2 1zM526.8 537.2l-1.1-.3-.4-1 1 .3zM531 549.4l.6-1.4 1.4 0-.6 1zM473.3 525.7l-.7-1.5 .9-.9 .5 1zM485.9 549.4l-.1-1.6 1.2-.8 0 1.3zM477.3 538l-1.2 0 0-1.1 1.1 0zM475.6 553.6l.2-1.2 .9 0 0 .8zM525.4 556.5l.5-1.8 1.4-.2-.3 1.3zM487.1 535.7l-1.4-1.2 .2-1.5 1.1.9zM500.3 554l-.9-.8 .7-.7 .8.5zM511 528.9l1.3-1.2 1.2 1.1-1.1.7zM477.5 550.8l-1.4.6-.7-.9 .9-.6zM517.1 555l-1.1.6-.9-.6 .9-.3z" fill="#d81e8e" opacity="0.92" filter="url(#cb)"/>
<text x="324.3" y="503.44" font-size="8.3" text-anchor="middle" fill="#000" transform="rotate(-90 324.3 500.7)">DMSO</text>
<text x="324.3" y="542.74" font-size="8.3" text-anchor="middle" fill="#000" transform="rotate(-90 324.3 540)">3-MA</text>
<path d="M513.8 553.6L535 553.6" stroke="#000" stroke-width="1.6"/>
<text x="550.6" y="18" font-size="18" text-anchor="start" fill="#000">F</text>
<path d="M583.4 105.3L583.4 35.75" stroke="#000" stroke-width="1"/>
<path d="M580.4 104.8L583.4 104.8" stroke="#000" stroke-width="1"/>
<text x="579.6" y="107.37" font-size="7.8" text-anchor="end" fill="#000">0.0</text>
<path d="M580.4 91.05L583.4 91.05" stroke="#000" stroke-width="1"/>
<text x="579.6" y="93.62" font-size="7.8" text-anchor="end" fill="#000">0.5</text>
<path d="M580.4 77.3L583.4 77.3" stroke="#000" stroke-width="1"/>
<text x="579.6" y="79.87" font-size="7.8" text-anchor="end" fill="#000">1.0</text>
<path d="M580.4 63.55L583.4 63.55" stroke="#000" stroke-width="1"/>
<text x="579.6" y="66.12" font-size="7.8" text-anchor="end" fill="#000">1.5</text>
<path d="M580.4 49.8L583.4 49.8" stroke="#000" stroke-width="1"/>
<text x="579.6" y="52.37" font-size="7.8" text-anchor="end" fill="#000">2.0</text>
<path d="M580.4 36.05L583.4 36.05" stroke="#000" stroke-width="1"/>
<text x="579.6" y="38.62" font-size="7.8" text-anchor="end" fill="#000">2.5</text>
<path d="M582.9 104.8L677.6 104.8" stroke="#000" stroke-width="1.1"/>
<rect x="589" y="77.3" width="10" height="27.5" fill="#000000"/>
<path d="M594 77.3V76.75M591 76.75h6" stroke="#000000" stroke-width="0.9"/>
<path d="M594 104.8L594 106.8" stroke="#000" stroke-width="0.8"/>
<rect x="603.75" y="95.72" width="10" height="9.08" fill="#ff0000"/>
<path d="M608.75 95.72V92.97M605.75 92.97h6" stroke="#ff0000" stroke-width="0.9"/>
<path d="M608.75 104.8L608.75 106.8" stroke="#000" stroke-width="0.8"/>
<rect x="618.5" y="94.9" width="10" height="9.9" fill="#0000ff"/>
<path d="M623.5 94.9V92.7M620.5 92.7h6" stroke="#0000ff" stroke-width="0.9"/>
<path d="M623.5 104.8L623.5 106.8" stroke="#000" stroke-width="0.8"/>
<rect x="633.25" y="53.1" width="10" height="51.7" fill="#ffff00"/>
<path d="M638.25 53.1V46.77M635.25 46.77h6" stroke="#ffff00" stroke-width="0.9"/>
<path d="M638.25 104.8L638.25 106.8" stroke="#000" stroke-width="0.8"/>
<rect x="648" y="89.12" width="10" height="15.67" fill="#00ee00"/>
<path d="M653 89.12V87.2M650 87.2h6" stroke="#00ee00" stroke-width="0.9"/>
<path d="M653 104.8L653 106.8" stroke="#000" stroke-width="0.8"/>
<rect x="662.75" y="86.92" width="10" height="17.88" fill="#ee55dd"/>
<path d="M667.75 86.92V84.17M664.75 84.17h6" stroke="#ee55dd" stroke-width="0.9"/>
<path d="M667.75 104.8L667.75 106.8" stroke="#000" stroke-width="0.8"/>
<path d="M594 74.8V73H608.75 V74.8" stroke="#000" stroke-width="1" fill="none"/>
<use href="#s2" x="597.48" y="68.5"/>
<use href="#s2" x="601.38" y="68.5"/>
<use href="#s2" x="605.27" y="68.5"/>
<path d="M594 67.4V65.6H623.5 V67.4" stroke="#000" stroke-width="1" fill="none"/>
<use href="#s2" x="604.85" y="61.1"/>
<use href="#s2" x="608.75" y="61.1"/>
<use href="#s2" x="612.65" y="61.1"/>
<path d="M594 33.1V31.3H638.25 V33.1" stroke="#000" stroke-width="1" fill="none"/>
<use href="#s2" x="612.23" y="26.8"/>
<use href="#s2" x="616.12" y="26.8"/>
<use href="#s2" x="620.02" y="26.8"/>
<path d="M608.75 24V22.2H653 V24" stroke="#000" stroke-width="1" fill="none"/>
<text x="630.88" y="19.4" font-size="6" text-anchor="middle" fill="#000" font-weight="normal">ns</text>
<path d="M623.5 17V15.2H667.75 V17" stroke="#000" stroke-width="1" fill="none"/>
<text x="645.62" y="12.4" font-size="6" text-anchor="middle" fill="#000" font-weight="normal">ns</text>
<path d="M638.25 45.2V43.4H653 V45.2" stroke="#000" stroke-width="1" fill="none"/>
<use href="#s2" x="641.73" y="38.9"/>
<use href="#s2" x="645.62" y="38.9"/>
<use href="#s2" x="649.52" y="38.9"/>
<path d="M638.25 38.2V36.4H667.75 V38.2" stroke="#000" stroke-width="1" fill="none"/>
<use href="#s2" x="649.1" y="31.9"/>
<use href="#s2" x="653" y="31.9"/>
<use href="#s2" x="656.9" y="31.9"/>
<text x="554.5" y="71.51" font-size="7.9" text-anchor="middle" fill="#000" transform="rotate(-90 554.5 68.9)">Relative numbers of</text>
<text x="564.2" y="71.51" font-size="7.9" text-anchor="middle" fill="#000" transform="rotate(-90 564.2 68.9)">Migrated cells</text>
<text x="583.4" y="116.81" font-size="7.6" text-anchor="end" fill="#000">DMSO</text>
<text x="583.4" y="126.31" font-size="7.6" text-anchor="end" fill="#000">3-MA</text>
<text x="583.4" y="136.31" font-size="7.6" text-anchor="end" fill="#000">Si-NC</text>
<text x="583.4" y="146.01" font-size="7.6" text-anchor="end" fill="#000">Si-PTK6-1</text>
<text x="583.4" y="154.91" font-size="7.6" text-anchor="end" fill="#000">Si-PTK6-2</text>
<path d="M591.7 114.3h4.6M594 112v4.6" stroke="#000" stroke-width="0.9"/>
<path d="M606.45 114.3h4.6M608.75 112v4.6" stroke="#000" stroke-width="0.9"/>
<path d="M621.2 114.3h4.6M623.5 112v4.6" stroke="#000" stroke-width="0.9"/>
<path d="M635.95 114.3h4.6" stroke="#000" stroke-width="0.9"/>
<path d="M650.7 114.3h4.6" stroke="#000" stroke-width="0.9"/>
<path d="M665.45 114.3h4.6" stroke="#000" stroke-width="0.9"/>
<path d="M591.7 123.8h4.6" stroke="#000" stroke-width="0.9"/>
<path d="M606.45 123.8h4.6" stroke="#000" stroke-width="0.9"/>
<path d="M621.2 123.8h4.6" stroke="#000" stroke-width="0.9"/>
<path d="M635.95 123.8h4.6M638.25 121.5v4.6" stroke="#000" stroke-width="0.9"/>
<path d="M650.7 123.8h4.6M653 121.5v4.6" stroke="#000" stroke-width="0.9"/>
<path d="M665.45 123.8h4.6M667.75 121.5v4.6" stroke="#000" stroke-width="0.9"/>
<path d="M591.7 133.8h4.6M594 131.5v4.6" stroke="#000" stroke-width="0.9"/>
<path d="M606.45 133.8h4.6" stroke="#000" stroke-width="0.9"/>
<path d="M621.2 133.8h4.6" stroke="#000" stroke-width="0.9"/>
<path d="M635.95 133.8h4.6M638.25 131.5v4.6" stroke="#000" stroke-width="0.9"/>
<path d="M650.7 133.8h4.6" stroke="#000" stroke-width="0.9"/>
<path d="M665.45 133.8h4.6" stroke="#000" stroke-width="0.9"/>
<path d="M591.7 143.5h4.6" stroke="#000" stroke-width="0.9"/>
<path d="M606.45 143.5h4.6M608.75 141.2v4.6" stroke="#000" stroke-width="0.9"/>
<path d="M621.2 143.5h4.6" stroke="#000" stroke-width="0.9"/>
<path d="M635.95 143.5h4.6" stroke="#000" stroke-width="0.9"/>
<path d="M650.7 143.5h4.6M653 141.2v4.6" stroke="#000" stroke-width="0.9"/>
<path d="M665.45 143.5h4.6" stroke="#000" stroke-width="0.9"/>
<path d="M591.7 152.4h4.6" stroke="#000" stroke-width="0.9"/>
<path d="M606.45 152.4h4.6" stroke="#000" stroke-width="0.9"/>
<path d="M621.2 152.4h4.6M623.5 150.1v4.6" stroke="#000" stroke-width="0.9"/>
<path d="M635.95 152.4h4.6" stroke="#000" stroke-width="0.9"/>
<path d="M650.7 152.4h4.6" stroke="#000" stroke-width="0.9"/>
<path d="M665.45 152.4h4.6M667.75 150.1v4.6" stroke="#000" stroke-width="0.9"/>
<text x="548.5" y="179.3" font-size="18" text-anchor="start" fill="#000">G</text>
<path d="M583.4 258.2L583.4 188.15" stroke="#000" stroke-width="1"/>
<path d="M580.4 257.7L583.4 257.7" stroke="#000" stroke-width="1"/>
<text x="579.6" y="260.27" font-size="7.8" text-anchor="end" fill="#000">0.0</text>
<path d="M580.4 243.85L583.4 243.85" stroke="#000" stroke-width="1"/>
<text x="579.6" y="246.42" font-size="7.8" text-anchor="end" fill="#000">0.5</text>
<path d="M580.4 230L583.4 230" stroke="#000" stroke-width="1"/>
<text x="579.6" y="232.57" font-size="7.8" text-anchor="end" fill="#000">1.0</text>
<path d="M580.4 216.15L583.4 216.15" stroke="#000" stroke-width="1"/>
<text x="579.6" y="218.72" font-size="7.8" text-anchor="end" fill="#000">1.5</text>
<path d="M580.4 202.3L583.4 202.3" stroke="#000" stroke-width="1"/>
<text x="579.6" y="204.87" font-size="7.8" text-anchor="end" fill="#000">2.0</text>
<path d="M580.4 188.45L583.4 188.45" stroke="#000" stroke-width="1"/>
<text x="579.6" y="191.02" font-size="7.8" text-anchor="end" fill="#000">2.5</text>
<path d="M582.9 257.7L677.6 257.7" stroke="#000" stroke-width="1.1"/>
<rect x="589" y="230" width="10" height="27.7" fill="#000000"/>
<path d="M594 230V229.45M591 229.45h6" stroke="#000000" stroke-width="0.9"/>
<path d="M594 257.7L594 259.7" stroke="#000" stroke-width="0.8"/>
<rect x="603.75" y="249.39" width="10" height="8.31" fill="#ff0000"/>
<path d="M608.75 249.39V247.45M605.75 247.45h6" stroke="#ff0000" stroke-width="0.9"/>
<path d="M608.75 257.7L608.75 259.7" stroke="#000" stroke-width="0.8"/>
<rect x="618.5" y="249.94" width="10" height="7.76" fill="#0000ff"/>
<path d="M623.5 249.94V248.56M620.5 248.56h6" stroke="#0000ff" stroke-width="0.9"/>
<path d="M623.5 257.7L623.5 259.7" stroke="#000" stroke-width="0.8"/>
<rect x="633.25" y="210.61" width="10" height="47.09" fill="#ffff00"/>
<path d="M638.25 210.61V205.07M635.25 205.07h6" stroke="#ffff00" stroke-width="0.9"/>
<path d="M638.25 257.7L638.25 259.7" stroke="#000" stroke-width="0.8"/>
<rect x="648" y="239.69" width="10" height="18" fill="#00ee00"/>
<path d="M653 239.69V237.48M650 237.48h6" stroke="#00ee00" stroke-width="0.9"/>
<path d="M653 257.7L653 259.7" stroke="#000" stroke-width="0.8"/>
<rect x="662.75" y="243.85" width="10" height="13.85" fill="#ee55dd"/>
<path d="M667.75 243.85V239.69M664.75 239.69h6" stroke="#ee55dd" stroke-width="0.9"/>
<path d="M667.75 257.7L667.75 259.7" stroke="#000" stroke-width="0.8"/>
<path d="M594 227.8V226H608.75 V227.8" stroke="#000" stroke-width="1" fill="none"/>
<use href="#s2" x="597.48" y="221.5"/>
<use href="#s2" x="601.38" y="221.5"/>
<use href="#s2" x="605.27" y="221.5"/>
<path d="M594 219.8V218H623.5 V219.8" stroke="#000" stroke-width="1" fill="none"/>
<use href="#s2" x="604.85" y="213.5"/>
<use href="#s2" x="608.75" y="213.5"/>
<use href="#s2" x="612.65" y="213.5"/>
<path d="M594 191.8V190H638.25 V191.8" stroke="#000" stroke-width="1" fill="none"/>
<use href="#s2" x="612.23" y="185.5"/>
<use href="#s2" x="616.12" y="185.5"/>
<use href="#s2" x="620.02" y="185.5"/>
<path d="M608.75 183.8V182H653 V183.8" stroke="#000" stroke-width="1" fill="none"/>
<use href="#s2" x="630.88" y="177.5"/>
<path d="M623.5 177.3V175.5H667.75 V177.3" stroke="#000" stroke-width="1" fill="none"/>
<text x="645.62" y="172.7" font-size="6" text-anchor="middle" fill="#000" font-weight="normal">ns</text>
<path d="M638.25 203.4V201.6H653 V203.4" stroke="#000" stroke-width="1" fill="none"/>
<use href="#s2" x="641.73" y="197.1"/>
<use href="#s2" x="645.62" y="197.1"/>
<use href="#s2" x="649.52" y="197.1"/>
<path d="M638.25 196.4V194.6H667.75 V196.4" stroke="#000" stroke-width="1" fill="none"/>
<use href="#s2" x="649.1" y="190.1"/>
<use href="#s2" x="653" y="190.1"/>
<use href="#s2" x="656.9" y="190.1"/>
<text x="554.5" y="223.31" font-size="7.9" text-anchor="middle" fill="#000" transform="rotate(-90 554.5 220.7)">Relative numbers of</text>
<text x="564.2" y="223.31" font-size="7.9" text-anchor="middle" fill="#000" transform="rotate(-90 564.2 220.7)">Invaded cells</text>
<text x="583.4" y="268.71" font-size="7.6" text-anchor="end" fill="#000">DMSO</text>
<text x="583.4" y="278.21" font-size="7.6" text-anchor="end" fill="#000">3-MA</text>
<text x="583.4" y="288.81" font-size="7.6" text-anchor="end" fill="#000">Si-NC</text>
<text x="583.4" y="297.71" font-size="7.6" text-anchor="end" fill="#000">Si-PTK6-1</text>
<text x="583.4" y="306.71" font-size="7.6" text-anchor="end" fill="#000">Si-PTK6-2</text>
<path d="M591.7 266.2h4.6M594 263.9v4.6" stroke="#000" stroke-width="0.9"/>
<path d="M606.45 266.2h4.6M608.75 263.9v4.6" stroke="#000" stroke-width="0.9"/>
<path d="M621.2 266.2h4.6M623.5 263.9v4.6" stroke="#000" stroke-width="0.9"/>
<path d="M635.95 266.2h4.6" stroke="#000" stroke-width="0.9"/>
<path d="M650.7 266.2h4.6" stroke="#000" stroke-width="0.9"/>
<path d="M665.45 266.2h4.6" stroke="#000" stroke-width="0.9"/>
<path d="M591.7 275.7h4.6" stroke="#000" stroke-width="0.9"/>
<path d="M606.45 275.7h4.6" stroke="#000" stroke-width="0.9"/>
<path d="M621.2 275.7h4.6" stroke="#000" stroke-width="0.9"/>
<path d="M635.95 275.7h4.6M638.25 273.4v4.6" stroke="#000" stroke-width="0.9"/>
<path d="M650.7 275.7h4.6M653 273.4v4.6" stroke="#000" stroke-width="0.9"/>
<path d="M665.45 275.7h4.6M667.75 273.4v4.6" stroke="#000" stroke-width="0.9"/>
<path d="M591.7 286.3h4.6M594 284v4.6" stroke="#000" stroke-width="0.9"/>
<path d="M606.45 286.3h4.6" stroke="#000" stroke-width="0.9"/>
<path d="M621.2 286.3h4.6" stroke="#000" stroke-width="0.9"/>
<path d="M635.95 286.3h4.6M638.25 284v4.6" stroke="#000" stroke-width="0.9"/>
<path d="M650.7 286.3h4.6" stroke="#000" stroke-width="0.9"/>
<path d="M665.45 286.3h4.6" stroke="#000" stroke-width="0.9"/>
<path d="M591.7 295.2h4.6" stroke="#000" stroke-width="0.9"/>
<path d="M606.45 295.2h4.6M608.75 292.9v4.6" stroke="#000" stroke-width="0.9"/>
<path d="M621.2 295.2h4.6" stroke="#000" stroke-width="0.9"/>
<path d="M635.95 295.2h4.6" stroke="#000" stroke-width="0.9"/>
<path d="M650.7 295.2h4.6M653 292.9v4.6" stroke="#000" stroke-width="0.9"/>
<path d="M665.45 295.2h4.6" stroke="#000" stroke-width="0.9"/>
<path d="M591.7 304.2h4.6" stroke="#000" stroke-width="0.9"/>
<path d="M606.45 304.2h4.6" stroke="#000" stroke-width="0.9"/>
<path d="M621.2 304.2h4.6M623.5 301.9v4.6" stroke="#000" stroke-width="0.9"/>
<path d="M635.95 304.2h4.6" stroke="#000" stroke-width="0.9"/>
<path d="M650.7 304.2h4.6" stroke="#000" stroke-width="0.9"/>
<path d="M665.45 304.2h4.6M667.75 301.9v4.6" stroke="#000" stroke-width="0.9"/>
<text x="548.5" y="325.8" font-size="18" text-anchor="start" fill="#000">F’</text>
<path d="M583.4 404.9L583.4 335.35" stroke="#000" stroke-width="1"/>
<path d="M580.4 404.4L583.4 404.4" stroke="#000" stroke-width="1"/>
<text x="579.6" y="406.97" font-size="7.8" text-anchor="end" fill="#000">0.0</text>
<path d="M580.4 390.65L583.4 390.65" stroke="#000" stroke-width="1"/>
<text x="579.6" y="393.22" font-size="7.8" text-anchor="end" fill="#000">0.5</text>
<path d="M580.4 376.9L583.4 376.9" stroke="#000" stroke-width="1"/>
<text x="579.6" y="379.47" font-size="7.8" text-anchor="end" fill="#000">1.0</text>
<path d="M580.4 363.15L583.4 363.15" stroke="#000" stroke-width="1"/>
<text x="579.6" y="365.72" font-size="7.8" text-anchor="end" fill="#000">1.5</text>
<path d="M580.4 349.4L583.4 349.4" stroke="#000" stroke-width="1"/>
<text x="579.6" y="351.97" font-size="7.8" text-anchor="end" fill="#000">2.0</text>
<path d="M580.4 335.65L583.4 335.65" stroke="#000" stroke-width="1"/>
<text x="579.6" y="338.22" font-size="7.8" text-anchor="end" fill="#000">2.5</text>
<path d="M582.9 404.4L677.6 404.4" stroke="#000" stroke-width="1.1"/>
<rect x="589" y="376.9" width="10" height="27.5" fill="#000000"/>
<path d="M594 376.9V376.35M591 376.35h6" stroke="#000000" stroke-width="0.9"/>
<path d="M594 404.4L594 406.4" stroke="#000" stroke-width="0.8"/>
<rect x="603.75" y="387.9" width="10" height="16.5" fill="#ff0000"/>
<path d="M608.75 387.9V385.7M605.75 385.7h6" stroke="#ff0000" stroke-width="0.9"/>
<path d="M608.75 404.4L608.75 406.4" stroke="#000" stroke-width="0.8"/>
<rect x="618.5" y="387.9" width="10" height="16.5" fill="#0000ff"/>
<path d="M623.5 387.9V385.15M620.5 385.15h6" stroke="#0000ff" stroke-width="0.9"/>
<path d="M623.5 404.4L623.5 406.4" stroke="#000" stroke-width="0.8"/>
<rect x="633.25" y="356.27" width="10" height="48.12" fill="#ffff00"/>
<path d="M638.25 356.27V350.77M635.25 350.77h6" stroke="#ffff00" stroke-width="0.9"/>
<path d="M638.25 404.4L638.25 406.4" stroke="#000" stroke-width="0.8"/>
<rect x="648" y="377.45" width="10" height="26.95" fill="#00ee00"/>
<path d="M653 377.45V374.97M650 374.97h6" stroke="#00ee00" stroke-width="0.9"/>
<path d="M653 404.4L653 406.4" stroke="#000" stroke-width="0.8"/>
<rect x="662.75" y="378.82" width="10" height="25.58" fill="#ee55dd"/>
<path d="M667.75 378.82V376.62M664.75 376.62h6" stroke="#ee55dd" stroke-width="0.9"/>
<path d="M667.75 404.4L667.75 406.4" stroke="#000" stroke-width="0.8"/>
<path d="M594 374.8V373H608.75 V374.8" stroke="#000" stroke-width="1" fill="none"/>
<use href="#s2" x="599.42" y="368.5"/>
<use href="#s2" x="603.33" y="368.5"/>
<path d="M594 368.5V366.7H623.5 V368.5" stroke="#000" stroke-width="1" fill="none"/>
<use href="#s2" x="606.8" y="362.2"/>
<use href="#s2" x="610.7" y="362.2"/>
<path d="M594 336.8V335H638.25 V336.8" stroke="#000" stroke-width="1" fill="none"/>
<use href="#s2" x="612.23" y="330.5"/>
<use href="#s2" x="616.12" y="330.5"/>
<use href="#s2" x="620.02" y="330.5"/>
<path d="M608.75 328.3V326.5H653 V328.3" stroke="#000" stroke-width="1" fill="none"/>
<use href="#s2" x="630.88" y="322"/>
<path d="M623.5 321.3V319.5H667.75 V321.3" stroke="#000" stroke-width="1" fill="none"/>
<use href="#s2" x="645.62" y="315"/>
<path d="M638.25 349.4V347.6H653 V349.4" stroke="#000" stroke-width="1" fill="none"/>
<use href="#s2" x="641.73" y="343.1"/>
<use href="#s2" x="645.62" y="343.1"/>
<use href="#s2" x="649.52" y="343.1"/>
<path d="M638.25 342V340.2H667.75 V342" stroke="#000" stroke-width="1" fill="none"/>
<use href="#s2" x="649.1" y="335.7"/>
<use href="#s2" x="653" y="335.7"/>
<use href="#s2" x="656.9" y="335.7"/>
<text x="554.5" y="371.41" font-size="7.9" text-anchor="middle" fill="#000" transform="rotate(-90 554.5 368.8)">Relative numbers of</text>
<text x="564.2" y="371.41" font-size="7.9" text-anchor="middle" fill="#000" transform="rotate(-90 564.2 368.8)">Migrated cells</text>
<text x="583.4" y="414.71" font-size="7.6" text-anchor="end" fill="#000">DMSO</text>
<text x="583.4" y="424.91" font-size="7.6" text-anchor="end" fill="#000">3-MA</text>
<text x="583.4" y="434.91" font-size="7.6" text-anchor="end" fill="#000">Si-NC</text>
<text x="583.4" y="444.01" font-size="7.6" text-anchor="end" fill="#000">Si-PTK6-1</text>
<text x="583.4" y="453.91" font-size="7.6" text-anchor="end" fill="#000">Si-PTK6-2</text>
<path d="M591.7 412.2h4.6M594 409.9v4.6" stroke="#000" stroke-width="0.9"/>
<path d="M606.45 412.2h4.6M608.75 409.9v4.6" stroke="#000" stroke-width="0.9"/>
<path d="M621.2 412.2h4.6M623.5 409.9v4.6" stroke="#000" stroke-width="0.9"/>
<path d="M635.95 412.2h4.6" stroke="#000" stroke-width="0.9"/>
<path d="M650.7 412.2h4.6" stroke="#000" stroke-width="0.9"/>
<path d="M665.45 412.2h4.6" stroke="#000" stroke-width="0.9"/>
<path d="M591.7 422.4h4.6" stroke="#000" stroke-width="0.9"/>
<path d="M606.45 422.4h4.6" stroke="#000" stroke-width="0.9"/>
<path d="M621.2 422.4h4.6" stroke="#000" stroke-width="0.9"/>
<path d="M635.95 422.4h4.6M638.25 420.1v4.6" stroke="#000" stroke-width="0.9"/>
<path d="M650.7 422.4h4.6M653 420.1v4.6" stroke="#000" stroke-width="0.9"/>
<path d="M665.45 422.4h4.6M667.75 420.1v4.6" stroke="#000" stroke-width="0.9"/>
<path d="M591.7 432.4h4.6M594 430.1v4.6" stroke="#000" stroke-width="0.9"/>
<path d="M606.45 432.4h4.6" stroke="#000" stroke-width="0.9"/>
<path d="M621.2 432.4h4.6" stroke="#000" stroke-width="0.9"/>
<path d="M635.95 432.4h4.6M638.25 430.1v4.6" stroke="#000" stroke-width="0.9"/>
<path d="M650.7 432.4h4.6" stroke="#000" stroke-width="0.9"/>
<path d="M665.45 432.4h4.6" stroke="#000" stroke-width="0.9"/>
<path d="M591.7 441.5h4.6" stroke="#000" stroke-width="0.9"/>
<path d="M606.45 441.5h4.6M608.75 439.2v4.6" stroke="#000" stroke-width="0.9"/>
<path d="M621.2 441.5h4.6" stroke="#000" stroke-width="0.9"/>
<path d="M635.95 441.5h4.6" stroke="#000" stroke-width="0.9"/>
<path d="M650.7 441.5h4.6M653 439.2v4.6" stroke="#000" stroke-width="0.9"/>
<path d="M665.45 441.5h4.6" stroke="#000" stroke-width="0.9"/>
<path d="M591.7 451.4h4.6" stroke="#000" stroke-width="0.9"/>
<path d="M606.45 451.4h4.6" stroke="#000" stroke-width="0.9"/>
<path d="M621.2 451.4h4.6M623.5 449.1v4.6" stroke="#000" stroke-width="0.9"/>
<path d="M635.95 451.4h4.6" stroke="#000" stroke-width="0.9"/>
<path d="M650.7 451.4h4.6" stroke="#000" stroke-width="0.9"/>
<path d="M665.45 451.4h4.6M667.75 449.1v4.6" stroke="#000" stroke-width="0.9"/>
<text x="548" y="473.3" font-size="18" text-anchor="start" fill="#000">G’</text>
<path d="M588.7 559.5L588.7 488.9" stroke="#000" stroke-width="1"/>
<path d="M585.7 559L588.7 559" stroke="#000" stroke-width="1"/>
<text x="584.9" y="561.57" font-size="7.8" text-anchor="end" fill="#000">0.0</text>
<path d="M585.7 541.55L588.7 541.55" stroke="#000" stroke-width="1"/>
<text x="584.9" y="544.12" font-size="7.8" text-anchor="end" fill="#000">0.5</text>
<path d="M585.7 524.1L588.7 524.1" stroke="#000" stroke-width="1"/>
<text x="584.9" y="526.67" font-size="7.8" text-anchor="end" fill="#000">1.0</text>
<path d="M585.7 506.65L588.7 506.65" stroke="#000" stroke-width="1"/>
<text x="584.9" y="509.22" font-size="7.8" text-anchor="end" fill="#000">1.5</text>
<path d="M585.7 489.2L588.7 489.2" stroke="#000" stroke-width="1"/>
<text x="584.9" y="491.77" font-size="7.8" text-anchor="end" fill="#000">2.0</text>
<path d="M588.2 559L684 559" stroke="#000" stroke-width="1.1"/>
<rect x="593.6" y="524.1" width="10" height="34.9" fill="#000000"/>
<path d="M598.6 524.1V523.4M595.6 523.4h6" stroke="#000000" stroke-width="0.9"/>
<path d="M598.6 559L598.6 561" stroke="#000" stroke-width="0.8"/>
<rect x="608.5" y="535.27" width="10" height="23.73" fill="#ff0000"/>
<path d="M613.5 535.27V533.52M610.5 533.52h6" stroke="#ff0000" stroke-width="0.9"/>
<path d="M613.5 559L613.5 561" stroke="#000" stroke-width="0.8"/>
<rect x="623.4" y="534.92" width="10" height="24.08" fill="#0000ff"/>
<path d="M628.4 534.92V531.43M625.4 531.43h6" stroke="#0000ff" stroke-width="0.9"/>
<path d="M628.4 559L628.4 561" stroke="#000" stroke-width="0.8"/>
<rect x="638.3" y="498.62" width="10" height="60.38" fill="#ffff00"/>
<path d="M643.3 498.62V492.69M640.3 492.69h6" stroke="#ffff00" stroke-width="0.9"/>
<path d="M643.3 559L643.3 561" stroke="#000" stroke-width="0.8"/>
<rect x="653.2" y="523.05" width="10" height="35.95" fill="#00ee00"/>
<path d="M658.2 523.05V520.26M655.2 520.26h6" stroke="#00ee00" stroke-width="0.9"/>
<path d="M658.2 559L658.2 561" stroke="#000" stroke-width="0.8"/>
<rect x="668.1" y="523.05" width="10" height="35.95" fill="#ee55dd"/>
<path d="M673.1 523.05V519.56M670.1 519.56h6" stroke="#ee55dd" stroke-width="0.9"/>
<path d="M673.1 559L673.1 561" stroke="#000" stroke-width="0.8"/>
<path d="M598.6 520.6V518.8H613.5 V520.6" stroke="#000" stroke-width="1" fill="none"/>
<use href="#s2" x="606.05" y="514.3"/>
<path d="M598.6 514.3V512.5H628.4 V514.3" stroke="#000" stroke-width="1" fill="none"/>
<use href="#s2" x="613.5" y="508"/>
<path d="M598.6 478.8V477H643.3 V478.8" stroke="#000" stroke-width="1" fill="none"/>
<use href="#s2" x="617.05" y="472.5"/>
<use href="#s2" x="620.95" y="472.5"/>
<use href="#s2" x="624.85" y="472.5"/>
<path d="M613.5 471.8V470H658.2 V471.8" stroke="#000" stroke-width="1" fill="none"/>
<use href="#s2" x="633.9" y="465.5"/>
<use href="#s2" x="637.8" y="465.5"/>
<path d="M628.4 464.5V462.7H673.1 V464.5" stroke="#000" stroke-width="1" fill="none"/>
<use href="#s2" x="648.8" y="458.2"/>
<use href="#s2" x="652.7" y="458.2"/>
<path d="M643.3 491V489.2H658.2 V491" stroke="#000" stroke-width="1" fill="none"/>
<use href="#s2" x="646.85" y="484.7"/>
<use href="#s2" x="650.75" y="484.7"/>
<use href="#s2" x="654.65" y="484.7"/>
<path d="M643.3 484.6V482.8H673.1 V484.6" stroke="#000" stroke-width="1" fill="none"/>
<use href="#s2" x="654.3" y="478.3"/>
<use href="#s2" x="658.2" y="478.3"/>
<use href="#s2" x="662.1" y="478.3"/>
<text x="560" y="524.61" font-size="7.9" text-anchor="middle" fill="#000" transform="rotate(-90 560 522)">Relative numbers of</text>
<text x="568.6" y="524.61" font-size="7.9" text-anchor="middle" fill="#000" transform="rotate(-90 568.6 522)">Invaded cells</text>
<text x="589" y="568.91" font-size="7.6" text-anchor="end" fill="#000">DMSO</text>
<text x="589" y="579.11" font-size="7.6" text-anchor="end" fill="#000">3-MA</text>
<text x="589" y="589.11" font-size="7.6" text-anchor="end" fill="#000">Si-NC</text>
<text x="589" y="598.51" font-size="7.6" text-anchor="end" fill="#000">Si-PTK6-1</text>
<text x="589" y="608.11" font-size="7.6" text-anchor="end" fill="#000">Si-PTK6-2</text>
<path d="M596.3 566.4h4.6M598.6 564.1v4.6" stroke="#000" stroke-width="0.9"/>
<path d="M611.2 566.4h4.6M613.5 564.1v4.6" stroke="#000" stroke-width="0.9"/>
<path d="M626.1 566.4h4.6M628.4 564.1v4.6" stroke="#000" stroke-width="0.9"/>
<path d="M641 566.4h4.6" stroke="#000" stroke-width="0.9"/>
<path d="M655.9 566.4h4.6" stroke="#000" stroke-width="0.9"/>
<path d="M670.8 566.4h4.6" stroke="#000" stroke-width="0.9"/>
<path d="M596.3 576.6h4.6" stroke="#000" stroke-width="0.9"/>
<path d="M611.2 576.6h4.6" stroke="#000" stroke-width="0.9"/>
<path d="M626.1 576.6h4.6" stroke="#000" stroke-width="0.9"/>
<path d="M641 576.6h4.6M643.3 574.3v4.6" stroke="#000" stroke-width="0.9"/>
<path d="M655.9 576.6h4.6M658.2 574.3v4.6" stroke="#000" stroke-width="0.9"/>
<path d="M670.8 576.6h4.6M673.1 574.3v4.6" stroke="#000" stroke-width="0.9"/>
<path d="M596.3 586.6h4.6M598.6 584.3v4.6" stroke="#000" stroke-width="0.9"/>
<path d="M611.2 586.6h4.6" stroke="#000" stroke-width="0.9"/>
<path d="M626.1 586.6h4.6" stroke="#000" stroke-width="0.9"/>
<path d="M641 586.6h4.6M643.3 584.3v4.6" stroke="#000" stroke-width="0.9"/>
<path d="M655.9 586.6h4.6" stroke="#000" stroke-width="0.9"/>
<path d="M670.8 586.6h4.6" stroke="#000" stroke-width="0.9"/>
<path d="M596.3 596h4.6" stroke="#000" stroke-width="0.9"/>
<path d="M611.2 596h4.6M613.5 593.7v4.6" stroke="#000" stroke-width="0.9"/>
<path d="M626.1 596h4.6" stroke="#000" stroke-width="0.9"/>
<path d="M641 596h4.6" stroke="#000" stroke-width="0.9"/>
<path d="M655.9 596h4.6M658.2 593.7v4.6" stroke="#000" stroke-width="0.9"/>
<path d="M670.8 596h4.6" stroke="#000" stroke-width="0.9"/>
<path d="M596.3 605.6h4.6" stroke="#000" stroke-width="0.9"/>
<path d="M611.2 605.6h4.6" stroke="#000" stroke-width="0.9"/>
<path d="M626.1 605.6h4.6M628.4 603.3v4.6" stroke="#000" stroke-width="0.9"/>
<path d="M641 605.6h4.6" stroke="#000" stroke-width="0.9"/>
<path d="M655.9 605.6h4.6" stroke="#000" stroke-width="0.9"/>
<path d="M670.8 605.6h4.6M673.1 603.3v4.6" stroke="#000" stroke-width="0.9"/>
<text x="9.3" y="610.9" font-size="18" text-anchor="start" fill="#000">H</text>
<text x="137.8" y="586.8" font-size="15.8" text-anchor="start" fill="#000">SP6.5</text>
<text x="55.4" y="620.94" font-size="7.7" text-anchor="end" fill="#000">DMSO</text>
<text x="55.4" y="628.74" font-size="7.7" text-anchor="end" fill="#000">Rapamycin</text>
<text x="55.4" y="638.44" font-size="7.7" text-anchor="end" fill="#000">LV-NC</text>
<text x="55.4" y="647.24" font-size="7.7" text-anchor="end" fill="#000">LV-PTK6</text>
<path d="M63.7 618.4h4.4M65.9 616.2v4.4" stroke="#000" stroke-width="0.9"/>
<path d="M76.8 618.4h4.4M79 616.2v4.4" stroke="#000" stroke-width="0.9"/>
<path d="M91.2 618.4h4.4" stroke="#000" stroke-width="0.9"/>
<path d="M104.5 618.4h4.4" stroke="#000" stroke-width="0.9"/>
<path d="M63.7 626.2h4.4" stroke="#000" stroke-width="0.9"/>
<path d="M76.8 626.2h4.4" stroke="#000" stroke-width="0.9"/>
<path d="M91.2 626.2h4.4M93.4 624v4.4" stroke="#000" stroke-width="0.9"/>
<path d="M104.5 626.2h4.4M106.7 624v4.4" stroke="#000" stroke-width="0.9"/>
<path d="M63.7 635.9h4.4M65.9 633.7v4.4" stroke="#000" stroke-width="0.9"/>
<path d="M76.8 635.9h4.4" stroke="#000" stroke-width="0.9"/>
<path d="M91.2 635.9h4.4M93.4 633.7v4.4" stroke="#000" stroke-width="0.9"/>
<path d="M104.5 635.9h4.4" stroke="#000" stroke-width="0.9"/>
<path d="M63.7 644.7h4.4" stroke="#000" stroke-width="0.9"/>
<path d="M76.8 644.7h4.4M79 642.5v4.4" stroke="#000" stroke-width="0.9"/>
<path d="M91.2 644.7h4.4" stroke="#000" stroke-width="0.9"/>
<path d="M104.5 644.7h4.4M106.7 642.5v4.4" stroke="#000" stroke-width="0.9"/>
<rect x="58.4" y="650" width="55.4" height="7.6" fill="#c4c4c4" stroke="#4a3a3a" stroke-width="0.9"/>
<rect x="59.02" y="652.6" width="12.96" height="2.4" rx="1.2" fill="rgb(32,32,32)" filter="url(#bl)"/>
<rect x="72.82" y="652.6" width="12.96" height="2.4" rx="1.2" fill="rgb(21,21,21)" filter="url(#bl)"/>
<rect x="86.52" y="652.6" width="12.96" height="2.4" rx="1.2" fill="rgb(42,42,42)" filter="url(#bl)"/>
<rect x="100.12" y="652.6" width="12.96" height="2.4" rx="1.2" fill="rgb(32,32,32)" filter="url(#bl)"/>
<rect x="58.4" y="659.2" width="55.4" height="7.8" fill="#cccaca" stroke="#4a3a3a" stroke-width="0.9"/>
<rect x="59.02" y="661.4" width="12.96" height="2.6" rx="1.3" fill="rgb(197,197,197)" filter="url(#bl)"/>
<rect x="72.82" y="661.4" width="12.96" height="2.6" rx="1.3" fill="rgb(17,17,17)" filter="url(#bl)"/>
<rect x="86.52" y="661.4" width="12.96" height="2.6" rx="1.3" fill="rgb(197,197,197)" filter="url(#bl)"/>
<rect x="100.12" y="661.4" width="12.96" height="2.6" rx="1.3" fill="rgb(17,17,17)" filter="url(#bl)"/>
<rect x="58.4" y="669.3" width="55.4" height="14" fill="#cacaca" stroke="#4a3a3a" stroke-width="0.9"/>
<rect x="59.56" y="671.7" width="11.88" height="2.2" rx="1.1" fill="rgb(32,32,32)" filter="url(#bl)"/>
<rect x="73.36" y="671.7" width="11.88" height="2.2" rx="1.1" fill="rgb(53,53,53)" filter="url(#bl)"/>
<rect x="87.06" y="671.7" width="11.88" height="2.2" rx="1.1" fill="rgb(32,32,32)" filter="url(#bl)"/>
<rect x="100.66" y="671.7" width="11.88" height="2.2" rx="1.1" fill="rgb(64,64,64)" filter="url(#bl)"/>
<rect x="59.56" y="678.2" width="11.88" height="2.4" rx="1.2" fill="rgb(86,86,86)" filter="url(#bl)"/>
<rect x="73.36" y="678.2" width="11.88" height="2.4" rx="1.2" fill="rgb(139,139,139)" filter="url(#bl)"/>
<rect x="87.06" y="678.2" width="11.88" height="2.4" rx="1.2" fill="rgb(32,32,32)" filter="url(#bl)"/>
<rect x="100.66" y="678.2" width="11.88" height="2.4" rx="1.2" fill="rgb(96,96,96)" filter="url(#bl)"/>
<rect x="58.4" y="684.5" width="55.4" height="8.1" fill="#c8c8c8" stroke="#4a3a3a" stroke-width="0.9"/>
<rect x="59.02" y="687.5" width="12.96" height="2.2" rx="1.1" fill="rgb(47,47,47)" filter="url(#bl)"/>
<rect x="72.82" y="687.5" width="12.96" height="2.2" rx="1.1" fill="rgb(47,47,47)" filter="url(#bl)"/>
<rect x="86.52" y="687.5" width="12.96" height="2.2" rx="1.1" fill="rgb(47,47,47)" filter="url(#bl)"/>
<rect x="100.12" y="687.5" width="12.96" height="2.2" rx="1.1" fill="rgb(47,47,47)" filter="url(#bl)"/>
<text x="56" y="656.44" font-size="8" text-anchor="end" fill="#000">P62</text>
<text x="56" y="665.64" font-size="8" text-anchor="end" fill="#000">PTK6</text>
<text x="56" y="675.44" font-size="8" text-anchor="end" fill="#000">LC3 I</text>
<text x="56" y="682.44" font-size="8" text-anchor="end" fill="#000">LC3 II</text>
<text x="56" y="692.24" font-size="8" text-anchor="end" fill="#000">GAPDH</text>
<text x="154.5" y="611.6" font-size="18" text-anchor="start" fill="#000">I</text>
<rect x="173.4" y="598.1" width="6.8" height="4.6" fill="#000000"/>
<text x="184.4" y="602.84" font-size="7.4" text-anchor="start" fill="#000">LV-NC</text>
<rect x="173.4" y="606.2" width="6.8" height="4.6" fill="#ff0000"/>
<text x="184.4" y="610.94" font-size="7.4" text-anchor="start" fill="#000">LV-PTK6</text>
<path d="M213.7 597.6h1.8V611.3h-1.8" stroke="#1a1a1a" stroke-width="1" fill="none"/>
<text x="222.2" y="606.89" font-size="7.4" text-anchor="middle" fill="#000" transform="rotate(-90 222.2 604.45)">DMSO</text>
<rect x="230" y="598.1" width="7" height="4.6" fill="#0000ff"/>
<text x="241" y="602.84" font-size="7.4" text-anchor="start" fill="#000">LV-NC</text>
<rect x="230" y="606.2" width="7" height="4.6" fill="#ffff00"/>
<text x="241" y="610.94" font-size="7.4" text-anchor="start" fill="#000">LV-PTK6</text>
<path d="M270.7 597.6h1.8V611.3h-1.8" stroke="#1a1a1a" stroke-width="1" fill="none"/>
<text x="277.8" y="606.89" font-size="7.4" text-anchor="middle" fill="#000" transform="rotate(-90 277.8 604.45)">Rapamycin</text>
<path d="M180.2 694.3L180.2 627" stroke="#000" stroke-width="1"/>
<path d="M177.4 693.8L180.2 693.8" stroke="#000" stroke-width="1"/>
<text x="176.6" y="696.31" font-size="7.6" text-anchor="end" fill="#000">0</text>
<path d="M177.4 680.5L180.2 680.5" stroke="#000" stroke-width="1"/>
<text x="176.6" y="683.01" font-size="7.6" text-anchor="end" fill="#000">1</text>
<path d="M177.4 667.2L180.2 667.2" stroke="#000" stroke-width="1"/>
<text x="176.6" y="669.71" font-size="7.6" text-anchor="end" fill="#000">2</text>
<path d="M177.4 653.9L180.2 653.9" stroke="#000" stroke-width="1"/>
<text x="176.6" y="656.41" font-size="7.6" text-anchor="end" fill="#000">3</text>
<path d="M177.4 640.6L180.2 640.6" stroke="#000" stroke-width="1"/>
<text x="176.6" y="643.11" font-size="7.6" text-anchor="end" fill="#000">4</text>
<path d="M177.4 627.3L180.2 627.3" stroke="#000" stroke-width="1"/>
<text x="176.6" y="629.81" font-size="7.6" text-anchor="end" fill="#000">5</text>
<path d="M179.7 693.8L279.7 693.8" stroke="#000" stroke-width="1"/>
<rect x="183.2" y="680.5" width="4.8" height="13.3" fill="#000000"/>
<path d="M185.6 680.5V680.23M184.16 680.23h2.88" stroke="#000000" stroke-width="0.9"/>
<rect x="190.2" y="672.52" width="4.8" height="21.28" fill="#ff0000"/>
<path d="M192.6 672.52V669.86M191.16 669.86h2.88" stroke="#ff0000" stroke-width="0.9"/>
<rect x="197.2" y="685.82" width="4.8" height="7.98" fill="#0000ff"/>
<path d="M199.6 685.82V684.76M198.16 684.76h2.88" stroke="#0000ff" stroke-width="0.9"/>
<rect x="204.2" y="679.17" width="4.8" height="14.63" fill="#ffff00"/>
<path d="M206.6 679.17V676.51M205.16 676.51h2.88" stroke="#ffff00" stroke-width="0.9"/>
<path d="M196.1 693.8L196.1 695.8" stroke="#000" stroke-width="0.8"/>
<text x="196.1" y="704.44" font-size="7.4" text-anchor="middle" fill="#000">P62</text>
<path d="M185.6 669.1V667.6H192.6 V669.1" stroke="#000" stroke-width="0.9" fill="none"/>
<use href="#s1" x="187.25" y="663.3"/>
<use href="#s1" x="190.95" y="663.3"/>
<path d="M185.6 661.5V660H199.6 V661.5" stroke="#000" stroke-width="0.9" fill="none"/>
<text x="192.6" y="657.2" font-size="5.4" text-anchor="middle" fill="#000" font-weight="normal">ns</text>
<path d="M192.6 654.5V653H206.6 V654.5" stroke="#000" stroke-width="0.9" fill="none"/>
<use href="#s1" x="199.6" y="648.7"/>
<path d="M199.6 674.3V672.8H206.6 V674.3" stroke="#000" stroke-width="0.9" fill="none"/>
<use href="#s1" x="203.1" y="668.5"/>
<rect x="216.6" y="680.5" width="4.8" height="13.3" fill="#000000"/>
<path d="M219 680.5V680.23M217.56 680.23h2.88" stroke="#000000" stroke-width="0.9"/>
<rect x="223.6" y="648.58" width="4.8" height="45.22" fill="#ff0000"/>
<path d="M226 648.58V641.93M224.56 641.93h2.88" stroke="#ff0000" stroke-width="0.9"/>
<rect x="230.6" y="679.17" width="4.8" height="14.63" fill="#0000ff"/>
<path d="M233 679.17V673.18M231.56 673.18h2.88" stroke="#0000ff" stroke-width="0.9"/>
<rect x="237.6" y="648.58" width="4.8" height="45.22" fill="#ffff00"/>
<path d="M240 648.58V641.93M238.56 641.93h2.88" stroke="#ffff00" stroke-width="0.9"/>
<path d="M229.5 693.8L229.5 695.8" stroke="#000" stroke-width="0.8"/>
<text x="229.5" y="704.44" font-size="7.4" text-anchor="middle" fill="#000">PTK6</text>
<path d="M219 641.1V639.6H226 V641.1" stroke="#000" stroke-width="0.9" fill="none"/>
<use href="#s1" x="218.8" y="635.3"/>
<use href="#s1" x="222.5" y="635.3"/>
<use href="#s1" x="226.2" y="635.3"/>
<path d="M219 632.7V631.2H233 V632.7" stroke="#000" stroke-width="0.9" fill="none"/>
<text x="226" y="628.4" font-size="5.4" text-anchor="middle" fill="#000" font-weight="normal">ns</text>
<path d="M226 625.7V624.2H240 V625.7" stroke="#000" stroke-width="0.9" fill="none"/>
<text x="233" y="621.4" font-size="5.4" text-anchor="middle" fill="#000" font-weight="normal">ns</text>
<path d="M233 641.1V639.6H240 V641.1" stroke="#000" stroke-width="0.9" fill="none"/>
<use href="#s1" x="232.8" y="635.3"/>
<use href="#s1" x="236.5" y="635.3"/>
<use href="#s1" x="240.2" y="635.3"/>
<rect x="249.8" y="680.5" width="4.8" height="13.3" fill="#000000"/>
<path d="M252.2 680.5V680.23M250.76 680.23h2.88" stroke="#000000" stroke-width="0.9"/>
<rect x="256.8" y="686.88" width="4.8" height="6.92" fill="#ff0000"/>
<path d="M259.2 686.88V685.29M257.76 685.29h2.88" stroke="#ff0000" stroke-width="0.9"/>
<rect x="263.8" y="669.19" width="4.8" height="24.61" fill="#0000ff"/>
<path d="M266.2 669.19V668.4M264.76 668.4h2.88" stroke="#0000ff" stroke-width="0.9"/>
<rect x="270.8" y="680.5" width="4.8" height="13.3" fill="#ffff00"/>
<path d="M273.2 680.5V679.83M271.76 679.83h2.88" stroke="#ffff00" stroke-width="0.9"/>
<path d="M262.7 693.8L262.7 695.8" stroke="#000" stroke-width="0.8"/>
<text x="262.7" y="704.44" font-size="7.4" text-anchor="middle" fill="#000">LC3 II/LC3 I</text>
<path d="M252.2 679.4V677.9H259.2 V679.4" stroke="#000" stroke-width="0.9" fill="none"/>
<use href="#s1" x="252" y="673.6"/>
<use href="#s1" x="255.7" y="673.6"/>
<use href="#s1" x="259.4" y="673.6"/>
<path d="M252.2 659.8V658.3H266.2 V659.8" stroke="#000" stroke-width="0.9" fill="none"/>
<use href="#s1" x="255.5" y="654"/>
<use href="#s1" x="259.2" y="654"/>
<use href="#s1" x="262.9" y="654"/>
<path d="M259.2 652.8V651.3H273.2 V652.8" stroke="#000" stroke-width="0.9" fill="none"/>
<use href="#s1" x="262.5" y="647"/>
<use href="#s1" x="266.2" y="647"/>
<use href="#s1" x="269.9" y="647"/>
<path d="M266.2 666.1V664.6H273.2 V666.1" stroke="#000" stroke-width="0.9" fill="none"/>
<use href="#s1" x="266" y="660.3"/>
<use href="#s1" x="269.7" y="660.3"/>
<use href="#s1" x="273.4" y="660.3"/>
<text x="166.9" y="662.51" font-size="7.6" text-anchor="middle" fill="#000" transform="rotate(-90 166.9 660)">Fold change</text>
<text x="314.5" y="611.6" font-size="18" text-anchor="start" fill="#000">H’</text>
<text x="363" y="616.94" font-size="7.7" text-anchor="end" fill="#000">DMSO</text>
<text x="363" y="625.34" font-size="7.7" text-anchor="end" fill="#000">Rapamycin</text>
<text x="363" y="634.54" font-size="7.7" text-anchor="end" fill="#000">LV-NC</text>
<text x="363" y="643.04" font-size="7.7" text-anchor="end" fill="#000">LV-PTK6</text>
<path d="M370.9 614.4h4.4M373.1 612.2v4.4" stroke="#000" stroke-width="0.9"/>
<path d="M384.9 614.4h4.4M387.1 612.2v4.4" stroke="#000" stroke-width="0.9"/>
<path d="M398.9 614.4h4.4" stroke="#000" stroke-width="0.9"/>
<path d="M412.3 614.4h4.4" stroke="#000" stroke-width="0.9"/>
<path d="M370.9 622.8h4.4" stroke="#000" stroke-width="0.9"/>
<path d="M384.9 622.8h4.4" stroke="#000" stroke-width="0.9"/>
<path d="M398.9 622.8h4.4M401.1 620.6v4.4" stroke="#000" stroke-width="0.9"/>
<path d="M412.3 622.8h4.4M414.5 620.6v4.4" stroke="#000" stroke-width="0.9"/>
<path d="M370.9 632h4.4M373.1 629.8v4.4" stroke="#000" stroke-width="0.9"/>
<path d="M384.9 632h4.4" stroke="#000" stroke-width="0.9"/>
<path d="M398.9 632h4.4M401.1 629.8v4.4" stroke="#000" stroke-width="0.9"/>
<path d="M412.3 632h4.4" stroke="#000" stroke-width="0.9"/>
<path d="M370.9 640.5h4.4" stroke="#000" stroke-width="0.9"/>
<path d="M384.9 640.5h4.4M387.1 638.3v4.4" stroke="#000" stroke-width="0.9"/>
<path d="M398.9 640.5h4.4" stroke="#000" stroke-width="0.9"/>
<path d="M412.3 640.5h4.4M414.5 638.3v4.4" stroke="#000" stroke-width="0.9"/>
<rect x="364.7" y="646" width="57.9" height="10" fill="#bcbcbc" stroke="#4a3a3a" stroke-width="0.9"/>
<rect x="366.75" y="649.7" width="13.5" height="2.6" rx="1.3" fill="rgb(25,25,25)" filter="url(#bl)"/>
<rect x="380.75" y="649.7" width="13.5" height="2.6" rx="1.3" fill="rgb(25,25,25)" filter="url(#bl)"/>
<rect x="394.25" y="649.7" width="13.5" height="2.6" rx="1.3" fill="rgb(25,25,25)" filter="url(#bl)"/>
<rect x="408.25" y="649.7" width="13.5" height="2.6" rx="1.3" fill="rgb(25,25,25)" filter="url(#bl)"/>
<rect x="364.7" y="658.3" width="57.9" height="9.7" fill="#cccccc" stroke="#4a3a3a" stroke-width="0.9"/>
<rect x="366.75" y="661.1" width="13.5" height="3" rx="1.5" fill="rgb(150,150,150)" filter="url(#bl)"/>
<rect x="380.75" y="661.1" width="13.5" height="3" rx="1.5" fill="rgb(10,10,10)" filter="url(#bl)"/>
<rect x="394.25" y="661.1" width="13.5" height="3" rx="1.5" fill="rgb(172,172,172)" filter="url(#bl)"/>
<rect x="408.25" y="661.1" width="13.5" height="3" rx="1.5" fill="rgb(21,21,21)" filter="url(#bl)"/>
<rect x="364.7" y="670" width="57.9" height="14.5" fill="#cccccc" stroke="#4a3a3a" stroke-width="0.9"/>
<rect x="367.02" y="672.1" width="12.96" height="2.4" rx="1.2" fill="rgb(129,129,129)" filter="url(#bl)"/>
<rect x="381.02" y="672.1" width="12.96" height="2.4" rx="1.2" fill="rgb(161,161,161)" filter="url(#bl)"/>
<rect x="394.52" y="672.1" width="12.96" height="2.4" rx="1.2" fill="rgb(129,129,129)" filter="url(#bl)"/>
<rect x="408.52" y="672.1" width="12.96" height="2.4" rx="1.2" fill="rgb(129,129,129)" filter="url(#bl)"/>
<rect x="367.02" y="679" width="12.96" height="2.6" rx="1.3" fill="rgb(32,32,32)" filter="url(#bl)"/>
<rect x="381.02" y="679" width="12.96" height="2.6" rx="1.3" fill="rgb(150,150,150)" filter="url(#bl)"/>
<rect x="394.52" y="679" width="12.96" height="2.6" rx="1.3" fill="rgb(32,32,32)" filter="url(#bl)"/>
<rect x="408.52" y="679" width="12.96" height="2.6" rx="1.3" fill="rgb(64,64,64)" filter="url(#bl)"/>
<rect x="364.7" y="686" width="57.9" height="7.8" fill="#c4c4c4" stroke="#4a3a3a" stroke-width="0.9"/>
<rect x="366.75" y="688.8" width="13.5" height="2.2" rx="1.1" fill="rgb(42,42,42)" filter="url(#bl)"/>
<rect x="380.75" y="688.8" width="13.5" height="2.2" rx="1.1" fill="rgb(42,42,42)" filter="url(#bl)"/>
<rect x="394.25" y="688.8" width="13.5" height="2.2" rx="1.1" fill="rgb(42,42,42)" filter="url(#bl)"/>
<rect x="408.25" y="688.8" width="13.5" height="2.2" rx="1.1" fill="rgb(42,42,42)" filter="url(#bl)"/>
<text x="363" y="653.64" font-size="8" text-anchor="end" fill="#000">P62</text>
<text x="363" y="665.84" font-size="8" text-anchor="end" fill="#000">PTK6</text>
<text x="363" y="675.94" font-size="8" text-anchor="end" fill="#000">LC3 I</text>
<text x="363" y="683.44" font-size="8" text-anchor="end" fill="#000">LC3 II</text>
<text x="363" y="692.94" font-size="8" text-anchor="end" fill="#000">GAPDH</text>
<text x="455.2" y="587.5" font-size="15.6" text-anchor="start" fill="#000">MUM-2B</text>
<text x="451.2" y="611" font-size="18" text-anchor="start" fill="#000">I’</text>
<path d="M469.2 695L469.2 625.8" stroke="#000" stroke-width="1"/>
<path d="M466.4 694.5L469.2 694.5" stroke="#000" stroke-width="1"/>
<text x="465.6" y="697.01" font-size="7.6" text-anchor="end" fill="#000">0</text>
<path d="M466.4 677.4L469.2 677.4" stroke="#000" stroke-width="1"/>
<text x="465.6" y="679.91" font-size="7.6" text-anchor="end" fill="#000">1</text>
<path d="M466.4 660.3L469.2 660.3" stroke="#000" stroke-width="1"/>
<text x="465.6" y="662.81" font-size="7.6" text-anchor="end" fill="#000">2</text>
<path d="M466.4 643.2L469.2 643.2" stroke="#000" stroke-width="1"/>
<text x="465.6" y="645.71" font-size="7.6" text-anchor="end" fill="#000">3</text>
<path d="M466.4 626.1L469.2 626.1" stroke="#000" stroke-width="1"/>
<text x="465.6" y="628.61" font-size="7.6" text-anchor="end" fill="#000">4</text>
<path d="M468.7 694.5L572.7 694.5" stroke="#000" stroke-width="1"/>
<rect x="472.7" y="677.4" width="5.1" height="17.1" fill="#000000"/>
<path d="M475.25 677.4V677.06M473.72 677.06h3.06" stroke="#000000" stroke-width="0.9"/>
<rect x="480.2" y="665.09" width="5.1" height="29.41" fill="#ff0000"/>
<path d="M482.75 665.09V663.04M481.22 663.04h3.06" stroke="#ff0000" stroke-width="0.9"/>
<rect x="487.7" y="683.38" width="5.1" height="11.12" fill="#0000ff"/>
<path d="M490.25 683.38V681.67M488.72 681.67h3.06" stroke="#0000ff" stroke-width="0.9"/>
<rect x="495.2" y="676.89" width="5.1" height="17.61" fill="#ffff00"/>
<path d="M497.75 676.89V675.18M496.22 675.18h3.06" stroke="#ffff00" stroke-width="0.9"/>
<path d="M486.5 694.5L486.5 696.5" stroke="#000" stroke-width="0.8"/>
<text x="486.5" y="705.14" font-size="7.4" text-anchor="middle" fill="#000">P62</text>
<path d="M475.25 662.6V661.1H482.75 V662.6" stroke="#000" stroke-width="0.9" fill="none"/>
<use href="#s1" x="475.3" y="656.8"/>
<use href="#s1" x="479" y="656.8"/>
<use href="#s1" x="482.7" y="656.8"/>
<path d="M475.25 654.4V652.9H490.25 V654.4" stroke="#000" stroke-width="0.9" fill="none"/>
<use href="#s1" x="480.9" y="648.6"/>
<use href="#s1" x="484.6" y="648.6"/>
<path d="M482.75 647.4V645.9H497.75 V647.4" stroke="#000" stroke-width="0.9" fill="none"/>
<use href="#s1" x="486.55" y="641.6"/>
<use href="#s1" x="490.25" y="641.6"/>
<use href="#s1" x="493.95" y="641.6"/>
<path d="M490.25 672.4V670.9H497.75 V672.4" stroke="#000" stroke-width="0.9" fill="none"/>
<use href="#s1" x="492.15" y="666.6"/>
<use href="#s1" x="495.85" y="666.6"/>
<rect x="507.7" y="677.4" width="5.1" height="17.1" fill="#000000"/>
<path d="M510.25 677.4V677.06M508.72 677.06h3.06" stroke="#000000" stroke-width="0.9"/>
<rect x="515.2" y="645.76" width="5.1" height="48.74" fill="#ff0000"/>
<path d="M517.75 645.76V636.87M516.22 636.87h3.06" stroke="#ff0000" stroke-width="0.9"/>
<rect x="522.7" y="678.77" width="5.1" height="15.73" fill="#0000ff"/>
<path d="M525.25 678.77V677.4M523.72 677.4h3.06" stroke="#0000ff" stroke-width="0.9"/>
<rect x="530.2" y="653.12" width="5.1" height="41.38" fill="#ffff00"/>
<path d="M532.75 653.12V649.36M531.22 649.36h3.06" stroke="#ffff00" stroke-width="0.9"/>
<path d="M521.5 694.5L521.5 696.5" stroke="#000" stroke-width="0.8"/>
<text x="521.5" y="705.14" font-size="7.4" text-anchor="middle" fill="#000">PTK6</text>
<path d="M510.25 635.7V634.2H517.75 V635.7" stroke="#000" stroke-width="0.9" fill="none"/>
<use href="#s1" x="510.3" y="629.9"/>
<use href="#s1" x="514" y="629.9"/>
<use href="#s1" x="517.7" y="629.9"/>
<path d="M510.25 628.3V626.8H525.25 V628.3" stroke="#000" stroke-width="0.9" fill="none"/>
<text x="517.75" y="624" font-size="5.4" text-anchor="middle" fill="#000" font-weight="normal">ns</text>
<path d="M517.75 621.3V619.8H532.75 V621.3" stroke="#000" stroke-width="0.9" fill="none"/>
<text x="525.25" y="617" font-size="5.4" text-anchor="middle" fill="#000" font-weight="normal">ns</text>
<path d="M525.25 647.4V645.9H532.75 V647.4" stroke="#000" stroke-width="0.9" fill="none"/>
<use href="#s1" x="527.15" y="641.6"/>
<use href="#s1" x="530.85" y="641.6"/>
<rect x="542.3" y="677.4" width="5.1" height="17.1" fill="#000000"/>
<path d="M544.85 677.4V677.06M543.32 677.06h3.06" stroke="#000000" stroke-width="0.9"/>
<rect x="549.8" y="685.1" width="5.1" height="9.41" fill="#ff0000"/>
<path d="M552.35 685.1V683.38M550.82 683.38h3.06" stroke="#ff0000" stroke-width="0.9"/>
<rect x="557.3" y="670.9" width="5.1" height="23.6" fill="#0000ff"/>
<path d="M559.85 670.9V669.53M558.32 669.53h3.06" stroke="#0000ff" stroke-width="0.9"/>
<rect x="564.8" y="680.48" width="5.1" height="14.02" fill="#ffff00"/>
<path d="M567.35 680.48V678.77M565.82 678.77h3.06" stroke="#ffff00" stroke-width="0.9"/>
<path d="M556.1 694.5L556.1 696.5" stroke="#000" stroke-width="0.8"/>
<text x="556.1" y="705.14" font-size="7.4" text-anchor="middle" fill="#000">LC3 II/LC3 I</text>
<path d="M544.85 675.5V674H552.35 V675.5" stroke="#000" stroke-width="0.9" fill="none"/>
<use href="#s1" x="546.75" y="669.7"/>
<use href="#s1" x="550.45" y="669.7"/>
<path d="M544.85 659.8V658.3H559.85 V659.8" stroke="#000" stroke-width="0.9" fill="none"/>
<use href="#s1" x="550.5" y="654"/>
<use href="#s1" x="554.2" y="654"/>
<path d="M552.35 652.1V650.6H567.35 V652.1" stroke="#000" stroke-width="0.9" fill="none"/>
<use href="#s1" x="559.85" y="646.3"/>
<path d="M559.85 667.3V665.8H567.35 V667.3" stroke="#000" stroke-width="0.9" fill="none"/>
<use href="#s1" x="559.9" y="661.5"/>
<use href="#s1" x="563.6" y="661.5"/>
<use href="#s1" x="567.3" y="661.5"/>
<text x="456.4" y="661.31" font-size="7.6" text-anchor="middle" fill="#000" transform="rotate(-90 456.4 658.8)">Fold change</text>
<rect x="586" y="627.6" width="7.2" height="5.2" fill="#000000"/>
<text x="597.7" y="632.71" font-size="7.6" text-anchor="start" fill="#000">LV-NC</text>
<rect x="586" y="637" width="7.2" height="5.2" fill="#ff0000"/>
<text x="597.7" y="642.11" font-size="7.6" text-anchor="start" fill="#000">LV-PTK6</text>
<rect x="586" y="667.2" width="7.2" height="5.2" fill="#0000ff"/>
<text x="597.7" y="672.31" font-size="7.6" text-anchor="start" fill="#000">LV-NC</text>
<rect x="586" y="676.9" width="7.2" height="5.2" fill="#ffff00"/>
<text x="597.7" y="682.01" font-size="7.6" text-anchor="start" fill="#000">LV-PTK6</text>
<path d="M631.7 628.8h1.8V639h-1.8" stroke="#1a1a1a" stroke-width="1" fill="none"/>
<path d="M631.7 668.3h1.8V678.5h-1.8" stroke="#1a1a1a" stroke-width="1" fill="none"/>
<text x="638.8" y="633.81" font-size="7.6" text-anchor="middle" fill="#000" transform="rotate(-90 638.8 631.3)">DMSO</text>
<text x="638.8" y="672.51" font-size="7.6" text-anchor="middle" fill="#000" transform="rotate(-90 638.8 670)">Rapamycin</text>
<text x="9.9" y="723.6" font-size="18" text-anchor="start" fill="#000">J</text>
<path d="M48.4 809.7L48.4 708.4" stroke="#000" stroke-width="1.1"/>
<path d="M45.6 809.2L48.4 809.2" stroke="#000" stroke-width="1.1"/>
<text x="44.8" y="812.37" font-size="9.6" text-anchor="end" fill="#000">0</text>
<path d="M45.6 775.7L48.4 775.7" stroke="#000" stroke-width="1.1"/>
<text x="44.8" y="778.87" font-size="9.6" text-anchor="end" fill="#000">1</text>
<path d="M45.6 742.2L48.4 742.2" stroke="#000" stroke-width="1.1"/>
<text x="44.8" y="745.37" font-size="9.6" text-anchor="end" fill="#000">2</text>
<path d="M45.6 708.7L48.4 708.7" stroke="#000" stroke-width="1.1"/>
<text x="44.8" y="711.87" font-size="9.6" text-anchor="end" fill="#000">3</text>
<path d="M47.9 809.2L154.6 809.2" stroke="#000" stroke-width="1.1"/>
<path d="M48.4 809.2L48.4 811.7" stroke="#000" stroke-width="1"/>
<text x="48.4" y="824.17" font-size="9.6" text-anchor="middle" fill="#000">0</text>
<path d="M74.95 809.2L74.95 811.7" stroke="#000" stroke-width="1"/>
<text x="74.95" y="824.17" font-size="9.6" text-anchor="middle" fill="#000">1</text>
<path d="M101.5 809.2L101.5 811.7" stroke="#000" stroke-width="1"/>
<text x="101.5" y="824.17" font-size="9.6" text-anchor="middle" fill="#000">2</text>
<path d="M128.05 809.2L128.05 811.7" stroke="#000" stroke-width="1"/>
<text x="128.05" y="824.17" font-size="9.6" text-anchor="middle" fill="#000">3</text>
<path d="M154.6 809.2L154.6 811.7" stroke="#000" stroke-width="1"/>
<text x="154.6" y="824.17" font-size="9.6" text-anchor="middle" fill="#000">4</text>
<text x="160.1" y="824.5" font-size="10.6" text-anchor="start" fill="#000">(Days)</text>
<text x="29.8" y="760.5" font-size="10.6" text-anchor="middle" fill="#000" transform="rotate(-90 29.8 757)">OD value(450nm)</text>
<path d="M48.4 797.48L74.95 780.73L101.5 770L128.05 757.28L154.6 749.57" stroke="#ffff00" stroke-width="1.3" fill="none"/>
<path d="M48.4 795.08l2.4 4h-4.8z" fill="#ffff00"/>
<path d="M74.95 778.05V783.4M73.75 778.05h2.4M73.75 783.4h2.4" stroke="#ffff00" stroke-width="0.8"/>
<path d="M74.95 778.33l2.4 4h-4.8z" fill="#ffff00"/>
<path d="M101.5 768V772.01M100.3 768h2.4M100.3 772.01h2.4" stroke="#ffff00" stroke-width="0.8"/>
<path d="M101.5 767.61l2.4 4h-4.8z" fill="#ffff00"/>
<path d="M128.05 753.93V760.63M126.85 753.93h2.4M126.85 760.63h2.4" stroke="#ffff00" stroke-width="0.8"/>
<path d="M128.05 754.88l2.4 4h-4.8z" fill="#ffff00"/>
<path d="M154.6 746.22V752.92M153.4 746.22h2.4M153.4 752.92h2.4" stroke="#ffff00" stroke-width="0.8"/>
<path d="M154.6 747.17l2.4 4h-4.8z" fill="#ffff00"/>
<path d="M48.4 795.8L74.95 779.05L101.5 766.66L128.05 751.25L154.6 740.53" stroke="#ff0000" stroke-width="1.3" fill="none"/>
<circle cx="48.4" cy="795.8" r="2" fill="#ff0000"/>
<path d="M74.95 775.03V783.07M73.75 775.03h2.4M73.75 783.07h2.4" stroke="#ff0000" stroke-width="0.8"/>
<circle cx="74.95" cy="779.05" r="2" fill="#ff0000"/>
<path d="M101.5 763.31V770.01M100.3 763.31h2.4M100.3 770.01h2.4" stroke="#ff0000" stroke-width="0.8"/>
<circle cx="101.5" cy="766.66" r="2" fill="#ff0000"/>
<path d="M128.05 747.23V755.26M126.85 747.23h2.4M126.85 755.26h2.4" stroke="#ff0000" stroke-width="0.8"/>
<circle cx="128.05" cy="751.25" r="2" fill="#ff0000"/>
<path d="M154.6 737.85V743.21M153.4 737.85h2.4M153.4 743.21h2.4" stroke="#ff0000" stroke-width="0.8"/>
<circle cx="154.6" cy="740.53" r="2" fill="#ff0000"/>
<path d="M48.4 796.47L74.95 778.05L101.5 759.96L128.05 750.58L154.6 737.18" stroke="#00ee00" stroke-width="1.3" fill="none"/>
<path d="M48.4 798.87l2.4 -4h-4.8z" fill="#00ee00"/>
<path d="M74.95 776.37V779.72M73.75 776.37h2.4M73.75 779.72h2.4" stroke="#00ee00" stroke-width="0.8"/>
<path d="M74.95 780.45l2.4 -4h-4.8z" fill="#00ee00"/>
<path d="M101.5 755.94V763.98M100.3 755.94h2.4M100.3 763.98h2.4" stroke="#00ee00" stroke-width="0.8"/>
<path d="M101.5 762.36l2.4 -4h-4.8z" fill="#00ee00"/>
<path d="M128.05 747.9V753.25M126.85 747.9h2.4M126.85 753.25h2.4" stroke="#00ee00" stroke-width="0.8"/>
<path d="M128.05 752.98l2.4 -4h-4.8z" fill="#00ee00"/>
<path d="M154.6 734.83V739.52M153.4 734.83h2.4M153.4 739.52h2.4" stroke="#00ee00" stroke-width="0.8"/>
<path d="M154.6 739.58l2.4 -4h-4.8z" fill="#00ee00"/>
<path d="M48.4 795.13L74.95 773.02L101.5 746.56L128.05 737.18L154.6 725.45" stroke="#0000ff" stroke-width="1.3" fill="none"/>
<rect x="46.4" y="793.13" width="4" height="4" fill="#0000ff"/>
<path d="M74.95 771.35V774.7M73.75 771.35h2.4M73.75 774.7h2.4" stroke="#0000ff" stroke-width="0.8"/>
<rect x="72.95" y="771.02" width="4" height="4" fill="#0000ff"/>
<path d="M101.5 742.54V750.58M100.3 742.54h2.4M100.3 750.58h2.4" stroke="#0000ff" stroke-width="0.8"/>
<rect x="99.5" y="744.56" width="4" height="4" fill="#0000ff"/>
<path d="M128.05 731.15V743.21M126.85 731.15h2.4M126.85 743.21h2.4" stroke="#0000ff" stroke-width="0.8"/>
<rect x="126.05" y="735.18" width="4" height="4" fill="#0000ff"/>
<path d="M154.6 721.43V729.47M153.4 721.43h2.4M153.4 729.47h2.4" stroke="#0000ff" stroke-width="0.8"/>
<rect x="152.6" y="723.45" width="4" height="4" fill="#0000ff"/>
<path d="M154.6 768V762.1" stroke="#000" stroke-width="1.0"/><path d="M154.6 759.1l-1.8 4h3.6z" fill="#000"/>
<path d="M163 757L173 757" stroke="#ff0000" stroke-width="1.1"/>
<circle cx="168" cy="757" r="2" fill="#ff0000"/>
<text x="181.1" y="759.57" font-size="7.8" text-anchor="start" fill="#000">LV-NC (DMSO)</text>
<path d="M163 768.9L173 768.9" stroke="#0000ff" stroke-width="1.1"/>
<rect x="166" y="766.9" width="4" height="4" fill="#0000ff"/>
<text x="181.1" y="771.47" font-size="7.8" text-anchor="start" fill="#000">LV-PTK6 (DMSO)</text>
<path d="M163 781L173 781" stroke="#ffff00" stroke-width="1.1"/>
<path d="M168 778.6l2.4 4h-4.8z" fill="#ffff00"/>
<text x="181.1" y="783.57" font-size="7.8" text-anchor="start" fill="#000">LV-NC (Rapamycin)</text>
<path d="M163 792.5L173 792.5" stroke="#00ee00" stroke-width="1.1"/>
<path d="M168 794.9l2.4 -4h-4.8z" fill="#00ee00"/>
<text x="181.1" y="795.07" font-size="7.8" text-anchor="start" fill="#000">LV-PTK6 (Rapamycin)</text>
<path d="M247.5 755L247.5 769.6" stroke="#2e2626" stroke-width="1"/>
<use href="#s3" x="250.8" y="757.6"/>
<use href="#s3" x="250.8" y="762.3"/>
<use href="#s3" x="250.8" y="767"/>
<path d="M254.5 755L254.5 778.3" stroke="#2e2626" stroke-width="1"/>
<text x="260.1" y="766.65" font-size="8.4" text-anchor="middle" fill="#000" transform="rotate(-90 260.1 766.65)">ns</text>
<path d="M263.5 779.4L263.5 793.6" stroke="#2e2626" stroke-width="1"/>
<use href="#s3" x="266.8" y="784.15"/>
<use href="#s3" x="266.8" y="788.85"/>
<path d="M270.5 770.7L270.5 793.6" stroke="#2e2626" stroke-width="1"/>
<use href="#s3" x="273.8" y="779.8"/>
<use href="#s3" x="273.8" y="784.5"/>
<text x="357" y="723.6" font-size="18" text-anchor="start" fill="#000">J’</text>
<path d="M409.1 808.2L409.1 713.4" stroke="#000" stroke-width="1.1"/>
<path d="M406.3 807.7L409.1 807.7" stroke="#000" stroke-width="1.1"/>
<text x="405.5" y="810.8" font-size="9.4" text-anchor="end" fill="#000">0.0</text>
<path d="M406.3 788.9L409.1 788.9" stroke="#000" stroke-width="1.1"/>
<text x="405.5" y="792" font-size="9.4" text-anchor="end" fill="#000">0.5</text>
<path d="M406.3 770.1L409.1 770.1" stroke="#000" stroke-width="1.1"/>
<text x="405.5" y="773.2" font-size="9.4" text-anchor="end" fill="#000">1.0</text>
<path d="M406.3 751.3L409.1 751.3" stroke="#000" stroke-width="1.1"/>
<text x="405.5" y="754.4" font-size="9.4" text-anchor="end" fill="#000">1.5</text>
<path d="M406.3 732.5L409.1 732.5" stroke="#000" stroke-width="1.1"/>
<text x="405.5" y="735.6" font-size="9.4" text-anchor="end" fill="#000">2.0</text>
<path d="M406.3 713.7L409.1 713.7" stroke="#000" stroke-width="1.1"/>
<text x="405.5" y="716.8" font-size="9.4" text-anchor="end" fill="#000">2.5</text>
<path d="M408.6 807.7L508.98 807.7" stroke="#000" stroke-width="1.1"/>
<path d="M409.1 807.7L409.1 810.2" stroke="#000" stroke-width="1"/>
<text x="409.1" y="822.6" font-size="9.4" text-anchor="middle" fill="#000">0</text>
<path d="M434.07 807.7L434.07 810.2" stroke="#000" stroke-width="1"/>
<text x="434.07" y="822.6" font-size="9.4" text-anchor="middle" fill="#000">1</text>
<path d="M459.04 807.7L459.04 810.2" stroke="#000" stroke-width="1"/>
<text x="459.04" y="822.6" font-size="9.4" text-anchor="middle" fill="#000">2</text>
<path d="M484.01 807.7L484.01 810.2" stroke="#000" stroke-width="1"/>
<text x="484.01" y="822.6" font-size="9.4" text-anchor="middle" fill="#000">3</text>
<path d="M508.98 807.7L508.98 810.2" stroke="#000" stroke-width="1"/>
<text x="508.98" y="822.6" font-size="9.4" text-anchor="middle" fill="#000">4</text>
<text x="514.48" y="822.93" font-size="10.4" text-anchor="start" fill="#000">(Days)</text>
<text x="384.7" y="762.3" font-size="10" text-anchor="middle" fill="#000" transform="rotate(-90 384.7 759)">OD value(450nm)</text>
<path d="M409.1 793.41L434.07 782.51L459.04 767.09L484.01 766.34L508.98 759.95" stroke="#ffff00" stroke-width="1.3" fill="none"/>
<path d="M409.1 791.01l2.4 4h-4.8z" fill="#ffff00"/>
<path d="M434.07 781.76V783.26M432.87 781.76h2.4M432.87 783.26h2.4" stroke="#ffff00" stroke-width="0.8"/>
<path d="M434.07 780.11l2.4 4h-4.8z" fill="#ffff00"/>
<path d="M459.04 766.34V767.84M457.84 766.34h2.4M457.84 767.84h2.4" stroke="#ffff00" stroke-width="0.8"/>
<path d="M459.04 764.69l2.4 4h-4.8z" fill="#ffff00"/>
<path d="M484.01 765.59V767.09M482.81 765.59h2.4M482.81 767.09h2.4" stroke="#ffff00" stroke-width="0.8"/>
<path d="M484.01 763.94l2.4 4h-4.8z" fill="#ffff00"/>
<path d="M508.98 759.2V760.7M507.78 759.2h2.4M507.78 760.7h2.4" stroke="#ffff00" stroke-width="0.8"/>
<path d="M508.98 757.55l2.4 4h-4.8z" fill="#ffff00"/>
<path d="M409.1 793.41L434.07 770.1L459.04 770.1L484.01 756.19L508.98 755.81" stroke="#ff0000" stroke-width="1.3" fill="none"/>
<circle cx="409.1" cy="793.41" r="2" fill="#ff0000"/>
<path d="M434.07 767.84V772.36M432.87 767.84h2.4M432.87 772.36h2.4" stroke="#ff0000" stroke-width="0.8"/>
<circle cx="434.07" cy="770.1" r="2" fill="#ff0000"/>
<path d="M459.04 767.84V772.36M457.84 767.84h2.4M457.84 772.36h2.4" stroke="#ff0000" stroke-width="0.8"/>
<circle cx="459.04" cy="770.1" r="2" fill="#ff0000"/>
<path d="M484.01 753.93V758.44M482.81 753.93h2.4M482.81 758.44h2.4" stroke="#ff0000" stroke-width="0.8"/>
<circle cx="484.01" cy="756.19" r="2" fill="#ff0000"/>
<path d="M508.98 755.06V756.56M507.78 755.06h2.4M507.78 756.56h2.4" stroke="#ff0000" stroke-width="0.8"/>
<circle cx="508.98" cy="755.81" r="2" fill="#ff0000"/>
<path d="M409.1 793.41L434.07 764.46L459.04 743.03L484.01 744.91L508.98 738.89" stroke="#00ee00" stroke-width="1.3" fill="none"/>
<path d="M409.1 795.81l2.4 -4h-4.8z" fill="#00ee00"/>
<path d="M434.07 763.33V765.59M432.87 763.33h2.4M432.87 765.59h2.4" stroke="#00ee00" stroke-width="0.8"/>
<path d="M434.07 766.86l2.4 -4h-4.8z" fill="#00ee00"/>
<path d="M459.04 740.77V745.28M457.84 740.77h2.4M457.84 745.28h2.4" stroke="#00ee00" stroke-width="0.8"/>
<path d="M459.04 745.43l2.4 -4h-4.8z" fill="#00ee00"/>
<path d="M484.01 741.15V748.67M482.81 741.15h2.4M482.81 748.67h2.4" stroke="#00ee00" stroke-width="0.8"/>
<path d="M484.01 747.31l2.4 -4h-4.8z" fill="#00ee00"/>
<path d="M508.98 734.38V743.4M507.78 734.38h2.4M507.78 743.4h2.4" stroke="#00ee00" stroke-width="0.8"/>
<path d="M508.98 741.29l2.4 -4h-4.8z" fill="#00ee00"/>
<path d="M409.1 795.29L434.07 755.06L459.04 734.38L484.01 740.77L508.98 728.74" stroke="#0000ff" stroke-width="1.3" fill="none"/>
<rect x="407.1" y="793.29" width="4" height="4" fill="#0000ff"/>
<path d="M434.07 753.93V756.19M432.87 753.93h2.4M432.87 756.19h2.4" stroke="#0000ff" stroke-width="0.8"/>
<rect x="432.07" y="753.06" width="4" height="4" fill="#0000ff"/>
<path d="M459.04 732.5V736.26M457.84 732.5h2.4M457.84 736.26h2.4" stroke="#0000ff" stroke-width="0.8"/>
<rect x="457.04" y="732.38" width="4" height="4" fill="#0000ff"/>
<path d="M484.01 738.14V743.4M482.81 738.14h2.4M482.81 743.4h2.4" stroke="#0000ff" stroke-width="0.8"/>
<rect x="482.01" y="738.77" width="4" height="4" fill="#0000ff"/>
<path d="M508.98 724.23V733.25M507.78 724.23h2.4M507.78 733.25h2.4" stroke="#0000ff" stroke-width="0.8"/>
<rect x="506.98" y="726.74" width="4" height="4" fill="#0000ff"/>
<path d="M508.98 777.5V771.3" stroke="#000" stroke-width="1.0"/><path d="M508.98 768.3l-1.8 4h3.6z" fill="#000"/>
<path d="M523.8 756.7L534.6 756.7" stroke="#ff0000" stroke-width="1.1"/>
<circle cx="529.2" cy="756.7" r="2" fill="#ff0000"/>
<text x="541.9" y="759.27" font-size="7.8" text-anchor="start" fill="#000">LV-NC (DMSO)</text>
<path d="M523.8 768.4L534.6 768.4" stroke="#0000ff" stroke-width="1.1"/>
<rect x="527.2" y="766.4" width="4" height="4" fill="#0000ff"/>
<text x="541.9" y="770.97" font-size="7.8" text-anchor="start" fill="#000">LV-PTK6 (DMSO)</text>
<path d="M523.8 781L534.6 781" stroke="#ffff00" stroke-width="1.1"/>
<path d="M529.2 778.6l2.4 4h-4.8z" fill="#ffff00"/>
<text x="541.9" y="783.57" font-size="7.8" text-anchor="start" fill="#000">LV-NC (Rapamycin)</text>
<path d="M523.8 791.8L534.6 791.8" stroke="#00ee00" stroke-width="1.1"/>
<path d="M529.2 794.2l2.4 -4h-4.8z" fill="#00ee00"/>
<text x="541.9" y="794.37" font-size="7.8" text-anchor="start" fill="#000">LV-PTK6 (Rapamycin)</text>
<path d="M608.5 753.5L608.5 769.2" stroke="#2e2626" stroke-width="1"/>
<use href="#s3" x="611.8" y="756.65"/>
<use href="#s3" x="611.8" y="761.35"/>
<use href="#s3" x="611.8" y="766.05"/>
<path d="M615.5 753.5L615.5 777.3" stroke="#2e2626" stroke-width="1"/>
<text x="621.1" y="765.4" font-size="8.4" text-anchor="middle" fill="#000" transform="rotate(-90 621.1 765.4)">ns</text>
<path d="M623.5 777.8L623.5 793.5" stroke="#2e2626" stroke-width="1"/>
<use href="#s3" x="626.8" y="780.95"/>
<use href="#s3" x="626.8" y="785.65"/>
<use href="#s3" x="626.8" y="790.35"/>
<path d="M631.5 769.2L631.5 793.5" stroke="#2e2626" stroke-width="1"/>
<use href="#s3" x="634.8" y="776.65"/>
<use href="#s3" x="634.8" y="781.35"/>
<use href="#s3" x="634.8" y="786.05"/>
<text x="10.5" y="851.5" font-size="18" text-anchor="start" fill="#000">K</text>
<text x="98.4" y="844.31" font-size="7.6" text-anchor="middle" fill="#000">DMSO</text>
<path d="M42 847L151 847" stroke="#1a1a1a" stroke-width="1.3"/>
<text x="42" y="856.82" font-size="7.95" text-anchor="start" fill="#000">LV-NC</text>
<text x="153.7" y="856.82" font-size="7.95" text-anchor="end" fill="#000">LV-PTK6</text>
<text x="256.25" y="844.31" font-size="7.6" text-anchor="middle" fill="#000">Rapamycin</text>
<path d="M199 847L309.7 847" stroke="#1a1a1a" stroke-width="1.3"/>
<text x="201.4" y="856.82" font-size="7.95" text-anchor="start" fill="#000">LV-NC</text>
<text x="312" y="856.82" font-size="7.95" text-anchor="end" fill="#000">LV-PTK6</text>
<rect x="14" y="858" width="78" height="44" fill="#dedede"/>
<rect x="14" y="858" width="78" height="44" filter="url(#spk)" opacity="0.45"/>
<rect x="14" y="858" width="78" height="44" fill="#4e105a" filter="url(#fs)" opacity="0.45"/>
<path d="M52.4 870.7l-.1-1.2 .9-.7-.1 1.1zM39.7 888l-1 .1-.9-.6 1 0zM29.5 902l-1.4-.9 0-1.3 1.2.6zM87.6 889.4l1.1-1.6 1.4.1-.7 1.1zM34.2 899.7l.3-1 .6-.3-.1.7zM51 870.7l-1.6-.2-.4-1.3 1.3.1zM77.2 897.3l-.2-2.1 1.6-1.3 .2 2zM77.5 864.8l-.9-1.6 1.4-.6 .7 1.1zM58.1 876.2l1.6-.8 1.6.6-1.5.6zM71.7 862.8l-1.4.3-.3-1.1 .9-.3zM90.7 862.7l-2-.6-.3-1.5 1.4.3zM78.4 879.8l-.8-1 .3-.7 .5.5zM38.1 874.5l0-1.6 1-.4 .1 1zM87.2 863.2l-1.2.6-.3-1 .7-.5zM72.9 900.2l-1.4.9-1.2-1 1.3-.9zM68.4 860.4l-.6-1.2 .6-.8 .4.8zM61.8 895.4l-1.6-.5 .5-1.3 1.4.3zM53.1 864.2l-1.9.1-.8-1.1 1.3-.2zM24.7 882.7l-1.2.5-.8-.6 .9-.4zM64.5 870l.8-1.7 1.8-.4-.9 1.5zM90 861.2l-.6-1.2 .9-.5 .5.8zM85.1 895l.1-2.1 1.6-1 0 1.9zM56.5 880.6l-2.1.2-.4-1.6 1.3-.1zM74.3 872l.3-1.6 1.2-.9-.3 1.5zM31.9 859.8l-1.1.8-.5-1 .6-.7zM48.3 870.4l-.6-1.1 .6-.7 .4.7zM88.1 898.6l-1.9-.7 .9-1.5 1.5.4zM47.1 864.2l-.6-1 .5-.9 .4.8zM83 893.5l-2.1.1-1-1.3 1.6-.1zM76.4 872.2l.1-1.3 1.1-.6-.1 1.1zM61.1 860.4l-1.4-.1-.2-1.2 1 .1zM38.8 879.3l-1-.1-.5-.7 .8.1zM40.4 898.5l-1.5-1.1 1.1-1 1.2.5zM72.3 872.3l.5-2.1 1.5.7 0 1.7zM68.1 874.8l-2.1.5-1.1-1.5 1.7-.3zM84.3 885.4l-.9-.8-.1-1 .8.6zM26.9 878.4l.4-2 1.5-.7-.2 1.6zM73.5 873.8l-1.1-1.1 .1-1.3 .8.9zM66.4 863.8l-.4-1.5 .8-1.4 .2 1.5zM64.9 880.1l-1.5-.4 .1-1.2 1.2.1zM62.1 862.6l-.8-.5 .1-.8 .6.4zM18.5 877.3l1.1-.4 .6.3-.6.5zM25.5 889l-1.9-.3-.6-1.1 1.3-.1zM67.7 860.6l.9-1.2 1.1.3-.6.9zM84.7 890.5l.5-2 1.8-.2-.3 1.8zM41.8 888.5l-.4-2 1.2-.9 .5 1.4zM74.6 889.2l-1-1.2 .1-1.3 .8 1zM28 880l-.4-1.1 .6-.6 .3.7zM41.9 894.1l.8-.8 1.2 0-.9.7zM46.3 869.5l-1.9.4-.5-1.4 1.3-.5zM69.7 870.3l.5-1.9 1.7-.6-.6 1.6zM75.1 893.5l.7-1.5 1.6.1-.7 1.4zM42.3 892.4l-.4-1.7 .8-1.2 .4 1.4zM90 887.8l-.6-1.1 .7-1.1 .4 1.1zM45.1 863.9l-1-.4 .2-.9 .7.4zM20.6 879.8l1.5-.6 1.4.6-1.3.4zM49.2 867.6l-.1-.9 .7-.6 0 .8zM70.1 865.9l-.3-1.7 .8-1.4 .2 1.5zM49 879.3l-.9-.9 .3-.9 .6.5zM33.9 862.5l-1.8.8-.9-1.5 1.4-.6zM26 883l-1-1 .2-1 .8.7zM88.2 866.4l-1.3-.2-.7-1 1.2.2zM73.7 871.6l1-.9 .9.6-.7.6zM33.8 880.8l-.5-.8 .3-.6 .4.5zM40.8 869.3l-.7-1 .4-1.1 .6.9zM52.3 875.2l-.4-1.1 .9 0 .3.6zM73.8 895.3l-.2-1 .6-.6 .3.9zM79.9 877l-1.7 0-.9-1.4 1.7 0zM81.4 897.5l-1.6.7-.5-1.5 1.3-.8zM82.2 886.6l1.5-1.1 1.7.5-1.5.8zM77.9 879.3l-1.5 0-.8-1 1.3 0zM59.1 870.1l-1.7-.7 .2-1.7 1.3.7zM21.5 891.3l-.5-1.1 .6-1 .4 1.1zM56.4 890.3l.8-1.5 1.1.5-.3 1zM59.6 893l-1.2-1.3 .3-1 .7.6zM20.9 893.5l-2.2-.1-.2-1.4 1.3-.2zM69.1 883.2l.3-1.1 .8-.2 0 .8zM78.4 881.4l.8-.6 .7.3-.6.4zM32.5 883.2l.3-1.8 1.3 0 .1 1.2zM56.4 891.8l-1.1.4-.4-.5 .5-.3zM80.4 897.9l.8-1 .9 0-.5.7zM56.8 878.3l-2-.7-.2-1.6 1.4.5zM45.1 866.1l-1.3.2-1.1-.8 1.3-.2zM35.1 876.9l-1.3-1.7 1.5-1.6 .9 1.7zM47.2 862.1l-1.3 0-.6-.7 .9-.1zM53.3 884.2l-1.6-.1-.3-1 1-.2zM24.2 901.5l.8-.5 .6.3-.5.4zM26.6 877.1l-1.7.7-1.1-1.4 1.6-.8zM67.8 894l-1.4-.7 .4-1.2 1 .5zM69.9 889.4l-1.5.4-.6-1 1.1-.5zM42.6 887.5l-.8-1.5 1.1-1 .5 1.2zM25.2 861.4l.1-1.2 .9-.3-.1.8zM35.4 899.5l-.3-1.9 2-.3-.1 1.7zM22.8 864.7l-1.2-1.6 .4-1.8 1.1 1.5zM83.4 864.5l.5-1.5 1-.3-.1 1zM17.7 875.2l-1-1.8 1.3-.9 .6 1.1zM30.5 884.1l0-1.4 .7-.4 .2.8zM23.2 859.5l-.1-.9 .4-.5 .2.7zM52.7 890.7l-.5-1 .8-.5 .3.7zM65 867.4l-1.8.2-1.5-1 1.8-.1zM34.8 875.9l-1.8-.8-.4-1.7 1.4.8zM66.5 899.7l-1.1-.4 .3-1 .8.4zM56.5 879.4l-1.9.1-.5-1.6 1.5 0zM25.5 884.3l-1.5-1.6 1.5-1 1.5 1zM78.9 881.8l-.9-.6-.2-1 .8.6zM27 862.6l-1.9.2-.4-1.8 1.7 0zM91.2 875.3l-1.6-.2-.4-1.3 1.1.2zM75 882.9l1.4-1.6 1.7.2-1.1 1.3zM70 869.2l-.5-1.5 .7-.8 .4.9zM34.8 861l.5-1.4 1.1-.1-.2 1zM66.5 894.3l1.2-.9 .9.8-.7.8zM45.6 897.3l.9-1.1 1.4-.2-1 .9zM58.9 892.3l0-.9 .7-.6 0 .9zM74.4 867.3l-.7-.8 .1-.8 .5.5zM83.9 891.4l-1.6-.4-.3-1.1 1 .2zM79.4 876.2l-1-1.6 1-.9 .6.9zM80.2 876l-.3-.9 .4-.5 .4.6zM68.8 881.4l1.3-1.3 1.1.2-.6.8zM72.6 891.7l1-1.5 1.3.1-.6 1.1zM72.2 878l-.5-1.7 .7-1.6 .5 1.7zM31.3 881.1l-1 .9-.8-1 .9-.6zM37.8 901.7l-1.9-.6-.1-1.6 1.5.2zM54.6 900.9l.9-1 1.3.1-.9.8zM37.2 873.5l-1.6-.2-.2-1.5 1.5.1zM74.1 868l-.1-1.3 1-.7 .1 1.2zM61.6 897.8l-1.5-1 0-1.6 1.3.9zM65 881.6l.6-.8 .9.1-.5.6zM85.7 886.9l.8-1.2 .9.8-.5.9zM22.8 866l-1.8.1-.4-1.5 1.4-.1zM81.9 896.6l1.3-1.5 2-.3-1.3 1.4zM56 875.4l-1.6.3-.9-1.2 1.3-.2zM38.9 896.1l-.5-1.1 .8-.3 .4.6zM40.7 878.9l-1.6 0-1-1 1.4 0zM38.2 898.5l-1.7.5-1.1-.7 1.2-.4zM32.7 865.6l-2.2.8-1-1.7 1.7-.5zM40.1 901.3l-1.5-.9 0-1.5 1.3.7zM83 895.5l1.7-1.8 1.7 1.4-1.5 1.2zM34.1 873l-1.8.1-.6-.9 1-.3zM58.5 887.5l-1.6-.1-.8-.9 1.2-.1zM24.8 883.7l-1.9-.2-.6-1 1.2-.1zM80.5 861.8l.1-1.3 .9-.5-.1 1zM36.9 894.1l-1.6-.1-.3-1 1-.2zM82.8 869.3l-1.6-1.2 .5-1.6 1.4.8zM66.3 879.7l-1.3.1-.8-.8 1.1 0zM77.5 865.9l1-1.5 1.2 1-.7 1zM18.8 869.6l.7-1.4 1.1.6-.4 1.2zM74.5 859.5l1-1.5 1.2.8-.6 1zM35.7 884.2l-2.2-.6 .1-2 1.7.5zM51.3 894l-1.6.8-1.1-.8 1.2-.5zM37.5 872.2l-.5-1 .5-.8 .3.7zM25.5 873.9l-1.5-.5 .6-1.3 1.1.4zM83.1 902l-.8-.9 .5-1.4 .7 1.3zM83.5 886.4l-1 0-.6-.7 .8.1zM87.1 880.9l-1.8-.8 .4-1.4 1.2.4zM15.7 884.9l-1.3-1.1 .8-1.5 1.3 1.1zM73.9 874.7l-1.8-.4-.5-1.2 1.3 0zM52.7 896.3l1.1-1.2 .9.6-.4.8zM24.8 891.5l-1.6-.3 .5-1.3 1.2.1zM73.5 889.9l-1.4-.3 .1-1.3 1.3.2zM25.2 897l-.7-.9 .4-1.2 .6 1zM67.5 868.6l-1.3 1-.6-1 .6-.6z" fill="#4e105a" opacity="0.92" filter="url(#cb)"/>
<rect x="93" y="858" width="79" height="44" fill="#dcdcdb"/>
<rect x="93" y="858" width="79" height="44" filter="url(#spk)" opacity="0.45"/>
<rect x="93" y="858" width="79" height="44" fill="#4e105a" filter="url(#fs)" opacity="0.45"/>
<path d="M113.7 880.9l-2 .2-.6-1.6 1.7-.4zM123.5 901.6l.4-1.5 1.2-.3-.3 1.1zM171.8 895.6l-1.1.5-1-.7 1.1-.3zM140.2 875.3l1-1.7 1.3-.1-.4 1.2zM127.8 896.6l-.8-1.7 .5-1.7 .7 1.6zM159.3 885l-2.1-.1-.3-1.3 1.2-.2zM124.9 867l.8-.5 .8.2-.7.4zM122.8 878.4l-1.8.1-1.2-1.3 1.8 0zM166.5 887.7l-.4-1.4 .7-1.3 .3 1.4zM159.5 860.1l-.6-.8 .2-.8 .5.6zM159.8 869l.2-1.8 1.7-.4-.4 1.5zM129.2 883.4l-.4-2.1 1.5-1.4 .1 1.9zM130.5 865.6l.1-1.4 .7-.4 .1.8zM144.2 888.9l.4-1.6 1.5-.5-.5 1.4zM147.7 888.4l-.1-1.8 1.8-.1-.1 1.5zM153.2 876.3l.8-1.3 1.2.3-.6 1zM147.6 883.9l-1.4-1.3 .6-1.5 1 1zM104.3 897l-1.7.1-.1-1.6 1.4 0zM95.3 870.4l1.2-1.9 1.9 1.2-1.3 1.3zM130.5 882.1l.5-.9 .7-.1-.2.7zM167.8 884l-1.6.8-1.3-.8 1.3-.8zM100.7 884.6l0-2 1.4-.9 .1 1.6zM105.3 897.3l-.8-1.8 1.4-.8 .6 1.3zM108.1 900l.6-1.6 1.7.4-.8 1.3zM131.7 883.5l1-1.3 1.4.2-.7 1.1zM156.3 874.8l.9-1.9 1.4.2-.5 1.1zM168.6 867.7l.4-1.1 .9.2-.1.9zM99.1 879.5l.4-1.9 1.3.8 .2 1.4zM116.6 863.3l-1-1.7 1.2-.9 .6 1zM132 892.7l-1.7.3-1.1-1 1.4-.2zM95.9 881.7l-1.7-1.1 1.1-1.3 1 .6zM131.3 861.9l-.7-1.4 .9-.6 .7.8zM130.6 864.1l-.5-1.8 1.2-1.3 .5 1.7zM147.2 860.5l-1.4-1 .7-1.3 1.1.7zM151.7 892.2l.4-1.2 .9-.2-.2 1zM101.6 867l.1-2 1.8-.4-.1 1.8zM145.1 878.5l-1.1.2-.9-.6 1-.1zM94.9 873.6l.9-.6 1 .2-.8.5zM172 888.5l-1.2-.2-.4-1.2 1.2.2zM151.6 860l-1.3-.1-.2-1.2 1.2 0zM101.5 879l-1 .8-.9-.8 .9-.8zM159.9 871.1l-.8-.9 .3-.7 .6.5zM128.5 882.9l1.2-1.8 1.9.5-1.1 1.4zM94.8 896.1l-1.2-.3-.6-.9 1.1.2zM151 875.5l-1.5 1-.8-1.1 .9-.8zM145 868.6l-1.7-.2-.3-1.4 1.4 0zM116.4 897.6l.8-.8 .5.7-.4.6zM115.5 890.3l1.2-1 .9.9-.8.8zM156.1 896.7l1.3-.6 .8.6-.8.3zM147.6 875.7l-.8-1.5 1-.6 .8.8zM153.7 892.7l-1-.8 0-.9 .8.4zM133.2 881.7l.5-1.1 1 .3-.4.9zM166.5 897.3l-1.4-.1-.1-1 .8-.1zM104.9 895.8l-.7-1.9 1-1.6 .7 1.7zM136.6 869.4l-1.3-1 .7-1.2 1.1.7zM119.9 859.5l-1.4.4-.6-1.1 1.2-.5zM111 874.5l0-1.1 .7-.8-.1 1zM125.5 893.6l-1.5.5-1.3-.6 1.4-.3zM165.5 885l0-1.4 1.2.1 .2 1.2zM111.7 901.3l1.3-.8 1.3.7-1.2.5zM137.8 866.5l.5-1.4 1.1-.2-.2 1.1zM158 860.1l-.1-1.1 .5-.9 .2 1.1zM146.7 898.4l-1.1-.5-.3-1 .8.4zM161.7 887.3l-1.9.7-1.6-.9 1.7-.4zM93.6 862l.3-.9 .8 0-.2.7zM115.1 863.2l-.4-.9 .5-.6 .3.6zM101.6 890.5l-1.5.3-1.1-.9 1.4-.2zM155.6 896.6l-.9 0-.4-.5 .6-.1zM118.7 866.2l-.9-1.1 .2-.9 .6.6zM141 897.1l-.7-1 .2-1.1 .5.9zM102.3 885.2l-1.2-1 .5-.9 .9.5zM164.1 886.1l-1.7-.7 .3-1.3 1.2.2zM138.7 898.2l-.7-.8 .3-.6 .4.4zM170.7 876.1l-2.2-1 .8-2.1 1.9.8zM165.5 864.9l-1.3-1 1-.9 .9.6zM97.8 889.9l.4-1.3 1.1-.6-.4 1.2zM110 874.2l-.9-.2-.5-.5 .7 0zM137.3 870.2l-1.2.6-.5-.7 .6-.4zM163.2 862.2l-.2-1.4 .8-.8 .1 1.1zM125.7 896.6l.8-2 1.5 0-.3 1.4zM145.9 878l-1.6.7-.3-1.3 1-.9zM111.3 898.5l1.1-1.8 1.4 1-.7 1.3zM138.7 878.3l-1 .4-.7-.4 .7-.3zM166.1 869.7l-1.4-1.2 .6-1.3 1.3.7zM155.4 890.9l.3-1 .9.1-.1 1zM96.9 877.2l-.9-1.4 1.3-.7 .8 1.1zM138.1 866.5l-.8-.5 0-.7 .6.3zM165.1 879.8l-1.5-.7-.2-1.1 1.1.3zM152.2 866l.2-1.3 1.1-.3-.1 1.1zM110.9 870.2l.9-.7 .8.6-.8.5zM154.5 866.8l.4-1.4 1.2.2-.3 1zM121.7 897.3l1-1.4 1 .3-.4.9zM155.3 891.9l-1.3.5-1-.6 1-.4zM118.4 879.5l-2 1.5-.9-1.8 1.2-1.5zM139.2 864.7l-1.7-.1 .3-1.3 .9 0zM97.5 870.3l-.2-1.1 .7-.5 .2.8zM130.9 872l-.1-2 1.5-1.3-.1 1.9zM135.6 876l-.7-1.2 .2-1.1 .7.9zM154.8 862.2l-1.3.8-.8-1 .9-.6zM138.1 878l-1.7-.6-.4-1.1 1.1.3zM121.7 898.8l-.9-.3-.3-.7 .7.3zM96.5 873.8l-1.1-1.3 1-1.1 .7.9zM108.2 867.4l-1-1.2 .3-.9 .8.6zM111.4 861.1l.1-1.9 1.1-.9 .1 1.4zM163.9 880.3l.2-1.8 1-.4 0 1zM94.6 860.8l-1-.7 .7-1.1 .7.8zM157.4 879.9l-.9-1.2 .5-.9 .8.6zM166.6 893.6l-1.6-1.2 1.2-1.3 1.3.8zM144.1 896.5l-2.5.4 .1-2 1.8-.7zM146.9 870.7l-.7-.8 .4-.6 .5.4zM168.3 883.6l-1-1.5 .3-1.2 .8.9zM170.1 887.5l-2.1.6-.7-1.7 1.5-.5zM123.7 893.6l-1.5 0-.6-1.2 1.3.1zM124.2 869.3l-.8-1.8 1.4-1.2 .5 1.6zM108.1 862.3l-1.4-.2-.2-1.1 1.1 0zM108.4 886.7l.8-.7 .7.3-.4.6zM170.6 892.7l-.3-1.8 .8-.9 .4 1.2zM135.2 865.5l-1.6.9-.7-1.6 1.3-.6zM160.3 895.8l-1.4-1.7 .9-1.3 1.1 1zM167.1 895.2l-.9-.7 .1-1.1 .8.7zM113.8 901.9l.8-1.3 .9.2-.3.8zM135.3 868.4l-1.3-.1 0-1.1 1 0zM138.7 894.6l-1.9.5-1.2-1.4 1.7-.3zM167.3 882.5l.1-1.5 1-.2 0 .9zM164.6 881.2l-1.8-.7-.6-1.6 1.5.7zM119.8 890.7l-1.7-1 .8-1.3 1.2.5zM163.9 870.8l-.3-.9 .4-.5 .3.6zM134.2 893.3l.7-1.3 1-.3-.5.9zM162 893.1l-1.3-.1-.9-.9 1.2.2zM96.5 896.4l-1.1-.8 0-1 .9.4zM119.9 876.5l-1.9 0-.5-1.7 1.8 0zM97.6 859.8l-1.8-.3-.7-1.4 1.6.3zM127.3 882.6l.4-1.2 1.1-.6-.4 1.2zM119.2 882.7l-1.3-1.2 1.1-.9 1.1.7zM121.1 876.5l.5-1.2 .9.2-.2.7zM168 898l-.5-1.8 1-1.1 .6 1.4zM100.7 888.6l-1.3-1.5 1-1.1 .9.9zM158.9 861.5l-1.2-.4-.5-1 1 .3zM114.1 877.6l.6-1.1 1 .3-.4.8zM97.7 878.5l.3-1.9 1.1-.5-.1 1.1zM134 890.7l.4-1.3 1.1-.5-.4 1.1zM169.4 895.3l-2.1.8-.5-1.9 1.6-.6zM145.3 888.7l-1.3-.3 .3-1.3 1.2.3zM120 870.1l-2 .2-.5-1.3 1.1-.2zM139.3 863.9l-.7-.9 .8-.7 .6.8zM146 897.9l-1.4.2-.3-1.2 1.1 0zM106.2 890.6l.2-1.2 1.1-.4-.2 1.1zM142.2 875.6l1.1-.9 1.3.1-1 .7zM151.9 869l.9-1.4 1.3-.1-.6 1.1zM102.6 892.9l-.6-1.6 1.5-1 .4 1.6zM153.5 861l-1.1-.3-.3-.8 .9 0zM145.6 891.5l-1.4.4-.8-.6 .9-.4zM122.3 891.1l-.4-2.1 1.7-.5 .3 1.5zM157.4 894.2l.8-1.6 1.7.1-.7 1.4zM137.8 884.7l-.8-2.4 2-.4 .9 1.7zM105.7 900.1l.4-1.7 1.5-.5-.5 1.4zM141.3 894.6l-1.7.7-1-1 1.1-.5zM130.7 896.9l-1-1.6 .7-1.3 .8 1.2zM122.1 866l-1.5-.4 .1-1 .8.1zM137.7 872l.4-1.1 .8-.1-.2.7zM142.7 867.6l-1-1 .4-1.2 1 .8zM143 885.7l-1.1.1-.6-.9 1 0zM146.7 874.6l1.2-1.4 1.2.2-.6.9zM97.2 882.7l-.3-2.3 1.8-.3 .3 1.5zM105 861.2l-1.9-.3-.2-1.7 1.5.3zM126.5 872.1l-.8-.6-.2-.9 .7.5zM140.6 865.6l-1.3.8-.7-1 .8-.8zM146.2 862.4l-2.1.6-.5-1.9 1.7-.6zM120.9 874.1l1.4-1.3 1.5.5-1.1 1zM131.5 894.4l1-1.8 1.5.1-.5 1.3zM117 869.3l-1.6-.9 0-1.2 .9.5zM169.1 863.3l-1 .3-.4-.5 .5-.3zM122.3 895.5l-.8.7-.8-.8 .9-.7zM148.5 877l1.4-.7 1.3.4-1.2.6zM156.9 891.1l-.9.1-.3-.5 .5-.2zM141.2 888.2l-2-.1 .1-1.8 1.6.3zM153.1 895.7l-2.1.6-.7-1.3 1.1-.3zM132 889.5l-2.3.2-.3-2.3 2 .1zM100.6 866.1l-1.8-.2-.7-1.3 1.4.2zM156.9 876.1l.8-2.1 1.5.3-.1 1.5zM166.6 901.4l.3-1.2 .9-.5-.2 1zM100.8 866.8l-.2-1.5 1.4-.2 .2 1.3zM169.1 897.2l-.7-1.8 1.3-.6 .6 1.1zM110.5 898.5l-1.4-.9-.2-1.5 1.1.9zM160.2 870.7l1-1.2 1.3 1-1.1.9zM160.9 867.2l-1.4-.1-.2-1.4 1.4.2zM169.4 869.9l0-1.4 1-.9-.2 1.3zM152.1 878.1l.3-1.7 1.2-.9-.3 1.5zM137.7 895.6l-.9-.8 .6-.8 .8.5zM160.6 885.7l-.2-1.7 1-.8 .1 1.1zM97.1 881.7l.6-1.2 .9.1-.3.7zM95.7 859.9l.6-1.7 1.6-.2-.7 1.1zM124.8 886.2l.4-1.1 .8-.2-.2.7zM148.1 887.9l-2.1-.6-.1-1.7 1.5.4zM156.7 888.9l-.1-1.1 .6-.3 .1.6zM159.9 886.9l-1.1.7-.8-.9 1-.7zM146.6 874.8l1.2-1.1 1.6.3-1.2.9zM159.5 891.4l.6-1.1 .8 0-.3.7zM152.9 888.2l.5-1.5 1.5.2-.6 1.3zM155 888l-2-.6 .7-1.7 1.6.3zM97 889l1.6-.8 1.4.7-1.3.7zM144.4 889l-1.2-.2-.2-1 .9.1zM97 884.2l.8-1.9 1.5-.1-.3 1.4zM124 864.1l-1.2.1 .2-1 .7-.1zM147.6 898.9l-1.4.5-.8-1 1.1-.4zM156.2 902l-.8-1.3 .5-.9 .7.8zM159.9 867.5l-2-.3-1.1-1.6 1.8.4zM133.2 869.7l-.8-1.6 .9-1.3 .6 1.3zM103.8 887.1l-.7-1.4 .5-1.2 .4 1.1zM159 867.8l-.7-1.3 .8-1.1 .4 1.1zM155.3 874.1l1.3-1.3 1.5.7-1.2.9zM136.2 871.4l-1.2-.1-.6-.9 .9.2zM107.9 871.5l-.5-.8 .2-.9 .4.8zM111.7 872.3l.3-.9 .7-.4-.2.8zM147.6 860.1l-1.3-.4-.2-1 1 .1zM148.9 896.1l.4-1 1.1-.1-.4.9zM153.4 888.9l-1.2-.3-.4-.8 .8.3zM119.1 876.3l-1.6 1.2-.9-1.5 1.1-.8zM165.8 870.8l.5-1.1 1.1-.5-.5 1.1zM98.2 869l-1-1.1 .4-1 .7.7zM101 879.2l-.2-1.4 .6-.7 .3.9zM152.2 861.5l-1.3.2-.5-1.1 1.1-.1zM101.6 885.1l-.5-1.7 .7-1 .5 1.1zM108.4 900.1l.3-1.8 1.2-.5 0 1.3zM165.7 900.5l-1.9 1-.6-1.5 1.1-1.1zM112.2 882.4l1.1-.9 1.2.2-.9.6zM162.3 887.7l.5-1 1-.3-.5.9zM146.6 870.3l-1-.4 .2-.8 .7.2zM134.7 897.7l-1-1.4 1.3-.7 .9.9zM109.8 884.8l0-1 .8-.2 .1.8zM149.5 887l.2-1.4 1.1-.1 0 1.1zM165.3 862.6l.8-1.7 1.4.6-.6 1.1zM114.2 875.6l-2.2 1.5-1.1-2 1.6-1.2zM110.8 877.1l1.7-1 1.8.6-1.6.8zM109.2 859.2l-1.5 1.1-.9-1.4 1.2-.9zM168.7 889.2l.4-1.8 1.1-.4 0 1.1zM115 863.6l-1.6-.7-.3-1.2 1.1.4zM95.4 895.8l-.9-.7 .6-.9 .7.5zM120.6 869.6l1.2-1.7 2-.1-1.3 1.3zM112.9 879.3l1.5-1.8 1.1 1.5-.8 1.2zM130.1 883.1l.8-.8 .8.6-.7.6zM110.6 877.3l-1 0-.7-.6 .9.1zM152.8 884.6l-.7-1.1 .7-.8 .5.8zM159.3 860.3l.3-2.1 1.5.3 0 1.3zM142.2 898.4l.4-1.4 1.3-.5-.5 1.2zM96.2 887l.2-1.4 1-.4 .1 1zM97.6 879.7l-1-.3-.3-.6 .6.1zM98.7 872.3l-1.2.5-.9-.5 .9-.4zM128.9 879.5l1-1.2 1.5.1-1 1.2zM139.2 872.1l-1.8-.5-.3-1.2 1.1.2zM121.7 873.1l-.9-1 .1-1.1 .6.9zM155.1 868.1l-2.1 1.4-1.2-1.9 1.7-1.2zM131.2 890.6l-1.1-1.6 1.1-.8 1 .9zM96 860.6l.1-1.1 .9-.6-.2 1zM153.4 899.5l.3-1 1.1-.2-.4.9zM113.1 879.4l-.1-1.6 1-1 .1 1.3zM144 875.7l1-1.6 1.6-.1-.8 1.2zM138.2 859.6l1.6-1 1.2.5-.9.8zM131.8 881.4l.8-2.1 1.8.8-.4 2zM166.1 876.8l.8-1.3 1.3-.4-.8 1.1zM164.3 901.4l.4-1.8 1.1-.5-.1 1.2zM135 868.9l-1.2.1-.4-1.1 1.1-.1zM141.6 874.9l.4-1.4 1.1-.1-.1 1.1zM154.1 880.7l-.9-1 .2-1.2 .7.9zM140.8 895.7l-.2-1.4 1-.9 .2 1.3zM111 871.8l-.7-1.2 .8-1.3 .4 1.3zM129.3 900l-.8-1.5 1.1-1 .6 1.2zM158.2 886.4l-1.3.6-.5-1.3 1.1-.2zM138.8 876l-1.2-.2-.6-.9 1.1.2zM140.4 895.9l-1.2-.1-.4-1 1 .1zM124.8 892.3l-1-1.4 .9-1.2 .9 1.1zM166.7 873.9l-1.8.5-1.2-1.1 1.4-.4zM94 891.7l.8-1.5 1.5.3-.7 1.3zM172 896.3l-1.1.5-.9-1.3 1.4-.3zM114.5 899.4l-1.7-1-.4-1.8 1.4 1.1zM124.9 864.7l-2.1-.2-.5-1.7 1.6.1zM162.7 869.9l.7-1.6 1.2.3-.3 1.2zM165.4 878.2l-1.1-1.5 1.5-.9 1 1.3zM154.7 864.2l-2 .2-1-.9 1.3-.2zM115.3 892.4l-.2-1.7 1.3-.8 .2 1.5zM170.1 881.3l-1.5-.3-.1-1.1 1 .1zM145.4 861.2l-1.4.1-.7-.8 1-.2zM134.2 884.9l1.1-.5 .9.4-.9.4zM142.6 863.2l-1.9-.4-.1-1.5 1.5.1zM160 863.9l.9-1.3 1.5-.2-.9 1.2zM122.5 870.5l-1.7-.5-.4-1.3 1.2.3zM164.8 885.2l-.9-1.6 .5-1.1 .7 1zM161 861.3l-1.5.5-.4-1.4 1.3-.3zM150.4 874l.5-.8 .7 0-.3.6zM103.3 874.4l-2.1 0-.5-1.6 1.5-.1zM116.4 881l.2-.9 .7-.2-.2.6zM108.1 865.1l-.5-1.1 .6-.9 .3.9zM115.5 900.5l1.2-1 .9.3-.6.8zM94.9 899.8l-.4-1.4 .6-.7 .3.8zM95.8 890.1l-.8-1.4 1.2-.7 .5 1zM95.1 893.7l-.7-1.8 .9-1.3 .8 1.4zM97.8 901.8l-1.3 0-.7-.7 1-.1zM112.6 879.5l-1.2-.7 .3-1.2 1.1.5zM108.7 900l-1.1.1-.3-1 .9.1zM162.3 869.1l-.8-1.3 .4-.9 .7.8zM129.6 879l-.2-1 .6-.4 .2.6zM141.2 902l.2-1.1 1.4-1-.4 1.6zM117.9 871.3l.6-1.4 1.2-.1-.3 1.1zM132.1 865.8l1.5-1.3 1.5 1.2-1.5.8zM114.6 898.9l-.9-.4-.2-.9 .8.4zM109.5 864.9l-2.2.2-.6-2.1 2.1 0zM104.5 884l.3-1 .6 0-.1.6zM141.1 868.6l.8-1.1 1 .5-.5.8zM144.6 863l-1-.3-.3-.6 .7.1zM153.2 873.4l-2 .5-.5-1.7 1.5-.4zM108.8 877.5l-1.6-.9 .4-1.5 1.4.7zM139.5 880.3l.5-.9 .6-.1-.2.7zM166.9 881.2l-1.4.8-1-1 1.1-.5zM169.1 879.4l-2 1.3-.6-1.8 1.2-1.4zM114.9 901.9l-.1-2 1.3-1.2 .2 1.7zM98.6 885.7l-1.6.6-1.6-.7 1.6-.4zM119.7 895.3l-.5-1.1 .6-.5 .3.6zM108.6 864.9l-1.4.3-.3-1.2 1.2-.4zM152 897.4l.7-1.4 1.1-.2-.4 1zM153.3 891.3l1.9-1 1.2.9-1.2.7zM167.2 893.5l.3-1.6 1.4-.4-.2 1.4zM115.3 884.9l.6-1.3 .9-.2-.2.9zM122.5 878.5l-.4-1 .6-.8 .4.9zM159 893.4l1.1-1.5 1.7-.3-1.1 1.3zM113.7 882l1.7-1.2 1.7.6-1.3 1.2zM147.3 870.7l-1.5-.5-.1-1.3 1.3.3zM131.9 899.4l-1.2.2-.2-1 .9-.2zM138.8 894.3l1.4-1.2 1.5.5-1.1 1zM133.8 872.4l-2.3-.6 .8-1.7 1.7.1zM170.1 875l-.2-1.4 .9-.5 .2.8zM137.1 867.9l-1-.6 .2-.8 .7.2zM117.2 861.4l-1.5.4-1.1-.7 1.2-.2zM97.1 886.7l.8-1.6 1.2-.3-.4 1.2zM158.9 887l-1 0-.8-.8 1 .1zM144.3 897.2l.4-1.7 1.5-.2-.2 1.4zM104.6 891.2l.9-1.9 1.9-.1-.9 1.5zM115.6 865.8l.2-1.8 1.2-.7-.2 1.3zM108.1 888.5l-2.1.3-.6-1.4 1.2-.2zM108.5 882.1l.4-1.1 1 .1-.2.9zM161 877.9l-1-.2-.1-.6 .6-.1zM104.5 892.2l-1.3 0-.4-.8 .8-.3zM128.3 876.9l-.2-1.4 .9-1 .2 1.3zM105.6 879.5l1.1-1.1 1.3.2-.9.8zM151.3 871.5l.8-1.3 1.4-.4-.7 1.2zM165.8 901.6l-1.5-.1 0-1.2 .9.1zM126.7 891.3l-.1-1.6 .9-.6 .3 1zM103 877.9l-1.2-1.4 .5-1.4 .7 1zM148.9 859.7l1.1-1.3 1.3.9-.9 1.2zM132.4 859.9l-1-.9 .2-.9 .8.5zM144.7 870.6l-1.2-1.4 .4-1.6 .9 1.2zM152.3 866.3l.3-1.7 1.6.2-.3 1.5zM162.2 877.5l-1.2-.5-.2-.9 .8.2zM151.1 880.9l-.3-1.9 .8-.9 .4 1.1zM105.9 896.5l-1 .4-.3-.7 .6-.4zM169.4 865.3l.5-1.3 1.2.6-.5 1.1zM151.8 885l1-1.9 1.4.3-.3 1.3zM150.5 889.1l-1.9-.5-.3-1.6 1.5.3zM131.5 874.9l-1.1.8-.8-1 .9-.6zM151.5 868.6l-1-.6-.2-1.1 .8.7zM122.2 889.4l-1 .4-.5-.5 .6-.3zM116.3 863.2l.1-1.2 1-.2-.1.8zM110.1 890.9l-.1-1 .8-.3 0 .8zM139 877l-1.5-.5-.1-1 .9.2zM110.9 863.8l.5-1.5 1.4.1-.4 1.4zM93.2 865.5l-.2-1.4 1 0 .5.9zM94.8 902l-1.1-.7 .5-1.1 .9.7zM97.6 877.6l-1.3.5-1.2-.6 1.3-.4zM147.4 900.3l-1.4-1.3 .4-1.4 1 .8zM96.8 876.5l-.6-1.7 .8-1.3 .5 1.4zM114.1 863.8l.1-1.8 1.1-1.1 0 1.5zM119.7 873.2l.7-1.6 1.4-.3-.6 1.2zM114.8 877.2l-2.1.6-.2-1.6 1-.4zM102.9 874.6l-1.1.3-.2-.9 .7-.3zM128.3 879.7l-.1-1.6 .9-1.3 .1 1.5zM99.3 868.1l-.1-1.1 .7-.5 0 .8zM107 887.8l-2.1-.1 .4-1.7 1.4-.1zM128.6 894.2l-.9-1.4 1.4-1 .6 1.4zM133.2 890.3l-.7-1.5 .4-1.4 .7 1.4zM110 866.1l-.6-.9 .7-.7 .6.8zM121.7 882.1l-1.3-.1-.5-.7 .9-.1zM94.9 898l.9-1.4 1.1-.2-.5.9zM134.3 863.1l-1.3-.6 .4-1 .9.3zM125 875.5l.4-.8 .6 0-.2.6zM135.8 887.7l.6-.9 .7.3-.2.8zM158.5 879.7l-1.8 0-.5-1.6 1.5.2zM119.8 866.4l-.4-1.6 .8-.9 .5 1.2zM164.5 887.5l.2-1.1 .8-.5-.1.9zM94.2 866.3l.5-1.3 1.1-.5-.4 1.1zM134.8 895.1l.6-1.1 1.2 0-.5 1zM136.9 895.4l-1.7-1 0-1.4 1.3.5zM159.6 865.9l-1.1-1.2 .1-1.4 .9 1.1zM150 875.1l-1.7.2-.7-1.4 1.5-.2zM150.7 894.8l-.3-1.9 1.3-1.1 .4 1.7zM94.4 869l.5-1.1 .9-.2-.3.8zM172 884.6l-1.7.1-.7-2 2 0zM164.8 890.5l.7-1.6 1.1-.1-.2 1zM157.9 892l-.9-1.5 1.4-.6 .6 1zM155.6 901l-1.7-.3 .1-1.5 1.5.1zM119.2 893.7l-1.1-.8 .4-1.1 .8.6zM148.9 901.5l.5-1.6 1.6.3-.6 1.3zM151.3 884.4l.1-1.7 1.1-.7 .1 1.3z" fill="#4e105a" opacity="0.92" filter="url(#cb)"/>
<rect x="173" y="858" width="78" height="44" fill="#e0d9d7"/>
<rect x="173" y="858" width="78" height="44" filter="url(#spk)" opacity="0.45"/>
<rect x="173" y="858" width="78" height="44" fill="#4e105a" filter="url(#fs)" opacity="0.45"/>
<path d="M248.4 861.4l.5-1.3 1-.4-.2 1zM205.9 867.4l-1.9-.7 .7-1.6 1.3.6zM179.2 866.2l-1.1-.4-.3-.8 .9.2zM241.7 897.6l1.3-.9 1.4.5-1.2.7zM184 881.9l-.8-1.1 1-.5 .6.7zM236.6 887.7l-1-.6 .6-.9 .8.5zM209.5 865.9l-1.2.4-.4-1.1 .9-.2zM216 878.5l-.4-1.7 .8-.8 .5 1zM239.8 895.9l-1-1.7 .6-1.3 .8 1.1zM237.9 891.6l1.1-1.1 .9.4-.5.7zM183.3 890.2l.8-1.4 .9.9-.3 1zM184.7 891.8l-.1-1.5 .8-.5 .2.9zM175.8 882.7l.5-1 1.1-.2-.6.8zM188.5 869.6l.6-.8 .6 0-.3.6zM243.3 896.1l-1.6-.1-.6-1.5 1.5.3zM187.2 876.1l-1.2.2-.5-.6 .8-.1zM244.7 870.4l.8-1.5 1.5-.2-.7 1.3zM239.6 889.7l-1.6-.6-.4-1.7 1.4.8zM209.8 900.9l-1.7.2-1.1-.8 1.3-.1zM233.4 871.3l-.9-1.8 1.1-1 .6 1.1zM198.8 863.9l-.3-2.3 2-.2 .4 1.9zM233.5 871.2l-.6-1.6 .9-1.5 .6 1.6zM249.8 863.6l-1.5.6-.9-.8 1-.4zM235.3 893.1l-1 .3-.6-.4 .6-.2zM248.3 872.8l-1.4.4-.9-.9 1.2-.4zM178.1 879.2l1.1-.9 1.4.1-1.1.8zM222.6 862.9l1.1-.8 .9.7-.8.6zM231.5 882.1l1.4-1.1 1.2.5-.8.9zM213.2 892.6l-1.7-.8-.1-1.2 1.2.3zM211.4 878.5l-1-.8-.1-1.3 .9.8zM216.1 879.3l-2 .3-.5-1.3 1.2-.3zM197.2 893.1l-1-.2-.4-.7 .8.1zM174.8 862.7l-1.4-.3-.2-1 1 0zM244.9 883.1l1.7-.7 1.4.5-1.3.5zM217.8 862l-1.6-1.5 .6-1.9 1.5 1.2zM228.3 875.8l-.4-1 .4-.7 .3.8zM207.8 895.7l-1.1.3-.9-.6 1-.3zM218.9 882.7l-1.6.7-.7-1.2 1.1-.6zM178.3 886.3l1.2-1.2 1.5.6-1.1 1.2zM178.4 861.2l-1.1-1.4 .5-1.3 .8 1zM186 861l-.7-1 .5-.9 .4.8zM232.7 874.1l-.7-1.2 .4-1.4 .7 1.3zM214.7 886.2l-.9.7-.4-.8 .5-.5zM228.7 892.6l-.9-.8 .4-.7 .6.4zM207.1 898.1l.3-1 .9-.4-.3.9zM185.1 884l1-.7 .9.4-.7.6zM237.1 879.6l-.1-1.1 .6-.5 .2.7zM183.3 890.5l.5-1 .7.1-.2.7zM190.6 899.5l.4-.9 .8.2-.3.6zM216.2 891.1l-1.1-1.3 1-1.1 1 1zM179.1 869.2l-.9-1.4 1-1.1 .9 1.3zM247.1 892.1l-1.3-.8-.4-1.3 1.2.8zM192.7 870.9l-1.4-1.2 .5-1.6 1 1zM208.3 865.1l-1.1.3-.8-.6 .9-.3zM203 887.9l.7-.6 .6.3-.4.6zM185.1 873.8l-1.4-1.1 .3-1.1 .9.5zM201.5 864.7l-1.4.4-1.2-.7 1.3-.2zM195.1 887l-.6-1.4 1.2-.8 .4 1.3zM197 881l-1.6.6-.5-1.3 1.1-.6zM229.5 901.8l.1-1 .7-.3-.1.7zM223.2 873.2l.9-1.5 1.1.8-.5.8zM245.8 900.5l-1-1.7 .5-1.6 .9 1.4zM230 862.6l-.1-1.5 1-.3 .3 1zM234.4 887.5l-.9.2-.6-.5 .7-.1zM174.8 896.7l1.7-.9 1 .8-.9.6zM194.1 877.7l1.4-1.8 1.7 1-1 1.6zM189.9 889.1l-1.7.1-1.3-1 1.6-.2zM188.7 881.5l-.9-.3-.1-.6 .5.1zM197.9 886l-1.2-1 .1-1 .9.5zM213.3 900l-1.7-1.1 .2-1.3 1 .5zM212.5 884.6l1.1-.9 1.2.2-.9.7zM243.1 886.1l-1.6 0-.3-1.5 1.6-.1zM250.9 881.8l-1.6-.6-.6-1.6 1.5.7zM240.2 879.6l-.5-1.7 .9-.7 .5 1zM226.2 888.8l-1-.9 .2-.9 .6.6zM188 884.7l-.6-1.2 .4-.7 .4.6zM197.3 874.3l-1.6 0 .3-1.2 1-.2zM247.2 861.6l0-1.3 .8-.3 .2.9zM197.4 871.8l-1.4-.1-.5-.8 .9-.1zM193 879l-2.2-.3 0-2 1.6.5zM225.6 871.3l-.9-.8 .3-1 .7.6zM224.3 869.3l-.8-1.8 1-1.5 .8 1.6zM180.9 882.9l-2-.9 .9-1.8 1.9.7zM241.5 901.5l-1.5.2-.6-1.2 1.2 0zM250.7 877.3l-1.5-.8-.3-1.5 1.2.8zM222.1 878.7l-1-1.3 .3-.9 .7.6zM193.7 880.9l0-1.5 .8-.7 .1 1zM224.2 866.2l-1.9-1.1 1.1-1.2 1.3.5zM216.4 878.6l.1-1.4 1.1-.9-.1 1.4zM184.8 865.2l-.7-.8 .5-.7 .5.5zM191.3 877l.8-2.2 2.1.6-.6 1.9zM193.4 899.3l-1.8-1.2 .4-1.8 1.5.9zM204.9 896.1l-1.7 0-1.2-1.3 1.7.1zM235.2 866.3l.5-.9 .9-.3-.6.7zM243.6 888.1l.6-2.1 1.9-.4-.5 1.8zM213.3 892.5l1.5-.9 1.5.4-1.3.6zM180.8 894.8l.3-2.1 1.8-.3-.3 1.6zM248.4 894.6l1.1-1.6 1.3 0-.5 1zM205.7 884.3l-1.4-.1-.8-.8 1.1 0zM235.2 890.3l-1.5.2-1-.9 1.4-.1zM178.2 872.5l.1-1.6 1.5.1-.2 1.4zM189.3 892.8l-1-1.9 1.7-1.2 1 1.8zM196.7 886.8l-1 .3-.5-.9 .9-.3zM249 890.1l-1.8.4-.8-.8 1-.3zM188.7 899.7l-2 .1 .2-1.6 1.5-.4zM223.1 875.4l1.2-.5 .7.5-.7.3zM230.3 875.1l-1.5-1.6 1.2-1.8 1.3 1.5zM193.7 901.2l-.9-.8 .7-.6 .9.5zM243.6 873.6l.9-1.8 1.2-.1-.2 1.2zM212.8 865.5l-1.6 1.2-1-1.3 1-.8zM246.4 866.3l-.1-1 .7-.4 .1.7zM228.7 882.3l-1.1-.2-.1-.9 .7.2zM191.5 874.1l-1 .1-.3-1 1 0zM202.3 862.9l-1.6-1 1-1.2 1.2.6zM190.6 877.9l-1.1.1 0-.9 .7-.1zM188.1 875.4l.3-1.4 1.2-.1-.3 1.1zM196.7 881l-1.2-1.1 .4-.9 .9.5zM190.9 898.5l-1.4-.6-.4-1.5 1.4.7zM174.5 891.2l-1-.6 .5-1 .8.6zM178.7 894.1l-.4-1.5 .8-1.3 .4 1.5zM248.6 871.6l.1-1.2 1-.2-.1.9zM174.4 899.9l1.5-1 1.6.7-1.4 1zM206.3 864.8l-1.1-.7 .3-.9 .9.3zM176.6 867.7l-2.2.3-.6-1.7 1.6-.3zM212.2 900.5l.5-.8 .6-.1-.3.6zM208 895.6l1.2-1 1.2.7-1.1.8zM199.8 868.9l-1.5-.1 0-1.3 1.3 0zM245.6 890.6l-.9.3-.4-.4 .4-.2zM221 900.5l-1.9-.5 .2-1.8 1.6.5zM237.1 865l1.2-.9 1.4.5-1.2.6zM239.1 883.9l-.7-1.2 .7-1 .4.9zM183.1 860l-.3-1.3 .8-.7 .4.9z" fill="#4e105a" opacity="0.92" filter="url(#cb)"/>
<rect x="253" y="858" width="78" height="44" fill="#e7e2e0"/>
<rect x="253" y="858" width="78" height="44" filter="url(#spk)" opacity="0.45"/>
<rect x="253" y="858" width="78" height="44" fill="#4e105a" filter="url(#fs)" opacity="0.45"/>
<path d="M301.4 898.7l-.8-1.5 .4-1.2 .7 1.1zM310.8 895.9l-1.1.2-.8-.4 .9-.2zM311.5 866.6l-1.4-.8 .5-1 1 .3zM302.6 873.7l-.6-2.5 2-.2 .4 1.5zM306 877.2l-.6-1 .2-1 .6.9zM318.2 869.8l-2-1 .6-1.6 1.3.6zM306.7 894.3l-1.4.6-.7-.9 .9-.4zM282 864.5l.9-.8 .9.3-.7.7zM289 881.2l.9-.9 .7.6-.5.8zM286.9 875.4l-1 .2-.4-.6 .6-.2zM273 872.7l-1.9-.3-.7-1.5 1.5.3zM319.2 883.1l-1.1-.1-.4-.6 .7 0zM261.5 897.4l-1.4-.5-.4-1.2 1.1.4zM274.3 889.6l-1.4-.7-.6-1.4 1.3.7zM298 866l.9-2 1.4.4-.3 1.3zM285.8 896.3l.4-1.4 1.1-.2-.2 1.1zM304.2 888.1l-2.3.1 .2-1.9 1.6-.3zM255.6 885.5l-1.5-.4 .4-1.3 1.2.3zM255.4 894.9l1.4-.8 1.2.6-1.2.7zM304.8 880.1l-.9-1.3 1.1-1 .8 1.2zM328.9 876.3l.9-.8 1 .3-.8.6zM275.5 865.1l-.5-1.2 .8-.8 .2.9zM283.9 861.2l-.1-1.9 1.4-.3 .3 1.3zM287.4 894.9l.4-1.5 1.3-.2-.3 1.2zM290.7 883.4l-1.3-1.1 .4-1.1 1 .5zM277.8 874.6l-.5-2 1.3-.9 .5 1.4zM318.5 893.3l.8-.5 .6.4-.5.4zM276.1 885.1l.2-2 1.7.2 .1 1.7zM283.8 871.5l-1.5-.9 .5-1.2 .9.6zM264.3 888.2l-1.3.5-.8-1 1.1-.5zM257 864.8l-1.1-.4-.3-1 1 .4zM304.9 880.7l1-.8 .9.3-.6.6zM255.4 881.5l-.1-1.2 .8-.5 0 .9zM326.6 863l-1.4-1.4 0-1.6 1 1.1zM279.4 877l-1.2-.8 .2-1.5 .9.9zM317.3 874.7l1.7-.8 1.5.6-1.4.7zM264.5 873l-.9 0-.4-.5 .6 0zM322.2 894.6l-.5-1.3 1.1-.3 .5.9zM325 886.9l-1-.5-.3-.9 .8.5zM300.4 861.1l-2.4.9-.8-2.4 2-.3zM311.8 865.2l-1.7.1-.9-.9 1.3-.2zM305.3 897.6l-.5-1.9 1.1-1.1 .3 1.4zM318.4 861.6l-.5-.9 .3-.7 .4.6zM282.9 878.8l-.9-1.6 1.2-.6 .7.9zM262.6 880.7l-1.6.1-.5-1.1 1.1-.2zM290.6 900.2l-1.4-.7 0-1.4 1.1.6zM299.3 879.8l-2.2-.2-.7-2 2 .3zM287.5 875.5l-1.1-.3-.2-1 .9.3zM292 879.3l-.7-.5-.1-.7 .6.4zM288.1 899.4l-1-1.6 1.2-1 .9 1.1zM324 892.4l.8-1.2 1.4-.1-.8 1zM263.1 891.3l1.5-.9 .9.6-.7.7zM256.3 890.6l-.9-2.3 2-.8 .9 1.9zM320.8 865.2l-1.7-1.5 .6-1.7 1.2 1.2zM324 899.4l-.8-.8 .4-.8 .7.6zM293.4 876.3l-1.4.1-.5-1.1 1.2 0zM314.4 865.9l-1.2.5-.7-.9 1-.4zM279.2 862l-1.7-.5-.4-1.4 1.3.5zM316.7 873.8l.5-.7 .7-.1-.4.6zM329.4 863.3l-1.1.7-.9-.9 1-.6zM300 900.8l-1.7-.7 .2-1.6 1.6.5zM257.4 885.4l1.6-1.4 1.6 1-1.3 1.1zM292.2 860l-.1-1.7 1.3-.2 .1 1zM319 876.9l-2.3-.3 .1-1.9 1.6.2zM269.4 879.1l-2.1 0-.5-2 1.9.2zM308 894.6l1.4-1.4 1.2.5-.7.8zM286.8 901.9l-.8-2.2 2.2-1 .7 2.2zM323.4 875.4l-1.3-.9 .2-.9 .8.3zM321.5 900.5l-.4-.8 .3-.6 .3.6zM273.7 890.9l0-.9 .7-.7-.1.9zM295.3 870.6l-1.9.4-.9-1 1.2-.6zM303 892.1l-1.3-.9 .5-1.1 1.1.5zM264.9 862.4l-1.1-.6-.4-1.1 1 .6zM273.5 860.3l1.4-.7 1.4.3-1.3.5zM305 861.7l-1.5.3-.8-.9 1.1-.3zM299.4 863.3l-1.9.6-1.5-1 1.7-.4zM291.6 879.2l1-1 .7.8-.6.8zM318.7 881.7l0-1 .7-.6-.1.9zM305.3 887.5l-1.9.3-.6-1 1-.4zM297.7 892.6l.5-1.1 1.2-.2-.5 1.1zM283.5 893.9l-1.5 0-.5-.9 1-.1zM306.3 864.5l1.7-1.2 1.7 1-1.6 1.2zM276.2 864.5l.9-1.6 1.9-.1-1.1 1.4zM292.1 863.8l.7-1.2 .8 0-.3.8zM279.6 886.2l-.5-.8 .2-.9 .5.8zM323.4 889l-2-1.5 1.1-1.8 1.7 1.1zM322.1 899.1l-1.9 1.1-1.1-1.5 1.4-.6zM298.2 902l-1.4-1.3 1.1-1.5 1.1 1.2zM292.3 877.4l-.7-1.8 .8-.9 .5 1zM270.8 863.6l-1-1.2 .2-1.5 .8 1.2zM269.8 893.5l-1.3 0-.5-.9 1 0zM271.4 880.1l-1-1.3 .3-1.5 .7 1.2zM318.4 885.2l-.2-1.5 .8-1.1 .2 1.3zM306.1 880.8l-.9-1.4 .5-.9 .5.8zM257.3 886.6l-1.2-1.3 .3-1.1 .9.7zM280 899l.6-1.4 1.3-.2-.5 1.2zM286.2 885.8l-1.5.3-.6-.9 .9-.3zM295 900l.7-1 .8 0-.3.7zM271.1 861.8l0-1.3 1.2-.4-.2 1.2zM298.6 901.1l.3-1.4 1.1-.2-.1 1zM276.4 885.4l-.8-.7 .4-.7 .6.4zM260.3 860.9l-.1-1.3 .9-.6 .1 1.1zM292.8 861.2l1.5-1.4 1.6.5-1.2 1zM329.5 898.9l-1.3-1 .4-1.1 .9.5zM256.2 865.6l1-2 2.1.8-1.1 1.8zM293.8 892.7l-1.5.7-1.3-1 1.4-.4zM275.7 900l.4-1.3 .9.4 0 1zM273.1 860.2l-.3-1.5 .8-.7 .1.9zM259.9 881.7l.1-1 .8-.5-.2.9zM313.4 898.9l-1.3.1-.8-.8 1.1 0zM322.2 901.5l-1.6-1.6 1.3-1.8 1.1 1.6zM324.9 883l.3-1.4 1-.3 0 1zM328 876.3l.5-1.1 .8-.2-.2.7zM263 898.8l-1.5-.8-.5-1.4 1.4.6zM319.2 862.4l-1.7-.6-.4-1.6 1.5.5zM280.6 893.8l-.2-1.4 .7-1.2 .1 1.3zM257.6 895l.5-.8 .6-.1-.3.6zM271.4 880.6l-1-1.3 .2-1.3 .9 1zM260.8 898.2l.5-1.5 1.2-.4-.4 1.2zM259.4 901.4l-1.4-1.4 .2-1.6 1 1.1zM285.6 867.8l-.3-1.2 1-.2 .3.9zM257.4 891.7l-.9 0-.6-.5 .8 0zM290 891l-.4-1.1 .5-.9 .4 1zM282.1 868.8l1.2-.9 .9.6-.7.6zM265.4 885.2l-1.5 0 0-1.3 1.3-.2zM276.7 887.1l.3-1.8 1.3.4 .2 1.3zM274.4 871.7l0-1.4 .8-1 0 1.2zM253.4 867.6l0-1.1 .7-.6 .1.8zM306.2 879.8l-2.2-.5 .8-1.5 1.6 0zM306.6 882.5l-.5-1.1 .7-.7 .5.8zM304.4 885.8l-1.2.8-.7-.9 .8-.8zM275 901.5l-1.8-1.3 1.3-1.5 1.6 1zM327.9 896.2l-1.1-.4 .1-.8 .7.1zM319.9 879.5l0-1.1 .6-.7 0 .9zM280.9 880.1l.4-.8 .6-.2-.2.6zM286.4 875.9l.7-1 1.2-.2-.8.8zM257.1 891.2l-1.6-.4-.2-1.3 1.2.2zM314.8 880.3l-.1-1.6 .9-.6 .2 1zM277.8 878.6l-1.2-.6 .1-1.2 1.1.4zM292.7 859.9l-1.8 1.1-.7-1.5 1.2-1zM290.4 873.1l-2.2-.7 .7-1.8 1.6.5zM258.2 896.3l-.1-1.3 .6-.5 .2.7zM278.8 877.6l-1.4-.1-.6-1.3 1.4.2zM264.2 892.4l-1.5.5-.8-1.1 1.2-.5zM280.5 860.8l1.5-1.3 1.9.7-1.5 1.1zM299.2 887.2l1.5-.9 1.4.5-1.2.7zM263.7 888.3l1.1-.5 1.2.4-1.2.4zM307 862.6l1.2-1.4 1.7-.2-1.2 1.2zM281.2 892.6l-.4-1.9 1.3-1 .3 1.5zM304.6 884.7l.9-1.1 1 .7-.6.7zM269.8 895.2l.5-2.2 2-.1-.4 1.8zM298.8 882l-1.3.6-1.2-.7 1.2-.5zM266 885.9l-.2-1.8 1.1-.5 .3 1zM289 880.6l-.2-1.5 1.2-.8-.1 1.3zM268.6 897.4l-1.1-1.1 .2-.9 .7.5zM300.9 887.8l-1.6-1.2 .4-1.7 1.4 1zM262.7 898.3l-1.6-.8-.6-1.5 1.5.7zM322.3 873.2l-1.9-1.1 .5-1.7 1.5.6zM322.7 897l0-1.5 1-.2 .2 1zM316.8 882.5l.4-1.7 1.5-.8-.5 1.5zM289 895l-1.7 0-1.2-1.3 1.7.1zM264.3 890.1l-.9-1.5 1.4-.7 .5 1.2zM276.9 867.7l-1.6.8-1.3-1.3 1.5-.5zM330.2 874.2l-1.9-.6-.4-1.4 1.4.3zM305.9 878.5l-2.1.9-.7-1.8 1.4-.5zM276.5 892.3l.4-1.2 .9-.6-.3 1.1zM273.1 860.6l1.6-2 1.4 1.5-.9 1.6zM263.9 862.7l-.9-.6-.1-.9 .7.6zM274.4 875.4l-1.3-.2 .1-1.2 1 .1zM319.8 898.2l.1-2.3 1.9.1 .1 1.6zM294.1 900.2l-1.6 1.4-1.3-1.5 1.4-1.4zM291.7 860.7l-.3-1 .7-.7 .1.9zM314 891.2l-.9-.4 0-.6 .6.1zM291.4 901.7l-1.3.3-.5-1.1 1-.2zM289.8 860.4l-2.1.2-.6-1.3 1.3-.4zM313.7 878.3l.9-.5 .8.4-.8.5zM282.4 879.2l.4-1.7 1.4-.6-.3 1.5zM279.8 887.3l-.3-2.1 1.8-.6 .1 1.6zM326.2 867.7l-1.3 0-.2-1.1 1-.1zM315.3 896.2l0-1.2 .7-.8 0 1.1zM291 874.2l-1.8-.6 .4-1.6 1.3.5zM319.2 870.4l-1-.2-.3-.7 .7.1zM299.2 902l-.4-1.5 1.2-1 .4 1.5zM276.7 889.7l0-2.2 2.1-.1-.1 2zM322.4 864.1l-1.3-.3-.1-1.1 1 .2zM285.3 892.4l1.3-1.6 1.6.5-1 1.3zM305.2 861.9l1.7-1.6 1.5 1.2-1.2 1.4zM254.7 882.4l-.2-1.2 .7-.3 .3.7zM302.5 878.8l1.3-1.3 1.6.7-1.3.9zM315.2 874.3l-1.6-1.5 .4-1.7 1.3 1.1zM325.3 892.6l.3-1 1-.4-.4 1zM319 879.4l1.4-.8 1.4.4-1.2.7zM273.3 875.3l1.2-1.5 1.7 0-1.1 1.1zM324.5 870l.7-1.1 1.1.6-.7.8zM294.8 865.5l-1-1.6 1.1-.9 1 1zM256.4 878.7l.3-1.7 1.3-.9-.2 1.6zM278.9 884.4l1.8-1.4 1.5 1.3-1.4.9zM298.8 899l-2 .7-1.2-1.6 1.8-.5zM301.2 869.7l-2.1-.4-.7-1.9 1.8.6zM296.1 898.6l-.9-1.4 .5-1.3 .7 1.1zM297.1 877.1l.2-1.6 1.4-.3-.3 1.3zM256.2 883.9l-.3-2.2 2-.9 .3 2.1zM327 896l1.1-2.2 1.7 1-.6 1.7zM322.8 878.7l-1.5.2-.7-1.1 1.2-.2zM297.4 863l-.4-.8 .3-.8 .5.7zM310.6 879.5l.6-.8 .6.4-.3.6zM282.8 885.6l.3-1.7 1.1-.3-.2 1zM290.6 883.9l-1.1-1.6 .5-1.6 .9 1.3zM283.8 861.8l-.5-1.7 .9-.9 .3 1.1zM311.3 884.2l1.2-.7 .9.4-.8.5zM321.9 877.8l.8-1.7 1.3-.5-.5 1.3zM268.3 861.3l-2.2-.4 .2-2 1.9.2zM328.9 866.7l-1.7-.3-.2-1.5 1.5.1zM308.9 875.4l-1.2-1.5 .3-1.8 .9 1.5zM292.4 865.8l-1-.6 .4-.7 .6.2zM272.6 878.4l-1.7.8-1.2-1.1 1.4-.7zM284.9 898.7l-1.8 0-.1-1.8 1.6.1z" fill="#4e105a" opacity="0.92" filter="url(#cb)"/>
<path d="M306 896.5L330 896.5" stroke="#000" stroke-width="1.6"/>
<text x="10.5" y="928.4" font-size="18" text-anchor="start" fill="#000">L</text>
<text x="99.55" y="917.71" font-size="7.6" text-anchor="middle" fill="#000">DMSO</text>
<path d="M43.4 920.5L151.9 920.5" stroke="#1a1a1a" stroke-width="1.3"/>
<text x="43.4" y="929.62" font-size="7.95" text-anchor="start" fill="#000">LV-NC</text>
<text x="153.7" y="929.62" font-size="7.95" text-anchor="end" fill="#000">LV-PTK6</text>
<text x="257.15" y="917.71" font-size="7.6" text-anchor="middle" fill="#000">Rapamycin</text>
<path d="M200 920.5L310.5 920.5" stroke="#1a1a1a" stroke-width="1.3"/>
<text x="202" y="929.62" font-size="7.95" text-anchor="start" fill="#000">LV-NC</text>
<text x="312" y="929.62" font-size="7.95" text-anchor="end" fill="#000">LV-PTK6</text>
<rect x="14" y="932" width="78" height="43" fill="#e7e2e2"/>
<rect x="14" y="932" width="78" height="43" filter="url(#spk)" opacity="0.45"/>
<rect x="14" y="932" width="78" height="43" fill="#781a74" filter="url(#fs)" opacity="0.45"/>
<path d="M39.1 958.1l-1.8-.6 0-1.5 1.4.3zM75.3 969.8l0-1.1 .8-.3 .2.8zM15.7 966.6l-1.3-.1-.4-1 .9.1zM57.1 958.2l-.3-1.1 .7-.2 .4.6zM38.2 943.8l-2.4-.4 0-2.3 2.3.4zM31.1 968.6l-1.9.1-.1-1.6 1.4-.2zM43 968.3l0-1 .6-.2 0 .5zM44.1 947.4l-.5-2 1.1-1.3 .4 1.6zM25.3 962.9l1.8-1.1 1.5.9-1.4.8zM25.4 969.7l-1.5-.4-.1-1 .9.1zM14 972.8l1.1-.9 1.4.4-1.2.6zM19.7 949.4l-1-1.1 .3-1.3 .8 1zM64.6 970.3l-1.7.8-1-.9 1.1-.8zM36.3 943.4l-.9-1.6 1.4-1 .6 1.3zM72.9 935.1l.7-1.5 1.2.5-.3 1.2zM55.6 937.4l-.9 0-.5-.7 .8 0zM78.5 956.4l.5-1.2 1.2.3-.4 1.1zM47.9 950l-.5-.9 .7-.4 .5.6zM49.4 962l-1.1-1.1 .4-1 .8.6zM48.1 962.9l-1-.7 .7-.9 .9.6zM75.8 939.6l-1.1.2-.7-.4 .8-.2zM72.8 959.5l.6-.8 .9-.1-.5.7zM21.5 969.6l1.2-.8 .8.6-.6.6zM66.7 968.2l.5-1 1-.2-.5.8zM18.7 939.2l-1.6.1-.8-1.1 1.3-.1zM57.4 956.3l-1.4.4-.7-.9 .9-.3zM89.1 950.3l-1 .2-.8-.6 1-.1zM65.7 957.4l-1-1.1 .8-.8 .7.7zM74.1 955.2l1.7-1.1 1.8.9-1.7 1zM75.4 963.4l-1.8-1.3 .4-1.4 1.2.7zM51.5 947.1l-.8-2.2 2-.9 .9 2zM65.5 973.5l-.2-1.3 .6-1 .1 1.2zM21.7 964.1l-.3-1.5 1.4-.4 .2 1.3zM65.8 959.2l-.3-2 1.1-1.4 .2 1.7zM78.5 964l-2.2.2-.5-2.1 2 0zM27.6 945.5l-1.8-.3 .3-1.4 1.2.1zM73.9 957.5l-.3-.9 .4-.7 .3.8zM53.3 932.8l1.3-.6 1 .4-.9.5zM17.4 938.2l-.7-1.2 .7-1 .6 1zM64.7 956.8l-1.9 1.1-.9-1.9 1.7-1zM38.5 957.5l-.4-1.9 1.6-.4 .5 1.5zM73.4 941.2l-.8-1.4 1.1-.5 .5.7zM63.4 959.1l-.3-1.2 1-.6 .2 1zM25.3 952.2l.3-1.1 .9-.6-.3 1zM37.3 948.9l1.2-1.2 1.2.4-.7 1zM76.9 944.4l-.8-.5 .1-.7 .5.4zM14 937.8l.8-1.4 1.6.1-1.1 1zM54.6 970.2l1.9-1 1 .7-.9.6zM33.9 948.8l.7-1 .8.2-.4.6zM33.2 943.4l1.7-1.1 1.7.2-1.4 1zM37.2 948.6l-1.1-1.1 .3-1.5 1 1.1zM42 948.1l-.6-1.3 1-.9 .6 1.1zM16.8 968.2l1-1.2 1.6-.1-1.1 1zM45.7 966.1l-1.8 0-.5-1.6 1.6-.1zM35.7 948.7l-1-1.7 .7-1.3 .7 1.2zM67.8 942.2l-1.4-.3-.2-1.3 1.2.3zM27.4 969.1l-1.6-1.2 .3-1.2 .9.6zM64 956.3l-1.9-.6-.4-1.7 1.7.5zM46.5 948.6l-.9 0-.3-.5 .6-.1zM61 937.3l-1.1-1.4 .7-1 .8.8zM27.6 967.5l.7-1.6 1.4.2-.5 1.1zM27.1 950.8l-.7-1 .5-.8 .6.7zM82.5 968l1.2-1.6 1.5.6-.7 1.4zM24.1 954.5l.9-1.5 1.6-.2-1 1.2zM53.9 973.2l0-1.9 1.3-.4 .2 1.3zM88.3 966.9l-1.8-.1-.3-1.3 1.2-.1zM34.8 965.3l.8-.9 1.1.3-.8.7zM63.7 944.5l-1.2-.3 0-1 .9 0zM62 949.2l-.1-2 1.2-.3 .4 1.1zM82.3 941.9l-1.4.1-.8-.7 1.1-.3zM66.9 942.1l-.4-1.1 .6-.8 .4.9zM72.6 965.8l-.8-1.4 .8-.9 .4.9zM58.8 972.2l.7-1 1.2-.1-.7.8zM73.8 953.3l-1.5-1 .2-1.3 1 .7zM65.9 953.6l-1.3.5-.6-1 1-.6zM29.9 954.7l.6-.8 .7-.1-.4.6zM48.9 938.2l-.8-1.7 1.4-1.1 .5 1.5zM52.4 944.5l-1.4-1.5 .2-1.9 1.4 1.4zM82.1 963.8l-1.4-1.1 .7-1.4 .9 1zM58.5 964.7l-1.3-.5-.2-1 .9.4zM75.8 949.8l-1 .3-.5-.5 .6-.3zM87.4 947.9l.8-1.8 1.8-.4-.9 1.5zM73.1 940.5l-.5-.8 .3-.5 .3.4zM85 940.8l-2-.7-.3-1.9 1.8.7zM41.9 960.7l-1.3.5-.7-.8 .8-.3zM46.9 942.6l-.6-1.1 .2-.9 .5.7zM77.8 959.1l.5-.8 .6.1-.2.6zM14.6 941.3l.8-.8 1 .1-.7.7zM54.1 949.1l1-.6 .9.5-.9.5zM77.7 934.2l-1.7-.7 .5-1.4 1.2.4zM67.4 944.4l1.2-1.7 1.5 1-.9 1.5zM74 967.2l-.7-1.2 .8-.9 .5.9zM55.3 952.5l.2-1.3 .9-.1 0 .9zM72.7 970.1l.6-.8 .8.1-.5.7zM49.9 942.8l-1.1.3-.8-.5 1-.3zM26.9 962.1l-1.4-1.5 .2-2 1.2 1.5zM80.4 941.5l-1-.1-.4-.8 .9 0zM56.8 940.9l1.5-1.5 1.2 1-.8 1.2zM46.6 955.1l-1.6.2-1.1-.9 1.4-.1zM82 955.3l-.9-1.8 .8-1.2 .5 1.1zM64.5 943l-1.8.6-.7-1.2 1.1-.5zM21.1 972.8l-.1-1 .7-.5 .2.8zM75.4 956l.8-1.6 1.5-.1-.6 1.3zM55.8 942.2l-1.3-.9 .5-1.3 1.1.7zM16.7 946.7l-.8-.7 .2-.7 .5.4zM76.5 973l.9-1 1.2-.2-.8.9zM60.5 935.9l.5-.9 .7-.1-.3.6zM66.4 958.8l-1.9.8-1.3-1.4 1.6-.3zM52.8 971.3l-.4-.9 .3-.8 .3.8zM51 947.7l-1.2-.5 .3-1.2 1 .5zM43.7 957.7l-2 0-.9-1.1 1.3 0zM44.6 963.6l-.7-1.6 .5-1.4 .6 1.3zM86.7 940.2l-1-1.2 .2-1.2 .9.9zM80.1 937.3l-.6-1.4 .9-1.1 .5 1.3zM80.3 945.4l1.6-1.3 1.5 1.2-1.4.9zM24.2 961.6l1.3-1 1.5.3-1.2.9zM38 961.8l1.1-1.7 1.3.5-.5 1zM25.2 942.7l-1.1-.8 .2-.9 .7.4zM40 951.5l-1.1.1-.3-1 .9 0zM82.4 968.5l-2.1-.5 0-1.8 1.7.4zM39.6 950.3l-.8-.8 .1-.8 .6.5zM46.7 975l-1.7-.9 1-1.8 1.2 1.4zM76.4 972.3l-1.6-1-.1-1.2 1.1.5zM58.6 974l-1.8-1 1-1.4 1.1.7zM80.8 939.6l1.4-.8 1 .8-1 .6zM70.2 945.7l-2.2.3-.5-1.7 1.5-.1zM76.3 937.6l-1.7 1.1-1.2-1.2 1.3-.7zM41.2 959.6l-.3-1.6 .8-.6 .2.8zM19.2 936.6l-.6-1.1 .8-.7 .5.8zM26.3 938.9l-.7-1.6 .7-.9 .8.9zM65 957.7l-.5-.9 .4-1 .5 1zM49.4 944.1l-.1-1.7 1.3-.7 .1 1.4zM16 967.4l-1.3-.4-.3-.8 .8.1zM79.5 943.1l1-1.2 1.2.1-.7.9zM44.4 944.4l-1.6.4-.8-1.2 1.3-.2zM91.5 966l-.9-.6 .1-.7 .5.3zM82.8 962.6l.8-1.5 1.3.6-.5 1.2zM15.5 973.3l-.4-1.1 1-.4 .3.8zM89.8 956.1l-.3-.8 .3-.7 .2.7zM39.7 957l-.4-1.8 .9-1 .4 1.3zM69 970.7l-1.1-1.7 .9-1.5 .9 1.4zM20.5 955.5l-1 .8-.8-.8 .9-.7zM55.2 965.8l1.2-1.5 1.9.1-1.3 1.2zM44.5 944.1l-1.7-.1-.6-1.4 1.5 0zM57.9 970.3l-.2-1 .6-.8 .1.9zM69.6 946.6l.9-1.8 2-.4-1 1.6zM39.3 950.4l1-1.2 1.4-.3-1 1zM23.2 951.5l-1.7 0-1-1.1 1.5 0zM87.4 970.5l-.8-2.1 1.8-.8 .7 1.7zM65.5 972.2l.7-1.1 .9.5-.4.7zM48.2 964.2l-1-2.4 2.2-.8 1 2zM16.7 943.5l-.8-1.5 1.2-1.1 .6 1.4zM81.3 961.2l.1-1.2 .8-.3 0 .7zM37.4 943.5l1.4-1.4 1.7.2-1.2 1zM83.7 943.1l-.7-1.3 .5-.8 .6.7zM70.9 955.7l.3-1.8 1.4-.8-.3 1.5zM73 963.5l-1.1.1-.5-.5 .7-.1zM79.5 959.7l.2-1 .8-.1-.1.7zM75.2 955.3l-.9-1.1 .3-.8 .6.5zM84.9 962.8l-2 .6-1.1-1.3 1.5-.3zM37.2 948.6l-1.8.1-.7-1.2 1.3-.2zM20.3 959.9l-1.1-1.2 .9-1.1 1 1zM54.7 951.8l.1-2.3 1.7.5 .1 1.4zM42.2 939.8l-2-.1-.1-1.4 1.1 0zM73.4 942.3l1.1-1.2 1.5.1-1 1.2zM22.7 937.8l1.7-1 1.3.8-1.2.7zM65.8 944l-.5-2 1.6-.8 .3 1.6zM63.6 959.1l.2-2.1 2 0-.4 1.6zM66.8 971.7l.2-2.1 2-.2-.5 1.7zM48.9 966.9l.3-1.6 1-.4-.1.9zM20.7 949.5l-.9-.7 .2-.9 .6.5zM84.2 967.5l-1.9-.9 .7-1.7 1.3.8zM83.2 966.8l-2.4-1 1-2 1.8.7zM37 974.1l-1.1.5-.4-.8 .7-.4zM35.3 950.2l.6-1.2 1.2-.4-.6 1.2zM51.1 955.6l-1.4-.2-.4-.9 .9 0zM80 965.8l-1.7.5-1.2-1 1.5-.4zM35.5 974.3l-.9-.4-.4-1 .9.5zM18.2 957.8l-.8-1.9 1-1 .6 1.1zM27.4 934.7l-.9-.5 0-1 .7.5zM39.7 935.8l-1.1-1.1 .5-1 .9.6zM33.7 964.7l-.6-.8 .2-.7 .4.6zM64 952.4l-2.1 0-1.2-1.4 1.7.2zM47.2 956.8l-1.7-.8-.4-1.7 1.5.8zM20 964.3l-2.1-.7-.2-2 1.8.7zM53.6 961.7l-.6-1.4 1-.6 .4.8zM44.9 961.4l-.1-1.1 .7-.5 .1.8zM38.9 971.3l.6-1.7 1.5-.1-.4 1.4zM79 953.2l-1.2-1.2 .8-1 .8.7zM82.9 954l-1.2.5-.6-.8 .9-.5zM44.3 961.9l-1.5-1.1-.2-1.6 1.2.9zM43.4 959l-1.7.3-.4-1.4 1.3-.3zM17 964.5l-1.5-.9 0-1.2 1 .5zM77.3 949.9l-1-1.1 .2-.9 .6.6zM76.5 949.5l-1.7-.2-.7-1.1 1.2.2zM82.4 971.9l.3-1.3 .9-.1-.1.8zM48.9 966.7l-1.4-1.9 1.6-1.4 .9 1.6zM19.8 953.6l0-1.4 1.1-.1 .1 1zM23.9 950.7l-1.9.7-1.6-1 1.7-.3zM42.1 951.8l1.6-1 1 .5-.7.9zM29.6 936.6l.2-1.4 1.3-.1-.3 1.1zM81 963.2l.2-1.5 1.1-.6-.2 1.2zM88.9 939l-.1-.9 .6-.5 .1.7zM87.3 939.6l-1-.2 0-.8 .8 0zM57.6 971.5l-1.3-.4 .6-1 1.1.1zM71.4 935.9l-1.2-.6-.2-.8 .8.3zM19 949.8l1-.5 .8.4-.8.5zM25.8 971.4l.7-1.1 1-.1-.5.8zM89.5 944l-.9-1.6 .5-1.5 .7 1.4zM77.6 953.6l-1.1.7-.6-.8 .6-.5zM40.9 973.6l-.1-1.6 1.5-.7 0 1.6zM59.8 961.6l.6-2.4 2.2.6-.6 1.9zM75.4 968.8l-.9-.9 .4-1.3 .8 1zM15.7 939.4l.3-1.4 1.1-.6-.3 1.2zM66.4 939.5l-1.3.4-1.2-.5 1.3-.4zM80.9 960.3l-1.3-1 .4-1.6 1.2 1.1zM33.1 943.9l-1.4-.1-.2-.9 .9-.1zM78.2 955.6l.4-1.6 .9-.3 0 .9zM56.1 961.2l-1.9.2-.6-1.3 1.3-.4zM18.3 950.3l0-2 1.8.1-.1 1.5zM54.2 958.8l-1.5.6-.5-1.1 1-.6zM71.1 950.5l-1.7 1.3-1.5-1.3 1.6-1.1zM84.4 943l-1.1-1.4 .8-1 .9.8zM37.5 963.3l-.3-1.7 1.4-.1 .4 1.2zM90.9 946.5l-.9-1 .7-.8 .6.6zM38.5 957.2l-1-.8 .6-.9 .8.5zM81.1 972.6l-.8-1.1 .5-1 .7.8zM75.7 969.4l.2-1.2 .9-.2-.1.8z" fill="#781a74" opacity="0.92" filter="url(#cb)"/>
<rect x="93" y="932" width="79" height="43" fill="#ebe5e4"/>
<rect x="93" y="932" width="79" height="43" filter="url(#spk)" opacity="0.45"/>
<rect x="93" y="932" width="79" height="43" fill="#781a74" filter="url(#fs)" opacity="0.45"/>
<path d="M131.1 956.6l.6-1.3 1.2.1-.5 1zM121.9 950.3l-.9-.6-.1-1.1 .8.6zM143.3 947.5l-.6-.9 .3-.7 .4.6zM169 946.7l1.4-.7 1.3.6-1.2.5zM149.6 944l-1.1-.6 .6-.9 .7.5zM122.2 968.6l1.2-1.1 .9 1.1-.9.6zM109.9 959.5l-.1-.9 .6-.4 .1.6zM105.1 949.4l-1.7.2-.9-1.1 1.3-.1zM169.6 948.6l-1.3-.4-.3-.8 .8.1zM167.3 969.9l-.7-1.2 .4-1.2 .6 1.1zM106.4 958.9l.1-1.3 1.3-.2-.2 1.2zM126.1 953.7l-1.4-.2 .2-1.1 .9.1zM163.6 974l-.2-1 .6-.4 .2.6zM104.2 953.6l-1.3.5-.6-.9 1-.5zM137.8 966.7l0-1.9 1.4.3 .1 1.1zM132.8 946.8l.8-1 1 .6-.7.9zM97.5 948.5l-1-1.6 .4-1.7 .9 1.5zM167.7 953l-.9-.5-.2-.9 .8.4zM171.2 960.5l-1.4-1 0-1.1 1 .5zM125.8 938.5l-.8-1.6 .9-1.1 .8 1.1zM101.7 962.2l-1.4-1 .4-1.2 .8.6zM158.7 952.8l-1.4-.8 0-1 .9.3zM106.7 965.3l-1.8.6-1.2-1 1.4-.5zM116 952.1l-1.3-.2-.5-.9 1 .1zM141.1 966.3l.3-.9 .6 0-.1.6zM138.6 952.3l-.5-1.7 1.4-.8 .1 1.4zM96.9 945.2l-1.3-.1-.6-.8 1-.2zM117.4 972.5l1.4-.7 .8.6-.8.6zM126.7 946.8l.9-1.3 .9.9-.4 1.1zM108.9 959.8l-1.8.1-1-.9 1.3-.2zM164.1 943.9l-.8-1.8 .5-1.5 .7 1.4zM93.2 967.9l1.3-1.2 .9.9-.6 1zM147.1 958.1l.4-1.1 .8.5-.2.7zM98.2 943.4l-1.8-.3-.3-1.3 1.2 0zM99.8 944l-.4-1.9 1-.8 .4 1.1zM151 973.1l0-1.2 .8-.6 0 1zM109 969l-.8-1 .7-.6 .7.6zM105 960l-1.2-.3-.2-1.2 1 .4zM123.9 947.6l-.6-1.5 .5-1.2 .6 1.2zM163.6 967l-.9.4-.5-.5 .5-.3zM133.6 956l.4-2 1.8 0-.3 1.5zM127.1 964.4l.3-1.8 1.2-.1 .1 1.2zM113.9 945.6l-1 .2-.7-.7 1-.2zM114.3 973.8l-2.1.2-.4-2 2-.2zM159.3 949.7l-.7-1.3 .4-1.1 .5 1zM163.4 951.5l.7-1.9 1.2-.2-.1 1.2zM124.5 940.3l-2.1.3-.5-1.3 1.2-.5zM166.9 941.5l1.5-1.8 1.5 1.1-.9 1.2zM110.5 967.6l-.9-1.1 .5-.8 .6.6zM113.6 955l-1.3 0-.1-1.2 1 0zM101.5 969.1l-1.7-.7 .6-1.3 1.3.1zM167.9 950.3l-1.6.9-1.4-.9 1.5-.9zM146.2 963.7l-1.5-1.2 0-1.3 .9.7zM97.4 956.2l0-1.8 1.1-.9 0 1.3zM125.2 971.6l-1.2-.1-.3-1.1 1 .2zM121.6 939.8l.8-.7 .8.6-.7.6zM123 951.9l.7-.8 .7.3-.4.5zM124 950.4l-1-.3 .1-.9 .8.3zM102.1 937.4l.4-1 .8-.4-.3.8zM116.5 958.8l1.7-1.3 1.5 1.2-1.4 1.1zM162.6 941.1l-.7-1.5 .8-1 .4 1zM107.8 974.5l-2.5-.5 .9-1.8 2-.2zM117.8 968.7l-1.5.6-.9-.6 .9-.5zM150.7 968.8l-.9-.7 .3-.9 .6.5zM163.1 940.8l-.2-1.5 1.1-.6 .1 1.1zM167 961.6l.5-1.1 1.1-.1-.5.9zM158.9 934l-1.9.4-.7-1.3 1.2-.4zM106.7 965.3l-1.4-1.4 .5-1.8 1 1.4zM161 937.4l-.7-1.1 .6-1 .5 1zM125.9 955.3l-1.6.4-1-1.3 1.6-.4zM134.8 972.3l-1 .3-.6-.7 .9-.2zM171.3 968.4l-1.2-1.3 .3-1.4 1 .9zM152.3 940l-1.1.3-.7-.6 .8-.1zM152.3 940.6l-.9-.4-.2-.7 .6.2zM135.2 940.5l1.1-1.9 1.4 1-.5 1.6zM108.8 948.9l.8-1 1 .1-.5.8zM153.3 967.5l-1.8-.1-.5-1.8 1.7.3zM135.9 943.6l-.7-1.3 1.1-.4 .8.8zM110.5 939.4l.1-2 1.7-.4 .1 1.8zM160.3 953.3l.3-1.6 1.3-.8-.5 1.4zM124.5 973.7l-1-.6-.2-.8 .8.3zM98.5 975l-.4-.9 .8-.2 .4.6zM147.4 958.3l.6-1.9 1.6-.3-.4 1.5zM148.2 970.9l-.1-1.4 1-.8 0 1.2zM117.9 955l-.3-1.1 .5-.5 .3.6zM110.9 945.8l1-1 .9.4-.5.7zM138.5 955.8l-1-.4 .4-.8 .9.1zM123.6 971.9l.5-1.4 1.3-.4-.4 1.2zM100.8 951.2l-1.8.4-1.1-1.3 1.6-.1zM161.2 937.4l-1.2.5-.5-.9 .7-.5zM169.5 961l-.8-1.3 .8-.9 .6.9zM152.3 949.5l-1.3-1.3 .4-1.2 .8.7zM119.6 943.9l-.5-1.1 .6-.5 .4.6zM109.6 961.8l-2.1-.1 0-1.6 1.2 0zM159.1 957.1l-.6-.8 .3-.6 .5.4zM148.7 959.4l-1.5-1.1 .3-1.4 1.1.7zM147.5 970.4l-.3-1.9 1.7-.7 .2 1.7zM114.1 971l-1.5-.2-1-1.1 1.4.3zM166.2 972.2l-1.1-.7 .5-1.1 .8.7zM132.6 949.5l-1.5.4-.1-1.2 1-.5zM111.9 951.7l-1.8 0-.9-1.4 1.5.2zM104 973.4l-1.6.1-.8-1 1.2.1zM171.2 970.6l-1.4-.1-.4-.8 .8 0zM163.3 953.8l.9-1.4 1.1 0-.4 1.1zM169.5 968.8l-1.6.1-1.2-.9 1.5-.1zM104.9 966l-.2-1.1 .8-.5 .1.9zM134.6 943l1.6-.9 1.2.8-1.1.8zM166.1 968.1l.4-1.4 1-.2-.2 1zM130.8 957.4l-1.4.5-1.1-.9 1.3-.4zM149.6 969.7l1.2-1 1.6 0-1.3.8zM114.3 965.7l-.4-1.4 1.1-.9 .1 1.2zM134.1 957l1.3-.6 .8.6-.8.5zM107.1 936.2l.2-1.9 1.6-1-.4 1.8zM150.6 954.5l-.1-1.6 1.3-.7 .1 1.4zM136.9 941l.7-.9 .9.6-.6.7zM143.2 935.4l-.3-.9 .6-.6 .2.8zM119.5 958.7l-1.8.2-.4-1.6 1.5-.1zM139.6 972l-.2-1.6 1.1-1.3 0 1.6zM110.6 961.2l.4-.8 .7 0-.3.6zM138.1 946.9l-1.9-.9 .1-1.8 1.7.6zM157.9 946.9l-1.1-.2-.2-.7 .7 0zM152.6 934.1l.7-1.9 1.4.7-.2 1.4zM145.8 942.8l.7-2 1.8.2-.6 1.4zM109.2 964.4l-1.5-.6 0-1.2 .9.4zM148.3 972.8l1.1-1.7 1.7.1-.8 1.4zM135.4 972.6l-.3-1.2 1 0 .2.7zM124 960.8l-.2-1.6 .8-.8 .2 1.1zM112 936.3l-1-.1-.3-.8 .9 0zM110 965.2l.6-.9 .9-.1-.5.7zM168.1 944.4l-1-.7-.1-.9 .7.5zM105.5 939.6l-1.3-1.4 0-1.7 1.1 1.2zM140.9 956.7l-1.6.2-.5-1.2 1.1-.3zM156.8 946.9l-1.3-.6-.5-1.1 1.2.4zM110.6 942.9l-1.4.4-.8-.9 1.1-.3zM149.8 974.4l-1.9.3-1.2-1.4 1.7-.2zM111.4 959.5l.6-1 1.1.5-.7.8zM167.2 953.9l0-1 .6-.5 .1.8zM95.3 939.4l-.6-1.3 .6-.9 .4.9zM167.8 968.2l-1.8-.3 .1-1.7 1.6.2zM165.1 962.5l-2.2-.4 .2-2.1 2.1.3zM160.2 942.2l0-1.2 1.2-.4-.2 1zM101.5 967.6l0-1.9 1.5-.4 .3 1.5zM146.5 969.6l-1.2.2-.6-.8 1-.2zM155.1 938.8l-1.9-.3-.9-1.4 1.6.3zM115.3 938.9l-1.5.1-.5-.9 1-.3zM154.2 969.8l-1.3.5-1-.8 1.2-.4zM134.2 955.9l-1-.4-.2-.9 .8.4zM99.4 939.4l.4-1 1-.4-.5.9zM129.6 936.5l.2-2.3 1.8.2 .1 1.6zM106.9 934.6l-.3-1 .8-.3 .2.7zM123.4 938.9l1.2-1.3 1.6.1-1.1 1zM113.4 934.5l-.3-1.9 1.5-.6 .1 1.3zM147.7 966.9l-2.2-.3-.4-1.9 1.8.3zM138.9 952.2l-2-.2-.8-1.7 1.8.3zM158.1 960.4l.6-2.2 2 .1-.6 1.7zM128.8 944.4l-.8-.7 .3-.6 .4.4zM116.5 963.6l-.9-1.8 .7-1.5 .5 1.4zM152 938.9l.8-.4 .8.3-.8.4zM149.3 972.5l.3-1.5 1.2.2-.1 1zM139.3 964.2l.4-2 1.2-.6-.1 1.3zM157.8 971l1.1-1.1 1.4.8-1.2.7zM95 936.7l-1.7-.4-.3-1.2 .9.4zM148.6 947.6l-1.8-.7-.4-1.6 1.4.6zM105.9 975l-1.1-.7 .6-1.1 .8.8zM120.3 974.4l-.6-2 .9-.8 .6 1zM107.8 959.9l1.1-1.4 1.4.7-1 1zM160.5 934l-1.5-.1-.4-1.4 1.4.1zM98.3 952.7l-1.4-.5 .1-.9 .9 0zM105.8 970.8l.1-1.9 1.2-.7 0 1.3zM142.5 944.9l-1.6-1.1-.2-1.6 1.4.8zM150.3 957.4l-1.4-.5-.4-1.2 1.1.4zM97 941.1l-.5-1.5 .6-1 .4 1.1zM139.1 956l.2-1.2 .8.4 .1.8zM127.7 944.5l-1.5-1.4 .8-1.2 1.2.7zM140.9 967.7l1.3-1.7 1.5.7-.8 1.2zM135.1 951.8l-2.2-.8 .5-1.8 1.4.6zM139.8 947.6l.4-1.1 .7-.1-.1.6zM161.4 954.5l-.9.4-.8-.7 1-.2zM133.1 936.7l-1.8-1.2 .5-1.5 1.2.7zM109.8 974.6l-1.6-.3-.7-1.3 1.3.4zM147.4 956.1l-1.3-.7-.4-1.3 1.2.5zM153.7 963.9l.6-1.5 1.2-.4-.5 1zM120.8 941.1l-1.4.2-.8-.7 1.1-.3zM142.4 959.9l.8-1.3 .9 0-.4.8zM163.7 970.2l-1.7.3-.7-1.2 1.2-.3zM116.2 964.2l-1.2.2-.5-.9 .9-.1zM171.3 956.4l-.8-1.1 .3-1.2 .5 1zM95.3 962.3l-1.6.3-.7-.9 .9-.1zM144.4 967.4l-.5-1.4 1.3-.3 .5 1.1zM107.2 964.3l-1.4-.4-.6-1.3 1.2.5zM130.7 935.9l-.6-.8 .3-.9 .5.8zM114.4 966.4l-2.3-.3 .3-2.1 1.6.4zM98.6 953.3l-.7-.9 .6-.7 .5.7zM132.6 941l-1.5-.5 .3-1 .8.2zM139.6 970l-1 .8-.8-1.1 1-.5zM98.3 959.9l-1.3-.8 .5-1.3 1 .8zM134.5 941.9l-1 .3-.2-.9 .7-.3zM120.4 939.9l.4-.9 .9-.2-.4.8zM118.5 949.3l-1.1-1.6 1.2-1.3 .9 1.4zM122 959.9l1.2-.8 1.1.3-.9.8zM146.7 957.4l-.2-.9 .5-.4 .2.5zM94.3 972.7l.8-.4 .5.3-.4.3zM157.9 952.9l-.5-1.5 .8-.9 .3 1zM140.4 952.4l-.9-1.2 1-1 .5 1zM160.4 951.1l-1.2.9-.5-1.1 .7-.6zM131.2 967.9l.8-.9 .9.7-.7.9zM131.7 963.1l-1.4.5-.5-1.2 1-.2zM129.8 953.2l-1.7.4-.1-1.4 1.1-.4zM116.8 950.6l-.2-1.6 1.3-.2 .1 1.1zM169.3 974.7l1.2-.8 1 .2-.7.8zM167.6 956l-1.3-1.6 .8-1.7 1 1.4zM152.7 961.1l.5-1.4 1.1.4-.3.9zM117.2 962.6l-1.6.6-1.2-.8 1.2-.6zM155.7 944.8l1.2-.8 1 .4-.9.6zM127.7 966.4l1.3-1.2 .9 1.2-.8.8zM160.6 952.2l.2-1.7 1.2-.6-.1 1.3zM154.2 949.2l-1.1-1.9 1.2-1 .8 1.1zM94.1 952l-.1-2 1.5 0 .4 1.5zM164.5 939.3l.7-1.2 1.2-.3-.6 1zM131.2 959.8l.1-1.1 .9.3-.1.7zM169.8 959.8l-1.7-.6-.3-1.4 1.3.5zM93.5 966l1.2-1.8 1.7.6-.9 1.3zM138.8 962.7l.9-1.7 1.3-.1-.5 1.1zM112.4 971.2l-1.4-.6 .5-1.2 1.2.4zM161.2 950.2l-2.1-.3-.9-1.8 2 .2zM137.2 965.3l-.7-.8 .2-.8 .5.6zM110.4 940.8l-.8-1.1 .6-.6 .5.5zM130 968.5l-1.9.8-1.2-1.5 1.7-.4zM93.7 949.2l.9-.9 .9.6-.7.7zM168.2 967l.5-1.3 1.1-.4-.5.9zM139.8 944.3l1.7-1.5 1 1.4-.9 1.1zM138.4 935.5l1.3-1.1 1.2.4-.9.7zM120.9 966.5l-1.4-1.5 .3-1.4 .9 1zM162.5 958.8l-.7-1.6 1.3-.5 .4 1zM162.3 959.3l-2.5.4 .1-2.2 1.7-.4zM147.8 955.8l-1.4-1.6 .9-1.5 1.1 1.3zM145.1 971.2l0-1.3 .9-.7 0 1.1zM99.7 975l-1.1-.7 .7-.9 .9.5zM127.7 966.2l-.2-1 .8-.3 .1.7zM133.3 971.9l-.1-1.4 1-.2 .1.8zM137.5 956.6l-1.6-.2 .1-1.6 1.3.5zM118.4 941.6l-.9-1.1 .8-.8 .7.8zM167.1 965.6l-1.2-.2-.4-.7 .8.1zM108.8 941.1l.8-1.4 1.7.3-.9 1.5zM167.9 934.5l-1-1 .5-.9 .6.6zM118.6 941l-.1-2.1 1.4-1.1-.1 1.7zM104.9 963.6l1.7-1.3 1.5 1.1-1.4 1.1zM169.4 947.2l-1.2-1 .3-1 .8.5zM167.2 940.7l-1-.2-.4-.7 .8.1zM168.6 957.7l1.1-1.5 1.2.9-.7.9zM123.2 956.4l-.8-.9 .4-.6 .5.4zM110.4 952.8l.7-.9 .8 0-.4.7zM158.8 949.4l1.6-.9 1.1.5-1 .7zM104.6 948.7l-1.7.1-.5-.9 .9-.2zM138.5 953.5l-.9-1.8 .6-1.1 .8 1zM159.4 938.5l-.2-1.9 .9-.8 .2 1.1zM126.6 942.2l-1.2-1 .4-1.3 1.1.8zM146.5 955.8l1.3-.6 .8.4-.7.4zM111.5 959.8l-1.3.7-.6-1.2 1-.7zM108.4 936.5l-.4-1 .6-.4 .3.6zM159.9 933.8l1.6-1 1.2.7-1 .8zM104.1 959l1.4-1 1 .6-.8.7zM111.6 955.9l-1.8.4-1.4-1 1.7-.4zM151.6 933.5l-1.1-.1-.7-.7 .9.1zM110.7 947.5l.7-1.4 1.5-.2-.7 1.3zM126.6 952l-1.1-1.5 1.3-.9 .9 1zM117.6 940l-.9.1-.6-.5 .7-.2zM102.4 944.4l-1.1.6-.4-.9 .8-.6zM120.8 955.9l-1.1.7-.9-.8 1-.5zM131.3 940.3l-1.5.3-.8-.8 1-.4zM151.9 970.6l-2 .1-1.2-1.4 1.8 0zM137.1 953.5l-1.3-1.5 .9-1.6 .9 1.4zM142.5 939.1l-1.7-1 .4-1.2 1.2.3zM164.9 946.5l-1.5-1 .1-1.2 .9.6zM144.3 970.2l-1.2.5-.7-.9 1-.4zM126.5 950.9l0-1.6 1.4-.3 0 1.4zM96.7 945.3l-1.7-.1-.7-1 1.2 0zM164.8 960.2l-.9-.1-.5-.6 .8.1zM139.6 970.7l-1.5-1.1 .7-1.3 1.1.8zM158.7 963.4l1.4-1.1 1.2.5-.9.8zM165.3 959l1.6-1 1.4.4-1.2.9zM118.5 946.3l-.4-1 .8-.6 .4.8zM117.1 973l-1.4.1-.8-.7 1-.1zM124.3 937.9l-1.1-1.3 .5-1.5 1 1.2zM167.1 952.3l-1.9.6-.3-1.5 1.1-.6zM106.6 950.8l.5-1.6 1.6.3-.6 1.4zM168.7 939.2l-2.2.5-.7-1.8 1.7-.5zM102.9 969.7l-1.7.7-.9-1 1.1-.6zM126.5 956.6l.8-.7 .6.4-.4.4zM113.1 941.4l-1.5-.4-.6-1.2 1.4.2zM101.4 952.7l-1.8.9-1.3-1.5 1.7-.6zM101.5 951.8l-1.1.3-.7-.9 1-.2zM158.2 958.9l1-1.7 1.7.1-.9 1.2zM115.1 968.3l-.9-1.7 .6-1.5 .5 1.4zM98 947.4l.3-1.9 1.6-.8-.5 1.7zM108.4 949.6l-2-.7 .5-1.7 1.5.4zM137.1 945.9l-1.3-.7 .1-1.4 1.1.7zM165.4 938.2l-1.9.1-1.3-1.2 1.7 0zM130.3 946.5l.2-1.1 .8.1 0 .7zM102.8 950.6l-2.3-.3 .3-2.2 1.8.5zM110.7 936.9l-.1-1.8 1.1-1-.1 1.4zM170.6 946.1l-1.1-.6-.2-1.2 .9.7zM98.8 960.1l-1.4-.1-.5-.9 1 0zM115.4 936.1l1.1-1.2 1 .9-.8.8zM121 941.8l.8-1.9 1.4 0-.3 1.3zM99.3 935.4l-.4-1.2 1-.1 .5.9zM155.9 949.7l.1-1.1 .7-.5 0 .8zM169.3 974.1l-2.5.3 .1-2.2 1.8-.3zM134 938l-1.7-.8-.5-1.8 1.5.9zM121.2 961.4l-.4-1.2 .8-.4 .3.7zM96.6 934.9l0-1.8 1.5-.3 0 1.3zM157.2 968.5l-.2-2.3 2.2-.7-.2 2zM124.6 958.6l.5-1.6 1.3 0-.2 1.3zM147.8 959.7l.9-1.5 1.5.2-.9 1.1zM167.5 960.1l0-1.2 .9-.4 0 .9zM165.3 951.1l-.7-1.3 .9-1 .5 1.1zM116 953.9l1.4-1.2 1.2.5-.8.7zM135.6 948.2l-1.4-.2-.7-1 1.2.2zM106.5 968.6l.5-1.9 1.3-.2-.1 1.2zM108.6 952.3l-1.5-.5 .5-1.3 1 .4zM128.8 964.2l-.5-1.6 1-.5 .7 1zM114.7 954.3l-.7-.6 .1-.8 .5.5zM126.4 970.4l0-1.1 .6-.6 .1.8zM108.8 940l.3-2 1.7-.4-.1 1.8zM154.5 933.8l-1.3.6-1.1-.8 1.2-.4zM101.9 950.2l-1.7-.2 .3-1.3 1.1 0zM130.5 955.8l.6-.9 1-.1-.6.7zM152.3 959.2l-.7-.8 .3-.8 .6.6zM111.9 941.7l-.6-1 .3-.9 .6.8zM157.2 941.3l1-2 1.9.9-1 1.7zM140.2 965.7l0-1.4 .8-.5 0 .8zM107.8 956l-2 0-1.2-1.4 1.8-.1zM154.7 942.1l-1.9.8-.9-1.5 1.4-.8zM161 935.4l-.3-1.1 .7-.9 .2 1.1zM99.8 973.9l-2.5 0 .3-2.2 1.8.1zM131.3 934.3l.3-1.7 1.4-.6-.3 1.5zM136.2 966.8l-.5-1.5 .7-.8 .5.9zM93 956.9l.4-1.9 1.7.6-.8 1.4zM135.7 945.9l-.9-.8 .4-.9 .6.6zM152.8 971.4l.9-1 1 .8-.7.9zM155.4 956.3l-2-.3-.9-1.4 1.6.2zM165.4 938.9l-.6-1.8 1.2-.7 .6 1.1zM108.9 934.6l-1.2 0-.3-.8 .8-.1zM131.4 951.5l1.1-.8 1.2.1-.9.7zM153.9 961.9l-1.1.6-.7-.9 .9-.4zM159 961.1l.4-1.3 1-.1-.2.8zM160.6 947.4l-.9-1.5 1.3-.8 .5 1.2zM162.5 973.2l.7-1 .8.2-.3.6zM152.8 956.8l-.4-.9 .5-.5 .4.6zM125.1 935.3l-1.7-.2-.4-1 .9.1zM100.3 943.2l-2.1-.2-.4-1.7 1.7 0zM148.6 966.1l-1.3.3-.4-1 .9-.4zM122 949.5l.6-1.1 1 .2-.4.9zM100.8 952.4l0-1.5 .9-.6 .1 1zM108.1 953.2l-.4-2 1.6.1 .6 1.3zM162.9 961.1l-.9.1-.3-.4 .5-.2zM171.1 960.3l-1.6-.4-.3-1.5 1.4.5zM131.8 942l.3-1.7 1.4-1-.3 1.6zM106.5 961.6l.3-1.4 1-.3-.1.9zM121.5 967.6l1.5-1.5 1.4.9-1 1.1zM107.6 952.5l-2-.4-.7-1.7 1.7.3zM122.5 949.2l.5-1.9 1.7-.5-.4 1.7zM139.8 957.6l-1.1-1.3 1.1-1.2 1 1.2zM167.6 935.2l0-1.7 1.5-.7-.1 1.5zM97.1 940.7l.6-2.2 1.6.9 0 1.8zM116.1 966.5l-1.1-1.7 .6-1.5 .9 1.2zM135 944.4l.4-1.1 1.1-.3-.4 1zM111.3 973.4l-.8-.5 0-.9 .8.4zM119.7 940.3l-1.4-.6-.2-1.3 1.1.6zM172 933.6l-1.7.8-1.2-1 1.4-.9zM128 943.5l-.2-1.9 1-.8 .2 1.1zM122 947l1.5-.9 1.5.4-1.4.6z" fill="#781a74" opacity="0.92" filter="url(#cb)"/>
<rect x="173" y="932" width="78" height="43" fill="#d3d3d5"/>
<rect x="173" y="932" width="78" height="43" filter="url(#spk)" opacity="0.45"/>
<rect x="173" y="932" width="78" height="43" fill="#781a74" filter="url(#fs)" opacity="0.45"/>
<path d="M244.3 939.5l1-.6 1.1.4-1 .6zM210.8 939.2l1.7-1.7 1.2 1.3-.9 1.3zM214.1 966.6l-1.6-.7 .5-1.3 1.1.4zM214.9 957.9l-.4-2.1 1.5-.7 .4 1.4zM247.6 946.2l-1.3-.6 0-1 .8.4zM229.9 957.5l-.4-.9 .7-.3 .3.5zM238.7 949.6l-.7-1.9 1.3-1 .7 1.4zM200.4 953.9l-1.5-1.2 .4-1.2 .9.7zM222.6 937.9l.1-1.2 .8-.3 0 .8zM182.8 950.5l.2-1.1 .9-.8-.2 1.2zM245.3 974.2l-.6-1.9 1.2-.7 .7 1.1zM245.1 944.1l-.8-.8 .2-.8 .6.4zM174.9 950.2l.3-1.7 1.2.4 .1 1.2zM178.5 945.2l-.6-1.4 1.3-.7 .6 1.3zM220.8 938.2l-1-1.8 .9-1.3 1 1.2zM201.6 955.4l-1.9-.2-.8-1.4 1.5.2zM199.5 952.6l-.3-.9 .3-.7 .2.8zM184 963.5l-.8-.7-.1-1 .7.7zM218.9 957.1l-.3-1.6 .8-1.2 .3 1.4zM225.5 965.9l.7-1.7 1.5-.4-.7 1.3zM186.5 961l-.8-.9 .4-.7 .5.5zM198.9 973l-2-1 0-2 1.6 1zM210.8 948l1.1-1.4 1.2.4-.6.9zM190.8 937.5l.4-1.4 1.2-.8-.5 1.2zM245.5 954.8l1.1-.6 1 .6-1 .4zM205.3 947.7l-1.3-.9 0-1.5 1.1.9zM193 944.5l-1.2.7-.6-.8 .6-.5zM178.4 966.4l1.2-1.3 1 .9-.7.8zM186 969.7l.6-2 1.7-.1-.3 1.6zM226.3 960l-1.9.8-1.2-1.1 1.3-.5zM233.4 971.9l-1.1.8-.7-1 .9-.7zM221.8 941.9l-1.5-1.4 .8-1.4 1 .9zM234.5 943.4l.4-1.6 1-.2-.2.9zM248.6 953.7l-1.1.4-.6-.9 .9-.3zM179.3 944.2l.8-1.6 1.3.1-.5 1zM181.4 970.7l0-.9 .5-.6 0 .8zM243.2 947.3l-1.2-.8 .2-1.1 .8.6zM179.1 946.5l-.4-1.9 1-1.1 .3 1.4zM184.4 962.5l.7-1.1 1.2-.2-.7.9zM212.5 936.6l-.2-1.6 1.1-.9 .1 1.3zM175.4 972l.1-2 1.5-.9-.1 1.7zM232.2 937.3l-1.7-.9 .2-1.6 1.3.7zM233.7 937.8l-1.2-.2 .3-1 1 .1zM184.8 959.7l0-2.2 1.7.4 .3 1.5zM189.7 967.2l-.1-2.2 1.7-1-.1 1.9zM194.3 949.5l-1.4-.9 .6-1.1 1 .5zM211.1 968.4l-.6-1.5 1.1-.8 .6 1.2zM177.2 944.9l.1-1.4 1.1.2 .2 1.1zM184.1 937.3l.2-1 .6-.3-.1.7zM211.1 970.9l.9-.9 .7.6-.5.5zM239.6 944l-.8-1.5 1-.7 .5.8zM193.4 970.2l-1.1-.5-.5-1 1 .5zM232.9 952.3l-2-1.3 1.4-1.6 1.8.9zM248.4 967.2l-.4-1.1 .4-.6 .2.6zM195.8 975l-2-.9 1.1-1.6 1.4.7zM235.1 960l-1.3-1 0-1.2 1 .6zM174.6 940.1l.6-.9 .8.4-.4.8zM241.8 942l0-1.2 1.1-.6-.2 1.1zM193.9 971.5l-1-.2-.2-.7 .7.1zM190.3 961.7l.9-.9 .6.7-.5.7zM177.3 940.1l.9-1.8 1.9-.3-1 1.6zM225.7 963.9l-.5-1.4 1.1-.3 .5.9zM227.4 956.4l.4-.8 .8-.2-.4.7zM190.4 973.3l-1.1-.6-.2-1 .9.5zM236 969.5l-.5-1 .5-.6 .4.6zM204.4 964.4l-.2-1.4 1-.3 .4.9zM177.5 942.3l-.5-1.1 .6-1 .3 1zM248.2 942.3l-.5-2.5 2.2-.6 .5 2.1zM232.8 960.3l.8-1 .7.2-.4.6zM230.8 947.3l.2-1 .9-.4-.2.9zM223.8 934.8l-.9-1.4 .6-1.4 .8 1.2zM234.3 964.6l0-1.3 1-.5-.1 1zM190.8 962.5l-2.5 0 .3-2 1.6-.1zM178 939.4l-2-.8 0-1.8 1.4.7zM200.2 971.3l1.1-1 1.3.2-1 .7zM199.6 971.9l-1.9-.3-.5-2 2 .4zM198.6 936.5l1.5-.5 1 .5-1 .5zM185.6 942.6l.3-1.2 1.1-.1-.3 1zM244 974.5l-.1-1.8 1-.7 .1 1.1zM211.8 968.6l-2 .3-1.2-1.4 1.7-.1zM192 940.8l-2 .1-.3-1.6 1.4-.2zM177.1 951.9l-.1-1.6 1-.6 0 1zM202.1 947.8l.8-.9 .7.3-.4.6zM213.5 958l-1.7-.9-.3-1.7 1.5.8zM226.1 948.4l-1.7.7-.7-1.6 1.4-.5zM245.9 934l.6-1.7 1.4.3-.2 1.4zM219 962.6l-1.1-1.7 .5-1.3 .7 1zM200.9 954.5l-1.1-1.5 1-1.1 .9 1zM191.5 973l-1-.7 0-.9 .8.5zM234.5 966l.5-2 1.4.3-.2 1.1zM194 973l1-1.9 1.4.6-.4 1.3zM177.4 937.2l.6-1.4 1.2 0-.5.9zM182.7 970l.5-1.1 .9-.4-.4.9zM247.8 949.3l-.6-1.3 .9-.7 .4.9zM183 966.7l.5-1.4 .9 0-.1.8zM175.8 933.9l.2-1.1 .8-.7-.2 1zM217.1 967.6l-1 0-.7-.6 .9.1zM219.6 948.2l1.4-.9 .9.7-.8.6zM243.5 964.7l.6-1 .9-.3-.5.8zM208.2 950.7l0-1.1 .7-.5 .1.8zM188.7 943.5l1.2-.9 1.3.2-1 .7zM188.4 944.8l-1.6-.5-.1-1.3 1.2.3zM198.1 963.9l.7-1.1 1.2.4-.7 1zM186.4 973.1l1.1-1.8 1.5.7-.7 1.1zM228.1 942.8l-1-.1-.2-.7 .6 0zM196.6 974.9l-1.9-.3-.3-1.1 1.2-.2zM197.3 972.7l-1 .3-.5-.8 .8-.1zM226.2 959.3l-1.7-.7-.4-1.2 1.1.5zM241.8 965.9l.3-1.9 1.6-.6-.3 1.6zM225.8 967.8l-.2-2 .9-.8 .3 1.1zM173.1 965.3l.7-2 2 0-.9 1.6zM181.7 952.4l1-1.6 1.3 0-.4 1.1zM217.8 962.1l1-.9 1 .3-.7.8zM243.1 960.4l-.5-1.3 .7-1.3 .3 1.3zM202.4 960.8l-.8-.7 .1-.6 .6.3zM222.8 959.8l-1.2-2.3 2.2-1 1.1 2zM185.1 955.9l-2.3.4-.9-2.1 2.1-.1zM191.4 960.7l-1.1-.9 .2-1.2 .8.8zM188 975l-1.2-1 0-1.7 1.1 1.3zM213.3 958.1l.9-1.4 1.1 0-.4 1zM215.5 938l-1.6-1.2-.2-1.8 1.3 1.1zM248.9 942.4l1.1-1 1 .2-.6.8zM194.5 954.2l0-1.6 1-1.1-.1 1.4zM244.9 973.1l-.7-1.2 .4-1 .4.8zM214.5 954.1l-1.1 0-.5-.8 .9.1zM199.7 958.4l-1.8-.8 1-1.2 1.3.3zM191 939.7l1-1.1 1.5.2-1 1.1zM234.5 958.1l.3-.9 .6-.1-.1.6zM248.5 965.3l0-1.8 1.7-.3 0 1.7zM195 948.4l-1.5-1.2 0-1.4 1.2.7zM217 955.1l-1-.4-.4-.9 .8.5zM234.7 945.7l.3-1.6 1.1-.5-.2 1.1zM239.2 948.3l-.5-1 .3-.9 .4.8zM180.6 953.3l-1-2 1.3-1.6 1 1.9zM223.2 964.7l-.5-2.1 1.9-.8 .3 1.9zM234.8 939.2l-1.3-.3-.8-1.1 1.3.5zM186.3 969.5l.1-1.8 1.3 0 .1 1.1zM239.8 975l-.3-1.4 1-.6 .4 1zM211.3 933.1l-1.2.4-.7-1 1.1-.1zM230.5 961.5l-1.9-.4-.2-1.9 1.6.6zM217.4 971.1l-.9-1.1 .6-1.2 .9 1zM191 945.3l-1.1.6-.6-.7 .7-.4zM175.8 963.2l.6-.7 .7.1-.4.6zM179 944l1.2-.6 .8.6-.8.5zM217.9 958.2l1.5-1.1 1.7.4-1.5 1.1zM191.1 939.4l-1.4-1.1 0-1.3 1.1.7zM204.7 974.8l-1.1-1.3 .6-.9 .8.6zM175.2 970l-1.2-.6-.2-1.2 1 .6zM178.6 970l.4-1.8 1.6-.1-.3 1.4zM200.1 953.7l-1.9.8-1.1-1.1 1.3-.7zM180.9 962.4l-.2-2.1 1.8-.3 0 1.6zM248.7 971.9l1.4-1 .9.3-.6.6zM245.8 936.4l-1.1.4-1-.4 1-.2zM231.2 960.2l-.2-1.2 .6-1.1 .1 1.2zM182.1 970.1l-1.4.2-.7-1 1.2-.2zM200.2 956l-1.3.5-.7-.7 .8-.6zM234.5 957.2l.5-1.2 1.1.6-.5 1.1zM244 964l-1.4 0 0-1.1 1.1-.2zM197.1 952.2l.7-1.7 1.8-.2-.7 1.6zM190.9 936.6l.4-1.7 1.4-.7-.5 1.4zM245.9 960.1l.6-1.8 1.3.5-.1 1.4zM197.7 947.4l-1.3-.6 0-1.2 1 .4zM246.1 949.3l-1.8.9-1.4-1 1.5-.7zM228.9 969.4l-1.2-1.7 .7-1.4 1.1 1.1zM244.7 953.8l-1.2-.5-.2-.9 .8.3zM240.2 960.5l-.8-.9 .4-.8 .5.7zM237.9 958.6l-.8-1.2 .3-1 .5.9zM207.1 953.5l.6-2.3 2 .1-.6 1.6zM227.9 959.1l-.4-2 1.3-.8 .5 1.3zM202.5 962.3l.2-2.3 2 .1-.1 1.8zM194.8 949.5l-1.1-1.5 .2-1.6 1.1 1.3zM240.7 952.7l-1-1.2 .1-1.2 .9.9zM213.8 943.6l1.4-1.5 1.7 1.2-1.5 1.4zM179 962l.2-1.1 .9.1-.2.8zM217.4 956.8l-1.9 1.1-1.2-1.8 1.8-.8zM195.6 941.5l.2-2.2 1.9-.3 .1 1.9zM173.6 942.4l1.5-1.2 1.1 1.2-1.1 1.2z" fill="#781a74" opacity="0.92" filter="url(#cb)"/>
<rect x="253" y="932" width="78" height="43" fill="#f0ebed"/>
<rect x="253" y="932" width="78" height="43" filter="url(#spk)" opacity="0.45"/>
<rect x="253" y="932" width="78" height="43" fill="#781a74" filter="url(#fs)" opacity="0.45"/>
<path d="M286.4 945l1-1.5 1.4.8-.9 1zM268.1 936.8l-.1-1.9 1.2-.7 .3 1.3zM322 947.3l-1.4-.8-.6-1.5 1.4.8zM308.4 943l-.1-1.4 .9-.7 0 1zM323.6 934.6l-.9-.9 0-.7 .6.4zM325.3 958.6l1.1-1 1 .5-.7.7zM278.5 935.3l1.6-.8 1.3.6-1.2.6zM269.5 974.3l.8-1.2 1.4-.2-.9 1zM282.2 950.5l-1.5-.8 .5-1.1 1.1.3zM287.1 966.9l-1.3.1-.3-.8 .8-.2zM268 950.3l-1.7-.8 0-1.3 1.2.4zM289.1 942.5l.2-2 1.8.4-.2 1.5zM259 975l-.2-1.6 1.4-.9 .2 1.5zM306.2 953.7l-1.9-.2-.3-1.2 1.2-.2zM285.9 972.6l-.7-.7 .3-.7 .5.4zM292 949.2l-.9-1.1 .2-1.3 .8 1zM263.7 933.6l-.1-1.1 .6-.5 .2.7zM260 968.3l-1.2.2-.4-.8 .8-.2zM293.9 958.7l-1.6.7-1.1-1 1.3-.5zM318.3 941.7l-1.8.3-.7-1 1.1-.3zM285.1 941.9l-.4-1.4 .8-1 .2 1.2zM273.4 962.1l-.5-1.8 1.3-.6 .3 1.1zM276.2 943.8l.4-1.2 .8-.1-.1.7zM286.5 943.9l-1.2-1.8 1-1.2 .9 1zM295.6 968l-1.7.4-.9-1 1.2-.3zM261 972.8l-1.2-.6-.2-1.3 1.1.6zM284.7 960.8l-.3-1.2 .5-.6 .2.7zM291 953.7l-1.7 0-1-1 1.4 0zM276 938.4l-1.3-1.1 0-1.2 1 .7zM280.2 956.4l-1.3-.7-.1-.9 .8.3zM275.5 942l-1.2-1.2 .6-1.2 1 .8zM290.1 967.7l1.8-1 1.1.8-1 .7zM277.5 955.5l-2.1.6-.7-1.6 1.5-.7zM287.1 934.1l-1.9.9-.7-1.9 1.5-.4zM260 954.4l-.9-.1-.2-.6 .6 0zM326.3 969l1-1.1 1.1.3-.7.8zM330.1 934.9l-1.3.6-1.1-.7 1.1-.4zM264.1 950.2l.8-1.1 1-.1-.5.9zM262.9 960.6l-1.7-.2 .1-1.5 1.4.2zM304.7 950.9l-1.9 1.1-.5-1.7 1.2-.9zM312.9 954.4l.1-1.9 1.1-.6 0 1.1zM262.1 969.4l-1-1.6 1.3-.8 .7 1.1zM328.3 946l1-.7 .7.4-.6.4zM275.3 973.8l-.3-1.2 1-.6 .1 1zM301.9 935l-.9-.7 0-1.1 .7.7zM322.6 935.4l-.9-1.4 .8-1.3 .7 1.2zM288.4 948.4l-2 .4-.6-1.4 1.3-.6zM261.4 960.1l.4-1 1-.4-.4.9zM281.1 968.2l0-2.1 1.9-1-.3 1.9zM313.8 944.5l-.9-.3-.5-.8 .9.2zM298.5 934.8l-.6-1.6 1.1-1 .6 1.3zM298.5 945.9l-1.9.5-1-1 1.2-.6zM272.4 950.3l-.5-1.9 .9-1.4 .4 1.5zM278.7 963.3l-1.1-1.7 1.3-.9 1.1 1.1zM305.1 968.9l-.1-1.6 1.2.1 .4 1zM304.1 966l-1.8-.8 .8-1.7 1.4.8zM281.6 934.3l-1.4-1.2 0-1.1 .9.6zM310 942.1l-1-1.8 .5-1.5 .9 1.3zM271.3 946.5l-1.2.3-.3-.8 .7-.2zM269.8 940.6l1-.8 .9.6-.8.6zM280.5 972.1l-2.4.3-.3-2.1 2.1-.5zM315.8 942.8l-1.8-.2 .2-1.7 1.4.3zM267.8 947.9l-.3-1.3 .7-.9 .3 1zM327.5 961l-1 .2-.3-.9 .8-.2zM258.1 949.1l-1.5-.9 .9-1.4 1.4.7zM283.5 969l1.2-1.5 1.4 0-.9 1zM313.4 940l-2-.4-.8-1.3 1.4.2zM287.3 935.7l.4-.9 .7.1-.3.6zM297.4 961.9l-1.6.1-1.1-1 1.4-.1zM275.9 947.4l-.1-1.5 .9-.4 .2.9zM286.2 948l.5-1 .7-.1-.2.6zM259.2 950.3l.9-.5 .8.3-.7.6zM255.2 973.7l.4-1.1 .8.1-.2.7zM307.1 947.7l-2 .6-.8-1.6 1.5-.6zM305.5 963.7l-1.1.8-1.2-.8 1.2-.5zM278.1 970.1l-1.8.6-.9-.7 .9-.6zM260.3 937.2l-1.1-.1 .1-.9 .7 0zM275.4 968.6l-1.4.3-.8-1.1 1.3-.4zM329 940.4l-1.9-.1-.1-1.4 1.3-.2zM323.3 961.6l-1.6-1 .3-1.4 1.2.6zM260.4 952.3l-1.3-1.4 .9-1.1 1.2.8zM327.4 967.7l.2-2.2 1.7-.2 .1 1.7zM288.4 962.3l-.5-1.9 1-1.6 .4 1.8zM313.8 946.1l-1 .2-.6-.7 .8-.1zM323.4 953l-1.2-.4-.1-1 .9.3zM305.9 950.3l-1.5-.2-.6-1.1 1.2.1zM281.6 934.3l-1.3-1 .1-1.3 1.1.7zM301.8 938.5l-1.9-.3 .5-1.6 1.5 0zM290.7 964.1l-1.7-.4-.9-1.3 1.5.4zM281.1 971.9l-1.1.9-.8-1.1 1-.5zM279 970.2l1.4-.7 1.5.6-1.5.5zM320.3 934.1l1.1-.6 1 .6-1 .3zM278 952.2l-1.2.3-.7-.7 .9-.3zM315.7 965.9l.5-1.8 1.2-.1-.1 1.1zM283.7 972.6l-1.7.3-.7-.9 1.1-.4zM277.9 957.6l.8-2.4 2.1.8-.7 1.6zM276.9 961.5l-2 .7-1.5-1.4 1.8-.4zM270.1 942.8l-1.7.1-.3-1.4 1.4-.3zM253.1 957.7l.4-1 .8.2-.2.9zM275.2 957.6l-.1-2 1.4-.7 .3 1.6zM277.1 967.8l1.4-1.4 1.1.8-.7 1.1zM301.3 968.2l-1.3-1.1 .1-1.2 .9.6zM299.9 969l-2-.6 .5-1.8 1.4.7zM259.1 950.5l-1-.4-.3-.9 .8.4zM271.4 938.7l.6-1 1-.3-.5.9zM317.6 953.9l-.2-1.5 1.1-.4 .2 1zM268.4 941l-1.1-.1-.7-.7 1 .1zM330.3 974.4l-1.8-.9 .8-1.5 1.7.4zM269.4 937.6l-.6-1.3 1.1-.6 .4 1zM296.7 946.3l.6-.9 1 .4-.6.9zM326.1 948.4l-2.1 1.1-.6-1.8 1.4-1.1zM309.1 971.7l1.2-.8 1.1.2-.9.7zM286.6 964l-2.1.4-.7-1.6 1.4-.2zM269.2 957l-1.4.8-1.3-.8 1.3-.7zM269.5 943.6l-1.5 1.3-.9-1.4 1-.9zM310 968.9l-2.1-.5 .2-2 1.8.5zM263.8 967.4l-1.9.7-1.5-1 1.6-.7zM290.8 937l-1.4.3 0-1.2 .9-.3zM261.7 941.6l-2.3-.7 .7-2 1.8.5zM256.4 946.2l-.8-.8 .5-.7 .5.4zM271.2 936.1l.9-1.8 1.9.7-1 1.7zM322.8 937.6l.8-1.6 1.5-.2-.7 1.2zM327 957.3l-.2-1.4 1-.1 .2.8zM276.9 936.1l.8-2.1 1.8.1-.5 1.7zM253.8 962l.7-1.3 1 .7-.4 1.1zM302.4 955.9l-2-.9 1.2-1.2 1.5.3zM273.8 966.1l-1.1-.7 0-1 .8.5zM274.2 955.2l-.7-.6 .3-.6 .6.3zM284.7 966.3l-.9-1.1 .3-1 .6.7zM315.8 958.3l-1.9.1-.9-1.4 1.6.1zM264.9 968.4l1.4-1.1 .8 1-.8.9zM262.7 959l-1.2.2-.4-1 .9-.1zM293.3 953.4l.3-1.2 1.1 0-.2 1zM268.5 951.5l-1.4-1.4 .5-1.1 .9.6zM274 959.3l.4-.9 .7-.2-.2.6zM314.2 971.1l-1.8-1.2 1.1-1.8 1.6 1.2zM284.5 968.7l-.9-1.8 1-1.4 .6 1.5zM302.7 934.8l-.8-1.5 1.2-.7 .8 1.1zM314.4 957l-.6-.6 .2-.5 .4.3zM262 957.8l-2-.3-.8-1.4 1.5.2zM256.1 942.8l-1.4-.5-.2-.9 .8.2zM284.8 965.9l-.4-1.6 1-1.2 .3 1.5zM256.2 971.7l-.1-.9 .4-.3 .2.5zM329.9 939.7l-.3-1.7 1-.6 .3 1zM293.7 958.6l1.5-1.4 1.8 0-1.3 1.2zM274.1 943.7l-.7-.7 .3-.9 .6.6zM300.6 969.3l-1.3.1-.7-.7 .9-.2zM307.2 967.8l-1 .5-.4-.8 .7-.3zM285.5 973.6l-.9-1 .5-1 .6.8zM266.1 935.9l-.8-1.2 .5-.9 .7.8zM306.9 969l-.8-1.1 .3-1.2 .7.9zM324.4 960l-1.9.5-1.5-1.2 1.8-.4zM270.1 970.2l-1.4-.2-.1-1.3 1.2.2zM317.8 973.2l.8-.6 1 .1-.8.5zM328 940.1l-2.1-.1-.4-1.7 1.5.2zM313 942.1l-1.7 0-.3-1.2 1.2-.1zM262.3 968.5l1.4-1.4 1.6.4-1.1 1.2zM286.9 959.8l-.3-1.6 .8-.8 .2 1zM280.8 940.7l-.5-.8 .3-.5 .4.4zM260.6 950.2l-1.5-1.1 .7-1.8 1.4 1.2zM298.2 960.3l-1-.6-.2-1.2 1 .7zM294.6 944.8l.8-.9 .9.2-.6.7zM265.3 955.2l-2-.1 .3-1.5 1.6-.4zM301.7 974.5l-.6-.9 .3-.7 .4.6zM268.6 960.6l-1.7.4-1-1 1.3-.4zM325.3 968.8l.4-1.7 1.6-.5-.6 1.4zM309.2 971.4l.6-2.1 2 0-.5 1.8zM307 935.4l.4-.8 .8-.2-.4.7zM253.1 969.4l.9-1.9 1.3 0-.3 1.2zM298.6 956.5l-.8-.9 .2-.7 .5.4zM327.3 946.7l-1.9-.6-.4-1.6 1.6.3zM311.1 948.4l.4-1.8 1.4-.2-.3 1.2zM303.3 937.1l.5-.9 .9.1-.4.8zM283.8 972.5l.2-1.9 1.1-.6 0 1.2zM289.5 948.2l-2.1-.1-.7-1.8 1.9.1zM316.8 958.3l-1.6-1.2 .1-1.6 1.1.9zM287.1 971.4l.7-1.4 1.4.2-.7 1zM320.2 971l.9-.4 .8.4-.8.3zM317.2 943.3l.2-1.2 .9-.7-.3 1zM270.2 961.5l-1.3-.9 .8-.9 .8.5zM276.2 943.2l1.1-1.7 1.3.2-.5 1.1zM255.4 940.6l-1.4-.8 .7-1.3 1.1.7zM329.3 967.4l-.6-.8 .4-.8 .4.7zM284.8 952.8l.1-1.9 1.6-.2 .1 1.5zM322.7 945.3l-1.9-1 .4-1.8 1.4.8zM319.5 970.5l-1.2-1.4 .1-1.3 1 .9zM261.9 956.2l-1.4-1.5 .7-1.7 1.2 1.3zM283.9 956.6l-.8-.7 .1-.7 .5.4zM272.8 959l-1.6-1.4 .9-1.4 1.2.9zM316.2 956.5l-1 .4-.5-.5 .6-.4zM272.4 966.7l-1.4-1.6 .7-1.2 1.2.8zM255.2 960.6l-1.4.2-.8-.6 .9-.2zM311.1 935.7l-1.8-.9 .5-1.5 1.3.5zM299.5 948.5l.2-2.1 1.5-.6 0 1.5zM301.8 937.6l-.6-1.9 1.2-1.1 .6 1.4zM271 938.6l-1.5.4-.4-1 .9-.6zM320.6 970.6l.4-1.3 .9.3-.2.7zM280.6 961.7l-.9-.9 0-.9 .7.5zM272.8 949.6l-1 .4-.5-.6 .6-.4zM257.1 935.4l-.8-.3-.1-.6 .6.1zM303 971.8l1-.9 .6.7-.5.7zM320.2 950.8l-1-.2 .1-.9 .8.1zM302.5 960.3l.4-1 .8 0-.2.7zM268.8 964.8l-1.7.1-.2-1.3 1.2-.2zM268.5 961.5l.4-1.2 .9-.2-.2.9zM319.4 939.8l-1.4-.4-.6-1.3 1.2.5zM306 971.5l-1.7.3-1.2-.9 1.4-.2zM289.9 950.9l-1.4-1.1 .9-1.5 1.2 1.1zM319.9 964.9l-1.5.3-.6-1.1 1.1-.3zM276.7 957.1l1.1-1.5 1.6-.3-.9 1.3zM265.9 970.6l-.1-1.4 .7-1 0 1.2zM308.1 944.1l1.7-.9 1.8.5-1.6.9zM258.5 935.8l-.4-2 1.1-1.6 .4 1.9zM263.1 957.3l.4-.9 .9-.1-.3.9zM316.4 969.2l.1-.8 .8-.4-.1.8zM260.7 952.6l.9-1.3 1.4-.3-.8 1.1zM291.2 951l.1-1.1 .7-.4 0 .7zM278.7 939.1l-1.8-.3-.7-1.1 1.4 0zM280.9 962l-1.8-.3-.9-1.2 1.5.1zM298.2 935.1l.9-.9 1.1 0-.8.7zM305 946.8l-1.6-.2-.8-1.3 1.4.2zM316.5 939.2l-1.7-.4-.4-1.1 1.1.2zM297.3 955.8l-1.2-.1 .1-1 .8 0zM258.3 957.1l-1.7.3-1-1 1.3-.2zM293.3 970.6l1.2-1.5 1.1 1.3-.8 1.2zM258.4 970.7l-.3-.9 .5-.6 .3.7zM311.9 946.9l1-1.1 .7.9-.6 1.1zM259.5 966.7l-1.6.3-1.3-.9 1.5-.1zM321.8 941.5l-.8-.9 .3-.7 .6.4zM306.5 966.2l-1-.8 .3-.8 .6.4zM255.4 952.6l-.1-2.3 2-.2 .1 1.8zM299.4 969.3l1-1.4 1.5-.2-.8 1.2zM313.5 957.5l.5-1.9 1.9.1-.5 1.7zM314.7 970.6l-1.6-.2-.4-.9 .9-.1zM284.8 970.9l-.9-.1-.7-.6 .9.1zM284.9 949l.8-.6 .6.3-.5.5zM298.8 957.6l.6-1.3 1 .2-.3.9zM327.2 938.1l-.4-1.9 1.2-.5 .3 1.1zM286.6 959.2l-.6-1.5 .7-1.2 .5 1.2zM325.2 967.2l-1.7-.3-.4-1 1 .1zM320.6 958.5l1.1-1.6 1.4-.2-.6 1.3zM262.8 973.3l-1.1.3-.9-.5 1-.1zM299.4 952.7l.3-1.2 1-.3-.3.9zM297 944.1l-1-.3-.3-.8 .8.3zM294 938l-2-.6 .4-1.8 1.8.3zM304.6 959.1l-1.4.7-.6-1.1 .9-.6zM295.5 970.1l-.4-2 1.4-1.3 .3 1.8zM292.2 937.6l-.3-1.6 1-1.1 .2 1.3zM299.5 942l-1.7-.7 .5-1.3 1.1.4zM272.2 958.7l-2.2-.1-.9-1.9 2 .2zM311.5 966.9l-1.1-1.4 1.2-1.3 .6 1.3zM304 936l.6-1.1 1-.2-.5.8zM257.6 973l.1-1.4 .9-.4 .1.9zM282.3 934.5l.1-1.1 .7-.4 0 .7zM303.4 974.3l-1.3-.9-.4-1.4 1.2.9zM277.5 961l-1.5-.4-.4-1.1 1.1.2zM321.2 933.6l-1.4 0-.1-1 .9-.1zM298.9 966.5l-1-.1-.2-.7 .7 0zM274.2 975l-.7-.8 .8-1.3 .6 1.3zM287.9 970.6l-.5-1.6 .9-1.3 .2 1.5zM320.8 933.4l1.5-.6 .7.5-.7.4zM283.3 957.5l.6-1.2 1.2-.4-.6 1.1zM282.4 973.6l-1.3-.5-.3-1 1 .3zM287.1 947.8l-1.3-.8 0-1 .8.4zM265.2 938.9l1.2-1.8 1.5.7-.6 1.2zM313.2 956.2l.6-.8 .9.3-.6.6zM282.8 956.1l.3-1.8 1.7.2-.3 1.5zM321.9 962.2l.2-1.4 .8-.4 0 .9zM270.1 959.1l-1 .7-.6-.8 .8-.6zM311.8 947.5l.2-1.5 .9-.6 0 1.1zM300.7 958.8l-1.5-.8-.5-1.5 1.4.7zM328 938.1l-1.8.1-.5-1.4 1.4-.2zM257.7 935.3l-1.2.2-.8-.7 1-.2zM319 949.4l-.9-.4-.1-1 .8.4zM299.9 962.2l.7-.6 .6.2-.4.5zM297 952.3l-.5-1.7 .6-1.3 .6 1.3zM292 940.4l.6-2.4 2.4.5-.7 2.2zM296.2 934.4l-1.7.3-.8-.7 .9-.3zM310.6 937.2l.5-1.5 1.3-.9-.6 1.5zM289.4 940.5l-1.9-.9 .7-1.5 1.2.5zM283.9 959.4l-.9-1.1 .9-1.1 .7 1.1zM322.6 947.9l-1.7-.5-.5-1.4 1.3.3zM302.7 958.6l.4-1.4 1.3-.7-.4 1.4zM310.2 967l.9-1 .9 0-.5.7zM259.6 933.6l-1.4.6-.8-.6 .9-.3zM297.7 950.3l-1.7.4-.7-1.5 1.5-.4zM286.4 936.5l-1-.3-.1-.6 .5.1z" fill="#781a74" opacity="0.92" filter="url(#cb)"/>
<path d="M306 968.5L330 968.5" stroke="#000" stroke-width="1.6"/>
<text x="353" y="852.3" font-size="18" text-anchor="start" fill="#000">K’</text>
<text x="447.65" y="843.01" font-size="7.6" text-anchor="middle" fill="#000">DMSO</text>
<path d="M391.2 845.2L500.3 845.2" stroke="#1a1a1a" stroke-width="1.3"/>
<text x="391.2" y="855.52" font-size="7.95" text-anchor="start" fill="#000">LV-NC</text>
<text x="500.8" y="855.52" font-size="7.95" text-anchor="end" fill="#000">LV-PTK6</text>
<text x="607.5" y="843.01" font-size="7.6" text-anchor="middle" fill="#000">Rapamycin</text>
<path d="M551.5 845.2L659.7 845.2" stroke="#1a1a1a" stroke-width="1.3"/>
<text x="551.5" y="855.52" font-size="7.95" text-anchor="start" fill="#000">LV-NC</text>
<text x="662" y="855.52" font-size="7.95" text-anchor="end" fill="#000">LV-PTK6</text>
<rect x="365" y="857" width="78" height="44" fill="#dfebe2"/>
<rect x="365" y="857" width="78" height="44" filter="url(#spk)" opacity="0.65"/>
<rect x="365" y="857" width="78" height="44" fill="#52248a" filter="url(#fs)" opacity="0.45"/>
<path d="M436.1 871l-.5-1 .3-.7 .4.6zM412.1 889.9l-1.2-1.2 .5-1 .8.6zM386.7 892.3l-1.1-.8 .8-.8 1 .5zM366.2 877.5l.5-1 1-.3-.5.9zM377.1 899.4l-2.2-.8-.7-1.8 1.8.6zM426.7 894.3l-2.4-1.4 0-2.1 1.6 1zM428.7 901l1.5-1.4 1.6.2-1.1 1zM437 893.4l-1.5-2.7 2-1 1.1 1.5zM436.2 873l-1.4.6-.7-1.2 1.2-.5zM371.3 887.8l-2.7-.3-.7-2.4 2.2.5zM411.9 876.7l-2.7.2-1.5-2 2.3.1zM389.6 898.3l-.9-2.6 1.2-2.5 .6 2.6zM407.3 897.1l-2 1.5-.9-1.9 1.3-1.1zM386.4 860.7l-2.1.2-1.4-1.1 1.7-.1zM420.6 859.5l.7-1.9 1.7-.2-.7 1.4zM402 882.3l-1.2-1.5 .7-1.5 1 1.2zM437.1 869.5l1-1.7 1.6-.5-.9 1.4zM378.6 871.7l-1.7-.5-.3-1.5 1.4.3zM393.8 896.5l-1.9-1.7 1.2-2 1.4 1.6zM418.6 873.1l.7-2.8 2.7.3-.7 2.4zM376.9 891.2l-1.4-2.5 1-1.6 1.1 1.4zM372.6 866l-1 .2-.8-.7 1-.1zM386.6 859.5l-1.5-1.2 1-1.3 1.2.9zM367.7 884.6l-1.9-2.2 1.7-1.5 1.7 1.3zM384.8 876l-1.3-.1-.4-.6 .8-.1zM379.8 890.3l.2-2.4 1.5-1.2 0 1.9zM393.9 872.1l-.1-1.4 .9-.2 .2.8zM407 876.5l-1.5-1 .3-1.4 1.2.6zM436.2 860.3l.4-1.6 1.2-.9-.4 1.4zM431.8 866.5l-1.6-1.6-.1-1.8 1.3 1.1zM436.8 892.9l-1.1-.8-.2-1.2 .9.8zM383.4 875.4l-.9-.6-.3-1 .8.5zM435.2 886l.4-1.6 1.3.6-.3 1.1zM431.7 901l-1.1-.7 .9-1.4 .9 1.4zM421.7 865.5l-1 .6-1-.8 1-.3zM387.3 889.5l-.2-1.1 .9-.4 .1.8zM381.2 881.5l1-2.5 2-.5-.5 1.9zM432.9 893.6l0-1.6 .8-.6 .2.9zM405.8 866.7l2-1.8 2.2.7-1.7 1.3zM395.1 883l.1-1.1 1.1-.2-.3.9zM424.6 898.8l-.6-.8 .4-.7 .5.6zM400.3 881.3l-.1-2.2 1.4-1.5 .1 2zM414.1 892.1l-.5-1.7 .7-.9 .4 1zM433.8 888.8l-1.4-1.2 .4-1.5 1.1 1zM442.2 895.1l-1.1-.6 .4-.9 .9.3zM396.6 866.4l-1.8-.4-.9-1.4 1.5.4zM410 880.9l-2-2.2 .9-2.6 1.9 2zM404 886.6l-.4-1.2 .5-.7 .3.8zM427.8 889.7l-1.8-2 .9-2.1 1.7 1.5zM399.6 886l-2.4-1.7 .2-2.4 2 1.3zM380.7 870.4l-2.6.9-1.1-2.4 2.4-.8zM378.9 898.4l-1.6-1.4 1.4-1 1.1.9zM441.5 858.7l-1.3-.7 .1-1 .9.3zM426.6 875.6l-1.4.4-.8-.7 1-.3zM372.4 863.6l-.5-1.1 .4-.8 .4.8zM433.9 892.1l.9-1.1 1 .2-.5.9zM431.3 876.3l.7-1.7 1.2.4-.2 1zM405.7 861.7l-1.2-.7-.1-.8 .7.3z" fill="#52248a" opacity="0.92" filter="url(#cb)"/>
<rect x="444" y="857" width="78" height="44" fill="#dde6de"/>
<rect x="444" y="857" width="78" height="44" filter="url(#spk)" opacity="0.65"/>
<rect x="444" y="857" width="78" height="44" fill="#52248a" filter="url(#fs)" opacity="0.45"/>
<path d="M471.8 884.3l-2.6 1-2.5-1.1 2.6-.6zM460.3 859.9l-.9-.2-.3-.6 .6 0zM504.6 873.1l-1.9.4-.4-1.7 1.5-.2zM456.1 898.5l-1.3-2.2 .4-2.3 1 2zM454.4 869.1l.3-2 1.4.1 0 1.2zM475.6 861l-1.5-.4-.2-1.3 1.2.3zM511.6 870.4l-1.6.5-.7-1.2 1.2-.4zM467.7 862.5l.7-1.9 1.8-.6-.6 1.7zM446.9 867.4l-1.2-2 .9-1.6 .9 1.4zM461.3 895.5l1.7-.9 1 .8-.9.8zM461.6 885.8l-1.5-.9-.3-1.2 1.1.5zM467.3 879l1.3-1.2 1.3.1-.9.9zM493.6 880.2l-.4-1.8 1.6-.2 .2 1.3zM462 885.3l.5-2.6 1.9-1-.4 2zM482.9 870.2l-1.9.2-.9-1.1 1.3-.3zM484.6 871l.5-.9 .7.3-.3.6zM465.2 900.7l-1.8.3-1-1.2 1.5-.1zM455.2 890.9l1.1-1.7 1.4-.3-.7 1.2zM482.1 863.1l.4-1.2 1.1.2-.4 1zM456.7 897l-2.2.4 .1-1.9 1.5-.5zM497.2 864l.9-1.9 2-.7-1 1.8zM513.2 863.3l-1.9-1-.5-1.8 1.6.8zM470.8 896.7l-1.3.4-.8-.5 .8-.3zM490.3 886.3l.1-1.7 .9-.6 0 1zM503.3 891.3l-.3-2.4 1.9-.9 .2 1.9zM508.4 868.2l-1.6-.5 0-1.5 1.3.4zM449.1 898.5l-.7-2.3 1-1.5 .5 1.6zM484.8 899.9l1.3-2.5 2.3-.2-1.1 1.9zM485.1 883.1l1.1-2.2 1.7-.4-.6 1.5zM448.9 870.1l0-.8 .5-.5 0 .6zM479.2 890.8l-2.6.3-1.5-1.5 2-.2zM495 867.3l-2.5.8-1.7-1.8 2.2-.6zM486.1 875.2l1.1-2.2 2.2.1-1 1.7zM514.4 878.9l-.9-2.2 1.9-.7 .9 1.6zM492 869l-2.5-.4-1.5-1.9 2.2.6zM487.1 877.7l-.9-1.3 .3-1.2 .7 1zM445.2 866.1l1.3-2.1 1.9-.1-.8 1.6zM491.5 864.9l2.2-2.6 1.8 2.1-1.3 1.8zM509.5 897.3l1.5-1 1 .5-.8.6zM491.5 882l1.8-2 1.6.6-.8 1.4zM515.9 879.5l-.1-2 1.4-.7 0 1.4zM478.3 892.7l.2-1.1 .7.1 0 .6zM446.3 890.2l-2-.6-.3-1.3 1 .3zM450.8 863l2.3-1 1.4.7-1.3.7zM486.1 862l.3-2.5 1.8-1.6-.5 2.3zM506.6 867l-.9-.9 .7-.6 .7.5zM503.2 882.3l-1.6 0-.2-1.1 .9 0zM517.3 892.2l.1-1.1 .9-.4-.1.9zM460.8 874.7l-.1-1.2 .7-.4 .2.7zM460.3 874.5l.6-1.9 1.4-.8-.5 1.5zM454.2 892.1l.4-1.1 .8-.4-.3.8zM454.5 877.6l.7-1.9 1.8-.1-.7 1.4zM501.4 888l-.7-.8 .4-1 .6.8zM501.8 888.1l1.3-.5 1.2.3-1.2.6zM463.4 885.6l-1.3.3-.7-.5 .8-.3zM456.9 900.2l2.3-1.6 2.7.6-2.3 1.3zM488.5 863.9l-.2-2.7 1.7-1.9 .3 2.5zM511 884.8l.3-1.3 1.2-.1-.3 1.1zM476.3 879.6l-2.1-1.4 .3-1.9 1.4.9zM480.3 896.5l-.9-.2-.1-.8 .7.1zM486.6 883.3l-1.5-.8 0-1.4 1.1.6zM520.1 885.2l-2.4-1.2 .9-1.8 1.7.5zM487.3 885.2l-2.1-.1-.9-1.1 1.3 0zM481.9 892.7l1.3-1.7 1.5.2-.7 1.2zM452.4 859.4l-2.7.5-.7-1.9 1.8-.8zM476.9 864.6l-1.1-3.3 3.4-1.2 .6 3.2zM502.2 885.1l-.9-1.2 .3-1.2 .7.9zM489.8 894.7l-1.1-1.2 .6-1.2 .9.9zM488.5 859.3l1.6-1.4 1.4 1.3-1.4.9zM486.8 884.8l-.6-.8 .1-.5 .4.3zM504.3 888.2l-1.8.3-.4-1.4 1.2-.2zM450.3 895.3l.9-1.6 1.6.4-.8 1.3zM512.6 882.2l-1.2-1.7 .4-2.1 1 1.8zM484.7 879.8l-1.2-.4-.3-.8 .8.2zM483.8 865.5l-1.4.3-.8-.8 1.1-.4zM471 888.8l-2.4-1.4-.3-2.1 1.8.9zM486.6 866.4l.4-2.6 1.4-.8 .1 1.6zM459.6 894.3l-1.4-1.2 .3-1.6 1.3 1zM463.9 899l-.8-.3-.4-.8 .7.3zM447.1 871.3l-2.6 1.2-.5-1.7 .9-1zM473.2 861.6l-1.7.6-1.4-1 1.6-.4zM513.2 874.9l.8-.8 .9 0-.6.7zM507.6 863.7l-.3-1.9 1.2-.7 .5 1.3zM472.1 882.2l-1.2-.1-.1-.9 .8-.1zM455.9 868.2l-1.2-1.3 .9-.9 .7.7zM504.5 872l1.1-1.8 1.3-.3-.5 1.2zM447.7 874l.9-1.5 1.5-.4-.9 1.1zM489.1 869.2l-2.1.7-1.1-.9 1.2-.7zM507.1 885.2l-.4-1.8 .8-1.5 .3 1.6zM497.8 865.2l2-1.3 2.2.4-1.9 1zM494.2 890.2l.3-2.2 1.4-1-.2 1.7zM446.6 888.9l-.1-2.7 1.8-.9 .4 1.9zM460.2 884.4l.7-2.9 2.7-.6-.7 2.6zM455.2 898.3l-2.5.3-1.5-1.3 1.9-.3zM452 859.5l-1.2-.6-.2-1.3 1.1.6zM497 885.6l-1.9.9-1.2-1 1.3-.7zM473.6 882.2l-.6-1.2 1-.8 .4 1zM507.7 873.3l-1.5-1.8 .9-1.8 1.4 1.4zM447.8 889l1.3-2.4 1.8-.4-.8 1.5zM480.9 886.9l-1.4-.4-.1-1.1 1 .2zM478.4 888.2l1-1.9 1.3-.1-.3 1.2zM477.1 881.9l.1-2.1 1.7-.3-.1 1.6zM474.6 885l-.5-1.2 .7-.5 .4.6zM519.6 888.2l-1.9-.5-.8-1.5 1.7.3zM451.6 895.5l.8-.9 .7.3-.4.5zM493.9 887.5l-.1-1.7 .9-1.4-.1 1.6zM484.8 873.7l-2.3-1-.5-1.4 1.4.4zM515.7 898.2l.7-1.7 1.5-.7-.6 1.5zM511.3 900.2l-1.2 0-.5-.8 .9-.1zM513.2 868.1l-1.6.5-.5-1.4 1.3-.4zM488.1 901l-2.5 0-.9-1.7 1.8.6zM522 898.8l-1.3-.3-.8-1.8 1.9.2zM513.1 864.1l.2-1.5 1.1.2 0 .9zM479.5 883.6l0-1.5 1.1-1-.1 1.4zM479.2 859.3l-2.6-.5-1-1.8 2 .2zM477.2 869.5l.5-1 .9.4-.4.7zM488 896.6l.3-2 1.3-.5-.1 1.3zM484.9 894.4l1.4-2.3 2.5.4-1.2 2.1zM482.7 871.2l.7-2.2 2.2.1-.7 2.1zM468.9 858.5l1.1-1.5 1.2.8-.5 1.1zM480.6 889l-1.9-1.3 .2-1.7 1.5.7zM460.4 896.7l-2.2.6-1.7-.8 1.8-.6zM519.2 864.9l-2.1.6-1.2-.9 1.3-.6zM468.7 861l-1.1-1.8 1-1.1 1 1zM505.4 881.7l-.6-1.1 .6-.8 .5.9zM504.7 895.8l-2.5.2-.1-2.2 1.8-.1zM444.8 863.7l.4-1.6 1-.2 0 1zM463.8 898l-1.9-1.4 .5-2 1.7 1.1zM495.3 896.4l2-2 1.9 1.9-1.8 1.8zM484 872.9l-1.3-1.8 .3-2.1 1.1 1.7zM470.3 895.9l-1.3.3-1.1-.5 1.1-.2zM461.4 889.2l1.3-1.3 1.3.2-.8 1zM453.4 870.9l.2-1.1 .8-.2-.1.8zM485.3 882l1.6-1.6 1.9.1-1.3 1.4zM472.2 886.2l1.3-1.3 1.4.4-.9.9zM449.1 877.8l-.3-2.2 1.7-.6 .4 1.5zM484.6 896.9l1.3-1.8 1.9.8-1.2 1.3zM474.8 877.3l-1.5.5-.8-.5 .8-.4zM509.5 862.8l.6-.8 .8.3-.4.7zM483 870.7l-2.7-.3-.5-2.1 2 .2zM497 863.8l-1.9-2.3 2.1-1.6 1.4 1.8zM501.6 888.4l-2-1.2 .1-1.8 1.6.7zM478.9 877.7l-.9.1-.7-.6 .9 0zM512.7 859.3l.2-2.3 2.1 0-.4 1.4zM502.2 874.7l-.4-1.4 1.2-.6 .3 1.3zM467 861.9l-1.9.8-.4-1.5 1.1-.8zM496.6 874.7l1.4-1.1 1.5.5-1.2.9zM508.4 868.2l-1.5-1-.5-1.7 1.3 1.1zM504.9 874.5l-2.4-.7-.8-1.8 1.7.6zM477.4 864.7l-2.6-1.9 1.6-2.6 2.1 1.8zM509.5 869.8l-.6-1 .2-.8 .5.6zM521.9 897.9l-2.1-.3-1.3-1.5 1.9.4zM468 883.8l-1.1-2.2 .8-1.4 .8 1.3zM500.2 888.6l.1-1.3 .9-.4 0 1zM484 866.9l1.4-.6 1 .5-.9.5zM486.6 871.6l-2-1.5 .1-1.9 1.4 1.1zM509.3 882.4l.9-1.5 1.4.4-.7 1zM482.9 869.1l.2-1 .8-.3-.2.8zM445.8 872.7l-.8-.7-.3-1 .8.7zM505.3 883.5l-.2-2.1 2-.8-.1 1.9zM490 900l1.4-.7 1 .6-.9.5zM504.5 891.1l.1-2.7 1.9-.6 .1 1.8zM458.7 892.3l.8-1.5 1.6.2-.8 1.3zM492.3 889.2l.4-1.6 1.1-.2-.1 1zM470 889.7l-1.4-2.3 1.5-1.5 .9 1.5zM475.2 864.7l-1.7-.5-.6-1.2 1.2.4zM486.4 900.3l-.2-1 .7-.6 0 .8zM446.4 894.3l-2.2.2-.2-1.6 1.3-.4zM470.7 862.7l-.5-.8 .2-.8 .4.7zM520.1 873.9l.3-1.2 1-.4-.3.9zM513.5 874.4l1.6-1.2 1.5.2-1.1 1zM499.9 897.1l-2.6-.3-1.5-1.5 2.2.1zM478.2 861.2l.5-1.4 1 0-.2.9zM450.2 859.6l-2.8 0-1.6-2.1 2.6 0zM517.2 886.9l1.8-2.6 2.6 1.4-1.7 2.3zM452.7 889l-1.6-.5 .4-1.2 1.1.2zM476.5 882.4l-1.1-.5-.5-1 .9.5zM491.9 880.7l0-1.1 .8-.2 0 .7zM485.7 879.8l-.2-2.9 1.8-.8 .6 1.9zM504.5 882.4l-2.5-1.2 .7-2.1 1.8.7zM480.1 878.9l-2.6.3-1.5-1.7 2.2-.3zM456.1 878.7l-1.1-.6 .2-1 .7.5zM449.5 892.6l1.6-1.4 1.6.5-1.2 1zM502.5 901l-1.5-.6-.3-1.6 1.4.8zM480.5 863l-2.7-.2-1.1-2 2.2 0zM490.8 892.7l-3.1.1-.2-2.2 1.9-.5zM513.3 891l-.9-.7 .4-.8 .7.4zM503.9 874.3l-.9-2.1 1.2-1.5 .7 1.7zM456.8 876.1l-1.5-1.8 1.2-1.8 1.3 1.6zM457.5 861.6l-2-1.6-.2-2.4 1.7 1.6zM516.1 882.8l-3.1.5-1.2-2.6 2.5-.1zM496.1 895.2l-1.9.2-.5-1.4 1.2-.3zM500.7 878.9l.2-1 .8-.2-.1.8zM495.3 867.9l1.6-1.9 1.6.2-.9 1.1zM472.5 898.4l-.9-1.5 .5-1.4 .6 1.3zM512.1 893.8l.7-1.5 1.3.6-.5 1.3zM507.6 896.7l-.8-1.3 .6-1.1 .6 1zM451 886.9l-2.2.5-.7-1.8 1.7-.1zM503.8 865.8l-2.2 1.1-.7-2 1.6-1.2zM519.1 893.6l-2.2-.1-.6-1.7 1.7.1zM472.8 859.1l1.7-1.3 2 0-1.6 1.1zM511.3 889.5l-1.1.3-.7-.8 1-.2zM488.9 868l-1.6.3-.5-1.1 1.1-.3zM493.2 872.4l-.5-1.3 .7-1 .5 1.1zM466.9 862.4l.3-2.1 1.4-1.1-.3 1.7zM462.1 893.8l1.9-1 1.9.6-1.8.7zM495 863.6l-.3-1.5 .8-.6 .2.9zM458.2 874.9l-.1-1.4 .8-.9 0 1.2zM510.1 870.7l0-1.5 .8-.7 .1 1zM492.5 874.9l-2.1-1.5 .1-2.1 1.8 1zM447 883.1l-1.2-.6 .3-1 .8.4zM458 901l.5-1.1 1.1-.3-.4 1zM476.2 876l1.3-2.2 1.7.8-.8 1.4zM503 864.1l-.1-1.6 1.2-.3 .3 1.2zM506.6 872.1l1.1-1.3 1.3.9-1 1zM460.2 871.9l-.2-1.5 1.1-.2 .2.9zM509.2 874.6l-1.1 0-.4-.6 .6 0zM488.9 885.8l1.4-.7 .8.5-.7.5zM453.9 858.8l-2.7.2-2-1.8 2.5 0zM480.1 859.4l-2.9-.4-1.2-2 2.7 0zM446.7 861l.6-1.7 1.5-.5-.6 1.4zM486.2 886.7l-1.2.1-.2-1 .9.1zM468.8 875.5l1.8-2.2 1.9 1.6-1.4 1.4zM490.3 876.2l-2.9-1.9 1.8-2.3 2.5 1.2zM464.9 900.8l1.9-1.7 2.3.9-1.8 1zM459.3 901l.8-1.9 2.5.1-.8 1.8zM462.1 865.4l1.6-1.2 1.1.8-.9 1.1zM519.7 892.4l-1.9 0-.2-1.9 1.6.3zM486.7 874.4l-.9-.5 .1-.6 .6.2zM463.7 873.4l1.2-1.5 1.2.2-.5 1.1zM484.2 874l.4-1.4 1.4-.1-.5 1.1zM486.7 871.1l.6-1.3 1.5 0-.8 1.1zM450.3 890.8l.3-2.6 1.9-1.6-.5 2.4zM456.7 886.3l.7-.8 1.1 0-.8.7zM462.4 861.3l-2-.6-.6-1.4 1.5.3zM488.6 886.4l-1.4.3-.8-1.1 1.2-.2zM504 883.2l-1.2-.2 0-.9 .7 0zM488.7 871.9l-.7-1.8 .8-1.3 .5 1.4zM510.5 890.3l-1.3-.1-.3-1.2 1.1.2zM491.8 857.8l1.1-.8 1 .6-.8 1.1zM458.4 889.5l.5-.8 .9.1-.5.7zM488.7 869.7l-2-.3 .1-1.5 1.4-.1zM461.5 892l-2.3.9-1.6-1.2 1.7-.6zM464.4 892.5l-1.1-.2-.5-.8 .9.2zM455.8 885.6l-1.7 0-.6-1 1.1-.1zM479.9 860.1l-.7-3 2.1-.1 1.1 1.2zM457.7 868.5l-1.8-1.5 .2-2.3 1.6 1.5zM512.3 864.2l-2.3.3-.2-2 1.8-.4z" fill="#52248a" opacity="0.92" filter="url(#cb)"/>
<rect x="523" y="857" width="77" height="44" fill="#dfebe2"/>
<rect x="523" y="857" width="77" height="44" filter="url(#spk)" opacity="0.65"/>
<rect x="523" y="857" width="77" height="44" fill="#52248a" filter="url(#fs)" opacity="0.45"/>
<path d="M527.2 883.2l1.4-.7 1 .6-.9.7zM573.7 883.5l2-1.4 1.5 1.1-1.3 1.2zM575 867.7l.9-1.5 1.1.1-.5.8zM525.4 876.4l-1.7-.4-.3-1.6 1.6.4zM552 880.3l-2.6-.7-1.1-1.8 2 .6zM597.9 866.8l-1.7.6-1.2-1.1 1.5-.3zM529.7 876.7l-2.1.7-1.8-1.2 2-.7zM541 894.1l-2.1-2.5 2.1-1.8 2.2 1.8zM528.1 871.6l-1.2-.9-.1-1 .9.4zM544.4 895.9l-1-.1-.3-.5 .6-.1zM539.7 884.1l-1.7-1.2-.2-1.9 1.3 1.2zM586.2 869.7l-.2-2.5 1.4-1.3 .1 1.8zM534.2 897.8l0-2.3 1.2-1.6 0 2zM561.5 866.4l-2.3-1.2-.1-1.6 1.5.5zM553.2 893.6l.7-1.8 1.3.7-.2 1.3zM549.7 859.9l.5-2.2 1.5.1 0 1.3zM568.9 860.1l-1.1.5-.4-1 1-.5zM572.5 871.8l-.6-.6 0-.7 .4.4zM532.5 871.1l-2.4-1.2 1.1-2.4 1.8 1.3zM537.2 885.6l-2.8-.2-1.5-1.9 2.4.2zM590.5 895.6l-.3-1.1 .6-1 .1 1.1zM575.4 862.8l1-1.6 1.7 0-.9 1.3zM575.4 886l-2.9-.7 .3-2.8 2.4.7zM530.9 870.2l-.5-1 .4-1 .4 1zM565.6 885.3l-.9-2.1 .8-1.7 .9 1.6zM574.1 860.9l-1.7.2-.8-1.4 1.5-.1zM573.9 888.7l1.5-1.4 1.9.9-1.6 1.1zM581.3 869.5l-1.2-1.6 0-2.1 1.3 1.6zM560.8 890.9l.8-1.7 1.3-.3-.5 1.2zM545.8 863.4l1.5-1.2 1.7.5-1.4 1zM531.6 885.4l-1.2-.4-.2-1 1 .2zM559.3 899.3l.9-2 1.5 0-.3 1.4zM532.2 893l2.3-1.1 2.2.7-2.1.9zM582.1 889.7l0-1.8 1.3-1-.2 1.5zM575.1 898.1l-2.7.2-1.6-1.4 2-.2zM556.6 869.8l-3.2-1 .9-2.7 2.3.7zM571.3 899.5l.1-1.2 .7-.6 0 .9zM593.9 871.8l-2.7-.4-.9-1.6 1.8 0zM587.6 866.4l-2.1.5-.7-1.5 1.3-.2zM547.3 858l-1.2.5-.9-.8 1-.3z" fill="#52248a" opacity="0.92" filter="url(#cb)"/>
<rect x="602" y="857" width="76" height="44" fill="#e1ebe2"/>
<rect x="602" y="857" width="76" height="44" filter="url(#spk)" opacity="0.65"/>
<rect x="602" y="857" width="76" height="44" fill="#52248a" filter="url(#fs)" opacity="0.45"/>
<path d="M622.9 880.7l-.4-1.8 1-1 .4 1.3zM618.9 863.4l-3-.1 .4-2.5 2.2-.1zM641.8 877.2l1.7-2.2 1.9.4-.9 1.7zM665.1 878.8l1.4-2 1.7-.2-.8 1.3zM663.6 869.6l-.9-.5 0-.6 .5.3zM647.9 861.3l.5-.8 .6-.1-.2.5zM637.2 892.8l-1.5-2 1.4-2 1 1.9zM633.5 893.2l-.7-.7 .2-.6 .4.3zM630.3 879.6l-2.6-.2-1.4-1.7 2.1.2zM631.8 870l-1.1-1.4 .4-1.1 .9.7zM670.1 881.5l-.6-1.1 .8-.4 .3.6zM655.7 867.5l.2-2.5 2.1-.8-.3 2.1zM648.6 884l.1-1.2 .6-.4 0 .7zM617.6 893.2l2.4-2.3 1.9 2-1.6 1.9zM610.1 876.4l-.5-1.4 .9-.8 .4 1zM671.4 878.6l-2 0-.7-1.6 1.5.2zM629.4 861.7l-.1-1.8 1-1.1 .1 1.4zM649.5 872.5l-.7-1.5 .9-1 .4 1.1zM618.6 882.9l-1.5-.1-.9-.9 1.2-.1zM635.7 891.8l-.6-1.4 .5-1 .6.9zM656.3 867.1l0-2.2 1.5-1.1 0 1.8zM656.9 884.7l1.1-2.2 1.9-.2-.9 1.5zM609.2 880l-.8-1.5 .7-1.3 .7 1.3zM671.8 864.3l-2.4-.7-.5-1.6 1.6.3zM603.9 875.6l0-1.6 .9-.6 0 1zM633.8 870.4l.2-2.7 2.1.3-.1 1.6zM676 868.4l-1.6-.1-.2-1 .9-.1zM638.8 872.3l1.7-.9 1.2.6-1.1.7zM670.9 864.4l1.2-1.4 1.1 1.2-.8 1.3zM649.7 877.5l-1.8.4-1.5-.7 1.7-.4zM607.4 866.3l-2.1-1.2 0-1.7 1.4.8zM624.3 887.8l-.2-2.7 1.8-1.6-.1 2.2zM627.3 863.9l-2.2-1.1-.4-2.2 2 .9zM633.1 875.3l-1.8.6-1.8-.9 1.9-.4zM604.3 870.7l-.6-3 2.2-1 .8 2.2zM614.1 860.2l-2.2-.9-.5-2.2 1.9 1zM656.9 883.7l2.1-1.1 1.3.9-1.3.9zM608.2 863.9l0-2.8 1.8-1 .3 2zM662.1 900.2l.8-.8 .8.4-.5.7zM603.4 868l-.4-1.4 .6-.8 .3.8zM670.6 875.9l-1.5-1.9 .2-1.8 1.2 1.3zM647.7 873.2l-.9-.9-.1-1.2 .9.8zM647.7 871.2l.8-.4 .6.3-.5.3zM663.8 899l-.6-2.8 1.8-1.5 .3 2.1zM610.7 879.4l.9-2.3 2.5-.4-1.2 1.9zM642.6 869.5l-1.5-.2-.4-1 .9 0zM653.8 879.8l-.4-1.5 1-.5 .4.9zM626 891.2l0-2.5 2.2-.4 0 2.1zM642.1 875.7l.1-1 .5-.4 .1.6zM607.9 882.2l0-2.1 1.2-.8 .1 1.4zM670.7 876.2l.4-1.1 .8.2-.2.6zM666.9 881l-1.1-1.9 .9-1.8 1 1.7zM652.9 889.8l-2.3-.4-.8-2.2 2.2.5zM623.6 872.4l-1.7.4-.5-1.4 1.4-.5zM655.1 878.9l.9-1.5 1 .5-.2 1.1zM664.1 900l-.1-.9 .5-.5 0 .7zM605.1 900.3l-1.6.6-.2-1.3 .8-.5zM638.5 877.5l1-1 .9.3-.6.8zM608.1 890.8l1.5-1.2 1.6.1-1.3 1.1zM624.7 892.2l-1.8.1-.7-1.2 1.3-.2zM619.3 866.1l-2.6.8-1.4-1.1 1.6-.6zM635.6 895.9l-1.1-1.4 .4-1 .6.7zM654 888.3l-1.1-1 .6-1.3 1.1.9zM667.9 875.9l-1.1-.4 .4-.8 .8.1zM625.3 888.3l-2.8-.1-.3-2.4 2.2 0zM612.9 893.6l-1.6.8-1.1-1 1.2-.7zM643.3 872.6l-.8-2.4 .8-1.6 .8 1.6zM641.5 862.7l.8-.6 .5.5-.5.4zM616 867.6l-1.3-.7 .4-1.1 1 .4zM615.1 868.9l-2.1-1.2-.3-1.9 1.5.9zM653.8 861.6l-1.6-1.3 .7-1.3 1 .7zM630.9 877.1l-1.2.4-.7-.9 1-.3zM615.8 897.5l-2.5.3-1.3-1.8 2.1-.3zM648.7 892.1l1.3-1.6 1.9-.4-1.2 1.6zM632.5 896.2l-1.8.6-1.1-.9 1.2-.4zM626.5 862.7l-1.9.8-1-1.2 1.3-.6zM640.7 867.5l-1.3-2.2 1.6-1 1.2 1.2zM618.8 882.4l1.7-1.7 1.7 0-1.1 1.3zM634.8 876l1.1-2.6 2 .1-.5 1.9zM636.4 885.1l1.3-1.8 1.9.7-1.2 1.5zM623.9 900l.6-2.2 1.5-.3-.3 1.4zM654.8 864.6l-2.2-1.5 .2-1.8 1.3.9zM634.9 859.5l1.8-2 1.8 1.3-1.3 1.4zM612.5 892.6l-.9-.8 .1-.8 .6.4zM660.5 864.6l2.1-1 1.5.7-1.3.6zM633.7 874.1l1.5-2.9 2.7 1-1.3 2zM634.5 860.3l1.1-2.1 2.1.1-.9 1.8zM657 895.7l-1.3.6-1.1-.7 1.2-.5zM656.8 881.3l-.9-1.1 .6-1.2 .8 1zM673.2 862.7l-1.6-1.1 .1-1.9 1.3 1.2zM667 873.5l-2.3-.3 .1-1.7 1.6-.2zM670.3 875.7l-2-1.5-.1-2 1.5 1.1zM653.9 872.8l-.8-1.4 1-1.3 .4 1.4zM615.3 888.3l-1.1-1.1 .4-.9 .6.5zM606.3 876.9l1.2-1.8 1.4-.1-.8 1.1zM646.9 869.1l-.5-.9 .5-.7 .4.8zM666.1 864.7l1.2-1 .8.4-.5.8zM665.4 867.1l-.7-2.3 .9-1.2 .8 1.3zM657.8 893.7l-2.2-1.1 1.1-1.9 1.7.9zM659 859.6l-1.4-1.4 .7-1.2 1 .8zM650.7 892.3l-1.1-1.5 .2-1.3 .9 1zM651.1 890.5l-.7-.8 .3-.6 .6.5zM636.9 880l-1-.5-.4-.9 1 .4zM607.9 873.2l.7-1 .9.1-.4.7zM611.9 893.2l-.8-1.2 .8-1 .8 1zM666.9 865.2l.3-2.1 1.5-1.3-.5 1.9zM634.7 900.2l-2.4.8-1.4-1.5 1.9-.9zM618.9 889.4l-2.4 1.6-1.9-1.9 2.1-1.5zM635.5 895.2l-1.8-.5 .4-1.3 1.1.1zM651.5 866.5l-.7-1.3 .8-.9 .6 1zM635.9 866.1l-2.9-.3-.5-2 1.7.1zM655.6 883.9l-.3-1.3 .9-.7 .4 1.1zM674.1 866.6l1.8-1.8 1.3 1.7-1.2 1.5zM606.2 877.1l-1-.2-.3-.6 .6.1zM617.6 890.6l-.8-1.7 1.3-.9 .5 1.3zM665 881.7l-.4-1.7 1.6-.6 .3 1.5zM602.8 862.3l-.8-2.6 1.1-1.8 1.2 2zM606.9 885.4l.6-.7 .7.1-.4.6zM663.4 885.5l-2.8.8-.9-2.1 1.7-.5zM614.3 872.2l1.9-.8 1 .7-1 .6zM650.9 872.1l-.8-1.6 1.3-.5 .7 1zM665.6 890.9l-.5-1.7 1.2-1 .3 1.4zM610.7 897.7l-.9-.7 0-1 .6.6zM640.8 859.8l-1.3-1.7 .5-1.1 .9.7zM636.6 895.9l-.8-2.5 1-2.3 .7 2.4zM631.1 887.4l-1-.7-.3-1.1 .9.7zM610.9 886.9l.8-1.7 1.7-.3-.6 1.6zM662.7 899.4l-.1-1.2 .7-.5 0 .8zM626 864.9l.3-1.5 1.3-.4-.2 1.3zM675.2 900.2l-.9-.3-.1-.8 .8.2zM615.7 877.6l-.6-1.9 1.5-.8 .2 1.4zM638.8 878.9l.7-1.2 1.1.6-.5 1.1zM623.3 882.7l1.2-1.9 2.1.4-1.3 1.5zM618.5 892.9l-1-3.5 3-.2 .7 2.2zM629.8 876l-.7-1.9 1.1-1.5 .7 1.8zM604 875.1l-.2-1.2 .7-.5 .1.8zM644.1 881.8l-1 .7-.7-.8 .8-.6zM660 872.5l-.8-1 .2-.8 .5.6zM621.1 887.6l-.2-1 .5-.8 .1.9zM657.1 867.2l-.4-2.3 1.3-1.8 .3 2.1zM643.6 867.6l-.2-1.4 1-.6 .3 1.1zM642.3 893.9l.5-2.2 1.3-.5-.1 1.3zM660.5 879.4l1.7-1.7 1.4 1.1-.9 1.2zM660.7 865.3l-.9-.9 .1-.8 .7.5zM602.7 871.5l2.1-1.1 1.9.8-1.7 1.1zM658.6 900l.9-.6 1.1.2-1 .4zM652.2 896.1l-2.4.2-1.8-1.4 2.3-.2zM622.6 859.4l.4-1.1 .8-.4-.3.8zM652.5 877.3l-.1-1.1 .8-.7 .1 1zM646.8 893.2l-1.4-1-.1-1.2 .9.7zM659.7 869.5l-1-.2-.4-.9 .9.3zM642.5 870.6l-2.2-.5-.7-2.2 1.9.8zM650.1 861.5l1.1-1.5 1.4.6-.8 1.1z" fill="#52248a" opacity="0.92" filter="url(#cb)"/>
<path d="M657.2 894L676.4 894" stroke="#000" stroke-width="1.6"/>
<text x="353" y="929.3" font-size="18" text-anchor="start" fill="#000">L’</text>
<text x="450.05" y="919.21" font-size="7.6" text-anchor="middle" fill="#000">DMSO</text>
<path d="M393.9 922.5L502.4 922.5" stroke="#1a1a1a" stroke-width="1.3"/>
<text x="393.9" y="932.42" font-size="7.95" text-anchor="start" fill="#000">LV-NC</text>
<text x="502.6" y="932.42" font-size="7.95" text-anchor="end" fill="#000">LV-PTK6</text>
<text x="609.9" y="919.21" font-size="7.6" text-anchor="middle" fill="#000">Rapamycin</text>
<path d="M554 922.5L662 922.5" stroke="#1a1a1a" stroke-width="1.3"/>
<text x="554" y="932.42" font-size="7.95" text-anchor="start" fill="#000">LV-NC</text>
<text x="663" y="932.42" font-size="7.95" text-anchor="end" fill="#000">LV-PTK6</text>
<rect x="365" y="934" width="78" height="44" fill="#fefffa"/>
<rect x="365" y="934" width="78" height="44" filter="url(#spk)" opacity="0.65"/>
<rect x="365" y="934" width="78" height="44" fill="#762a92" filter="url(#fs)" opacity="0.45"/>
<path d="M385 959.4l.2-2.3 1.9-.4-.2 1.7zM406 971.1l1.9-.8 1 .7-1 .5zM440.1 959.4l-1.6-.1-.5-.9 1 0zM379.3 977.6l-1.3.1 0-1.1 .8-.1zM388 951.3l-.2-1.2 .6-.6 .2.8zM394 967.6l-.6-1 .3-.9 .4.8zM418.6 956.3l-1 .3-.5-.5 .6-.2zM387.8 955.2l-2 .7-1.7-.8 1.7-.6zM436.3 972.1l-.7-.7 .3-.9 .6.6zM425.4 937.8l-1.4.1-.4-1.1 1.1-.3zM405.2 962.5l1.3-.6 1.3.6-1.3.5zM428.3 968.8l-.8-.9 .4-.8 .5.6zM365 976.9l.7-.7 .6.5-.5.5zM387.7 950.3l-.4-1.1 .9-.5 .3.9zM425.9 941.7l.9-.5 .8.4-.8.5zM425.3 965.2l.8-.5 1 .1-.8.5zM410.1 973.1l1.4-2 2 .5-1.2 1.6zM392 974.1l-1.2-.4-.4-.9 1 .3zM398.8 960l-1.6 1.4-.9-1.6 1.1-1.1zM378.8 962.5l1.4-1.1 1.5.9-1.4 1.1zM388.3 966.4l1.8-1.1 1.7.8-1.5.9zM383.6 941.6l.3-.8 .5-.1-.1.6zM410.9 967.5l-1 0-.1-1 .9 0zM378.1 947.4l-1-.3 .1-.7 .6.1zM386.8 962l-1 .1-.4-.5 .6-.1zM419.7 944.5l.8-.9 .8.2-.5.5zM416.6 953l.5-.8 .6-.1-.2.6zM377 959.5l1.6-1.2 2 .4-1.7 1zM406.2 937.1l-.9.1-.5-.6 .8 0zM432.1 961.5l-1.6-.2-.5-1 1 .1zM435.2 943l-.7-.5-.2-.7 .6.4zM413.7 965.4l-1.1-.9 .2-1 .6.6zM374.5 956l-.8.6-.7-.7 .7-.5zM374.3 974.4l-.2-1.3 1.1 0 .2.8zM389.2 968.3l-1.4-.6 .2-1.2 1.1.3zM393.4 945.1l-1.8 0-.4-1.1 1-.1zM425.3 959l-.7-.6 .1-.7 .4.4zM370.2 956.6l-1.2-.2 .3-1 .8.1zM419.9 955.3l1.1-1.3 1.3.1-.7 1zM410.6 939.4l-1.1.4-.5-.9 1-.3zM418.6 943.2l1.4-1.1 1.1.6-.9.7zM398.7 964.1l-2.1-1.2 .6-1.6 1.3.6zM376.3 962.3l-1.3-.3 .2-1 .8.1zM374.6 944l-.6-1.4 .6-.9 .5.9zM393.4 941l.9-1.7 1.9.4-1 1.4zM431.9 956.4l-.3-1.4 .9-1 .3 1.3zM420.9 972.8l-.1-1.9 1.2-.3 .2 1zM375.2 954.9l-1.5.6-.8-.9 1-.7zM428.8 952.4l-.6-1.1 .8-.9 .5 1zM398.7 948.8l1.1-.9 1.1.7-.9.8zM429.9 949.2l-1.7-.5-.5-1.7 1.5.7zM411 974.3l.9-.5 1 .2-.9.5zM380 970.7l1.5-.8 .9.5-.8.5zM397.2 950.4l-1.8-1.1-.1-1.8 1.3 1zM372.4 963.5l.7-.3 .4.3-.4.3zM376.8 967.8l-1.8.2-.7-.9 1-.2zM395 938.5l-1.5-.2 0-1.4 1.1.3zM438.3 946.6l-1 .7-.7-1 .9-.6zM396.4 974l-.9-1.4 .8-1.2 .6 1.2zM408.8 937l-1.1-.1 .2-.8 .8-.1zM421.6 969.1l.9-.9 1.2.3-.9.7zM370.6 973.8l-1.6-.1-.3-1.2 1.1-.1zM386.4 959.5l-.8.5-.6-.7 .7-.5zM383.5 957.3l-.5-1 .4-.6 .3.6zM394.6 947.4l.9-1.3 1.4-.2-.8 1zM422.8 973.7l.1-1.3 .7-.4 .1.8zM403.5 963.6l.5-2.2 1.9-.2-.4 1.7zM421.5 942.8l-.6-.9 .8-.7 .5.9zM405.3 949.8l-.7-1.4 .9-.9 .5 1zM406.2 942.4l-1.4-.1-.7-1.1 1.2.2zM411.7 946.3l1.8-.9 1.8.5-1.7.8zM377.4 976.8l-.5-1.5 1-1 .3 1.3zM433.4 936.5l-2.1-.2-.1-2.1 2.1.2zM393.4 955.8l-.7-1 .5-.8 .6.7zM434.6 972.6l-1.4.2-1-.8 1.2 0zM384.5 953.8l-2.4-.7 .9-1.7 1.9.1zM388.9 939.5l.9-.4 .5.2-.5.3zM400.4 952.3l-1.8-.3-.5-1.4 1.4.1zM414.8 951.5l-1.7.3-.6-.9 .9-.4zM405.1 951l.9-1 .9.1-.5.7zM395.4 975.2l-.8-1.1 .5-1.2 .6 1.1zM419.4 971.6l1-1.4 1.3.3-.6 1.2zM406.4 975.1l-1.1-1.6 .4-1.2 .7.9zM419.6 955.6l-1.5-.2-.3-1.1 1 0zM434.1 949.6l-.1-.9 .7-.4 .2.8zM417.7 968l0-1.9 1.1-1.1-.1 1.5zM399.3 955.9l1.3-1.1 1.4.5-1.1.8zM394.6 940l-1.9.2-1.1-.9 1.4-.1zM439.1 973.5l-1.4-.5-.4-.9 1 .1zM436.6 937.8l-.5-2.4 2.2-.3 .6 2zM436.7 971.1l-2.3-1 1.1-1.7 1.6.5zM389.3 941.1l.9-.9 .9.1-.6.6zM367 971.7l1.4-1.1 1.2.8-1 .9zM383.7 939.6l-1.3-.3 0-.9 .8.1zM372.8 950.8l-.8-.7 0-.8 .6.5zM379.6 973.1l-1.6-.6 .7-1.3 1.4.2zM430 974.5l-.1-1.7 1-.5 .2 1zM416.3 973.2l-1.4.2-1-1 1.3 0zM382.2 950.4l.8-1.4 1.1.1-.4.9zM436.4 960.7l-1-.4-.2-.8 .7.3zM436.4 959.6l-2-1 .2-1.6 1.5.4zM397.6 944l-.4-1 .3-.7 .3.7zM433.5 961.5l1.2-1.5 1.9.5-1.3 1.3zM415.7 970.3l-1.3-.4-.6-1.1 1.2.4zM389.9 939.1l-1.4-.5 .2-1 .9.2zM442.2 953.3l-1.1-1.5 .1-1.7 1 1.4zM401.9 956l1.3-.6 .8.4-.7.6zM409.2 959l-1.2-1.2 1.3-1.2 .8 1.2zM424.6 936.4l1.3-1.3 1.8.2-1.3 1.2zM402.2 963.2l-.9-2.1 1.5-.8 .7 1.2zM437.8 970.1l-1.5-.7-.4-1.3 1.3.5zM429.9 948.8l-1-.6 .5-.9 .7.5zM424 977.4l-1-.4-.2-.9 .7.4zM429.6 970.8l-.1-2.4 2-.3 .1 1.7zM402.3 941.9l.7-.4 .6.4-.5.2zM426.6 948.2l-.9-.9 .2-.8 .7.4zM437.2 970l.3-1.7 1.6-.4-.3 1.6zM432 955.9l1.4-1.2 1.3.3-.9 1.1zM376.4 943.9l-1-.8 .5-.7 .8.4zM421.6 951.6l-1.7-1.2 .2-1.5 1.1.7zM401.5 964.9l-.5-2.5 2.4-.5 .1 2.1zM389.7 942.6l-1.6-1.4 .3-1.3 1 .7zM400.1 941.9l-.8-.1-.2-.4 .5 0zM394.5 973.8l.4-.8 .6 0-.1.5zM423.6 944.2l1.1-1.4 1.8.2-1.2 1.1zM412.2 954.5l.5-1.5 1.1-.6-.3 1.2zM378.7 955.7l.2-1.4 1.1.2 0 1zM425.2 951.8l.4-1.2 1.1-.5-.4 1zM440.5 950.3l1.2-1.9 1.3-.4-.3 1.8zM391.4 936.1l-1.3.2-.8-.8 1.1-.2zM392.9 961.2l-1.1-.2 .1-.9 .8 0zM424.7 946.4l1.2-.5 .9.5-.9.4zM422.7 972.3l0-1.6 1.4-.2-.1 1.3zM419.2 959l-1.6-.4-.4-1.1 1.1.2zM382.9 974.3l.3-1.4 1.1-.6-.3 1.1zM421.4 940.9l-.4-.9 .4-.5 .2.5zM416.9 958.9l.5-1.4 .9-.2-.2.8zM401.4 942l-1-2 1.8-.6 1.2 1.5zM399.8 947.2l-1.1-1.7 1.2-1.7 1.1 1.8zM392.5 970.8l.6-1.2 .8-.1-.2.8zM403.2 968.5l.8-1.9 1.5.6-.5 1.2zM440.4 954.5l-1.5-.1-.2-1.2 1.2-.1zM399.5 971.7l.8-1 1.1.1-.7.7zM375.8 970.7l-1.6-1 .1-1.7 1.4 1zM413.7 940.1l-1.6.5-.8-1.2 1.2-.3zM421 967.9l.3-1.7 1.1-.2 0 1zM394 973.4l.8-.6 .8.1-.6.4zM365.5 971.2l.7-1.1 1.2-.2-.7.9zM438.1 947.6l.1-1.1 .7-.2 0 .6zM376.1 966.7l-1.7-1.1 1.1-1.4 1.5.8zM419.4 944.1l-1.7-.7-.7-1.7 1.6.8zM404.7 967.1l-1.4-.4-.3-1.3 1.2.3zM404.9 943.1l-.1-1.4 .8-.7 .2 1zM435.7 966.3l-1.4.9-.9-1.3 1.3-.6zM384.8 965.3l-2.3-1.2 1.2-1.6 1.4.6zM425 957.7l.5-1.5 1-.4-.2 1zM402 940.2l-.9-1.1 .7-.9 .6.8zM430.7 973.5l-1.8-.2-.2-1.4 1.4 0zM375.2 951.7l1.2-1.7 1.5-.2-.7 1.4zM418.5 965.3l-1.4-.6 .2-1.2 1 .4zM388.6 957l.9-.9 .7.7-.5.7zM428.4 952.1l-.5-1.2 .8-.4 .4.7zM416.6 961.5l-.2-1.7 1.2-.3 .2.9zM396 936.9l.6-1.7 1.6-.6-.6 1.5zM373.6 951l-1.4.6-.3-1.1 .8-.7zM406.2 948.1l-1.7-.6-.1-1.7 1.6.5zM370.4 971.5l.7-1.2 1.3 0-.7.9zM371.4 968.1l-.7-2 1.8-.7 .3 1.5zM428.6 947.7l.2-1.5 1-.6-.2 1zM373.1 958.2l-.4-1.3 .6-.8 .3.9zM422.8 956.3l-1.4-1.7 .4-1.5 1.2 1zM422.5 962.2l-.7-1.9 1.2-.9 .7 1.3zM428.8 978l-1.2-1 .2-1.4 1 .9zM375.5 959.4l-1.2-.6 .6-.9 .8.4zM377.2 962.9l-1.2.7-.7-.9 .9-.6zM439.8 953.9l.1-2.3 2-.7-.1 2zM393.2 969.3l.4-2.5 2 .6 .1 2zM384.7 960.7l.9-1.4 1.2.8-.7 1zM426.1 938.9l-.8-.1-.4-.7 .7.1zM380.1 954.3l-1.8.4 0-1.4 1-.4zM404.1 950.6l-1.6-.3-.3-1.5 1.3.4zM368.5 948.6l-.7-.7 .2-.8 .5.5zM437.1 972.7l-1.7-.3-.9-1.3 1.5.3zM390.5 964.4l-1.3-.2 .5-1 1 0zM416.8 945.5l-1.5-.1-.5-.9 1 0zM397.1 970.9l.4-.9 .9-.2-.4.8zM437.7 939.2l-1.3.1-.6-1.1 1.1.1zM368.5 971.1l1.3-1.7 1.5-.1-.8 1.2zM396.6 935.5l-.8-.2-.2-.5 .5 0z" fill="#762a92" opacity="0.92" filter="url(#cb)"/>
<rect x="444" y="934" width="78" height="44" fill="#f9fef5"/>
<rect x="444" y="934" width="78" height="44" filter="url(#spk)" opacity="0.65"/>
<rect x="444" y="934" width="78" height="44" fill="#762a92" filter="url(#fs)" opacity="0.45"/>
<path d="M483.2 955.1l-.2-1.2 .6-.6 .2.7zM502.5 961l.8-1 .9.5-.6.6zM450.7 957.8l-1.3-.9-.4-1.5 1.3.9zM468.9 951.2l.8-.7 .7.2-.5.5zM486.3 977.6l.4-2.1 1.6-.2 0 1.6zM490.4 965.9l-.9.2-.3-.6 .5-.1zM508.3 975l-1.1-.1 .1-.7 .7-.1zM475.2 977.1l-1.5.9-1.2-1 1.3-.8zM462.1 959.9l.5-.7 .8.2-.5.6zM450.3 975.2l1.1-1.1 .7.8-.5.9zM503.5 967.4l0-1.4 1.2-.3 0 1.2zM481.3 958.3l-1.2-1.4 .2-1.3 1 .8zM508.5 952.9l-1.7-.6-.3-1.4 1.5.3zM520.5 965.9l-.8-1 .9-.8 .5.9zM498.4 948.4l-2-.1 .1-1.5 1.4-.4zM474.4 950.5l.5-1 .7 0-.3.6zM503.3 940.5l-1.6-1.4 .5-1.5 1 1zM454.7 975.7l1.4-.7 .8.6-.8.7zM492.1 966.5l.7-.8 .9 0-.5.7zM458.3 966l-1.1 0-.2-.9 .8.1zM463.1 977.5l-1.9.1-1-1 1.4-.2zM511 968.2l-1.9-.7-.2-1.4 1.4.2zM470.8 940.7l1.5-1.1 1.4.7-1.2.9zM483 938.8l-.4-1.4 1.2-.4 .3 1zM448.7 947.2l-.9-.5 .1-.7 .6.2zM469.9 948.2l-.4-1.9 1.5-.2 .6 1.2zM473.3 941.9l-1.2-.3 .2-.9 .7 0zM445.8 941.8l-.3-1.2 .6-.9 .3 1.1zM480.7 971.9l.8-.6 .9.5-.8.5zM476.6 967l-2.4-.4 .6-1.7 1.7-.2zM475.5 968.7l1.4-1.2 1.3.5-.9.9zM461.7 970.2l.8-.4 .7.4-.7.4zM475.4 954.3l-.9-.3 0-.9 .8.3zM522 960.6l-.8.4-.9-.6 1-.4zM445.5 949.8l-1.2-1.1 .6-1.2 1 .9zM510.4 952.4l-1.5.2-.8-.8 1-.1zM471.5 945.7l-1.6 1.4-1.3-1.5 1.4-1.4zM505.8 969.1l.3-2 1.5-.6-.4 1.4zM481.5 977.2l-1.3.3-.8-.6 1-.3zM486.5 949.9l1.1-.7 1.1.3-1 .6zM491.7 967.2l-1.8 1.2-.7-1.7 1.2-1.2zM463.8 948l-.7-2.5 2-.3 .8 1.7zM500.9 943.1l-.2-.9 .7-.1 .2.5zM491.9 976.9l-.5-1.4 .8-.7 .5.9zM499.7 964l-1.9-1.1 1.1-1.4 1.4.6zM475.7 948.6l1.6-1.1 1.4.8-1.3.8zM501 968.2l-1.6-.6-.2-1.4 1.1.6zM475 936.7l-.3-1.3 .7-.4 .3.7zM473.7 960.6l-.2-1.1 .5-.5 .3.6zM506.4 973.7l-1.5.7-.5-1 .8-.6zM515.4 956.5l.7-.5 .6.2-.5.4zM506.1 958.1l-1-1.7 .2-1.9 .8 1.7zM465 950l-1.7-.6 .4-1.1 1.2 0zM456.2 971.9l-.7-1.4 .4-1.4 .5 1.3zM451.7 960.2l-.4-2.1 1.7-1.1 .2 1.9zM503.3 942.6l-1.2-.6 0-1 1 .3zM508 946.8l-1.4-1 0-1.3 1 .8zM450 970.1l-1.9.6-1.4-1.5 1.8-.3zM474.1 943.1l.4-1.6 1.1-.5-.2 1.1zM472.2 960.3l-.9.1-.5-.5 .7-.1zM514.4 964.8l1.2-1.7 1.6-.2-.9 1.3zM498 941.3l-.9.7-.7-.9 .8-.4zM468.4 969.8l-.9-.4 .2-.8 .7.3zM487.8 960.3l-1.3-.2-.4-.9 .9.1zM479.5 960.9l1-1 1 .2-.7.7zM500.2 948.3l.1-.8 .6-.2-.1.6zM518.8 944.3l-1.4.2-.9-1.2 1.4-.1zM512.9 960.7l-1.9-1 .7-1.4 1.2.5zM484.8 961.3l-.6-1.4 .5-1 .5 1zM453 972.6l.8-.5 .7.3-.6.4zM512.9 962.3l1.5-1.8 1.1 1.5-.8 1.3zM465.4 965.7l.6-1 .8-.2-.3.7zM450.1 970.5l1.3-.9 1 .9-1 .9zM465.4 940.3l-.2-.9 .8-.1 .2.7zM474.1 963.5l0-1.1 .7-.4 0 .7zM474.5 969.1l.7-.7 .8.1-.6.6zM513.4 967.7l.2-1.4 1-.4-.2 1zM512.7 959.2l.7-1.1 1-.2-.5.9zM504.7 935.5l-1.4-.1 .1-1.2 1 0zM521.1 953l-.6-.8 .2-1 .5.8zM450.5 946.1l-.1-1.2 1 0 .3 1zM449.4 944.2l-1.9-.6-.1-1.6 1.5.3zM462.9 949.4l.3-2.2 1.9-.3-.1 1.8zM509.1 952.3l-.2-.8 .4-.5 .1.6zM503.9 968.2l.8-.9 .8.1-.5.7zM493.9 957.4l-.1-1.2 .8-.2 .1.7zM482.7 962.1l-1.2 0-.8-.9 1.2 0zM448.6 968.5l-1.2-.1-.6-.8 1 0zM487.7 939.1l-.9-.6-.2-1 .8.6zM476.3 962.6l.4-1.4 1.3.3-.4 1.2zM513.1 975.1l-2.2-.8 .5-1.9 1.6.6zM490.3 941.6l-1.4-1.6 .9-1.2 1 .8zM479.6 956.4l1.1-1 1.3.4-1 .7zM459.1 948.8l1.5-1.9 2 .8-1.3 1.5zM474.9 944.7l-1.2-.5 .4-1.2 1 .5zM495 945.1l-1-.7 .2-1.1 .8.7zM521 939.2l-.8-1.4 1.1-.6 .6.9zM494.1 949.7l1-1.1 .8.5-.4.8zM453 951.7l.3-1 .7.1-.1.6zM513 965.2l-1.1-.5 .3-.8 .7.3zM514 951.9l-.2-.9 .6-.4 .2.6zM456 969.8l-.3-1.8 1.3-.9 .3 1.5zM457.4 974.5l.6-1 .8 0-.4.7zM501.3 968.9l-.7-.9 .8-.7 .8.7zM512.6 939.5l-.7-.4 .1-.6 .6.2zM452 940.6l.4-1.2 .7-.1-.1.6zM465.5 959l-1.5-.6 .3-1.6 1.2.7zM455.6 954.3l.6-.9 .8.1-.4.6zM455.5 972.5l.5-2 1.6-.6-.5 1.5zM481.4 960.4l-.5-1.3 .5-1 .5 1zM499 951.1l.7-.6 .7.4-.6.4zM487.3 939.5l-.3-1.6 .8-.9 .2 1.1zM451 936.5l-1.6.1-.8-1 1.1-.1zM513.7 939.3l-.8-1.6 1-1.3 .8 1.4zM492.3 975.8l-.8-.7 .1-.9 .6.5zM492.6 960.2l.6-.9 .9.3-.5.7zM486.7 961.7l.8-.9 .8.6-.6.8zM447 942.1l-1.2-.7 .3-.9 .8.3zM499.8 971l-1.4 1-.8-1.2 .9-.6zM474.9 942.8l.6-.7 .6.2-.3.4zM483.8 965.9l-1.7-.1-.1-1.7 1.5.1zM469.5 971.7l-1.3-.7 .1-1.2 .9.5zM505.1 973.5l-.8.2-.4-.2 .5-.2zM484.7 969.3l-1.2-1 .2-1.3 1 .8zM478.7 964.5l-.8.3-.5-.6 .7-.3zM465 973.8l-1.2-.5-.3-1.1 1 .4zM515.4 952.6l-1.9-.7-.3-1.4 1.4.3zM460.5 949.2l-1-1.5 .6-1.1 .8 1zM469.3 936.2l-1.9-.7-.2-1.3 1.1.3zM511.7 978l-.6-.9 1-1.1 .6 1.2zM456.2 968.8l-1.3-.9 0-.9 .8.3zM515.9 962.7l-1.9.3-1.2-1 1.5-.1zM450.5 961.7l-1.1-.9-.1-1.4 1 .9zM458.3 947.2l.6-1 1.1.4-.6.8zM450.8 962.7l.8-2.6 2.3.8-.7 2zM449.2 964.6l.6-1.3 1.1.1-.4 1zM521 937.7l-1-1.2 .9-1.2 .9 1.1zM463.6 973l-.9-.1-.4-.7 .8 0zM515.5 963.8l.5-1 1 .5-.6.8zM475.2 970.5l1.2-2 1.6 1.3-.7 1.9zM460.1 952.8l1-1.1 1.1 0-.7.8zM490.8 940l-1.5.5-.8-1.1 1.1-.2zM485.6 968l.8-1.1 1.1.7-.7 1zM503.9 945l.4-1 .8 0-.3.6zM453.2 957.7l-1.3.6-.9-.9 1.1-.5zM475.5 957.7l-1.5 1-.4-1.4 .9-.8zM506.2 955.8l-1.6.2-.9-1.3 1.5-.1zM509.1 973.4l1.3-1.2 1.1.2-.7.8zM488 959.8l-.7-1.9 1.1-.8 .5 1zM496.6 964.4l.1-1.8 1.1-.9-.1 1.4zM445.8 975.6l1.4-1.1 1 .7-.7.7zM456.9 972.7l-1.1-1 1-1 .7.9zM506.3 945.7l1.3-1.1 1.1.7-.8.9zM493.3 945.5l-1.9.6-.9-1.6 1.6-.4zM485.5 975.4l-1.2-1.3 .2-1.4 .9 1zM464.6 937.4l-1.9.5-1.2-.9 1.3-.3zM484.7 943.3l.4-.8 .7.1-.3.7zM478.9 949.3l.1-1.4 .9-.8 0 1.2zM518.4 953.8l.1-1.7 1.4-.8-.3 1.5zM483.8 955.7l-2.2.3-.1-1.6 1.4-.8zM508 967.2l-1.7.2-.9-1 1.3-.1zM495.4 940.2l-.6-1.4 1.1-.8 .6 1.2zM454.8 959.3l.1-1.1 .9-.5-.1 1zM504.4 961.2l-1.5-1.6 .7-1.9 1.3 1.5zM490.9 964.3l1.1-1 .9.9-.9.7zM445.3 955.3l-1-.8 .1-.8 .8.4zM484.1 948.8l1-.6 .6.5-.5.6zM512.3 957.8l1.3-1.5 1.3.2-.6 1.1zM514.6 964.2l.3-2.1 1.7.1 0 1.5zM479 942.5l-.6-.6 .2-.7 .4.5zM484.5 965.9l-1-.5-.3-.9 .9.4zM502 950.4l-1.2-.6 .7-.9 1.1.3zM495.8 943.3l-.9 0-.5-.6 .7 0zM476.8 970.7l-.3-1.7 .9-.9 .2 1.2zM467.8 945.5l1.2-.8 .8.5-.7.6zM484.2 963.1l-1.6-1.1 .1-1.6 1.1.9zM506.1 969.8l-1.7.1-.6-1.1 1.2-.2zM476.7 966.7l-1.1-.8-.2-1.3 1 .8zM467.2 953.5l-2 .4-1.1-1.2 1.5-.3zM486.8 939.1l-.1-1.1 .8-.4 .1.9zM515.8 937.2l-.7-.4 0-.7 .6.3zM483.5 961.1l-.4-1.5 .9-.9 .5 1.1zM498.2 966.2l1.8-1.5 1.3 1.3-1.1 1.1zM476.6 967.8l1.5-1.8 1.3 1.4-.9 1.4zM505.2 949.1l-.3-1.8 1.2-.3 .6 1.1zM499.6 936.8l-1.7-.7-.4-1.4 1.4.4zM480.9 977.8l-1 0-.2-.8 .8-.1zM478.4 950.4l0-1.6 1.2.3 .2 1.1zM519.4 961.6l1.1-1.3 1.4.4-.8 1.2zM497.4 972.4l-1 .7-.8-.9 1-.5zM446.4 971.6l1-2.4 2.1 1.1-.8 2.1zM509.4 969.4l.8-2 1.9.1-.7 1.6zM519.8 946.8l-.8-.2-.3-.5 .5.1zM520.2 956.5l-2 0-1.1-1.6 1.9 0zM489.2 969.9l.6-.4 .5.1-.3.3zM474.7 940.4l1-1.1 1 .2-.4.9zM501.1 957l.4-1.4 1-.4-.2 1zM520.3 953.9l-1.2-.3-.2-1.2 1 .4zM454 950.2l.8-.3 .5.3-.5.2zM493.5 951.1l-1.9.8-.7-1.3 1.1-.9zM447.4 937.8l.3-.9 .7.2-.2.5zM455.4 943.6l-.1-1 .7-.4 .3.8zM473.2 975.3l0-1.2 1-.4-.1 1zM508.1 949.6l.7-.6 .4.4-.4.5zM498 944.4l-1.2.2-.3-.9 1-.4zM500.5 964l-1.1-.7 .1-1.1 .9.5zM504.6 970.1l.1-1.6 1.1-.6 0 1.3zM482.7 958.7l-.2-1.6 1.1-.4 .3 1zM508.4 963.4l-1.3-.3 .2-1.2 1.1.2zM502.2 974.2l.5-1.7 1.5-.3-.4 1.4zM475.2 950.7l.8-2.4 2 .6-.5 1.7zM454.7 943.2l-1-1 .6-.9 .8.6zM457.8 961l.3-2 1.8-.2-.2 1.8zM455.2 977.4l-1.7-1.1 .6-1.8 1.4 1zM456.5 943.2l1.7-1.2 2 .4-1.7 1zM486.4 951.5l-.1-1.2 .9-.9 0 1.2zM460.7 961l-1.9.5-1.2-1 1.4-.4zM446.4 944.4l-1.3-.2 .2-1 .8 0zM465.7 956l.8-.4 .5.3-.5.3zM464.1 952.5l-.4-2.5 2.1-.9 .2 2.1zM507 963l-2.2-.7-.3-2.1 1.8.8zM478.6 937.7l-.7-1.2 .5-1 .5.9zM517.2 963.7l1-1.5 1.6.6-1 1.3zM472.3 953.3l-1.8-1.4 .9-2.1 1.7 1.4zM492.4 952.1l-.1-1.2 .9-.8-.1 1.1zM509.6 953.3l.3-1.1 .9-.1-.3.8zM507.5 952.4l-.3-.8 .5-.5 .2.6zM483.7 946.7l1.7-1.7 1.4 1.2-1 1.3zM512.4 935.8l-.6-.7 .1-.7 .5.5zM507.6 972.6l.1-.9 .6-.3-.1.6zM484.6 955.6l.5-1.8 1.4-.6-.4 1.4zM519.9 963.7l-1.6-1.5 .9-1.3 1.1.8zM467.4 949.6l.8-1.6 1.2.1-.3 1.1zM478.8 953.4l.1-1.4 .9-.6-.1 1zM467.3 968.3l-.6-.6 .3-.5 .4.3zM473.9 944.5l-1.8-.7-.3-1.3 1.3.3zM451 977.4l-1.2-.3-.1-.9 .8.1zM499.7 971.6l-1-.4-.1-.7 .8.1zM482.8 942.9l-1.2-1-.1-1.2 .8.8zM511.6 950.8l-.9-1.7 .6-1.3 .7 1.2zM515.8 949.4l.4-2.1 1.6.4 0 1.5zM515.7 974.7l.3-1.5 1.2-.5-.3 1.2zM488.4 972.7l-.2-1 .5-.4 .3.6zM482.8 961.1l-1.6-.1 0-1.1 1-.2zM450.8 937.1l1-.9 .9.2-.5.7zM512.7 937.8l-1.2-1.9 1.4-1.1 1.3 1.2zM458.3 975.1l.2-.9 .8 0-.2.7zM477.1 936.6l-2 .7-1.3-.9 1.4-.6zM514.1 958.1l-.6-1.3 .5-1 .4 1z" fill="#762a92" opacity="0.92" filter="url(#cb)"/>
<rect x="523" y="934" width="77" height="44" fill="#f4f9f1"/>
<rect x="523" y="934" width="77" height="44" filter="url(#spk)" opacity="0.65"/>
<rect x="523" y="934" width="77" height="44" fill="#762a92" filter="url(#fs)" opacity="0.45"/>
<path d="M534.1 957.5l-.8-2 .9-1.7 .6 1.8zM535.4 975.6l-1.6-1.2 1.1-1.2 1.3.7zM533.2 938.7l-1.2-.6 .1-1.1 .8.5zM546.1 959.3l-.6-1.8 1.1-.9 .5 1.3zM593.9 963.2l-1.1.3-1.1-.5 1.1-.2zM530.6 937.3l1.8-1.3 1.1 1.1-.9 1.2zM571.9 975.2l-1.7-1-.3-1.7 1.4.9zM576.2 954.4l.8-.6 .6.4-.5.4zM588 938.5l-1-1 .4-1.2 .9.8zM572 958l-1.5-1.4 0-1.9 1.2 1.3zM554 965.2l-1.4-.1-.2-1 1-.1zM592.3 946.8l-1.1-.1-.4-.7 .8-.1zM592.3 939.3l.3-1.7 1.4-.7-.4 1.4zM535.3 975.2l-2-.4-.6-1.4 1.4.2zM544.5 944.6l.3-.9 1 0-.4.8zM567.3 962.7l.4-1.9 1.2-.5-.2 1.2zM599.6 975.1l-.9-1 .4-1 .7.8zM527.6 939.9l-2.4 0 .1-1.7 1.6-.4zM589.6 977.5l1.5-1.3 2 .1-1.5 1.1zM591.8 938.2l-2.1-.6-.2-1.7 1.7.3zM552.4 936.8l.6-.8 .9 0-.5.6zM598.3 950.3l.5-.9 .7-.2-.2.7zM555.6 972l.9-.7 1 .5-.9.6zM529.5 946.1l-.9-1.1 .4-1.1 .6.9zM527 943.7l.9-.6 .9.3-.8.4zM591.6 971.7l1.2-1.9 1.4.4-.4 1.4zM525.4 942.2l-1.1-.7 .2-.8 .7.3zM575 944.6l-1.6-.8-.1-1.7 1.4.8zM523 938.5l.8-.6 .6.6-.6.6zM560.8 960.3l.2-2.3 2.3.2-.2 2.1zM577.5 972.6l1-.6 .8.3-.7.5zM571.4 964.1l.1-1.2 .8-.1 0 .8zM548.6 971l-.9-.5-.2-.9 .8.4zM595.9 968l-.3-.8 .4-.5 .3.5zM591.7 947.2l-1.5 0-.5-.8 .9-.2zM593.7 975.4l-.7-.2-.2-.5 .6.1zM535 966.6l1.2-1 1.1.6-.8.7zM595.6 963.2l.5-.7 .5.2-.2.5zM573 977.7l-2-.8-.7-1.7 1.7.6zM588.4 952.8l-2-1.6 1.4-1.4 1.6.8zM564 946.8l-1 0-.6-.6 .8-.1zM575.5 971.8l-1.9 1.4-1-1.7 1.3-1.4zM527.7 946.5l-.5-2 .8-1.8 .5 1.9zM590.5 959.6l-.7-1.5 .9-1.1 .5 1.2zM554.8 965.9l0-1.2 .6-.4 .2.7zM592.6 968.4l-1.3-1.1 .3-1.1 1 .6zM572 957.5l.2-1.1 .8-.6-.2 1zM555.1 947l-1.7-.5-.7-1.6 1.6.6zM544.8 940.1l-.3-1.4 1.1-.4 .4 1.1zM546.8 973.5l-.3-.9 .5-.5 .3.5zM531.4 942.3l-1.2-.1-.6-.9 1 .2zM581.5 971.1l-.1-1.9 1.2-1.2 0 1.6zM573.2 955.1l-1.8-1 .5-1.5 1.3.7zM553.9 977.5l-.1-1.5 1.4-.2-.1 1.2zM568.7 952.9l-1.2-1.3 1-1.3 .8 1.2zM576 952.1l.6-1.1 1-.3-.5.8zM581.5 967.6l-.3-2.1 2-.4 0 1.7zM569.3 963.1l-1.5.1-.4-.9 .9-.2zM578.4 949.9l0-.9 .6-.2 .1.6zM534.4 975.2l-1.5-.3-.1-1.1 1 .1zM574.7 942.4l.4-1.2 1.1.1-.4.9zM547 955l-1.6-.6-.5-1.5 1.3.7zM556.4 970.3l-1.6-.4-.3-.9 1-.1zM585.7 939.6l-1-.1-.2-.6 .6-.1zM558.4 942.8l1.1-.9 .9.4-.7.5zM575 973.5l.7-2.2 2 .4-.6 1.7zM553.8 971.3l-1.2-.1-.2-1.1 1.1.1zM534.1 950.4l.3-1.9 1.4-.2 0 1.3zM596 940.1l-1.8-1.5 1.1-1.2 1.4.6zM544.1 950.4l-.5-1.5 .7-1.3 .4 1.4zM548.4 966.8l-.6-1.6 .7-1.4 .5 1.4zM585.6 950.6l.2-2.1 1.5-.7 0 1.6zM558.4 958.5l-.3-1.4 .7-1 .3 1.2zM549 942.3l-1.5-.6 .3-1.2 1.1.3zM551.3 949.3l-1-1 .2-1 .8.6zM581.3 962.1l-1.1.3-.5-.7 .8-.3zM526.6 976.6l-.8-.4 0-.8 .5.4zM524.6 970.7l-.4-1.6 1.2-.3 .4 1zM579.9 958.4l-1.7-1.1 .8-1.7 1.4 1zM527.1 952.8l1.4-1 1.3.3-1 .9zM556 964.1l.8-1.2 1.3-.3-.8 1zM546 943.6l.3-1.3 1-.6-.3 1.1zM546.4 951.6l-1.8.6-1.3-1 1.5-.5zM568 970.5l-2.1.1-1.1-1.3 1.6-.1zM587.5 967.4l.3-1 1-.2-.4.8zM552.8 973.7l-.5-1.6 1.3-.5 .3 1.1zM577.8 941.7l-1.1-1.4 .4-1.4 .8 1zM553.8 944.1l-.6-.8 .2-.9 .4.8zM531.1 957.4l.6-.8 .7.5-.4.7zM579.4 962.1l-1 .3-.7-.5 .9-.2zM542 947.6l-.9-1.8 1.4-.8 .6 1.2zM579.7 946l.1-1.1 .8-.3 0 .8zM535.1 943.1l-1.1-1.4 .9-1.3 .7 1.1zM579.4 968.6l-1.1.5-.8-.9 1.1-.5zM583.6 938.9l.2-1 .9-.1-.2.8zM540.4 971l-1.4-.2 0-1.1 1.1 0zM591.4 944l.4-1.7 1.2-.3-.1 1.2zM536 970.2l-1.4.2-.7-.8 1-.2zM536.3 937.5l-.2-1 .7-.2 .2.6zM532 965.7l-.7.4-.5-.5 .6-.3zM540.5 947.8l-.6-.7 .5-.6 .5.5zM561.8 958.1l.3-1.1 1-.4-.4 1zM554.1 944.1l.8-.8 .9.4-.7.7zM550.3 968.7l-1.7-1.5 .6-2 1.2 1.4zM554.9 937.8l1.2-.9 1.2.9-1.1.8zM595.7 946.1l1.9-.8 1.9.6-1.8.6zM597 951.4l-2.3 0-.6-1.8 1.7.1zM529.8 938.5l-1.3-1.3 .5-1.6 1.1 1.1zM561.2 960.5l-2-.7 .4-1.5 1.3.2zM555.6 972.7l-1.4.5-.9-.8 1.1-.4zM579.7 963.3l-1.5.2-.9-.8 1.2-.1zM541.5 945.4l-1.1-.2-.1-.9 .8.2zM579.2 939.2l.6-.7 .8-.1-.5.7zM528.7 948.5l-1.1-.4-.2-1.1 1 .4zM586 970.9l-.1-1 .6-.3 .3.6zM549.3 968.9l-1.7-1 .6-1.7 1.3.9zM586.2 964.8l-.1-.8 .5-.2 .3.5zM584.5 946.2l1.4-1.2 1.5.2-1.2.9zM581.2 947.8l-.6-1.9 1.1-.8 .6 1.1zM544.6 975.4l-2.4-.2-.5-2.1 2.1.2zM598.2 953.8l1-.6 .6.5-.6.4zM543 962.1l-.3-2.2 1.7-1 .3 1.9zM531.9 952.7l1.2-.5 1 .4-1 .5zM573.4 952l-2.3.8-.9-2 1.9-.6zM553.8 975l1.1-.6 1.1.3-1 .5zM564.3 940.6l-.9-1.3 .4-1.2 .7.9zM566.4 968.7l-.6-2 1.4-1 .3 1.5zM578.8 967l-.9-.6 .3-.9 .8.4zM566.2 943.5l-1.4-1.1 .1-1.3 1 .7zM534.5 936.2l-.3-.8 .3-.5 .2.5zM544.5 951.2l-1-1 .1-1.2 .8.9zM585.5 936l-1.1-.6-.4-1.2 1 .7zM582 938.8l-1 .1-.2-.8 .6-.1zM590.4 977.6l-1.3-.2-.2-.9 .8-.1zM597.6 953.6l0-1.5 .8-.6 0 1zM549.8 954.3l-1.4.1-.7-1 1.1-.1zM527.7 945.5l-1.6-.1-1-1 1.4.2zM549.2 967.4l1.2-.5 .9.4-.9.4zM526.4 975.2l-.4-.8 .5-.3 .3.4zM552.1 970.8l-1.2.5-.7-.9 1-.5zM567.8 960.9l.2-2 1.7-1-.2 2zM588.4 963.9l-2-.2-.3-2 1.8.4zM583.2 960.1l-1.2.4-1-.9 1.2-.1zM537.7 975.9l-1.3-.8 .5-1 .9.4zM537.5 957.5l-1.6-.9-.1-1.1 1 .3zM549.7 949.5l1.6-1.1 1.2.4-1 .7zM592.1 961.2l1.1-1.2 .8.8-.4 1zM588 967.7l.4-1 .7-.3-.2.8zM558.1 959l-1.4-.2-.4-.9 1-.1zM600 961.5l-1-.3-1.1-1.5 1.8.3zM573.4 961l.6-1 .9-.1-.4.6zM569.5 960.4l-.9 0-.5-.7 .9 0zM593.2 968.7l-1.1.8-.7-1 .9-.4zM579.8 944.2l-.7-2.3 2.2-.8 .5 2.2zM531.8 952.8l-1.1-1.6 .7-1.5 .9 1.2zM532.9 938.5l-.4-1.2 .5-.8 .2.8zM566.6 976.7l.8-.9 1.1.5-.8.6zM524.6 940.9l1.4-1.4 1.8.1-1.3 1.1zM536.3 947.2l-1-1 .2-.8 .6.5zM577.7 958.8l-1.4 0-.9-.7 1.2-.1zM571.9 977.5l1-1.5 1.6-.1-1 1.2zM544.1 945.5l-1.3.3-.9-.7 1.1-.4zM533.6 964.1l-2-.6-.6-1.3 1.4.3zM583.5 949.2l-.8-.3-.3-.7 .6.3zM573.6 969.3l.7-1.9 1.3-.3-.3 1.2zM583.8 953.6l-1.3.3-.7-.7 .9-.2zM550.1 951l-.7-.9 .3-1.1 .6.9zM557.1 960.7l-.5-1.1 .9-.6 .2.9zM597.6 959.4l-1.1-1.8 .5-1.8 .8 1.6zM558.5 948.7l.5-2.5 1.8.8 0 1.5zM544.5 974.9l.8-.5 .8.3-.7.4zM554.7 945.2l.6-.8 .9.1-.5.8zM572.7 950.8l1.9-.9 1.3.7-1.2.8z" fill="#762a92" opacity="0.92" filter="url(#cb)"/>
<rect x="602" y="934" width="76" height="44" fill="#fcfef5"/>
<rect x="602" y="934" width="76" height="44" filter="url(#spk)" opacity="0.65"/>
<rect x="602" y="934" width="76" height="44" fill="#762a92" filter="url(#fs)" opacity="0.45"/>
<path d="M640.9 972l-1.5.8-.6-1.4 1.1-.4zM626.4 970.2l-1 .4-.7-.7 .9-.3zM650.5 974.5l-1.6-.1-.2-1.5 1.3.3zM659.3 950.3l-.1-1 .5-.5 .1.6zM673.9 961.1l-.9-.7-.1-.9 .7.6zM645.2 975l-1.2 0-.8-.8 1.1 0zM651.7 956l-.2-1.3 .6-.7 .2.8zM625.4 942.3l-.7-1.8 1.5-.4 .9 1.3zM622.7 964.4l-.5-.8 .1-.8 .4.6zM645.4 947.5l.4-.7 .7-.1-.3.7zM610.1 937.7l-1-1.3 .7-.9 .6.7zM654.7 957.1l.7-.5 .7.3-.6.4zM607.4 951.4l-.8-.6 0-.6 .5.3zM669.8 977.1l.1-1.4 .9-.4 0 .8zM637.9 939.6l1-1.5 1.5.6-.8 1.3zM650.2 973.9l.7-1.4 1.3-.5-.7 1.2zM617.2 942.1l.4-1.9 1.8-.8-.6 1.8zM618.6 950.6l.3-1.3 .9-.5-.1 1zM654.7 957.2l1.6-.7 1.6.5-1.6.7zM634 946.6l1.1-.6 .8.3-.7.4zM673.9 963.6l-1.6.2-.4-1.3 1.2-.2zM653.2 973.3l1.1-.7 1.2.7-1.1.6zM658.9 940.9l-1.2-.1-.3-.9 .9 0zM657.2 956.6l1.9-1 1.2.6-1.1.7zM605.3 941.4l.5-.7 .5.1-.1.5zM605.6 962.6l.9-1.1 1.3.1-.8 1zM667.8 960.4l1.1-1.8 1.8.1-.9 1.5zM617.6 967.4l-1.4-1.3 .4-1.8 1.1 1.3zM660.5 946.4l-.3-1.6 1.2 0 .5 1zM618.9 948.5l-1.1-2.2 2-.6 1.1 1.6zM616.8 938.5l1.2-.8 .7.4-.5.5zM650.7 939.5l.7-1.3 1.2-.3-.6 1.1zM673 971.3l.7-.7 .7.6-.6.5zM624 955.8l.5-.7 .6.1-.3.5zM636.7 960.7l-1.6-.6-.2-1.4 1.2.5zM647.3 973.5l-.5-1.8 1.1-.7 .5 1.1zM607.5 945.1l.5-1.4 1.2-.3-.4 1.2zM634 967.2l-2.2 0 .2-1.7 1.5-.3zM622.8 966l.6-1.6 1.1.6-.2 1.1zM667.4 960.9l1.4-1.3 1.7.3-1.3.9zM640.5 952.3l-2-.6-.3-1.8 1.6.6zM622.4 957.3l-1-1 .3-.9 .6.6zM658.2 965.9l-1.4.2-.5-.8 .8-.3zM638.5 968l-.4-1.6 .9-1.2 .3 1.4zM629.2 948.1l.6-1.3 1.3-.1-.6 1zM606.6 961.3l1.1-1.8 1.6.6-.8 1.2zM673.9 943.2l1.1-1 1.2.3-.9.7zM646.6 975.4l1-.9 .9.2-.6.6zM675.5 953.9l.1-.9 .7-.2 .1.7zM673.6 956.6l.3-1.4 1 .4 0 1zM641.8 974.5l-1 0-.7-.6 .9 0zM620 957.6l-.4-1.3 1-.8 .3 1.2zM629.1 952.3l-.8-1.6 .8-1 .5 1.1zM636.6 950.9l-1.3-1.6 .5-1.8 1.2 1.4zM668.5 957.7l-1.5-1.1 1.1-1.1 1.1.7zM637.4 974.6l0-1.6 1.2-.6 0 1.3zM655 965l-1.9 1.6-1.4-1.9 1.7-1.5zM665.8 957.9l-.6-1.5 .8-1.4 .4 1.5zM643.7 955l.6-1.2 .9-.2-.3.8zM628.5 964.1l1.5-.7 1.4.7-1.4.8zM627.5 956.2l-1.4 0-.6-.8 1-.1zM669.9 966.2l.2-.7 .6-.3-.2.6zM627.9 939.4l-1.3-.8 0-.9 .7.4zM610.2 959l1.3-1.2 1.4.1-.9 1zM675.7 963l-1.7-.6-.6-1.6 1.6.6zM649.5 972.1l.5-.8 .6.1-.2.6zM661.1 964.3l-1-1.6 .7-1.1 .8 1zM634.1 947.6l1.8-.9 1.1.6-.9.6zM642.9 937.9l-.7-.8 .5-.6 .5.4zM659.7 938.3l.7-.6 .9-.1-.7.6zM629.5 938.9l-.6-1 .1-1.1 .5.9zM643.9 945.2l-1.3-1 .7-1.3 1 .9zM665.8 938.2l-.8-.6 0-.7 .6.4zM670.2 935.1l-1.1.2-.6-.7 .8-.1zM625.8 951.2l1.3-1.4 1.9 0-1.3 1.3zM643.8 947.8l-1.1-1.5 .6-1.1 .7.8zM642.3 937.4l-1.7-1.8 1.4-1.6 1.4 1.4zM612.9 959.1l.2-1.6 1.3-.2-.1 1.2zM612.3 968.8l.7-2 1.9.3-.7 1.6zM662.4 935.9l-1.6-.5-.1-1.3 1.1.5zM660.6 953l0-1.3 1.1-.5-.2 1.1zM641.8 947l-1.1-1.2 0-1.7 1 1.3zM625.5 945.9l.6-.8 .7 0-.3.6zM607.6 967.9l-.3-1 .7-.3 .4.6zM670 974.2l1.3-1.1 1.2.6-.9.8zM666.1 964.6l1.2-.7 .9.4-.8.4zM620.3 943.9l-1.3-1-.2-1.6 1.2 1zM630.6 958.7l-1.3-.6-.2-.9 .9.3zM641.1 955.2l-1.8-.3 .1-1.7 1.8.2zM675 949.1l-.2-.8 .4-.6 .1.7zM637 971l.5-.8 .7.3-.3.6zM669.3 964.9l-1.8-.3-.5-1.4 1.3.3zM609 965l-1.5.3-.7-.7 .9-.3zM637.9 973.6l-1.4-1.8 1.4-1.7 1.1 1.7zM635.5 973.8l-1.2 0-.6-.8 1-.1zM633.3 972.1l-.8-1.4 .9-.8 .7.8zM637.2 943.6l-1.3.8-.9-.9 1-.6zM627.8 959.2l-1.4-.5 0-1.1 1 .3zM641.8 966.6l1.2-1.7 1.1 1.2-.5 1.3zM628.1 953.2l.7-1.6 1.3.2-.4 1.1zM641.1 965.3l-1.9.7-.6-1.4 1.2-.6zM672 976.5l.3-.9 .7-.3-.3.7zM667.8 955.5l-1.6.5-.3-1.2 1-.6zM610.2 976.9l-2 .8-.6-1.6 1.3-.7zM617.9 974l-.2-1.1 .8-.6 .2.9zM636.4 948.3l-1.2.4-.2-.9 .7-.4zM668.9 935.8l.7-1.3 1.2-.2-.6 1zM669.7 970.3l.9-.6 .6.5-.6.4zM642.8 965.2l-1.7.7-.5-1.2 .9-.7zM621.8 976.5l.1-2.2 1.7-.7-.2 1.7zM617.6 957l.7-1.2 1 .1-.4.8zM627.5 959.5l-2.3.4-.2-1.8 1.5-.6zM626.4 942.9l.6-2 1.2-.3-.1 1.3zM607.3 938.8l0-.8 .4-.3 0 .5zM621.1 939.6l-.9-.9 .4-.7 .8.3zM669.6 970.6l-.9-.9 .6-.9 .7.7zM637.4 944.1l-1.6.3-.5-.9 .8-.3zM658.9 953.9l-.3-1.9 .9-.8 .3 1zM655.4 956.1l.6-.4 .5.1-.4.4zM648.4 978l.9-1.7 1.6.4-.6 1.3zM621.5 970l-1-.8 0-1.1 .9.6zM612.6 940.9l-.3-.7 .4-.5 .2.5zM623 956.6l-1.6-.9 .1-1.4 1.2.5zM648.9 974.9l-1.2.6-.6-1 .9-.3zM606.6 945.1l.6-1.4 1.3-.3-.4 1.3zM652.1 939l-1.9-.3-1-1.3 1.6.2zM602 953.8l.2-2.1 1.4-.7-.1 1.5zM674.1 939.4l-1.6-.1-.3-1.2 1.2-.1zM613.7 950.5l.2-1.3 1.2-.1-.2 1zM630.1 976.2l-1.4-1.1 1.1-.9 1.1.6zM655.2 953.6l-1.7-.5 0-1.6 1.5.4zM608.6 969.4l-1.4-.3-.4-.9 .9.1zM674.3 977.5l-.9.1-.2-.5 .5-.2zM663 974.1l.7-2.1 1.4-.1-.2 1.3zM646 969.5l-.1-1.5 .8-.6 .2.9zM611.5 964.6l-.2-1.1 .6-.6 .2.8zM639.1 954.5l-1-1.2 .8-.8 1 .6zM667 957.4l-1.4-1.2 .3-1.8 1.3 1.1zM676.8 973.3l-.4-1 .7-.5 .4.7zM669 972.3l-1.3-1.8 1.3-.9 .9 1zM656 972.2l.9-.7 1.2.2-.9.7zM650.9 957l-.8-.9 .4-1.1 .8.9zM661.2 938.3l-1.2-1.7 1-1.4 1 1.3zM632.1 976.9l-.9-.6 .1-.8 .6.3zM658 967.9l-2.4.5-.3-1.8 1.4-.6zM624.3 968.8l-1.3 0-.9-.7 1.1 0zM624.8 977.7l1.2-1.4 1.3.3-.8.9zM620 954.9l-.6-.9 .7-.9 .5.9zM667.9 938.1l-1.4.1-.2-1.1 1-.1zM636 960.2l-1.6.9-.6-1.3 1.1-1zM652.2 964.7l.8-.8 1 0-.7.7zM669.3 967.8l.9-.5 .5.2-.4.4zM633.9 960.3l.5-.8 .7-.1-.4.6zM665.6 969.3l-.7-.4 0-.6 .5.2zM627.1 936.5l0-1.8 1.1-.6 .2 1.2zM668.1 957.7l-.7-2.6 2.4-.7 .7 2.2zM605.8 950.6l-.4-1.1 .7-1 .3 1.1zM624 978l.3-1.4 1.6-.2-.3 1.5zM669.8 954.2l-.1-1.8 1.2-.6 .1 1.2zM607.3 954.6l-1.9-1 .2-1.4 1.2.4zM637.8 945.8l.6-1.5 1-.1-.2.9zM625.2 978l-1.1-.7 .6-1.4 1 1.1zM608.9 977.9l-2.1-.6-.2-1.9 1.8.5zM616.7 953.5l-1.8 0-.8-1.5 1.7-.1zM614.9 966.3l.8-.6 .7.6-.7.4zM675.1 962.6l-1.4-.4-.5-1 1.1.2zM674.9 936.6l-1.6.2-1.2-1 1.6-.2zM663.2 955.5l-1.8.2-1.1-1.1 1.5 0zM627 959.6l-.4-2.3 1.6-.4 .3 1.3zM620.6 957.5l.3-1.7 1.4-.9-.4 1.6zM655.6 944.4l1.6-1 1.7.7-1.6.7zM627.9 947.3l-1.8-1.5 1.3-1.1 1.1.7zM674.9 959.9l1.1-.6 .6.4-.6.4zM654.7 936.9l-1 .3-.3-1 .8-.1zM671.8 965.8l-1.3-.4 .1-1 1 .1zM671.6 940.4l.4-1.4 1.3.2-.3 1.2zM670.1 973.6l.7-1.1 1.2.1-.6 1zM632.5 948.7l-1.4-.8 0-1 .9.2zM629.2 947.2l-.9-2 1.3-1.6 .6 1.8zM644.4 955.5l-1.2-.3-.6-.9 1 .2zM628.7 964.9l-1.1-.3 0-.8 .8 0zM631.9 975.4l-.8-.3 0-.6 .5.2zM666.6 944.3l-.2-1.2 .5-.5 .2.6zM661.6 976.2l-1.9-.2 .3-1.6 1.5 0zM672.1 947.2l1.8-.8 1.1.8-1 .7zM674.2 940.7l.8-1.8 1.3-.1-.3 1.2zM620.5 959.6l1.2-1.7 1.2.2-.4 1.1zM665.5 960l-1.5.1 0-1.1 .9-.3zM610.4 961.9l-.8.2-.5-.3 .5-.2zM626.4 952.3l-.1-2.2 1.9.1-.1 1.5zM678 973.8l-.8.5-1.2-.7 1.3-.5zM607 938.8l-1.1.2-.5-.8 .9-.2zM658.9 951.3l.1-1.4 1-.4 0 1.1zM661.3 955.2l-.2-.9 .7-.4 .3.7zM649.6 947.5l-.6-2.1 1.1-.9 .5 1.2zM676.1 963.6l1-1.1 .9.3-.5.9zM614.6 967.1l-1.4.6-.8-.9 1-.6zM636.9 939.3l-1.1-.1-.1-.9 .8.2zM662.6 954.2l-.4-1.7 1.6-.6 .3 1.6zM632.4 967.2l-1.4-.3-.5-1.3 1.3.4zM604.7 977.5l-1 .3-.6-.6 .7-.3zM655.1 958.2l.8-.9 .7.3-.3.6zM635.4 942.2l-.2-.9 .4-.6 .2.6zM670.3 957l-.5-1.1 .5-.8 .4.8zM620.2 971.2l.6-1 .8 0-.4.6zM606.8 962l1.3-.6 1.2.6-1.1.6zM658 975l-1.4-.7-.3-1.2 1 .5zM648.7 973.1l.4-2 1.3-.4-.1 1.3zM619.6 968.4l1.6-1.6 1.5 1.3-1.3 1.1zM672.8 958.1l1.1-1.7 1.9.5-1.1 1.4zM632.8 974.7l.8-1 1.2 0-.8.9zM630.4 971l-1.5.7-.8-1.1 1.1-.8zM661.8 958.3l-2.1 1.3-1.3-1.6 1.5-.8zM646.1 945.6l-1.8.8-.9-1 1-.8zM629.4 940.8l-.9-1.1 .1-1.1 .8.8z" fill="#762a92" opacity="0.92" filter="url(#cb)"/>
<path d="M659.7 972L677.4 972" stroke="#000" stroke-width="1.6"/>
<text x="1.3" y="1015.8" font-size="18" text-anchor="start" fill="#000">M</text>
<path d="M54.9 1073.1L54.9 1001.05" stroke="#000" stroke-width="1"/>
<path d="M51.9 1072.6L54.9 1072.6" stroke="#000" stroke-width="1"/>
<text x="51.1" y="1075.17" font-size="7.8" text-anchor="end" fill="#000">0.0</text>
<path d="M51.9 1058.35L54.9 1058.35" stroke="#000" stroke-width="1"/>
<text x="51.1" y="1060.92" font-size="7.8" text-anchor="end" fill="#000">0.5</text>
<path d="M51.9 1044.1L54.9 1044.1" stroke="#000" stroke-width="1"/>
<text x="51.1" y="1046.67" font-size="7.8" text-anchor="end" fill="#000">1.0</text>
<path d="M51.9 1029.85L54.9 1029.85" stroke="#000" stroke-width="1"/>
<text x="51.1" y="1032.42" font-size="7.8" text-anchor="end" fill="#000">1.5</text>
<path d="M51.9 1015.6L54.9 1015.6" stroke="#000" stroke-width="1"/>
<text x="51.1" y="1018.17" font-size="7.8" text-anchor="end" fill="#000">2.0</text>
<path d="M51.9 1001.35L54.9 1001.35" stroke="#000" stroke-width="1"/>
<text x="51.1" y="1003.92" font-size="7.8" text-anchor="end" fill="#000">2.5</text>
<path d="M54.4 1072.6L134.1 1072.6" stroke="#000" stroke-width="1.1"/>
<rect x="62.6" y="1044.1" width="11.5" height="28.5" fill="#000000"/>
<path d="M68.35 1044.1V1043.53M64.9 1043.53h6.9" stroke="#000000" stroke-width="0.9"/>
<path d="M68.35 1072.6L68.35 1074.6" stroke="#000" stroke-width="0.8"/>
<rect x="80.5" y="1015.6" width="11.5" height="57" fill="#ff0000"/>
<path d="M86.25 1015.6V1009.33M82.8 1009.33h6.9" stroke="#ff0000" stroke-width="0.9"/>
<path d="M86.25 1072.6L86.25 1074.6" stroke="#000" stroke-width="0.8"/>
<rect x="98.4" y="1049.8" width="11.5" height="22.8" fill="#0000ff"/>
<path d="M104.15 1049.8V1047.8M100.7 1047.8h6.9" stroke="#0000ff" stroke-width="0.9"/>
<path d="M104.15 1072.6L104.15 1074.6" stroke="#000" stroke-width="0.8"/>
<rect x="116.3" y="1030.7" width="11.5" height="41.89" fill="#ffff00"/>
<path d="M122.05 1030.7V1025.86M118.6 1025.86h6.9" stroke="#ffff00" stroke-width="0.9"/>
<path d="M122.05 1072.6L122.05 1074.6" stroke="#000" stroke-width="0.8"/>
<path d="M68.35 1008V1006.2H86.25 V1008" stroke="#000" stroke-width="1" fill="none"/>
<use href="#s2" x="73.4" y="1001.7"/>
<use href="#s2" x="77.3" y="1001.7"/>
<use href="#s2" x="81.2" y="1001.7"/>
<path d="M68.35 1000.6V998.8H104.15 V1000.6" stroke="#000" stroke-width="1" fill="none"/>
<text x="86.25" y="996" font-size="6" text-anchor="middle" fill="#000" font-weight="normal">ns</text>
<path d="M86.25 992.1V990.3H122.05 V992.1" stroke="#000" stroke-width="1" fill="none"/>
<use href="#s2" x="102.2" y="985.8"/>
<use href="#s2" x="106.1" y="985.8"/>
<path d="M104.15 1024.1V1022.3H122.05 V1024.1" stroke="#000" stroke-width="1" fill="none"/>
<use href="#s2" x="111.15" y="1017.8"/>
<use href="#s2" x="115.05" y="1017.8"/>
<text x="27.6" y="1037.64" font-size="8" text-anchor="middle" fill="#000" transform="rotate(-90 27.6 1035)">Relative numbers of</text>
<text x="36.3" y="1037.64" font-size="8" text-anchor="middle" fill="#000" transform="rotate(-90 36.3 1035)">Migrated cells</text>
<text x="57.5" y="1086.14" font-size="7.7" text-anchor="end" fill="#000">DMSO</text>
<text x="57.5" y="1094.34" font-size="7.7" text-anchor="end" fill="#000">Rapamycin</text>
<text x="57.5" y="1103.24" font-size="7.7" text-anchor="end" fill="#000">LV-NC</text>
<text x="57.5" y="1111.64" font-size="7.7" text-anchor="end" fill="#000">LV-PTK6</text>
<path d="M66.05 1083.6h4.6M68.35 1081.3v4.6" stroke="#000" stroke-width="0.9"/>
<path d="M83.95 1083.6h4.6M86.25 1081.3v4.6" stroke="#000" stroke-width="0.9"/>
<path d="M101.85 1083.6h4.6" stroke="#000" stroke-width="0.9"/>
<path d="M119.75 1083.6h4.6" stroke="#000" stroke-width="0.9"/>
<path d="M66.05 1091.8h4.6" stroke="#000" stroke-width="0.9"/>
<path d="M83.95 1091.8h4.6" stroke="#000" stroke-width="0.9"/>
<path d="M101.85 1091.8h4.6M104.15 1089.5v4.6" stroke="#000" stroke-width="0.9"/>
<path d="M119.75 1091.8h4.6M122.05 1089.5v4.6" stroke="#000" stroke-width="0.9"/>
<path d="M66.05 1100.7h4.6M68.35 1098.4v4.6" stroke="#000" stroke-width="0.9"/>
<path d="M83.95 1100.7h4.6" stroke="#000" stroke-width="0.9"/>
<path d="M101.85 1100.7h4.6M104.15 1098.4v4.6" stroke="#000" stroke-width="0.9"/>
<path d="M119.75 1100.7h4.6" stroke="#000" stroke-width="0.9"/>
<path d="M66.05 1109.1h4.6" stroke="#000" stroke-width="0.9"/>
<path d="M83.95 1109.1h4.6M86.25 1106.8v4.6" stroke="#000" stroke-width="0.9"/>
<path d="M101.85 1109.1h4.6" stroke="#000" stroke-width="0.9"/>
<path d="M119.75 1109.1h4.6M122.05 1106.8v4.6" stroke="#000" stroke-width="0.9"/>
<text x="175.5" y="1015.8" font-size="18" text-anchor="start" fill="#000">N</text>
<path d="M228 1076.1L228 1005.67" stroke="#000" stroke-width="1"/>
<path d="M225 1075.6L228 1075.6" stroke="#000" stroke-width="1"/>
<text x="224.2" y="1078.17" font-size="7.8" text-anchor="end" fill="#000">0.0</text>
<path d="M225 1061.67L228 1061.67" stroke="#000" stroke-width="1"/>
<text x="224.2" y="1064.25" font-size="7.8" text-anchor="end" fill="#000">0.5</text>
<path d="M225 1047.75L228 1047.75" stroke="#000" stroke-width="1"/>
<text x="224.2" y="1050.32" font-size="7.8" text-anchor="end" fill="#000">1.0</text>
<path d="M225 1033.82L228 1033.82" stroke="#000" stroke-width="1"/>
<text x="224.2" y="1036.4" font-size="7.8" text-anchor="end" fill="#000">1.5</text>
<path d="M225 1019.9L228 1019.9" stroke="#000" stroke-width="1"/>
<text x="224.2" y="1022.47" font-size="7.8" text-anchor="end" fill="#000">2.0</text>
<path d="M225 1005.97L228 1005.97" stroke="#000" stroke-width="1"/>
<text x="224.2" y="1008.55" font-size="7.8" text-anchor="end" fill="#000">2.5</text>
<path d="M227.5 1075.6L305.6 1075.6" stroke="#000" stroke-width="1.1"/>
<rect x="235.4" y="1047.75" width="11.7" height="27.85" fill="#000000"/>
<path d="M241.25 1047.75V1047.19M237.74 1047.19h7.02" stroke="#000000" stroke-width="0.9"/>
<path d="M241.25 1075.6L241.25 1077.6" stroke="#000" stroke-width="0.8"/>
<rect x="253" y="1021.29" width="11.7" height="54.31" fill="#ff0000"/>
<path d="M258.85 1021.29V1011.54M255.34 1011.54h7.02" stroke="#ff0000" stroke-width="0.9"/>
<path d="M258.85 1075.6L258.85 1077.6" stroke="#000" stroke-width="0.8"/>
<rect x="270.6" y="1054.71" width="11.7" height="20.89" fill="#0000ff"/>
<path d="M276.45 1054.71V1053.32M272.94 1053.32h7.02" stroke="#0000ff" stroke-width="0.9"/>
<path d="M276.45 1075.6L276.45 1077.6" stroke="#000" stroke-width="0.8"/>
<rect x="288.2" y="1034.38" width="11.7" height="41.22" fill="#ffff00"/>
<path d="M294.05 1034.38V1030.2M290.54 1030.2h7.02" stroke="#ffff00" stroke-width="0.9"/>
<path d="M294.05 1075.6L294.05 1077.6" stroke="#000" stroke-width="0.8"/>
<path d="M241.25 1010.4V1008.6H258.85 V1010.4" stroke="#000" stroke-width="1" fill="none"/>
<use href="#s2" x="248.1" y="1004.1"/>
<use href="#s2" x="252" y="1004.1"/>
<path d="M241.25 1002.5V1000.7H276.45 V1002.5" stroke="#000" stroke-width="1" fill="none"/>
<text x="258.85" y="997.9" font-size="6" text-anchor="middle" fill="#000" font-weight="normal">ns</text>
<path d="M258.85 994.7V992.9H294.05 V994.7" stroke="#000" stroke-width="1" fill="none"/>
<text x="276.45" y="990.1" font-size="6" text-anchor="middle" fill="#000" font-weight="normal">ns</text>
<path d="M276.45 1027.2V1025.4H294.05 V1027.2" stroke="#000" stroke-width="1" fill="none"/>
<use href="#s2" x="283.3" y="1020.9"/>
<use href="#s2" x="287.2" y="1020.9"/>
<text x="199.2" y="1042.04" font-size="8" text-anchor="middle" fill="#000" transform="rotate(-90 199.2 1039.4)">Relative numbers of</text>
<text x="209.7" y="1042.04" font-size="8" text-anchor="middle" fill="#000" transform="rotate(-90 209.7 1039.4)">Invaded cells</text>
<text x="230.2" y="1088.44" font-size="7.7" text-anchor="end" fill="#000">DMSO</text>
<text x="230.2" y="1097.04" font-size="7.7" text-anchor="end" fill="#000">Rapamycin</text>
<text x="230.2" y="1106.24" font-size="7.7" text-anchor="end" fill="#000">LV-NC</text>
<text x="230.2" y="1114.74" font-size="7.7" text-anchor="end" fill="#000">LV-PTK6</text>
<path d="M238.95 1085.9h4.6M241.25 1083.6v4.6" stroke="#000" stroke-width="0.9"/>
<path d="M256.55 1085.9h4.6M258.85 1083.6v4.6" stroke="#000" stroke-width="0.9"/>
<path d="M274.15 1085.9h4.6" stroke="#000" stroke-width="0.9"/>
<path d="M291.75 1085.9h4.6" stroke="#000" stroke-width="0.9"/>
<path d="M238.95 1094.5h4.6" stroke="#000" stroke-width="0.9"/>
<path d="M256.55 1094.5h4.6" stroke="#000" stroke-width="0.9"/>
<path d="M274.15 1094.5h4.6M276.45 1092.2v4.6" stroke="#000" stroke-width="0.9"/>
<path d="M291.75 1094.5h4.6M294.05 1092.2v4.6" stroke="#000" stroke-width="0.9"/>
<path d="M238.95 1103.7h4.6M241.25 1101.4v4.6" stroke="#000" stroke-width="0.9"/>
<path d="M256.55 1103.7h4.6" stroke="#000" stroke-width="0.9"/>
<path d="M274.15 1103.7h4.6M276.45 1101.4v4.6" stroke="#000" stroke-width="0.9"/>
<path d="M291.75 1103.7h4.6" stroke="#000" stroke-width="0.9"/>
<path d="M238.95 1112.2h4.6" stroke="#000" stroke-width="0.9"/>
<path d="M256.55 1112.2h4.6M258.85 1109.9v4.6" stroke="#000" stroke-width="0.9"/>
<path d="M274.15 1112.2h4.6" stroke="#000" stroke-width="0.9"/>
<path d="M291.75 1112.2h4.6M294.05 1109.9v4.6" stroke="#000" stroke-width="0.9"/>
<text x="346.6" y="1015.8" font-size="18" text-anchor="start" fill="#000">M’</text>
<path d="M409.6 1079.3L409.6 1008.88" stroke="#000" stroke-width="1"/>
<path d="M406.6 1078.8L409.6 1078.8" stroke="#000" stroke-width="1"/>
<text x="405.8" y="1081.37" font-size="7.8" text-anchor="end" fill="#000">0.0</text>
<path d="M406.6 1064.88L409.6 1064.88" stroke="#000" stroke-width="1"/>
<text x="405.8" y="1067.45" font-size="7.8" text-anchor="end" fill="#000">0.5</text>
<path d="M406.6 1050.95L409.6 1050.95" stroke="#000" stroke-width="1"/>
<text x="405.8" y="1053.52" font-size="7.8" text-anchor="end" fill="#000">1.0</text>
<path d="M406.6 1037.02L409.6 1037.02" stroke="#000" stroke-width="1"/>
<text x="405.8" y="1039.6" font-size="7.8" text-anchor="end" fill="#000">1.5</text>
<path d="M406.6 1023.1L409.6 1023.1" stroke="#000" stroke-width="1"/>
<text x="405.8" y="1025.67" font-size="7.8" text-anchor="end" fill="#000">2.0</text>
<path d="M406.6 1009.17L409.6 1009.17" stroke="#000" stroke-width="1"/>
<text x="405.8" y="1011.75" font-size="7.8" text-anchor="end" fill="#000">2.5</text>
<path d="M409.1 1078.8L485.8 1078.8" stroke="#000" stroke-width="1.1"/>
<rect x="416.2" y="1050.95" width="11.8" height="27.85" fill="#000000"/>
<path d="M422.1 1050.95V1050.39M418.56 1050.39h7.08" stroke="#000000" stroke-width="0.9"/>
<path d="M422.1 1078.8L422.1 1080.8" stroke="#000" stroke-width="0.8"/>
<rect x="433.7" y="1023.94" width="11.8" height="54.86" fill="#ff0000"/>
<path d="M439.6 1023.94V1018.37M436.06 1018.37h7.08" stroke="#ff0000" stroke-width="0.9"/>
<path d="M439.6 1078.8L439.6 1080.8" stroke="#000" stroke-width="0.8"/>
<rect x="451.2" y="1062.93" width="11.8" height="15.87" fill="#0000ff"/>
<path d="M457.1 1062.93V1062.09M453.56 1062.09h7.08" stroke="#0000ff" stroke-width="0.9"/>
<path d="M457.1 1078.8L457.1 1080.8" stroke="#000" stroke-width="0.8"/>
<rect x="468.7" y="1036.19" width="11.8" height="42.61" fill="#ffff00"/>
<path d="M474.6 1036.19V1032.01M471.06 1032.01h7.08" stroke="#ffff00" stroke-width="0.9"/>
<path d="M474.6 1078.8L474.6 1080.8" stroke="#000" stroke-width="0.8"/>
<path d="M422.1 1016.8V1015H439.6 V1016.8" stroke="#000" stroke-width="1" fill="none"/>
<use href="#s2" x="426.95" y="1010.5"/>
<use href="#s2" x="430.85" y="1010.5"/>
<use href="#s2" x="434.75" y="1010.5"/>
<path d="M422.1 1009.1V1007.3H457.1 V1009.1" stroke="#000" stroke-width="1" fill="none"/>
<use href="#s2" x="439.6" y="1002.8"/>
<path d="M439.6 1001.8V1000H474.6 V1001.8" stroke="#000" stroke-width="1" fill="none"/>
<use href="#s2" x="457.1" y="995.5"/>
<path d="M457.1 1030.7V1028.9H474.6 V1030.7" stroke="#000" stroke-width="1" fill="none"/>
<use href="#s2" x="461.95" y="1024.4"/>
<use href="#s2" x="465.85" y="1024.4"/>
<use href="#s2" x="469.75" y="1024.4"/>
<text x="381.3" y="1044.64" font-size="8" text-anchor="middle" fill="#000" transform="rotate(-90 381.3 1042)">Relative numbers of</text>
<text x="391.2" y="1044.64" font-size="8" text-anchor="middle" fill="#000" transform="rotate(-90 391.2 1042)">Migrated cells</text>
<text x="411" y="1090.04" font-size="7.7" text-anchor="end" fill="#000">DMSO</text>
<text x="411" y="1098.94" font-size="7.7" text-anchor="end" fill="#000">Rapamycin</text>
<text x="411" y="1107.54" font-size="7.7" text-anchor="end" fill="#000">LV-NC</text>
<text x="411" y="1116.24" font-size="7.7" text-anchor="end" fill="#000">LV-PTK6</text>
<path d="M419.8 1087.5h4.6M422.1 1085.2v4.6" stroke="#000" stroke-width="0.9"/>
<path d="M437.3 1087.5h4.6M439.6 1085.2v4.6" stroke="#000" stroke-width="0.9"/>
<path d="M454.8 1087.5h4.6" stroke="#000" stroke-width="0.9"/>
<path d="M472.3 1087.5h4.6" stroke="#000" stroke-width="0.9"/>
<path d="M419.8 1096.4h4.6" stroke="#000" stroke-width="0.9"/>
<path d="M437.3 1096.4h4.6" stroke="#000" stroke-width="0.9"/>
<path d="M454.8 1096.4h4.6M457.1 1094.1v4.6" stroke="#000" stroke-width="0.9"/>
<path d="M472.3 1096.4h4.6M474.6 1094.1v4.6" stroke="#000" stroke-width="0.9"/>
<path d="M419.8 1105h4.6M422.1 1102.7v4.6" stroke="#000" stroke-width="0.9"/>
<path d="M437.3 1105h4.6" stroke="#000" stroke-width="0.9"/>
<path d="M454.8 1105h4.6M457.1 1102.7v4.6" stroke="#000" stroke-width="0.9"/>
<path d="M472.3 1105h4.6" stroke="#000" stroke-width="0.9"/>
<path d="M419.8 1113.7h4.6" stroke="#000" stroke-width="0.9"/>
<path d="M437.3 1113.7h4.6M439.6 1111.4v4.6" stroke="#000" stroke-width="0.9"/>
<path d="M454.8 1113.7h4.6" stroke="#000" stroke-width="0.9"/>
<path d="M472.3 1113.7h4.6M474.6 1111.4v4.6" stroke="#000" stroke-width="0.9"/>
<text x="533.4" y="1015.8" font-size="18" text-anchor="start" fill="#000">N’</text>
<path d="M595.6 1077.5L595.6 1006.7" stroke="#000" stroke-width="1"/>
<path d="M592.6 1077L595.6 1077" stroke="#000" stroke-width="1"/>
<text x="591.8" y="1079.57" font-size="7.8" text-anchor="end" fill="#000">0.0</text>
<path d="M592.6 1063L595.6 1063" stroke="#000" stroke-width="1"/>
<text x="591.8" y="1065.57" font-size="7.8" text-anchor="end" fill="#000">0.5</text>
<path d="M592.6 1049L595.6 1049" stroke="#000" stroke-width="1"/>
<text x="591.8" y="1051.57" font-size="7.8" text-anchor="end" fill="#000">1.0</text>
<path d="M592.6 1035L595.6 1035" stroke="#000" stroke-width="1"/>
<text x="591.8" y="1037.57" font-size="7.8" text-anchor="end" fill="#000">1.5</text>
<path d="M592.6 1021L595.6 1021" stroke="#000" stroke-width="1"/>
<text x="591.8" y="1023.57" font-size="7.8" text-anchor="end" fill="#000">2.0</text>
<path d="M592.6 1007L595.6 1007" stroke="#000" stroke-width="1"/>
<text x="591.8" y="1009.57" font-size="7.8" text-anchor="end" fill="#000">2.5</text>
<path d="M595.1 1077L673.2 1077" stroke="#000" stroke-width="1.1"/>
<rect x="602.2" y="1049" width="11.8" height="28" fill="#000000"/>
<path d="M608.1 1049V1048.44M604.56 1048.44h7.08" stroke="#000000" stroke-width="0.9"/>
<path d="M608.1 1077L608.1 1079" stroke="#000" stroke-width="0.8"/>
<rect x="619.7" y="1028" width="11.8" height="49" fill="#ff0000"/>
<path d="M625.6 1028V1020.44M622.06 1020.44h7.08" stroke="#ff0000" stroke-width="0.9"/>
<path d="M625.6 1077L625.6 1079" stroke="#000" stroke-width="0.8"/>
<rect x="637.2" y="1059.64" width="11.8" height="17.36" fill="#0000ff"/>
<path d="M643.1 1059.64V1058.24M639.56 1058.24h7.08" stroke="#0000ff" stroke-width="0.9"/>
<path d="M643.1 1077L643.1 1079" stroke="#000" stroke-width="0.8"/>
<rect x="654.7" y="1043.96" width="11.8" height="33.04" fill="#ffff00"/>
<path d="M660.6 1043.96V1041.72M657.06 1041.72h7.08" stroke="#ffff00" stroke-width="0.9"/>
<path d="M660.6 1077L660.6 1079" stroke="#000" stroke-width="0.8"/>
<path d="M608.1 1018.8V1017H625.6 V1018.8" stroke="#000" stroke-width="1" fill="none"/>
<use href="#s2" x="612.95" y="1012.5"/>
<use href="#s2" x="616.85" y="1012.5"/>
<use href="#s2" x="620.75" y="1012.5"/>
<path d="M608.1 1011.8V1010H643.1 V1011.8" stroke="#000" stroke-width="1" fill="none"/>
<use href="#s2" x="625.6" y="1005.5"/>
<path d="M625.6 1003.8V1002H660.6 V1003.8" stroke="#000" stroke-width="1" fill="none"/>
<use href="#s2" x="641.15" y="997.5"/>
<use href="#s2" x="645.05" y="997.5"/>
<path d="M643.1 1039.8V1038H660.6 V1039.8" stroke="#000" stroke-width="1" fill="none"/>
<use href="#s2" x="649.9" y="1033.5"/>
<use href="#s2" x="653.8" y="1033.5"/>
<text x="567.3" y="1043.34" font-size="8" text-anchor="middle" fill="#000" transform="rotate(-90 567.3 1040.7)">Relative numbers of</text>
<text x="576.7" y="1043.34" font-size="8" text-anchor="middle" fill="#000" transform="rotate(-90 576.7 1040.7)">Invaded cells</text>
<text x="597.5" y="1089.24" font-size="7.7" text-anchor="end" fill="#000">DMSO</text>
<text x="597.5" y="1097.04" font-size="7.7" text-anchor="end" fill="#000">Rapamycin</text>
<text x="597.5" y="1106.24" font-size="7.7" text-anchor="end" fill="#000">LV-NC</text>
<text x="597.5" y="1114.74" font-size="7.7" text-anchor="end" fill="#000">LV-PTK6</text>
<path d="M605.8 1086.7h4.6M608.1 1084.4v4.6" stroke="#000" stroke-width="0.9"/>
<path d="M623.3 1086.7h4.6M625.6 1084.4v4.6" stroke="#000" stroke-width="0.9"/>
<path d="M640.8 1086.7h4.6" stroke="#000" stroke-width="0.9"/>
<path d="M658.3 1086.7h4.6" stroke="#000" stroke-width="0.9"/>
<path d="M605.8 1094.5h4.6" stroke="#000" stroke-width="0.9"/>
<path d="M623.3 1094.5h4.6" stroke="#000" stroke-width="0.9"/>
<path d="M640.8 1094.5h4.6M643.1 1092.2v4.6" stroke="#000" stroke-width="0.9"/>
<path d="M658.3 1094.5h4.6M660.6 1092.2v4.6" stroke="#000" stroke-width="0.9"/>
<path d="M605.8 1103.7h4.6M608.1 1101.4v4.6" stroke="#000" stroke-width="0.9"/>
<path d="M623.3 1103.7h4.6" stroke="#000" stroke-width="0.9"/>
<path d="M640.8 1103.7h4.6M643.1 1101.4v4.6" stroke="#000" stroke-width="0.9"/>
<path d="M658.3 1103.7h4.6" stroke="#000" stroke-width="0.9"/>
<path d="M605.8 1112.2h4.6" stroke="#000" stroke-width="0.9"/>
<path d="M623.3 1112.2h4.6M625.6 1109.9v4.6" stroke="#000" stroke-width="0.9"/>
<path d="M640.8 1112.2h4.6" stroke="#000" stroke-width="0.9"/>
<path d="M658.3 1112.2h4.6M660.6 1109.9v4.6" stroke="#000" stroke-width="0.9"/>
</svg></body></html>
